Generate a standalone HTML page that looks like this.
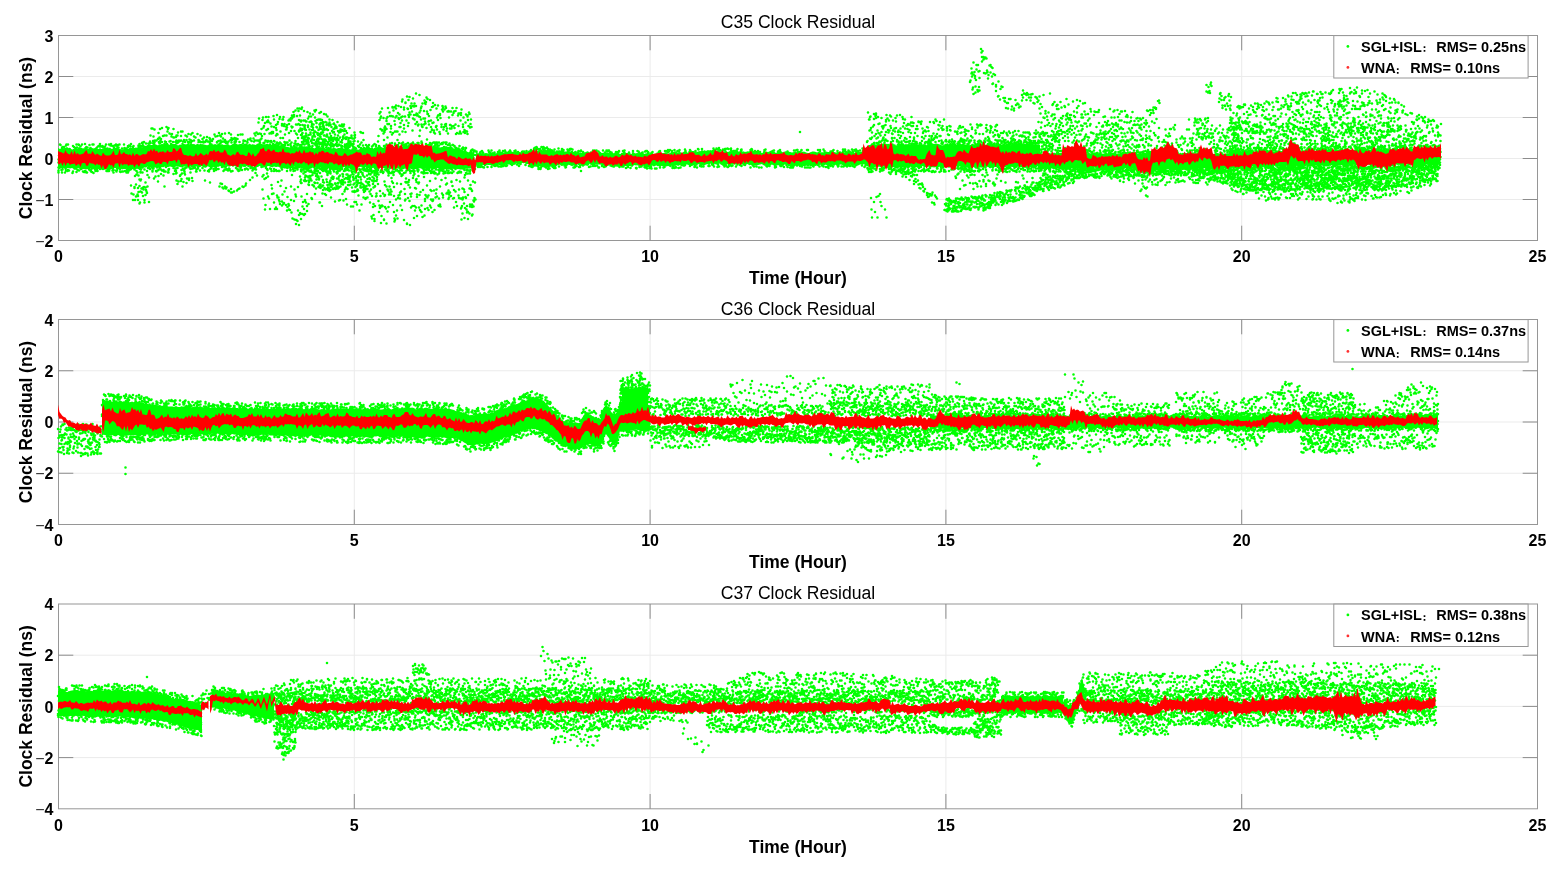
<!DOCTYPE html>
<html><head><meta charset="utf-8"><title>Clock Residual</title><style>
*{margin:0;padding:0}
html,body{width:1558px;height:871px;overflow:hidden;background:#fff}
svg{display:block}
text{fill:#000}
.tl{font:bold 16px 'Liberation Sans','Noto Sans CJK SC',sans-serif}
.ti{font:17.6px 'Liberation Sans','Noto Sans CJK SC',sans-serif}
.xl{font:bold 17.5px 'Liberation Sans','Noto Sans CJK SC',sans-serif}
.mn{font-weight:normal;fill:#333}
.cc{font:bold 10.5px 'IPAGothic','Noto Sans CJK JP',sans-serif}
.lg{font:bold 14.5px 'Liberation Sans','Noto Sans CJK SC',sans-serif}
</style></head>
<body><svg width="1558" height="871" viewBox="0 0 1558 871">
<rect width="1558" height="871" fill="#fff"/>
<path d="M354.3 35.5V240.5M650.1 35.5V240.5M945.9 35.5V240.5M1241.7 35.5V240.5M58.5 76.50H1537.5M58.5 117.50H1537.5M58.5 158.50H1537.5M58.5 199.50H1537.5" stroke="#ebebeb" stroke-width="1" fill="none"/>
<rect x="58.5" y="35.5" width="1479.0" height="205.0" fill="none" stroke="#969696" stroke-width="1"/>
<path d="M354.3 240.5v-14.8M354.3 35.5v14.8M650.1 240.5v-14.8M650.1 35.5v14.8M945.9 240.5v-14.8M945.9 35.5v14.8M1241.7 240.5v-14.8M1241.7 35.5v14.8M58.5 76.50h14.8M1537.5 76.50h-14.8M58.5 117.50h14.8M1537.5 117.50h-14.8M58.5 158.50h14.8M1537.5 158.50h-14.8M58.5 199.50h14.8M1537.5 199.50h-14.8" stroke="#8c8c8c" stroke-width="1" fill="none"/>
<path transform="scale(.5)" d="M116 296l4 2 4-2 4 1 4-2 4 2 4 0 4 2 4 0 4-2 4 1 4-2 4 0 4 3 4-4 4 3 4-3 4 1 4 1 4-1 4 2 4 0 4 0 4 0 4-3 4 2 4-2 4 4 4-4 4 2 4-1 4 2 4 1 4-1 4-2 4 2 4-3 4 1 4 0 4-1 4 1 4-3 4 2 4-4 4 1 4-3 4 1 4 0 4-2 4 1 4 2 4-2 4-1 4 1 4 1 4-1 4 1 4-2 4 0 4 0 4 3 4-2 4 1 4 1 4-2 4 1 4 0 4-1 4-1 4 2 4-1 4 1 4-1 4 0 4 1 4 1 4-1 4-1 4 0 4 1 4-2 4 3 4-3 4 3 4-2 4-1 4 3 4-2 4-1 4 0 4 1 4-1 4 0 4 2 4-1 4 1 4-1 4 1 4-1 4 1 4-1 4 1 4-1 4 0 4 0 4 0 4 3 4-3 4 1 4 0 4 0 4 1 4 0 4 0 4 3 4 0 4 1 4-3 4 3 4-3 4 3 4-3 4 1 4 0 4 2 4 0 4 1 4-3 4 4 4-2 4 1 4-2 4 1 4 0 4 3 4-1 4 1 4-1 4-2 4 4 4-3 4 0 4 1 4 0 4 3 4-1 4 0 4 1 4-2 4 1 4 0 0 37-4-1-4 2-4-2-4 2-4-3-4 1-4-1-4 2-4-1-4 1-4 1-4 0-4 0-4-1-4 0-4-1-4 1-4 0-4-2-4 1-4 0-4 2-4-4-4 4-4-1-4 0-4-1-4 2-4-3-4 1-4 1-4-3-4 3-4 0-4-1-4 1-4 1-4-2-4 0-4-2-4 1-4-1-4 2-4-3-4 0-4 1-4 1-4-3-4 0-4 3-4 0-4-3-4 0-4 2-4-2-4 2-4 1-4-1-4 1-4 1-4-2-4-1-4-1-4 2-4 0-4-2-4 1-4 0-4-1-4 2-4 2-4 0-4-3-4 0-4 0-4 2-4 1-4-3-4 2-4-1-4 0-4 2-4 0-4-3-4 2-4-1-4 0-4 2-4-1-4-1-4 0-4 2-4-1-4-1-4 1-4 0-4-1-4 1-4 2-4-2-4 1-4-1-4 2-4-3-4 0-4 2-4 0-4 0-4 0-4 2-4 1-4 1-4-1-4 0-4-1-4 1-4 0-4 1-4-3-4-1-4 1-4 0-4 3-4-3-4 3-4-1-4 0-4-2-4 0-4 3-4-2-4 1-4 1-4-3-4 2-4 1-4-1-4 1-4-4-4 1-4 0-4 1-4-1-4 1-4-1-4 1-4-1-4 0-4 0-4-1zM716 300l4-2 4 0 4 0 4 1 4-2 4 1 4 0 4-1 4-2 4-1 4 1 4 1 4-1 4 0 4 1 4-1 4 1 4-2 4 1 4-2 4 2 4-2 4 1 4 0 4 0 4 1 4 0 4 1 4-3 4 2 4-1 4 1 4-2 4 1 4 2 4-3 4 3 4-3 4-1 4 2 4 1 4-1 4 0 4-2 4 2 4 0 4 2 4 1 4 0 4 0 4 2 4 0 4 3 4 0 4 3 4-2 4 3 4-1 0 33-4-2-4 1-4 0-4 0-4 3-4-1-4 0-4-2-4 1-4 0-4-1-4 2-4-1-4 0-4 0-4 2-4 0-4-4-4 1-4 2-4-1-4-1-4 2-4-2-4 1-4 0-4-2-4 2-4 0-4 0-4 1-4-2-4 1-4 0-4-2-4 0-4 2-4-1-4 0-4-1-4 0-4 3-4-4-4 1-4 0-4 1-4-2-4 2-4-1-4-1-4 1-4 1-4-1-4-2-4 1-4-1-4-1-4-1zM952 306l4 1 4 2 4-4 4 3 4-2 4 2 4-1 4-3 4 1 4 2 4-3 4 1 4 0 4 0 4-1 4-1 4 3 4-2 4 0 4-1 4 1 4 1 4-2 4-1 4 3 4-3 4 0 4-1 4-2 4 2 4 0 4-3 4 2 4 1 4 0 4-2 4 0 4 2 4 1 4 2 4-2 4-1 4 0 4 2 4 0 4 0 4 0 4 1 4 0 4 1 4-3 4 4 4 0 4 1 4-3 4 0 4 3 4 0 4 0 4-1 4 0 4 1 4-1 4 0 4 0 4-1 4 1 4-1 4 2 4-1 4-1 4 3 4 0 4-3 4 1 4 0 4 1 4 1 4-1 4 0 4-1 4 1 4 1 4 0 4-1 4 2 4 0 4-3 4 2 4-1 4 0 4 0 4-1 4 0 4 0 4 2 4-1 4-2 4-2 4 1 4 1 4-1 4 2 4-3 4 0 4 3 4-2 4-2 4 0 4 3 4-2 4-1 4 1 4 0 4-1 4-1 4 0 4 0 4-1 4 3 4-2 4 2 4 0 4 1 4-1 4 1 4-2 4 2 4-2 4-1 4 2 4 1 4-1 4 0 4 2 4 0 4-2 4 1 4 0 4 0 4 1 4 0 4 1 4 0 4-3 4 1 4 0 4 0 4-1 4 3 4-3 4 1 4 0 4 1 4 0 4-2 4 1 4 1 4-1 4-1 4 4 4-2 4-1 4-1 4 2 4 1 4 0 4-3 4 0 4 1 4 2 4-2 4 2 4-2 4-1 4 1 4 0 4 0 4 0 4 1 4-1 4 2 4-2 4 2 4-3 4 0 4-1 4 2 4 2 4-2 4-1 4 1 4-1 0 26-4 0-4 2-4 1-4-3-4 3-4-3-4 2-4-1-4 2-4-3-4 0-4 3-4-3-4 3-4-3-4 1-4 2-4-3-4 2-4 0-4-2-4 0-4 3-4-1-4 1-4 0-4-2-4 0-4 2-4-1-4-1-4 0-4 2-4-3-4 3-4 0-4 0-4-3-4 0-4 2-4 1-4-2-4 0-4 1-4-2-4 2-4 0-4-3-4 3-4-3-4 1-4 1-4 1-4 0-4 0-4-2-4-1-4 1-4 2-4-3-4-1-4 1-4 1-4 0-4 0-4 2-4-3-4 2-4 0-4 0-4-3-4 1-4 1-4-2-4 0-4 0-4 0-4 2-4-2-4 3-4 0-4-2-4 1-4 1-4 2-4 0-4-3-4 0-4 1-4-1-4 1-4 2-4-3-4 4-4-3-4 3-4-1-4 1-4 0-4-3-4 4-4-3-4 0-4 2-4-2-4 3-4 0-4 0-4-2-4-2-4 2-4-2-4 1-4-1-4 3-4-1-4 0-4 0-4 0-4 1-4-3-4 0-4 2-4-1-4-3-4 1-4 3-4-2-4 2-4-2-4-1-4 0-4 0-4 2-4-1-4-3-4 4-4 0-4-3-4 2-4-2-4 0-4 4-4-1-4 1-4-2-4-1-4 0-4 1-4 2-4-3-4 1-4 3-4 0-4 0-4 0-4 0-4-1-4 1-4 0-4-1-4 0-4-1-4 2-4-3-4 0-4-2-4 0-4-3-4 1-4 3-4-2-4 0-4 2-4 1-4-1-4 0-4-2-4 3-4-1-4 2-4-2-4 1-4 0-4 2-4-2-4 0-4-2-4 1-4 0-4 0-4 3-4-1zM1724 304l4-4 4 0 4-9 4-1 4-2 4 1 4 1 4-2 4 0 4 2 4-2 4 2 4 0 4-1 4-1 4 3 4 0 4-1 4-2 4 1 4 0 4 0 4 0 4 0 4-1 4 1 4-1 4 2 4 0 4 0 4-2 4 2 4 1 4-3 4 0 4 3 4 0 4-3 4 1 4 2 4-1 4 1 4-1 4 0 4 1 4-1 4 0 4-2 4 2 4 2 4-3 4 0 4 2 4-1 4-1 4 1 4 2 4-1 4-2 4-1 4 0 4 2 4-1 4 1 4-2 4 0 4 1 4 0 4 0 4 1 4 1 4-3 4 0 4 3 4-3 4 0 4 0 4 3 4 0 4-1 4-2 4 0 4 3 4-3 4 0 4 2 4-1 4 0 4 1 0 43-4-1-4 3-4-2-4 1-4 0-4 1-4 1-4-3-4 1-4 1-4-2-4 3-4-1-4-2-4 1-4-1-4 1-4 1-4 1-4-3-4 3-4-2-4 0-4 0-4 1-4-1-4-1-4 3-4-1-4 0-4 1-4 0-4-2-4 0-4 0-4 2-4-3-4 1-4-1-4-1-4 4-4-4-4 1-4 1-4-1-4 1-4-1-4 1-4 1-4-3-4 1-4 1-4 1-4-1-4 1-4-2-4 2-4-3-4 0-4 0-4 4-4-2-4 1-4 0-4-2-4 0-4 3-4-1-4-1-4 1-4 0-4 1-4-2-4 1-4 0-4 1-4-2-4-1-4 2-4-1-4-2-4 1-4 2-4 0-4 1-4-3-4-2-4-3-4 2zM2080 306l4 2 4-1 4-1 4 0 4 1 4 0 4-2 4 2 4-1 4 0 4 0 4 2 4-1 4 0 4 0 4-2 4 1 4 0 4 1 4 1 4 0 4 0 4 0 4-1 4 0 4 0 4-1 4 0 4 2 4-3 4 2 4 1 4-3 4 2 4 1 4-3 4 1 4 1 4 0 4 1 4-3 4 2 4 0 4 0 4 0 4 0 4 1 4-1 4 1 4-3 4 2 4-2 4 1 4 1 4-2 4 3 4 0 4-1 4 1 4-1 4 1 4 0 4-1 4-1 4-1 4 2 4 0 4-1 4 0 4 2 4 0 4-1 4-1 4 2 4-1 4-1 4 1 4 0 4-2 4 2 4 0 4 1 4-1 4-1 4 0 4 1 4 1 4-2 4 0 4 2 4-1 4 1 4-1 4 0 4-2 4 2 4-1 4 2 4-2 4 0 0 31-4 2-4-2-4-2-4 1-4 3-4-1-4 1-4-3-4 3-4-3-4 2-4-2-4 1-4 1-4-1-4 2-4-1-4-2-4 0-4 3-4-2-4-2-4 0-4 4-4 0-4-1-4 0-4 0-4 0-4-1-4 2-4-1-4 0-4-2-4 3-4-1-4 0-4 0-4 1-4-2-4 0-4-1-4 1-4 2-4 0-4-1-4 0-4 1-4-1-4-2-4 2-4 1-4 0-4-2-4 1-4-2-4-1-4 1-4 0-4 2-4-1-4 0-4 1-4 0-4-2-4-1-4 2-4 0-4-1-4 1-4 1-4-2-4-1-4 1-4 1-4-1-4 2-4-2-4 0-4 2-4-1-4-1-4 1-4 0-4 0-4-1-4 0-4 0-4 2-4 0-4-2-4 0-4 3-4-2-4-1-4 2-4 0-4-1-4 2-4 0zM2460 303l4-2 4 0 4 3 4-3 4 0 4 2 4-2 4 0 4 0 4 0 4 0 4 2 4 0 4-3 4 1 4 1 4 2 4-4 4 1 4 0 4 1 4 1 4-1 4-1 4 0 4 2 4-1 4-2 4 2 4 0 4 1 4-4 4 1 4 0 4 2 4-2 4 1 4 0 4-1 4 0 4-2 4 2 4 2 4-1 4 0 4-2 4 2 4 0 4-2 4 3 4-3 4 2 4-1 4-1 4 1 4-1 4 2 4-1 4 1 4-2 4 1 4 0 4-2 4 2 4-1 4-2 4 1 4 3 4-1 4 0 4-3 4 2 4-1 4 2 4-3 4 2 4 0 4 1 4-3 4 3 4-3 4-1 4 1 4 3 4-1 4-2 4 1 4 1 4-2 4-1 4 3 4-1 4-2 4 3 4 0 4-3 4 3 4-2 4 1 4-1 4 0 4 0 4 0 4 0 4-2 0 34-4 0-4 2-4 0-4-3-4 1-4 1-4-2-4 0-4 0-4 2-4-1-4 0-4 2-4-2-4 3-4-4-4 1-4 2-4 1-4-3-4 1-4-1-4 2-4-1-4-1-4 0-4 3-4 0-4 0-4-1-4-2-4 0-4 0-4 1-4 0-4-1-4 3-4-1-4-1-4-1-4 2-4 0-4-2-4 3-4 0-4-3-4 0-4 4-4-3-4 0-4 1-4 2-4 0-4-3-4 1-4 2-4 0-4 0-4-2-4 0-4 2-4-2-4 2-4 0-4 0-4-3-4 2-4 0-4-1-4 2-4 1-4-3-4 2-4 0-4 1-4-3-4 1-4 0-4 2-4 0-4-2-4 2-4-3-4 3-4-2-4-1-4 0-4 2-4 0-4 0-4-2-4 1-4 2-4-1-4 2-4-3-4 0-4 2-4-3-4 3-4 0-4 0-4-1-4 0-4 2z" fill="#00ff00"/>
<path transform="scale(.5)" d="M120 289h0m1 1h0m4 4h0m3 1h0m-4 1h0m-5 10h0m7 2h0m-4 2h0m-4 1h0m5 0h0m-4 0h0m4 4h0m1 2h0m-7 2h0m4 5h0m-4 1h0m10 1h0m-1 0h0m-6 1h0m3 1h0m-4 1h0m7 0h0m-7 2h0m2 1h0m6 0h0m-3 0h0m-2 1h0m-5 2h0m8 1h0m-6 0h0m6 3h0m-2 1h0m-6 1h0m0 3h0m7 1h0m-7 0h0m16-56h0m3 0h0m-3 0h0m-1 2h0m-4 3h0m0 1h0m6 2h0m5 1h0m1 1h0m-10 0h0m9 1h0m-4 0h0m-3 2h0m6 1h0m2 0h0m3 2h0m-14 1h0m5 1h0m9 3h0m-11 0h0m8 2h0m1 1h0m0 1h0m-8 3h0m4 1h0m3 0h0m-5 2h0m8 0h0m-4 2h0m5 0h0m-7 1h0m-8 2h0m15 2h0m-15 0h0m5 0h0m2 1h0m8 1h0m-2 2h0m-10 0h0m0 4h0m-1 2h0m5 3h0m-4 1h0m6 0h0m-3 1h0m-5 3h0m27-56h0m-4 0h0m5 1h0m-12 2h0m2 2h0m6 1h0m-3 1h0m7 1h0m-7 0h0m1 3h0m-4 0h0m0 3h0m6 1h0m1 3h0m-10 1h0m6 1h0m6 2h0m-3 1h0m3 0h0m0 0h0m2 1h0m-11 1h0m3 1h0m-7 1h0m1 0h0m14 4h0m1 1h0m-12 2h0m5 0h0m-2 2h0m-3 0h0m-2 0h0m2 1h0m7 0h0m1 3h0m-10 5h0m13 1h0m-6 1h0m-4 1h0m2 0h0m4 3h0m3 1h0m-12 2h0m7 1h0m-8 2h0m25-58h0m-6 1h0m-3 4h0m12 1h0m2 1h0m-3 0h0m-1 1h0m-4 3h0m2 1h0m2 1h0m-6 1h0m-4 1h0m15 1h0m-6 2h0m-5 1h0m-2 0h0m10 0h0m-10 1h0m1 0h0m9 2h0m-12 2h0m1 0h0m3 1h0m2 0h0m-5 3h0m1 3h0m12 1h0m0 1h0m-14 0h0m5 1h0m7 4h0m-6 1h0m-1 0h0m0 3h0m6 1h0m3 2h0m-11 1h0m5 1h0m-7 3h0m8 4h0m2 1h0m-1 0h0m-5 0h0m5 1h0m-3 0h0m6 1h0m-1 0h0m12-56h0m2 0h0m-8 1h0m2 6h0m11 1h0m-2 2h0m-9 1h0m7 1h0m-5 0h0m-6 1h0m9 1h0m1 0h0m-9 0h0m10 3h0m-10 1h0m4 0h0m6 2h0m-12 0h0m10 3h0m0 1h0m-2 2h0m2 4h0m-7 2h0m9 0h0m-6 1h0m-4 4h0m13 2h0m-5 1h0m-2 0h0m-4 1h0m4 0h0m8 0h0m-13 3h0m9 1h0m-11 1h0m8 1h0m6 2h0m-13 0h0m12 1h0m0 0h0m-9 0h0m-2 1h0m3 0h0m9 2h0m-9 1h0m2 1h0m3 2h0m13-58h0m0 3h0m-3 1h0m8 0h0m-6 1h0m3 0h0m-8 2h0m12 0h0m-6 4h0m0 3h0m5 0h0m3 1h0m-11 1h0m7 0h0m-11 2h0m14 0h0m-15 1h0m4 3h0m8 0h0m-10 2h0m14 1h0m-2 2h0m-1 0h0m-2 2h0m-7 1h0m-2 3h0m3 1h0m-4 4h0m0 0h0m0 1h0m8 1h0m-4 0h0m5 2h0m-1 1h0m1 0h0m-7 1h0m7 0h0m3 0h0m-5 2h0m-1 0h0m-4 2h0m9 1h0m-10 1h0m12 0h0m-6 0h0m-5 4h0m27-54h0m-4 1h0m-6 0h0m9 2h0m-11 2h0m-1 3h0m6 1h0m-4 1h0m4 1h0m9 1h0m-11 2h0m-3 1h0m1 0h0m12 0h0m-14 1h0m10 1h0m-4 1h0m3 0h0m-7 1h0m8 0h0m-8 0h0m2 2h0m9 3h0m1 0h0m-13 0h0m13 1h0m-9 1h0m0 0h0m-1 4h0m8 2h0m0 4h0m1 1h0m-12 4h0m6 2h0m2 0h0m-4 1h0m4 3h0m4 0h0m-2 1h0m-1 1h0m-9 0h0m6 1h0m-1 1h0m4 0h0m-3 3h0m-3 0h0m5 0h0m21-53h0m-7 0h0m4 1h0m-5 1h0m-2 0h0m-4 1h0m10 1h0m2 2h0m-9 1h0m6 1h0m-2 1h0m-1 0h0m4 1h0m-3 0h0m-5 1h0m4 3h0m-1 2h0m1 6h0m1 3h0m3 0h0m-7 4h0m5 1h0m-3 1h0m10 1h0m-2 1h0m-3 1h0m-11 2h0m2 1h0m11 0h0m-12 1h0m4 3h0m9 2h0m-12 2h0m12 0h0m-11 0h0m13 1h0m-1 1h0m-2 0h0m-3 0h0m-8 1h0m1 3h0m7 0h0m-9 1h0m7 0h0m8 2h0m-7 0h0m-6 2h0m21-56h0m8 3h0m-7 4h0m4 1h0m-9 0h0m7 3h0m3 1h0m0 0h0m-2 0h0m0 1h0m-6 6h0m-3 1h0m12 0h0m-9 0h0m-4 0h0m4 1h0m3 0h0m-7 1h0m5 1h0m-1 1h0m10 1h0m-8 5h0m3 1h0m0 0h0m-7 0h0m-1 1h0m6 2h0m-7 2h0m8 2h0m-10 2h0m9 2h0m-9 0h0m2 1h0m5 3h0m-7 3h0m0 0h0m14 1h0m-4 3h0m3 0h0m-7 1h0m-2 0h0m10 1h0m-13 0h0m15 1h0m-3 0h0m9-57h0m-4 3h0m9 1h0m-6 1h0m-5 1h0m10 0h0m-2 4h0m0 1h0m-3 1h0m10 0h0m-6 0h0m1 1h0m5 1h0m-10 1h0m9 0h0m0 0h0m-13 1h0m14 0h0m-9 0h0m-4 0h0m0 3h0m6 0h0m3 1h0m-3 1h0m-4 1h0m3 0h0m6 1h0m-4 0h0m7 1h0m-12 0h0m6 2h0m3 2h0m0 3h0m-6 1h0m6 1h0m-8 0h0m5 1h0m0 2h0m1 6h0m4 2h0m-14 4h0m5 2h0m7 1h0m-8 0h0m-4 2h0m1 0h0m0 0h0m12 11h0m2 17h0m-10 2h0m7 3h0m0 2h0m-6 11h0m4 2h0m-1 11h0m4 0h0m15-115h0m-1 1h0m1 1h0m-6 1h0m-1 3h0m-1 0h0m9 0h0m0 1h0m-6 0h0m1 0h0m1 0h0m-5 2h0m0 0h0m6 3h0m-1 1h0m3 3h0m-11 0h0m0 2h0m12 0h0m-14 0h0m14 3h0m-11 0h0m-2 0h0m6 3h0m5 1h0m-5 3h0m0 1h0m-7 1h0m4 0h0m11 0h0m-1 0h0m-12 0h0m12 2h0m-10 5h0m0 8h0m2 2h0m6 0h0m-1 2h0m2 1h0m-6 0h0m-2 1h0m3 2h0m2 1h0m-9 3h0m8 2h0m-6 1h0m10 0h0m-4 0h0m-8 4h0m4 2h0m5 8h0m-3 0h0m2 2h0m-2 11h0m7 3h0m-10 1h0m7 1h0m4 2h0m-6 4h0m-4 1h0m7 1h0m-9 4h0m1 3h0m10 0h0m-14 1h0m4 7h0m4 5h0m-1 2h0m24-150h0m-2 14h0m-1 12h0m-12 1h0m13 2h0m-4 1h0m-5 0h0m7 4h0m5 2h0m-14 2h0m3 0h0m5 2h0m4 1h0m-3 2h0m-4 0h0m-3 0h0m7 1h0m-7 1h0m-2 1h0m1 0h0m2 0h0m10 2h0m-2 0h0m0 2h0m-5 1h0m2 1h0m5 2h0m-15 1h0m8 2h0m2 1h0m-4 1h0m-2 2h0m-4 0h0m15 1h0m-7 0h0m0 1h0m0 4h0m-3 0h0m8 1h0m-5 1h0m-7 1h0m9 0h0m4 0h0m-7 1h0m-4 3h0m11 2h0m-4 1h0m-2 2h0m4 2h0m-11 1h0m5 3h0m1 8h0m3 5h0m-7 10h0m4 8h0m-7 1h0m3 1h0m1 5h0m1 3h0m1 3h0m-3 4h0m-2 10h0m9 4h0m-9 1h0m16-148h0m4 2h0m8 7h0m-10 7h0m12 2h0m-2 2h0m-1 1h0m-6 3h0m3 0h0m-6 1h0m2 0h0m-3 0h0m13 2h0m-12 0h0m11 0h0m-11 1h0m2 0h0m9 0h0m-12 1h0m13 1h0m-11 2h0m9 4h0m-8 4h0m8 1h0m-5 0h0m0 1h0m1 0h0m-6 1h0m8 0h0m-8 1h0m1 5h0m6 0h0m0 2h0m4 2h0m-13 0h0m9 4h0m1 0h0m4 0h0m-3 1h0m-8 1h0m-3 1h0m7 1h0m1 1h0m7 2h0m-9 1h0m5 1h0m-5 1h0m-2 2h0m1 3h0m7 0h0m-4 4h0m-5 0h0m6 2h0m-9 1h0m14 0h0m-12 1h0m10 3h0m-2 1h0m-10 0h0m7 1h0m1 1h0m-8 0h0m12 9h0m-6 1h0m-3 4h0m8 6h0m17-109h0m-9 2h0m-4 2h0m15 5h0m-6 8h0m4 0h0m-7 1h0m-4 6h0m-1 3h0m9 2h0m2 1h0m-10 0h0m2 0h0m-4 2h0m9 2h0m5 0h0m-2 2h0m3 0h0m-10 1h0m10 0h0m-6 0h0m7 1h0m-1 4h0m-11 0h0m-1 2h0m4 1h0m0 0h0m4 0h0m4 2h0m-5 2h0m-5 5h0m-4 0h0m5 1h0m-2 1h0m6 2h0m-1 1h0m-5 1h0m5 0h0m-6 3h0m7 2h0m3 3h0m0 0h0m2 1h0m-12 1h0m1 1h0m7 1h0m-3 1h0m0 1h0m2 1h0m2 0h0m3 1h0m-13 0h0m6 0h0m-2 2h0m6 2h0m-12 0h0m2 5h0m5 1h0m-3 1h0m7 2h0m-3 0h0m8 2h0m-14 3h0m5 3h0m2 22h0m8-117h0m-1 2h0m11 0h0m-8 9h0m5 1h0m-1 1h0m0 4h0m9 1h0m-4 1h0m-1 0h0m-6 7h0m-2 1h0m13 0h0m-1 1h0m-5 0h0m-4 4h0m3 2h0m1 1h0m-5 2h0m1 1h0m1 0h0m6 1h0m-1 0h0m-9 0h0m1 3h0m4 4h0m-3 0h0m8 2h0m-8 0h0m-1 3h0m8 0h0m-1 0h0m-7 1h0m10 0h0m-11 2h0m10 0h0m0 0h0m-11 2h0m8 0h0m0 0h0m-9 0h0m8 1h0m-4 3h0m5 3h0m-3 2h0m7 2h0m-5 0h0m3 1h0m-9 0h0m4 1h0m-6 1h0m3 0h0m-3 4h0m10 2h0m0 4h0m5 1h0m-2 0h0m-12 1h0m-1 1h0m0 2h0m13 1h0m2 0h0m-15 3h0m15 2h0m-5 1h0m18-85h0m-3 0h0m-6 2h0m-1 6h0m-2 0h0m9 1h0m-9 9h0m5 0h0m4 0h0m6 1h0m-8 0h0m-1 0h0m7 1h0m-11 0h0m2 1h0m-4 0h0m2 2h0m-2 0h0m12 2h0m2 2h0m-4 4h0m4 2h0m-9 0h0m-3 0h0m7 1h0m2 1h0m2 2h0m-3 0h0m0 1h0m-4 0h0m2 2h0m1 0h0m-6 2h0m5 0h0m-1 1h0m-5 0h0m11 2h0m-11 1h0m12 0h0m-9 4h0m5 0h0m-10 1h0m4 2h0m-1 1h0m-3 0h0m4 1h0m9 2h0m1 0h0m-6 2h0m-1 0h0m1 2h0m4 0h0m-6 1h0m-2 1h0m7 1h0m-12 1h0m4 2h0m-1 6h0m11 1h0m-3 3h0m-10 6h0m11 1h0m-3 3h0m-1 2h0m3 6h0m-10 3h0m9 1h0m-5 1h0m10 1h0m-12 4h0m10 5h0m12-105h0m5 1h0m-11 2h0m3 2h0m5 6h0m2 1h0m-8 0h0m-5 0h0m16 2h0m-8 2h0m-6 0h0m9 0h0m-9 0h0m12 1h0m-5 3h0m5 1h0m-7 1h0m-5 1h0m14 1h0m-4 3h0m-9 3h0m-2 3h0m3 1h0m4 1h0m3 1h0m-6 5h0m5 1h0m-4 0h0m-3 0h0m11 1h0m-5 2h0m-7 1h0m-2 0h0m9 3h0m-1 2h0m5 2h0m2 0h0m-11 1h0m0 2h0m7 0h0m2 1h0m-4 1h0m2 1h0m-2 1h0m-5 0h0m2 1h0m1 3h0m4 0h0m0 3h0m-8 0h0m2 0h0m-3 2h0m13 0h0m0 0h0m-2 1h0m-13 3h0m1 2h0m12 2h0m-12 1h0m1 3h0m14 7h0m-10 1h0m4 0h0m0 3h0m-5 6h0m12-100h0m10 2h0m-7 5h0m3 2h0m6 5h0m1 1h0m-10 0h0m11 1h0m-2 2h0m-2 6h0m-10 1h0m3 1h0m0 1h0m2 1h0m1 0h0m3 3h0m-8 1h0m2 0h0m6 2h0m-1 1h0m1 0h0m1 4h0m-11 0h0m15 1h0m-5 1h0m-4 1h0m7 4h0m-9 0h0m5 1h0m-3 2h0m-3 0h0m4 1h0m-7 2h0m4 2h0m0 0h0m-3 1h0m2 1h0m13 0h0m-9 0h0m9 2h0m-7 2h0m-9 2h0m13 1h0m1 1h0m1 1h0m-11 1h0m9 1h0m0 0h0m-10 0h0m9 1h0m-6 1h0m-2 1h0m8 1h0m-11 0h0m8 2h0m7 2h0m-7 2h0m-1 0h0m-7 19h0m16-91h0m13 3h0m-6 1h0m-3 3h0m8 2h0m-1 2h0m3 1h0m-8 0h0m-3 1h0m6 0h0m-9 0h0m6 1h0m-6 5h0m4 1h0m-3 2h0m6 1h0m2 0h0m5 1h0m1 1h0m-12 5h0m2 1h0m-1 0h0m10 0h0m-12 2h0m7 1h0m-2 0h0m-3 1h0m0 0h0m4 0h0m-3 1h0m-4 1h0m2 2h0m9 1h0m-5 3h0m4 2h0m-5 0h0m3 0h0m-3 0h0m9 1h0m-15 1h0m11 2h0m1 1h0m-10 0h0m-2 0h0m1 4h0m10 0h0m3 1h0m-13 2h0m7 1h0m7 1h0m-4 1h0m-5 0h0m4 2h0m-6 3h0m4 5h0m7 1h0m-6 19h0m19-92h0m2 4h0m-12 3h0m1 2h0m6 0h0m-1 1h0m-4 3h0m3 0h0m-7 1h0m2 1h0m1 3h0m3 2h0m8 2h0m-1 0h0m-11 0h0m4 1h0m2 0h0m-7 1h0m8 0h0m-10 0h0m14 2h0m-11 1h0m9 1h0m-7 0h0m2 2h0m-4 1h0m12 1h0m-8 1h0m4 2h0m-6 0h0m8 0h0m-2 2h0m4 1h0m-3 3h0m-5 1h0m-1 0h0m8 1h0m-4 2h0m-4 2h0m7 5h0m-13 2h0m14 1h0m0 0h0m-5 0h0m-1 1h0m4 0h0m0 4h0m-10 2h0m1 0h0m1 1h0m4 1h0m-2 3h0m8 1h0m-3 1h0m-6 0h0m-3 2h0m14 0h0m-16 2h0m12 0h0m-10 1h0m2 22h0m18-99h0m6 2h0m-4 3h0m-5 1h0m7 1h0m4 4h0m-5 4h0m-4 1h0m0 0h0m6 1h0m3 0h0m2 0h0m-5 1h0m-9 0h0m0 1h0m7 1h0m-3 3h0m1 1h0m2 1h0m7 1h0m-9 2h0m-3 2h0m9 0h0m-10 1h0m-2 0h0m12 0h0m-5 2h0m-4 1h0m8 5h0m-1 4h0m-7 0h0m7 1h0m5 0h0m-3 3h0m-6 0h0m-3 1h0m8 1h0m-3 0h0m-2 4h0m-4 0h0m-1 1h0m0 1h0m6 2h0m-3 0h0m1 0h0m7 1h0m3 1h0m-6 5h0m-5 1h0m10 2h0m-3 1h0m-12 2h0m2 2h0m3 0h0m10 4h0m-6 25h0m3 1h0m-5 5h0m6 2h0m2 2h0m11-111h0m-8 1h0m12 2h0m1 7h0m-2 4h0m-11 0h0m2 3h0m5 0h0m-7 1h0m13 1h0m-8 1h0m-3 0h0m10 8h0m-4 1h0m4 2h0m-3 0h0m-3 0h0m-4 3h0m3 2h0m-1 0h0m-5 3h0m15 5h0m-13 1h0m-1 1h0m3 0h0m-5 1h0m12 1h0m3 0h0m1 0h0m-2 2h0m0 1h0m-2 1h0m-6 1h0m7 0h0m-5 1h0m-7 1h0m9 2h0m2 1h0m-5 0h0m-4 0h0m6 2h0m-6 1h0m3 1h0m5 2h0m-7 3h0m-1 0h0m0 1h0m7 3h0m-5 1h0m6 0h0m-10 1h0m2 0h0m5 0h0m-1 1h0m4 0h0m-3 1h0m6 2h0m-12 30h0m3 2h0m-1 2h0m10 1h0m-5 3h0m1 1h0m4 3h0m14-115h0m-7 6h0m3 1h0m-5 1h0m8 0h0m-11 2h0m7 1h0m1 2h0m-1 1h0m8 0h0m-10 0h0m0 4h0m2 1h0m-4 1h0m7 3h0m-3 1h0m-5 1h0m5 1h0m4 1h0m4 1h0m-2 0h0m-10 1h0m-3 1h0m10 0h0m-6 1h0m8 3h0m2 0h0m-11 0h0m12 0h0m-6 1h0m2 2h0m1 0h0m-7 1h0m1 1h0m2 0h0m8 3h0m-12 1h0m-4 2h0m1 5h0m2 1h0m2 3h0m3 0h0m0 2h0m3 0h0m-5 0h0m-4 2h0m10 1h0m-4 0h0m5 2h0m-11 0h0m11 1h0m1 0h0m-6 4h0m4 3h0m-1 0h0m4 2h0m-14 1h0m12 0h0m2 35h0m-2 1h0m-3 3h0m-6 2h0m-4 2h0m17-116h0m4 0h0m2 12h0m3 1h0m-3 0h0m7 1h0m1 2h0m-9 2h0m7 2h0m-3 1h0m5 2h0m-5 0h0m-8 1h0m-1 1h0m6 1h0m8 4h0m-11 1h0m5 0h0m-9 1h0m11 1h0m0 3h0m4 0h0m-9 1h0m-4 0h0m1 1h0m6 1h0m-4 2h0m8 0h0m-11 0h0m2 2h0m6 1h0m3 2h0m-1 0h0m-10 3h0m5 3h0m-4 1h0m10 0h0m-5 0h0m3 1h0m-5 0h0m10 1h0m-13 3h0m9 1h0m-2 3h0m-8 3h0m-1 1h0m12 2h0m-12 0h0m9 1h0m0 1h0m6 0h0m-12 1h0m8 27h0m-1 4h0m-6 2h0m2 1h0m22-107h0m2 4h0m-10 6h0m6 0h0m-11 2h0m4 0h0m10 2h0m-7 1h0m5 1h0m-9 7h0m6 1h0m-7 1h0m-1 0h0m13 1h0m-4 0h0m-5 2h0m-4 1h0m11 3h0m-3 1h0m-6 1h0m7 2h0m-9 1h0m9 0h0m-2 3h0m0 2h0m2 2h0m-3 0h0m6 1h0m0 1h0m-10 1h0m-1 2h0m10 0h0m2 1h0m-8 0h0m-5 0h0m2 2h0m11 1h0m-4 5h0m-4 1h0m8 3h0m-10 1h0m4 0h0m-7 2h0m5 0h0m0 1h0m9 0h0m0 1h0m-6 1h0m-4 1h0m8 0h0m-8 0h0m5 2h0m1 0h0m1 0h0m4 1h0m-7 2h0m6 5h0m-6 9h0m-5 5h0m26-125h0m-8 2h0m7 3h0m-8 5h0m11 7h0m-1 3h0m-4 3h0m-10 7h0m6 2h0m-3 1h0m6 0h0m2 4h0m-1 5h0m-2 2h0m-4 2h0m-3 0h0m5 2h0m0 0h0m1 2h0m7 1h0m1 1h0m-11 2h0m3 0h0m3 1h0m-8 0h0m7 0h0m-7 1h0m2 1h0m2 2h0m2 0h0m2 1h0m3 1h0m-1 1h0m1 1h0m0 0h0m-14 0h0m10 2h0m-4 2h0m8 3h0m2 1h0m-12 1h0m-2 1h0m4 2h0m3 1h0m1 2h0m5 0h0m-2 0h0m-11 1h0m-1 1h0m2 0h0m4 2h0m4 0h0m3 4h0m-9 1h0m4 2h0m-5 3h0m-4 1h0m7 1h0m-5 2h0m-1 1h0m10 0h0m3 1h0m-3 1h0m4 16h0m-13 1h0m11 2h0m0 26h0m2 18h0m10-163h0m-5 0h0m4 7h0m-2 2h0m0 1h0m3 0h0m-7 2h0m11 1h0m2 6h0m-7 5h0m-3 2h0m8 6h0m-2 1h0m4 0h0m-14 1h0m2 13h0m6 1h0m5 0h0m-7 0h0m5 1h0m3 1h0m-8 0h0m-6 1h0m11 4h0m-1 1h0m-5 0h0m5 1h0m-7 0h0m8 1h0m-8 0h0m3 0h0m9 1h0m-7 1h0m4 1h0m-12 0h0m5 6h0m2 1h0m-6 0h0m-1 0h0m7 2h0m-3 1h0m0 1h0m6 0h0m2 2h0m-7 4h0m-4 2h0m8 1h0m0 2h0m-7 1h0m8 3h0m-11 1h0m9 1h0m4 1h0m1 0h0m-9 0h0m10 1h0m-4 2h0m-7 2h0m9 2h0m-12 1h0m3 2h0m0 2h0m8 1h0m2 1h0m-8 0h0m1 2h0m8 2h0m-9 5h0m2 6h0m-4 3h0m-3 2h0m14 12h0m1 18h0m-8 5h0m2 4h0m-7 13h0m9 8h0m-10 1h0m24-189h0m-7 2h0m13 2h0m-1 4h0m-11 1h0m8 5h0m-1 4h0m-3 2h0m-4 4h0m4 2h0m1 4h0m-7 4h0m-2 0h0m2 2h0m8 2h0m1 1h0m-3 2h0m-4 11h0m1 1h0m5 2h0m1 1h0m4 1h0m-13 1h0m5 1h0m6 0h0m-9 1h0m-1 0h0m0 1h0m8 0h0m1 2h0m-6 0h0m-5 2h0m11 1h0m-7 2h0m-1 2h0m2 2h0m3 1h0m-9 0h0m9 8h0m-2 1h0m4 0h0m-3 0h0m-5 1h0m9 2h0m1 1h0m0 0h0m-12 2h0m11 0h0m-5 1h0m-4 1h0m-2 1h0m1 0h0m-1 1h0m10 1h0m-4 2h0m8 1h0m-12 0h0m13 0h0m-13 1h0m-2 1h0m3 1h0m8 1h0m-3 1h0m7 1h0m-12 6h0m4 2h0m1 2h0m4 0h0m1 0h0m-10 0h0m11 0h0m-3 22h0m-12 13h0m3 10h0m7 4h0m3 4h0m-2 0h0m3 5h0m1 3h0m-11 2h0m4 10h0m0 1h0m-2 2h0m4 0h0m13-184h0m-2 5h0m1 0h0m3 9h0m-5 0h0m4 1h0m-2 1h0m8 0h0m-10 1h0m4 1h0m4 1h0m1 0h0m1 2h0m-2 4h0m1 0h0m-12 4h0m9 6h0m-4 7h0m-5 0h0m8 8h0m4 1h0m-13 0h0m15 0h0m-4 2h0m-9 0h0m6 3h0m-3 0h0m5 1h0m-7 1h0m0 2h0m-2 2h0m12 0h0m-6 1h0m4 0h0m-9 4h0m10 0h0m0 1h0m2 3h0m-14 1h0m9 0h0m2 1h0m-10 2h0m15 0h0m-3 0h0m-9 2h0m9 1h0m-7 0h0m-2 1h0m0 1h0m4 0h0m6 1h0m-10 4h0m5 0h0m-3 1h0m9 0h0m-13 2h0m14 0h0m-11 1h0m3 1h0m-6 4h0m5 0h0m2 1h0m2 1h0m0 0h0m-1 3h0m-1 1h0m4 1h0m-9 0h0m-1 1h0m12 0h0m-11 3h0m10 3h0m-11 19h0m-2 11h0m11 4h0m-3 7h0m-4 6h0m10 5h0m-11 9h0m4 3h0m-1 1h0m-7 1h0m7 0h0m5 2h0m-8 1h0m11 3h0m-1 7h0m17-200h0m-4 3h0m1 6h0m-4 1h0m4 2h0m-3 2h0m-3 1h0m2 1h0m-5 2h0m2 2h0m-4 0h0m1 7h0m5 5h0m2 1h0m-1 1h0m5 7h0m-7 0h0m-4 4h0m14 1h0m-13 14h0m12 1h0m-8 3h0m6 2h0m2 0h0m-10 1h0m0 2h0m-5 0h0m12 2h0m0 0h0m-6 1h0m9 2h0m-2 1h0m-1 3h0m-7 4h0m3 0h0m3 1h0m3 0h0m-7 1h0m-5 0h0m5 0h0m3 3h0m5 0h0m-6 0h0m-9 1h0m1 0h0m1 1h0m10 0h0m-5 3h0m2 1h0m2 0h0m-10 2h0m14 1h0m-12 0h0m1 1h0m-4 3h0m7 1h0m-5 1h0m9 4h0m-8 1h0m13 0h0m-6 0h0m-1 6h0m-5 1h0m8 1h0m-2 2h0m-5 1h0m0 1h0m0 1h0m9 0h0m-3 1h0m-3 8h0m-2 23h0m7 6h0m2 10h0m-9 11h0m6 2h0m-11 6h0m1 3h0m0 8h0m2 1h0m3 5h0m2 12h0m4 2h0m3 9h0m12-233h0m-9 2h0m4 0h0m4 1h0m-6 4h0m3 9h0m-6 1h0m4 8h0m2 1h0m7 0h0m-5 0h0m0 2h0m-5 5h0m-5 1h0m3 0h0m5 1h0m5 0h0m-4 7h0m4 1h0m-1 2h0m-3 0h0m1 1h0m-4 0h0m0 2h0m7 3h0m-1 2h0m-10 1h0m8 1h0m3 3h0m1 1h0m-10 2h0m8 0h0m3 1h0m1 2h0m-1 4h0m0 1h0m-3 0h0m3 1h0m-11 3h0m9 0h0m-13 1h0m11 1h0m-3 0h0m-5 1h0m7 1h0m1 1h0m-3 1h0m1 1h0m4 3h0m1 1h0m-5 1h0m-3 3h0m-2 2h0m-2 1h0m-2 1h0m7 2h0m8 1h0m-5 1h0m-3 3h0m6 1h0m0 1h0m-12 1h0m5 1h0m-3 0h0m11 2h0m-9 0h0m-1 1h0m3 2h0m7 0h0m0 0h0m-4 3h0m2 1h0m0 1h0m-12 2h0m15 0h0m-5 2h0m-7 0h0m7 1h0m5 0h0m-12 0h0m10 1h0m0 0h0m-6 0h0m-7 2h0m3 0h0m13 1h0m-1 2h0m0 0h0m-4 0h0m-8 0h0m7 0h0m1 2h0m-1 1h0m1 1h0m4 4h0m-7 6h0m2 6h0m6 2h0m-7 2h0m1 3h0m1 0h0m-7 8h0m-4 19h0m11 0h0m3 11h0m-1 9h0m3 5h0m-12 3h0m4 5h0m1 1h0m4 1h0m-5 0h0m-2 2h0m4 8h0m-9 2h0m2 2h0m3 8h0m10-228h0m7 2h0m5 3h0m-2 6h0m4 0h0m-6 4h0m-6 4h0m3 2h0m9 0h0m0 0h0m-10 0h0m7 1h0m4 0h0m1 5h0m-8 2h0m-6 0h0m-1 0h0m14 2h0m-7 1h0m-7 0h0m1 3h0m0 2h0m9 0h0m-7 1h0m12 0h0m-3 5h0m0 1h0m-9 1h0m9 2h0m-4 1h0m-5 1h0m-3 2h0m1 1h0m5 1h0m3 2h0m-8 1h0m5 1h0m8 1h0m-13 1h0m4 0h0m8 1h0m-10 0h0m-2 0h0m6 0h0m-4 1h0m2 0h0m0 1h0m1 1h0m2 0h0m7 1h0m-11 1h0m2 0h0m2 1h0m-8 1h0m9 1h0m-1 1h0m3 2h0m-4 2h0m-7 0h0m4 0h0m5 1h0m-1 1h0m-2 1h0m9 0h0m-5 2h0m0 0h0m5 1h0m-16 1h0m8 2h0m8 2h0m-9 2h0m4 0h0m-1 3h0m-6 0h0m-1 0h0m-2 2h0m11 2h0m-8 1h0m11 2h0m-4 1h0m4 0h0m-9 6h0m-5 1h0m11 1h0m-12 0h0m6 0h0m4 0h0m-5 2h0m2 0h0m6 0h0m0 1h0m-8 1h0m-1 1h0m11 1h0m-1 1h0m1 0h0m-8 1h0m6 0h0m-4 1h0m-6 0h0m2 0h0m-3 0h0m0 1h0m2 0h0m5 1h0m-3 0h0m-1 1h0m9 2h0m-7 0h0m0 0h0m4 1h0m4 1h0m-14 0h0m10 0h0m-8 1h0m12 0h0m-12 7h0m8 1h0m2 0h0m-9 0h0m3 1h0m2 2h0m-7 0h0m11 2h0m0 1h0m0 2h0m-11 0h0m13 1h0m-6 0h0m-5 1h0m-3 0h0m9 2h0m-1 5h0m1 1h0m-4 18h0m9 8h0m-13 4h0m0 2h0m2 3h0m5 3h0m-3 4h0m0 10h0m-4 6h0m-2 2h0m24-210h0m-3 1h0m1 2h0m9 3h0m-13 3h0m4 6h0m9 4h0m-2 0h0m-3 1h0m-3 2h0m2 4h0m-9 2h0m3 1h0m13 0h0m-1 0h0m-14 0h0m15 5h0m-7 0h0m-7 1h0m8 0h0m5 3h0m-13 1h0m11 1h0m-7 3h0m-1 0h0m2 1h0m4 2h0m-8 0h0m8 2h0m3 0h0m-10 1h0m0 1h0m8 0h0m-8 0h0m2 3h0m-5 0h0m0 2h0m11 2h0m2 1h0m-14 1h0m10 0h0m-6 1h0m7 0h0m1 0h0m1 3h0m-4 0h0m4 1h0m-5 0h0m-8 1h0m0 1h0m8 1h0m5 0h0m-9 0h0m7 1h0m5 0h0m-8 0h0m-1 2h0m1 1h0m-7 1h0m10 1h0m3 0h0m-2 1h0m-2 1h0m0 0h0m-8 4h0m1 1h0m7 2h0m-6 0h0m7 2h0m-4 0h0m-2 0h0m6 1h0m-8 1h0m11 1h0m-11 4h0m3 0h0m1 1h0m2 1h0m-2 1h0m5 0h0m-8 1h0m11 2h0m-10 1h0m-4 0h0m10 1h0m-7 1h0m-2 1h0m7 0h0m0 0h0m-8 1h0m4 1h0m-2 2h0m6 1h0m1 0h0m-10 1h0m12 1h0m-10 0h0m3 1h0m-1 0h0m9 2h0m1 0h0m1 0h0m0 1h0m-3 1h0m3 0h0m-11 1h0m9 0h0m-3 2h0m-2 1h0m-2 0h0m4 0h0m5 0h0m-8 3h0m-2 1h0m7 1h0m-4 0h0m4 1h0m-11 2h0m3 0h0m12 1h0m-11 0h0m2 1h0m3 1h0m-9 2h0m9 1h0m-2 1h0m5 1h0m-2 1h0m3 3h0m0 2h0m-5 0h0m-4 6h0m1 1h0m5 0h0m-10 4h0m14 1h0m-12 0h0m1 2h0m9 1h0m-5 3h0m-2 11h0m-6 10h0m15 7h0m3-181h0m6 4h0m4 1h0m3 4h0m-14 6h0m0 1h0m3 0h0m2 4h0m5 0h0m-4 1h0m6 0h0m-11 1h0m4 0h0m-6 1h0m15 2h0m-9 0h0m7 1h0m-6 2h0m-2 1h0m3 2h0m-5 3h0m5 0h0m5 0h0m1 1h0m-5 1h0m6 0h0m-7 0h0m-2 1h0m0 4h0m-3 0h0m-1 1h0m-1 2h0m2 0h0m11 1h0m-5 2h0m-1 0h0m5 2h0m2 0h0m-15 0h0m1 1h0m2 4h0m7 1h0m-2 0h0m3 1h0m-4 1h0m5 1h0m-2 1h0m-4 0h0m10 1h0m-14 2h0m-1 0h0m4 1h0m3 0h0m-4 1h0m7 0h0m4 1h0m-3 1h0m-5 1h0m7 0h0m-10 1h0m2 2h0m6 1h0m-7 0h0m10 3h0m-12 0h0m-3 2h0m12 1h0m-7 0h0m-4 0h0m13 5h0m-6 1h0m4 0h0m-1 2h0m-5 2h0m3 1h0m7 0h0m-11 1h0m-2 1h0m3 4h0m2 0h0m8 2h0m-15 1h0m4 2h0m-3 1h0m7 1h0m3 1h0m-10 2h0m7 1h0m-2 2h0m6 0h0m1 1h0m-7 2h0m1 0h0m7 0h0m-5 1h0m-6 1h0m7 0h0m3 0h0m-5 1h0m1 0h0m-2 0h0m-7 0h0m0 1h0m6 0h0m-3 0h0m-1 0h0m10 1h0m-2 1h0m-4 0h0m6 0h0m-9 0h0m8 1h0m-3 0h0m3 0h0m0 0h0m0 1h0m-6 0h0m0 0h0m7 2h0m2 4h0m0 2h0m-12 3h0m10 6h0m-7 1h0m8 4h0m-8 0h0m2 1h0m-7 4h0m14 1h0m-15 0h0m6 1h0m-2 2h0m-4 2h0m9 1h0m-8 0h0m13 2h0m-3 1h0m-5 1h0m-1 7h0m5 1h0m2 2h0m-12 15h0m4 7h0m15-173h0m6 1h0m-6 5h0m9 2h0m-1 1h0m-9 0h0m2 1h0m1 0h0m0 1h0m-3 1h0m13 0h0m-8 3h0m7 1h0m0 1h0m-1 1h0m-2 1h0m-11 2h0m8 2h0m4 2h0m-2 1h0m-6 2h0m10 2h0m-8 3h0m7 3h0m-9 0h0m3 1h0m1 0h0m-2 0h0m-4 0h0m7 0h0m-6 1h0m11 1h0m1 0h0m-13 0h0m13 1h0m1 0h0m-10 1h0m4 0h0m-2 1h0m2 1h0m-7 0h0m-3 2h0m6 2h0m-6 0h0m8 1h0m-7 1h0m9 1h0m0 1h0m-6 0h0m9 0h0m-4 1h0m-2 1h0m3 0h0m1 1h0m-5 0h0m-5 3h0m4 1h0m7 2h0m3 0h0m-14 1h0m2 1h0m11 0h0m-14 1h0m10 2h0m6 2h0m-11 0h0m4 1h0m5 4h0m-1 0h0m-3 1h0m4 0h0m-5 0h0m-2 4h0m1 2h0m-1 0h0m-6 0h0m10 1h0m3 0h0m1 1h0m-5 1h0m-4 0h0m-3 5h0m6 0h0m-9 3h0m4 1h0m9 0h0m0 1h0m-11 0h0m13 1h0m-5 0h0m-6 1h0m-1 1h0m0 1h0m11 1h0m0 1h0m-3 0h0m-6 0h0m3 0h0m7 1h0m-11 0h0m9 0h0m-3 1h0m-6 1h0m0 2h0m8 1h0m-11 0h0m4 1h0m-3 1h0m3 2h0m4 6h0m2 1h0m0 2h0m-4 0h0m2 1h0m1 1h0m-5 3h0m-1 2h0m-1 3h0m11 1h0m1 0h0m0 1h0m-8 0h0m-4 1h0m6 1h0m-4 3h0m2 1h0m-7 1h0m13 1h0m-11 1h0m8 1h0m5 0h0m-10 2h0m-5 0h0m3 2h0m3 13h0m8 8h0m5-159h0m9 5h0m-5 2h0m2 1h0m6 0h0m-2 1h0m1 0h0m-13 1h0m0 2h0m8 3h0m3 1h0m-1 1h0m-7 1h0m4 0h0m7 0h0m-9 1h0m1 0h0m2 1h0m-3 1h0m-2 6h0m10 2h0m-6 2h0m6 1h0m-12 0h0m13 1h0m-10 2h0m7 1h0m-7 0h0m-4 1h0m8 3h0m3 1h0m-10 0h0m-2 3h0m6 1h0m-5 0h0m5 1h0m-1 0h0m-1 0h0m6 1h0m-6 0h0m8 1h0m-10 0h0m0 0h0m1 0h0m0 0h0m8 2h0m1 2h0m-1 1h0m-5 2h0m0 0h0m-3 1h0m5 0h0m3 0h0m-9 1h0m13 0h0m-6 2h0m2 0h0m-6 1h0m8 3h0m-4 0h0m7 1h0m-4 1h0m-4 0h0m-3 2h0m-4 3h0m13 1h0m-10 3h0m8 0h0m-11 0h0m15 2h0m-2 1h0m-10 0h0m10 0h0m-6 1h0m-1 1h0m4 5h0m3 0h0m-8 0h0m-5 2h0m2 2h0m7 1h0m-8 1h0m7 1h0m-6 0h0m8 0h0m-9 1h0m5 1h0m5 1h0m-3 1h0m-6 0h0m6 0h0m-1 2h0m-3 1h0m-3 2h0m-1 1h0m2 1h0m-1 1h0m11 1h0m1 1h0m-6 2h0m6 2h0m-8 0h0m-1 4h0m-3 0h0m10 3h0m-5 1h0m5 0h0m-2 1h0m4 0h0m0 3h0m-5 0h0m4 1h0m-9 0h0m0 1h0m7 1h0m3 1h0m-13 3h0m3 1h0m5 0h0m-3 2h0m-1 0h0m-4 1h0m3 1h0m-2 0h0m11 11h0m-5 12h0m7 1h0m-9 0h0m10-152h0m11 7h0m-10 2h0m-1 4h0m4 0h0m2 4h0m-5 3h0m14 2h0m0 3h0m-9 1h0m-3 0h0m2 0h0m5 1h0m4 0h0m-10 2h0m5 2h0m0 1h0m4 2h0m-4 0h0m0 2h0m5 2h0m-2 0h0m3 1h0m0 0h0m-9 0h0m2 0h0m-6 1h0m14 0h0m-8 1h0m-1 1h0m6 0h0m-11 1h0m9 0h0m-7 0h0m-3 1h0m1 1h0m9 0h0m-7 0h0m-2 1h0m5 1h0m-4 0h0m5 0h0m-1 2h0m-1 2h0m-4 0h0m1 0h0m3 1h0m5 0h0m4 1h0m-12 0h0m5 0h0m4 1h0m3 1h0m-6 0h0m-7 2h0m3 0h0m4 1h0m1 0h0m-5 1h0m8 4h0m2 1h0m-10 0h0m5 1h0m-4 2h0m0 1h0m8 2h0m-13 0h0m1 1h0m1 3h0m10 4h0m-2 1h0m-8 3h0m6 1h0m-4 0h0m5 0h0m5 1h0m-2 0h0m-4 1h0m-5 0h0m6 0h0m3 1h0m1 0h0m0 2h0m-7 0h0m-2 1h0m-3 0h0m3 1h0m-3 1h0m6 0h0m-7 1h0m9 0h0m-7 0h0m12 1h0m-15 0h0m16 2h0m-9 5h0m-2 0h0m8 2h0m-2 1h0m-2 1h0m3 1h0m-2 1h0m-2 0h0m-4 1h0m7 1h0m-10 1h0m6 0h0m4 2h0m2 3h0m-4 1h0m-7 1h0m11 4h0m-5 1h0m3 0h0m-7 5h0m12 0h0m-9 3h0m-5 1h0m-1 4h0m3 15h0m2 11h0m8 4h0m7-148h0m1 5h0m-1 1h0m1 4h0m-2 2h0m-3 0h0m4 5h0m-2 1h0m9 0h0m-9 5h0m-2 1h0m15 0h0m-4 3h0m-10 1h0m12 1h0m-9 1h0m-2 1h0m1 1h0m4 0h0m-7 2h0m0 1h0m1 1h0m4 0h0m1 0h0m1 1h0m6 0h0m2 1h0m-13 2h0m0 0h0m-1 0h0m12 1h0m-4 2h0m-2 3h0m-3 0h0m4 1h0m4 2h0m-2 1h0m-1 1h0m1 0h0m0 1h0m-11 0h0m16 0h0m-12 1h0m9 3h0m-3 0h0m0 2h0m3 1h0m-12 0h0m3 2h0m11 3h0m-4 1h0m0 0h0m0 2h0m2 0h0m-10 1h0m-2 1h0m9 1h0m-8 1h0m4 2h0m9 0h0m-13 0h0m8 1h0m-4 1h0m3 0h0m7 1h0m-12 2h0m3 2h0m6 1h0m-12 2h0m12 0h0m-10 1h0m9 2h0m-1 1h0m-3 1h0m6 1h0m-12 0h0m6 1h0m0 1h0m-4 1h0m-1 1h0m0 2h0m6 1h0m3 0h0m-3 3h0m3 1h0m2 1h0m-9 1h0m5 2h0m-7 0h0m7 2h0m-1 1h0m-2 2h0m4 5h0m1 2h0m-7 1h0m5 0h0m-9 1h0m6 0h0m-2 1h0m8 7h0m-5 13h0m-3 0h0m5 5h0m-8 4h0m13 8h0m2-157h0m1 1h0m4 1h0m1 14h0m-4 5h0m9 5h0m-6 1h0m9 2h0m1 0h0m-2 2h0m-6 1h0m-6 0h0m8 1h0m-7 0h0m9 1h0m-5 1h0m2 3h0m-3 0h0m-1 3h0m0 0h0m-2 2h0m11 0h0m0 1h0m-3 0h0m2 2h0m-10 5h0m-1 1h0m5 1h0m-2 0h0m6 1h0m-1 2h0m-4 2h0m2 2h0m6 0h0m-6 0h0m-6 1h0m-1 1h0m0 2h0m3 0h0m-2 1h0m-1 2h0m13 3h0m-6 1h0m6 2h0m-9 0h0m2 2h0m4 0h0m-1 1h0m-3 0h0m-6 0h0m15 1h0m-6 0h0m-1 0h0m4 1h0m-11 2h0m3 2h0m0 2h0m9 3h0m-8 0h0m-5 3h0m8 0h0m6 4h0m-13 1h0m10 4h0m3 2h0m-13 0h0m0 2h0m14 0h0m-11 1h0m3 3h0m5 1h0m-12 0h0m6 1h0m0 0h0m2 1h0m2 0h0m-10 1h0m2 0h0m5 1h0m1 1h0m6 1h0m-3 0h0m-5 2h0m3 2h0m-2 2h0m7 11h0m-8 0h0m5 1h0m-1 2h0m-8 11h0m26-121h0m-11 2h0m14 0h0m-14 0h0m8 1h0m-2 2h0m-7 2h0m-1 2h0m4 1h0m10 0h0m-6 0h0m7 1h0m0 1h0m-10 3h0m7 3h0m-2 1h0m-8 1h0m4 1h0m-1 2h0m6 0h0m4 1h0m-8 0h0m8 2h0m-2 1h0m-3 0h0m0 0h0m-7 2h0m5 0h0m-2 2h0m4 0h0m0 1h0m-6 3h0m3 3h0m-2 1h0m-4 1h0m7 0h0m5 0h0m-3 5h0m-10 0h0m4 2h0m10 1h0m-8 2h0m-4 1h0m2 1h0m-2 0h0m4 0h0m10 0h0m-1 1h0m-8 0h0m5 1h0m-8 0h0m0 0h0m4 1h0m7 0h0m-14 0h0m12 1h0m-5 1h0m5 2h0m-11 1h0m3 0h0m0 1h0m8 1h0m2 1h0m-6 3h0m-6 2h0m9 1h0m-8 1h0m4 3h0m5 1h0m-2 0h0m0 1h0m-9 1h0m-1 2h0m9 2h0m-8 2h0m1 1h0m11 1h0m0 1h0m-3 2h0m-5 4h0m-3 4h0m2 5h0m3 4h0m8 1h0m-12 12h0m7 3h0m3 4h0m-4 2h0m1 16h0m-4 3h0m1 4h0m5 1h0m0 4h0m15-225h0m-3 7h0m-2 3h0m3 6h0m5 3h0m-6 0h0m-2 4h0m2 18h0m4 2h0m-1 1h0m1 0h0m2 6h0m-10 5h0m11 8h0m-12 3h0m2 9h0m-6 1h0m7 0h0m0 1h0m-2 3h0m6 0h0m-1 0h0m-3 1h0m7 1h0m-4 1h0m1 1h0m4 0h0m-8 2h0m6 1h0m-7 3h0m9 1h0m-10 6h0m8 1h0m2 0h0m-12 0h0m-2 5h0m5 1h0m-1 1h0m8 2h0m3 1h0m-15 1h0m9 2h0m4 1h0m-7 2h0m2 1h0m-7 0h0m7 1h0m-1 1h0m-4 1h0m-4 3h0m2 1h0m0 1h0m2 0h0m-3 1h0m10 0h0m1 0h0m-2 0h0m-8 2h0m10 0h0m-3 1h0m-8 0h0m14 0h0m-12 1h0m11 1h0m-12 1h0m0 1h0m3 1h0m-3 5h0m0 5h0m-1 3h0m3 6h0m4 14h0m-7 5h0m13 0h0m-5 5h0m-8 0h0m4 10h0m2 9h0m5 0h0m1 1h0m-2 1h0m-3 3h0m-2 8h0m5 8h0m5 7h0m0 1h0m-6 6h0m14-230h0m3 9h0m4 7h0m-3 0h0m-5 2h0m-2 3h0m0 5h0m5 6h0m-3 0h0m7 4h0m-12 1h0m1 3h0m-2 0h0m13 1h0m-12 0h0m3 1h0m-3 2h0m11 4h0m-12 0h0m15 5h0m-9 6h0m5 12h0m-7 2h0m6 2h0m-1 0h0m-9 1h0m-1 0h0m14 0h0m0 1h0m-3 0h0m-9 1h0m12 1h0m-2 1h0m-9 1h0m-1 1h0m6 0h0m7 0h0m-12 1h0m-1 0h0m10 0h0m-6 2h0m-4 0h0m3 2h0m10 6h0m-1 1h0m-11 6h0m9 1h0m-3 0h0m5 2h0m-11 1h0m6 0h0m-4 1h0m9 2h0m-7 0h0m6 0h0m2 1h0m-9 2h0m5 3h0m-10 4h0m3 1h0m1 2h0m2 0h0m-1 0h0m-4 3h0m7 1h0m-4 1h0m2 2h0m3 1h0m0 0h0m2 2h0m-3 0h0m5 0h0m1 0h0m-6 5h0m6 5h0m-14 7h0m1 7h0m9 3h0m-6 0h0m8 6h0m-6 0h0m1 2h0m7 2h0m-4 2h0m3 4h0m-4 0h0m-8 1h0m-1 2h0m11 12h0m-3 10h0m-7 0h0m2 3h0m3 6h0m-2 24h0m19-236h0m5 1h0m-12 2h0m5 0h0m-5 1h0m2 0h0m5 2h0m-5 4h0m9 5h0m3 3h0m-6 3h0m-7 1h0m5 2h0m6 1h0m1 2h0m-9 4h0m1 7h0m9 5h0m-9 9h0m5 0h0m-2 0h0m-7 3h0m13 3h0m-4 11h0m3 6h0m-14 0h0m6 1h0m0 3h0m6 0h0m-1 2h0m-2 0h0m0 1h0m-7 1h0m13 0h0m-9 2h0m6 3h0m-10 1h0m4 0h0m5 2h0m4 0h0m-2 3h0m1 0h0m-9 1h0m-4 2h0m10 0h0m2 0h0m-2 2h0m-6 4h0m5 5h0m-10 0h0m3 0h0m2 2h0m5 1h0m0 1h0m-8 2h0m14 0h0m-14 2h0m4 1h0m-1 0h0m-1 2h0m10 0h0m-5 1h0m-6 0h0m10 0h0m-5 3h0m8 2h0m-10 1h0m-2 1h0m6 2h0m-1 1h0m-1 0h0m6 1h0m1 0h0m-2 1h0m-12 0h0m3 1h0m11 1h0m-12 0h0m0 5h0m-3 13h0m2 3h0m8 1h0m-6 7h0m12 11h0m-1 5h0m-2 1h0m-9 1h0m8 4h0m-4 3h0m-6 11h0m8 11h0m-6 3h0m4 7h0m-3 6h0m6 0h0m-5 3h0m-1 3h0m25-250h0m-9 6h0m-1 4h0m7 2h0m0 1h0m-9 8h0m6 1h0m7 2h0m1 1h0m-8 1h0m2 14h0m-5 0h0m-3 2h0m11 6h0m-9 0h0m9 0h0m-12 5h0m7 4h0m8 2h0m-15 2h0m7 3h0m-3 6h0m6 1h0m-5 21h0m10 1h0m-11 0h0m-2 1h0m10 1h0m-1 1h0m-2 0h0m-4 1h0m1 2h0m2 0h0m4 1h0m-6 0h0m6 2h0m-9 2h0m-2 1h0m7 1h0m-7 2h0m11 2h0m1 1h0m-8 0h0m-1 3h0m1 1h0m6 1h0m2 1h0m-11 0h0m-2 0h0m9 0h0m-8 1h0m6 0h0m-8 0h0m10 1h0m0 1h0m0 2h0m-6 1h0m5 0h0m6 4h0m0 2h0m-15 1h0m1 1h0m10 0h0m-9 1h0m10 1h0m-12 1h0m9 1h0m-6 1h0m5 4h0m6 0h0m-5 1h0m-6 2h0m4 0h0m8 4h0m-14 0h0m3 1h0m9 0h0m-2 4h0m-3 1h0m-8 1h0m4 2h0m1 1h0m-2 2h0m9 5h0m2 7h0m-3 0h0m1 1h0m3 0h0m-13 3h0m7 10h0m-7 5h0m8 5h0m6 8h0m-16 1h0m11 2h0m-1 2h0m-9 10h0m3 9h0m4 20h0m6 7h0m0 1h0m18-261h0m-13 7h0m7 3h0m-9 3h0m12 7h0m-6 0h0m3 5h0m-5 0h0m11 0h0m-4 0h0m-6 1h0m6 0h0m-6 3h0m2 7h0m-5 2h0m2 4h0m7 1h0m-11 0h0m1 4h0m8 3h0m3 2h0m-12 7h0m14 2h0m-6 13h0m1 24h0m0 1h0m-2 1h0m-3 1h0m9 1h0m-10 1h0m-1 0h0m9 1h0m-11 1h0m4 0h0m-3 2h0m3 2h0m-4 3h0m12 0h0m-7 1h0m4 2h0m-6 2h0m-1 0h0m5 6h0m-3 2h0m9 1h0m-9 0h0m5 2h0m-9 0h0m15 0h0m-9 1h0m7 0h0m1 1h0m-8 1h0m-4 2h0m8 2h0m-3 0h0m5 1h0m-3 0h0m5 1h0m-10 0h0m5 2h0m-1 1h0m0 1h0m1 0h0m-10 1h0m2 4h0m11 2h0m-2 1h0m3 0h0m-13 1h0m2 2h0m8 1h0m-6 2h0m-1 0h0m5 0h0m4 0h0m-1 3h0m-7 1h0m8 2h0m-2 3h0m-1 5h0m6 4h0m-14 0h0m-1 4h0m0 6h0m3 5h0m10 1h0m2 1h0m-9 10h0m-2 1h0m1 5h0m-3 9h0m6 10h0m4 0h0m-7 3h0m8 6h0m-2 15h0m-8 14h0m19-260h0m6 17h0m-2 6h0m-1 3h0m-1 5h0m7 1h0m-9 3h0m-6 2h0m1 1h0m1 1h0m-3 1h0m2 1h0m4 2h0m2 1h0m7 3h0m-5 2h0m-8 5h0m14 5h0m-11 0h0m6 0h0m-7 2h0m8 2h0m1 1h0m-5 7h0m-1 11h0m4 11h0m0 3h0m1 0h0m-7 0h0m-2 0h0m2 3h0m7 1h0m1 5h0m2 1h0m-8 0h0m6 1h0m-3 1h0m0 0h0m-10 1h0m13 3h0m2 1h0m-6 0h0m-1 1h0m-5 1h0m6 4h0m4 0h0m-13 1h0m1 1h0m0 0h0m2 1h0m4 1h0m0 0h0m-4 1h0m3 2h0m-6 3h0m10 2h0m-5 2h0m9 1h0m-12 5h0m3 0h0m3 0h0m3 0h0m-6 1h0m4 0h0m5 1h0m-6 0h0m6 1h0m-6 2h0m8 0h0m-15 0h0m-1 1h0m15 3h0m-12 1h0m2 1h0m-2 1h0m1 2h0m7 2h0m1 0h0m3 1h0m0 1h0m-10 5h0m11 2h0m-15 4h0m0 6h0m5 1h0m-1 2h0m9 13h0m-5 4h0m-7 5h0m5 1h0m-5 4h0m9 17h0m-11 4h0m6 0h0m2 5h0m2 3h0m1 1h0m-9 8h0m11 2h0m8-239h0m2 3h0m5 2h0m-11 1h0m3 3h0m-2 2h0m1 2h0m13 6h0m-3 6h0m-7 3h0m1 5h0m1 0h0m2 4h0m-8 5h0m12 4h0m-4 1h0m-8 1h0m7 0h0m-6 4h0m7 2h0m4 5h0m-9 2h0m11 3h0m-3 5h0m-7 15h0m6 7h0m-8 2h0m8 1h0m3 0h0m-6 1h0m3 0h0m-6 1h0m9 1h0m-9 1h0m5 0h0m1 1h0m-9 4h0m-2 2h0m14 2h0m-2 3h0m-8 1h0m5 1h0m-9 2h0m7 1h0m-3 0h0m0 2h0m4 4h0m-6 4h0m6 0h0m-4 0h0m9 1h0m-5 0h0m-5 1h0m-2 1h0m6 1h0m6 1h0m-8 0h0m1 1h0m-6 0h0m10 1h0m0 0h0m4 2h0m-4 1h0m5 2h0m-14 1h0m-1 0h0m7 4h0m-2 0h0m4 1h0m-7 1h0m13 0h0m-11 1h0m5 0h0m2 2h0m-12 0h0m16 2h0m-13 2h0m4 0h0m7 0h0m-2 16h0m-6 9h0m7 9h0m2 2h0m-12 8h0m6 1h0m-4 2h0m2 2h0m-5 3h0m12 1h0m-12 3h0m10 9h0m2 4h0m-7 1h0m-5 2h0m7 2h0m-8 11h0m17-225h0m4 4h0m6 1h0m-10 2h0m7 4h0m7 13h0m-4 1h0m1 0h0m-3 4h0m2 5h0m-9 5h0m-2 1h0m8 6h0m-1 1h0m0 1h0m2 5h0m-10 1h0m4 1h0m11 3h0m-11 1h0m2 2h0m10 1h0m-11 17h0m5 0h0m-7 0h0m5 0h0m6 0h0m-14 2h0m10 0h0m0 0h0m-4 0h0m4 2h0m4 2h0m-8 0h0m5 2h0m-7 0h0m1 3h0m-3 0h0m-1 1h0m14 1h0m-1 1h0m-4 1h0m-9 4h0m11 0h0m-3 2h0m2 3h0m-2 0h0m4 4h0m-12 0h0m5 3h0m9 1h0m-13 0h0m13 1h0m-7 1h0m-8 0h0m2 2h0m2 0h0m-2 0h0m7 1h0m2 3h0m2 0h0m0 1h0m-2 2h0m-4 1h0m8 5h0m-13 0h0m6 1h0m8 2h0m-8 2h0m5 1h0m-9 3h0m11 0h0m-12 3h0m4 0h0m-2 1h0m1 0h0m8 0h0m-3 2h0m-4 8h0m2 22h0m-5 2h0m4 6h0m2 6h0m-3 2h0m7 2h0m-12 2h0m0 2h0m-1 1h0m15 7h0m-3 2h0m1 1h0m-9 8h0m-4 4h0m20-212h0m6 1h0m-5 2h0m6 1h0m-8 3h0m5 0h0m6 4h0m-9 0h0m-6 5h0m1 8h0m11 12h0m-9 1h0m7 0h0m2 3h0m-4 2h0m-5 0h0m11 3h0m-7 2h0m6 3h0m-6 23h0m4 0h0m2 0h0m-9 1h0m0 2h0m-2 0h0m3 0h0m7 0h0m-4 6h0m5 4h0m-5 1h0m2 3h0m0 0h0m2 2h0m-6 1h0m8 1h0m-3 4h0m-10 1h0m6 1h0m8 2h0m-12 0h0m8 1h0m-4 0h0m9 2h0m-15 3h0m11 2h0m-11 1h0m2 1h0m8 1h0m-10 2h0m5 0h0m3 0h0m-6 1h0m5 1h0m7 1h0m-1 1h0m-12 2h0m13 1h0m-4 0h0m2 3h0m-11 1h0m5 0h0m-4 0h0m2 2h0m-4 0h0m13 1h0m-9 1h0m4 1h0m1 1h0m-1 1h0m6 1h0m-5 0h0m-3 1h0m4 9h0m-8 4h0m11 7h0m-2 2h0m-12 4h0m15 12h0m-2 2h0m3 0h0m-12 0h0m2 3h0m0 5h0m-5 18h0m24-197h0m-8 6h0m14 0h0m-3 1h0m-10 0h0m4 0h0m5 3h0m-2 4h0m-7 5h0m13 14h0m-11 1h0m1 0h0m6 2h0m-3 1h0m5 3h0m-6 1h0m-3 0h0m-4 10h0m16 1h0m-13 19h0m7 3h0m-1 0h0m-6 0h0m-3 0h0m4 1h0m9 1h0m0 0h0m0 1h0m2 2h0m-9 0h0m1 1h0m9 1h0m-12 0h0m-2 2h0m3 0h0m4 1h0m1 0h0m5 2h0m-9 0h0m3 4h0m2 1h0m-8 2h0m-2 1h0m14 2h0m-12 0h0m3 5h0m-4 0h0m3 0h0m7 1h0m-10 2h0m10 2h0m-1 1h0m5 3h0m-2 2h0m-8 1h0m1 3h0m6 1h0m0 0h0m-7 4h0m1 1h0m8 0h0m-7 1h0m-7 2h0m0 1h0m10 1h0m-5 2h0m2 1h0m-6 0h0m5 17h0m0 1h0m2 8h0m3 8h0m-11 1h0m14 2h0m-11 2h0m-2 4h0m4 3h0m-4 3h0m10 1h0m-2 1h0m-9 1h0m15 6h0m-4 11h0m5-199h0m0 0h0m10 3h0m-1 7h0m-5 1h0m2 0h0m3 3h0m-6 1h0m11 4h0m-6 6h0m5 8h0m-9 3h0m9 2h0m-6 9h0m7 1h0m-13 2h0m8 1h0m-4 0h0m1 25h0m7 3h0m-12 2h0m10 0h0m-10 0h0m3 0h0m9 1h0m-12 0h0m5 1h0m-4 3h0m0 2h0m1 0h0m0 0h0m8 1h0m-12 0h0m12 4h0m-3 2h0m-4 0h0m10 1h0m-6 1h0m4 2h0m-2 0h0m3 1h0m-13 0h0m12 0h0m-7 3h0m2 1h0m3 2h0m-7 1h0m5 0h0m-8 2h0m1 3h0m12 3h0m1 1h0m-2 1h0m-3 1h0m-2 1h0m0 1h0m-4 0h0m3 7h0m3 1h0m-6 1h0m6 0h0m-4 0h0m-2 0h0m-1 1h0m-2 14h0m7 3h0m5 14h0m3 2h0m-10 0h0m-1 12h0m9 4h0m-8 1h0m8 1h0m-5 0h0m2 0h0m2 2h0m3 8h0m-4 5h0m-10 0h0m9 3h0m-1 2h0m3 10h0m-2 12h0m15-214h0m1 3h0m-7 1h0m3 2h0m0 2h0m7 6h0m-6 1h0m-5 5h0m10 3h0m-4 4h0m6 2h0m-3 1h0m-11 5h0m2 2h0m3 1h0m-4 3h0m5 2h0m-4 28h0m1 0h0m-1 1h0m11 4h0m-12 0h0m11 4h0m2 0h0m-12 0h0m3 1h0m-3 2h0m6 2h0m3 0h0m-6 0h0m-1 2h0m2 0h0m4 1h0m3 1h0m1 1h0m-6 0h0m-2 0h0m2 1h0m5 0h0m2 1h0m-1 2h0m-13 3h0m10 0h0m-7 2h0m1 1h0m4 2h0m-8 0h0m0 1h0m9 3h0m-1 3h0m-4 5h0m-5 1h0m0 0h0m12 0h0m-7 1h0m3 0h0m3 2h0m-8 3h0m8 1h0m-4 0h0m-3 0h0m-3 3h0m-1 5h0m7 6h0m5 9h0m-2 7h0m2 0h0m1 1h0m2 3h0m0 1h0m-15 2h0m7 6h0m-5 4h0m1 2h0m8 13h0m2 3h0m-8 0h0m8 1h0m-2 0h0m4 1h0m-14 2h0m3 3h0m2 4h0m1 1h0m-2 1h0m5 2h0m-10 9h0m7 2h0m9-139h0m-1 1h0m5 1h0m4 2h0m-5 0h0m5 1h0m7 2h0m-14 1h0m14 1h0m-4 1h0m-6 1h0m-3 6h0m11 0h0m-10 5h0m-1 3h0m10 0h0m0 1h0m-11 2h0m7 0h0m1 1h0m5 3h0m-12 0h0m8 1h0m1 0h0m-7 1h0m7 1h0m-12 1h0m6 3h0m-4 25h0m4 2h0m-1 31h0m2 3h0m-4 2h0m1 0h0m0 2h0m-4 6h0m1 2h0m2 2h0m-2 16h0m-1 2h0m20-129h0m-3 2h0m5 1h0m6 4h0m-3 0h0m3 3h0m-8 0h0m12 1h0m-7 1h0m4 0h0m2 1h0m-3 1h0m-9 3h0m-1 3h0m-1 1h0m14 1h0m-9 3h0m7 1h0m-5 0h0m3 0h0m-9 1h0m8 1h0m-7 0h0m-2 3h0m14 1h0m-10 0h0m-5 0h0m8 1h0m9-34h0m6 0h0m-5 3h0m11 1h0m-9 0h0m0 3h0m-4 1h0m10 1h0m-6 0h0m2 1h0m-5 1h0m6 0h0m3 2h0m6 0h0m-6 2h0m5 1h0m-12 0h0m8 0h0m-2 1h0m-9 4h0m4 1h0m9 1h0m-4 1h0m4 1h0m1 3h0m-2 2h0m2 1h0m-7 2h0m16-33h0m7 1h0m-10 2h0m5 1h0m-3 1h0m-2 0h0m8 0h0m-6 2h0m8 1h0m-7 2h0m-7 0h0m8 0h0m-5 1h0m8 1h0m-2 0h0m1 3h0m3 1h0m-11 3h0m2 3h0m11 1h0m-3 4h0m-11 0h0m13 1h0m-3 1h0m-8 0h0m-1 1h0m10 1h0m3 0h0m-10 1h0m4 0h0m2 0h0m7-32h0m10 0h0m1 2h0m-2 0h0m-8 1h0m7 0h0m3 1h0m-8 2h0m2 1h0m4 0h0m-2 0h0m6 1h0m-2 0h0m-9 0h0m9 4h0m-5 0h0m-2 2h0m5 0h0m-9 6h0m7 1h0m-6 5h0m2 0h0m9 1h0m-13 1h0m0 1h0m15 0h0m-10 1h0m-2 1h0m19-31h0m0 1h0m-2 0h0m7 2h0m2 2h0m-9 0h0m-4 0h0m0 0h0m0 3h0m1 0h0m0 2h0m7 2h0m-1 1h0m3 2h0m3 3h0m-3 0h0m-8 1h0m7 3h0m-4 0h0m10 3h0m-1 0h0m-13 1h0m10 0h0m-7 0h0m5 2h0m4 3h0m15-30h0m-8 1h0m3 0h0m-1 1h0m-3 0h0m7 2h0m-7 0h0m10 1h0m-6 0h0m6 1h0m-6 1h0m4 1h0m2 0h0m-10 4h0m5 2h0m-5 0h0m11 3h0m-9 1h0m-4 0h0m-2 0h0m12 1h0m-5 3h0m-6 4h0m10 2h0m19-34h0m-1 0h0m-1 2h0m2 0h0m-8 2h0m-3 3h0m12 3h0m-9 0h0m3 2h0m4 1h0m-11 0h0m-1 0h0m7 2h0m7 2h0m-11 1h0m11 5h0m-5 1h0m0 0h0m1 3h0m-5 1h0m2 0h0m-7 0h0m-1 0h0m12 3h0m-1 2h0m-7 2h0m8 0h0m-2 0h0m-2 0h0m-2 0h0m10 0h0m-14 1h0m3 0h0m1 1h0m0 0h0m3 1h0m-1 0h0m23-40h0m-4 0h0m-10 0h0m1 2h0m13 0h0m-11 2h0m4 0h0m6 0h0m-14 1h0m16 1h0m-7 1h0m-9 3h0m2 2h0m8 1h0m-7 1h0m11 1h0m-8 1h0m0 1h0m1 0h0m4 2h0m-10 1h0m9 0h0m-3 0h0m-4 2h0m3 0h0m7 1h0m0 4h0m-8 1h0m8 1h0m-12 1h0m-1 1h0m14 2h0m-7 3h0m6 0h0m-4 0h0m-5 0h0m11 0h0m-5 1h0m5 0h0m-12 0h0m1 1h0m8 0h0m-2 3h0m0 0h0m-5 0h0m4 3h0m-4 0h0m17-43h0m-5 1h0m0 1h0m2 0h0m-1 0h0m6 1h0m4 1h0m-2 1h0m5 1h0m-8 1h0m6 0h0m-11 0h0m12 1h0m-1 0h0m-3 3h0m-8 5h0m8 1h0m2 2h0m-11 3h0m4 1h0m10 0h0m-9 1h0m6 3h0m-8 0h0m4 0h0m5 0h0m-10 2h0m6 0h0m4 0h0m-12 0h0m14 1h0m-9 1h0m10 1h0m-8 2h0m1 0h0m-4 0h0m6 2h0m-8 0h0m3 1h0m-5 1h0m8 1h0m-5 1h0m7 2h0m-3 1h0m21-41h0m-8 2h0m-5 2h0m14 2h0m-4 0h0m-7 0h0m-3 1h0m8 1h0m3 1h0m-7 1h0m12 0h0m-5 1h0m-5 1h0m7 0h0m-5 3h0m6 1h0m-5 1h0m-8 0h0m1 1h0m-1 2h0m6 1h0m2 0h0m1 2h0m-5 2h0m7 0h0m2 0h0m-8 3h0m-5 1h0m4 1h0m9 6h0m-13 0h0m1 1h0m1 0h0m3 0h0m1 2h0m-3 0h0m16-38h0m11 1h0m-8 1h0m-3 0h0m12 3h0m-10 0h0m0 3h0m9 2h0m-6 3h0m-1 1h0m1 0h0m-3 3h0m-4 1h0m11 0h0m-7 1h0m-5 1h0m0 0h0m8 2h0m4 2h0m-8 0h0m-3 1h0m1 1h0m10 0h0m-9 3h0m10 2h0m-4 0h0m1 0h0m-8 0h0m9 1h0m-3 1h0m3 3h0m-1 1h0m10-37h0m-1 0h0m3 0h0m2 1h0m-6 2h0m12 3h0m-7 0h0m4 2h0m-3 0h0m-5 2h0m2 1h0m4 1h0m0 1h0m-9 4h0m12 1h0m-10 1h0m12 1h0m-5 1h0m-9 2h0m-1 2h0m5 0h0m6 1h0m-5 1h0m-6 1h0m6 1h0m-3 0h0m4 2h0m8 2h0m-1 3h0m-1 1h0m-2 0h0m15-34h0m-5 1h0m4 1h0m5 1h0m1 2h0m0 0h0m-2 2h0m-11 1h0m-1 0h0m1 1h0m3 1h0m1 1h0m7 1h0m-11 4h0m0 0h0m10 1h0m-1 1h0m-5 1h0m-4 1h0m6 4h0m-2 3h0m6 0h0m-1 1h0m3 2h0m-6 1h0m-7 0h0m7 2h0m-2 0h0m4 8h0m20-37h0m-7 0h0m-2 1h0m-5 1h0m11 1h0m-1 0h0m3 0h0m-10 0h0m13 1h0m-15 2h0m7 1h0m-5 1h0m12 0h0m-9 3h0m4 1h0m-1 2h0m3 0h0m-3 1h0m2 1h0m-5 0h0m-3 5h0m11 1h0m-8 1h0m1 1h0m-6 0h0m12 4h0m-3 1h0m15-33h0m-4 0h0m-3 0h0m6 1h0m5 1h0m-12 3h0m14 1h0m-15 3h0m14 1h0m-3 0h0m4 1h0m-10 1h0m0 1h0m1 1h0m8 0h0m-14 1h0m11 2h0m1 0h0m3 1h0m-6 6h0m-7 4h0m0 1h0m8 1h0m-8 0h0m4 1h0m-4 0h0m11 3h0m1 0h0m8-34h0m10 0h0m-3 0h0m1 2h0m-4 2h0m-10 1h0m9 1h0m-5 1h0m9 1h0m-9 1h0m4 2h0m-1 4h0m-5 0h0m0 0h0m-2 5h0m4 0h0m7 0h0m-7 1h0m-2 2h0m13 0h0m-3 1h0m-3 4h0m5 0h0m-4 1h0m-6 2h0m8 0h0m-1 1h0m-3 1h0m10-33h0m0 1h0m2 2h0m12 0h0m-9 1h0m8 2h0m0 1h0m-2 1h0m-7 1h0m-2 2h0m-4 1h0m11 3h0m-2 1h0m-3 0h0m1 1h0m5 3h0m-3 2h0m-4 1h0m-5 1h0m0 3h0m14 1h0m-8 1h0m-1 1h0m9 0h0m0 0h0m-6 1h0m4 1h0m-1 0h0m19-31h0m-8 0h0m0 1h0m-2 1h0m12 1h0m-4 3h0m-11 3h0m15 0h0m-15 1h0m12 0h0m-3 1h0m0 2h0m4 4h0m-14 2h0m5 0h0m-1 0h0m6 2h0m-1 2h0m-2 1h0m-3 2h0m4 2h0m-1 0h0m-5 1h0m1 0h0m9 2h0m3 0h0m-8 1h0m10-33h0m9 4h0m0 0h0m-10 1h0m2 1h0m-1 2h0m10 0h0m-9 0h0m13 4h0m0 0h0m-5 0h0m2 3h0m-9 0h0m2 2h0m-1 1h0m3 1h0m7 1h0m-8 0h0m6 5h0m-8 0h0m11 3h0m-8 2h0m1 0h0m8 0h0m-8 3h0m5 2h0m-9 0h0m9 0h0m5-34h0m9 0h0m2 1h0m1 2h0m-12 1h0m3 3h0m5 0h0m-1 1h0m4 1h0m-1 2h0m-8 1h0m-3 2h0m1 2h0m8 3h0m-9 0h0m14 1h0m-11 0h0m6 0h0m-5 1h0m3 3h0m-1 0h0m-4 2h0m10 1h0m2 5h0m-7 2h0m1 0h0m0 1h0m21-35h0m-2 0h0m-2 1h0m1 0h0m-6 2h0m-1 1h0m-4 1h0m15 1h0m-12 1h0m12 0h0m-9 0h0m2 1h0m3 0h0m-7 1h0m2 7h0m5 3h0m3 1h0m-13 1h0m11 0h0m-5 1h0m1 1h0m-2 3h0m-6 1h0m12 0h0m-8 1h0m1 0h0m-2 3h0m10 1h0m-4 0h0m1 1h0m4 2h0m11-33h0m-9 0h0m1 2h0m5 1h0m1 1h0m-3 2h0m8 4h0m4 0h0m-4 0h0m3 2h0m-13 0h0m12 3h0m-8 5h0m3 0h0m0 2h0m4 0h0m-10 1h0m9 1h0m0 0h0m-8 1h0m2 4h0m-1 1h0m-2 2h0m11 1h0m-7 0h0m17-35h0m-2 1h0m0 3h0m-3 1h0m0 2h0m8 1h0m-1 3h0m2 0h0m-11 1h0m7 1h0m-8 0h0m4 1h0m11 4h0m0 1h0m-4 1h0m-5 1h0m-3 0h0m1 5h0m9 0h0m-1 0h0m-1 1h0m-2 1h0m-5 0h0m10 0h0m-6 5h0m7 0h0m-14 2h0m27-37h0m-4 0h0m-6 2h0m4 0h0m10 0h0m-6 0h0m-1 2h0m-2 1h0m-4 2h0m10 1h0m1 1h0m0 0h0m1 1h0m-10 2h0m10 0h0m-14 2h0m1 2h0m3 0h0m10 2h0m-8 2h0m-7 0h0m2 2h0m2 1h0m4 2h0m-4 1h0m1 0h0m6 1h0m2 5h0m-12 2h0m20-34h0m10 0h0m-4 2h0m3 1h0m-7 2h0m-7 0h0m10 4h0m-10 0h0m6 1h0m-1 1h0m10 1h0m-13 1h0m11 0h0m-1 0h0m0 2h0m2 3h0m-2 2h0m-5 2h0m4 1h0m-7 2h0m0 1h0m4 2h0m-6 2h0m0 2h0m5 1h0m1 2h0m5 1h0m-12 0h0m4 0h0m21-37h0m1 3h0m0 2h0m5 4h0m-3 1h0m2 3h0m0 0h0m-3 0h0m-4 1h0m-4 0h0m-1 1h0m2 0h0m-4 1h0m10 1h0m-9 2h0m6 0h0m-4 0h0m-1 1h0m-3 1h0m2 1h0m12 0h0m1 0h0m-9 1h0m5 4h0m-5 2h0m-2 1h0m-1 1h0m7 0h0m-1 1h0m-2 0h0m-6 4h0m19-35h0m1 2h0m10 0h0m-10 1h0m10 0h0m-12 1h0m7 1h0m5 0h0m-8 0h0m-6 4h0m10 3h0m0 2h0m1 0h0m0 1h0m-3 0h0m1 0h0m4 4h0m-14 2h0m1 1h0m7 0h0m3 1h0m-7 1h0m2 0h0m-3 2h0m-2 1h0m10 1h0m3 4h0m-10 0h0m9 2h0m15-36h0m-8 0h0m1 1h0m7 4h0m3 1h0m-11 3h0m8 3h0m-4 2h0m0 0h0m-5 0h0m-1 0h0m1 1h0m12 0h0m0 1h0m-5 1h0m-1 1h0m-9 2h0m10 0h0m-3 0h0m-1 3h0m-6 0h0m10 1h0m-4 0h0m8 5h0m0 1h0m-13 1h0m10 0h0m-3 3h0m7 1h0m-4 0h0m-9 2h0m15-32h0m7 0h0m5 0h0m-8 1h0m5 1h0m5 1h0m-6 0h0m-5 0h0m9 1h0m-3 0h0m-7 1h0m12 4h0m-12 1h0m9 1h0m1 0h0m-12 0h0m4 1h0m1 4h0m1 1h0m-6 1h0m8 4h0m-3 1h0m1 0h0m3 1h0m-9 1h0m15 1h0m-7 3h0m2 0h0m19-36h0m-11 1h0m6 0h0m1 2h0m3 0h0m3 1h0m-11 0h0m-3 2h0m11 2h0m0 4h0m-7 1h0m2 2h0m1 2h0m5 1h0m-7 0h0m-1 0h0m-6 1h0m8 0h0m-5 2h0m8 1h0m-4 1h0m0 1h0m-7 3h0m8 0h0m-8 4h0m3 0h0m9 2h0m-10 1h0m2 3h0m10 0h0m-3 1h0m20-37h0m-4 1h0m-1 0h0m-4 1h0m2 1h0m-7 1h0m5 0h0m5 2h0m-8 5h0m10 1h0m0 0h0m-8 2h0m0 0h0m10 2h0m-9 0h0m-5 0h0m0 1h0m3 4h0m9 0h0m-10 5h0m4 3h0m-1 1h0m-3 0h0m4 3h0m5 1h0m-3 2h0m6 1h0m1 0h0m6-37h0m-5 1h0m5 2h0m5 2h0m2 0h0m2 1h0m-8 0h0m9 1h0m-7 1h0m2 1h0m0 0h0m-3 1h0m5 1h0m-3 2h0m-4 0h0m-3 3h0m4 2h0m7 2h0m-12 2h0m0 1h0m2 3h0m10 0h0m-9 2h0m-3 4h0m0 0h0m1 1h0m6 1h0m-2 1h0m-5 0h0m14 1h0m3-35h0m8 1h0m0 1h0m-1 0h0m-9 1h0m1 2h0m8 0h0m-1 1h0m3 2h0m3 0h0m-14 1h0m3 1h0m5 3h0m-5 1h0m1 1h0m7 0h0m-7 3h0m3 1h0m4 0h0m-11 1h0m14 0h0m-3 2h0m-5 2h0m1 1h0m-4 0h0m-1 5h0m13 1h0m-13 0h0m5 1h0m3 1h0m0 1h0m20-34h0m1 1h0m-3 1h0m1 0h0m-1 3h0m-5 2h0m4 0h0m-8 1h0m1 0h0m1 1h0m2 2h0m-4 1h0m9 0h0m-5 1h0m-7 3h0m2 2h0m-2 1h0m4 1h0m2 0h0m2 2h0m-2 0h0m3 0h0m-3 1h0m-6 4h0m10 3h0m-9 1h0m0 1h0m11 5h0m15-33h0m-6 0h0m-5 1h0m15 1h0m-6 0h0m0 1h0m-8 0h0m12 1h0m-7 0h0m-3 6h0m1 1h0m3 0h0m4 0h0m-11 2h0m7 2h0m-6 1h0m11 1h0m-1 0h0m-3 1h0m-3 1h0m7 0h0m-12 2h0m3 3h0m9 0h0m-6 1h0m0 1h0m-5 3h0m7 2h0m-5 0h0m10 2h0m13-36h0m-2 1h0m0 2h0m-1 3h0m-7 5h0m13 0h0m-8 1h0m2 1h0m8 0h0m-12 1h0m1 6h0m6 0h0m-3 2h0m-7 2h0m0 0h0m2 1h0m0 0h0m9 1h0m-8 0h0m1 1h0m7 0h0m2 0h0m-5 2h0m5 1h0m-4 0h0m3 3h0m1 1h0m-11 2h0m25-34h0m-3 1h0m-4 2h0m0 1h0m-4 1h0m5 3h0m-6 1h0m3 1h0m12 1h0m-6 0h0m2 1h0m-3 0h0m-4 1h0m10 0h0m-8 0h0m5 1h0m-5 1h0m4 2h0m-3 1h0m2 0h0m-7 2h0m4 1h0m3 0h0m4 5h0m-2 0h0m4 1h0m-13 3h0m1 1h0m11 0h0m0 3h0m10-35h0m-1 1h0m0 0h0m-3 2h0m5 1h0m5 6h0m-12 2h0m12 3h0m-10 0h0m10 0h0m-13 2h0m5 2h0m1 0h0m2 1h0m-4 2h0m0 0h0m5 1h0m0 1h0m0 0h0m-7 1h0m-1 1h0m14 0h0m-3 1h0m1 2h0m-13 0h0m8 3h0m2 0h0m-11 2h0m23-31h0m-4 2h0m8 2h0m-1 0h0m0 1h0m-9 3h0m8 1h0m5 1h0m-13 1h0m1 2h0m7 4h0m-6 0h0m11 1h0m-7 0h0m-5 0h0m8 0h0m-6 1h0m1 2h0m8 5h0m3 1h0m-11 0h0m2 4h0m7 0h0m-14 0h0m12 1h0m3 0h0m12-35h0m-1 0h0m-3 1h0m-3 0h0m8 3h0m-2 4h0m5 0h0m-2 2h0m-11 0h0m11 0h0m1 1h0m2 1h0m-5 2h0m-1 2h0m-8 3h0m1 0h0m0 7h0m3 2h0m-2 0h0m3 0h0m5 1h0m-8 1h0m6 1h0m0 0h0m-10 0h0m4 0h0m12 1h0m-14 3h0m14-71h0m14 36h0m-11 0h0m0 1h0m-3 3h0m9 3h0m1 4h0m-4 1h0m5 1h0m2 2h0m-6 0h0m1 1h0m-4 0h0m7 3h0m-6 2h0m2 3h0m4 0h0m-9 0h0m-1 3h0m12 0h0m2 1h0m-15 1h0m5 0h0m8 0h0m-7 0h0m3 1h0m7 0h0m0 0h0m-14 2h0m2 1h0m10 2h0m-4 0h0m6-35h0m5 7h0m2 1h0m2 0h0m1 0h0m-5 0h0m8 1h0m1 1h0m-1 2h0m-12 0h0m14 0h0m-12 2h0m8 2h0m-4 3h0m9 1h0m-1 3h0m-9 0h0m-4 1h0m0 1h0m5 2h0m7 2h0m-2 0h0m-2 3h0m1 1h0m-9 2h0m3 0h0m26-36h0m-7 1h0m-4 0h0m4 2h0m-3 4h0m7 1h0m-12 2h0m11 0h0m-10 1h0m6 1h0m1 5h0m7 1h0m-6 1h0m-8 1h0m14 1h0m-5 1h0m-7 1h0m9 2h0m0 2h0m-1 0h0m-4 1h0m-2 1h0m0 1h0m-1 1h0m9 0h0m-1 1h0m3 2h0m-8 0h0m10-31h0m12 1h0m-2 3h0m1 1h0m-2 1h0m-7 0h0m-1 4h0m8 0h0m5 3h0m1 1h0m-7 2h0m-1 1h0m-2 2h0m0 1h0m-4 0h0m13 1h0m-11 1h0m-3 1h0m3 0h0m2 2h0m6 2h0m-4 0h0m3 1h0m4 0h0m-2 2h0m-9 2h0m4 0h0m1 2h0m10-36h0m-2 2h0m10 0h0m-9 3h0m11 1h0m2 1h0m-1 0h0m-7 2h0m0 0h0m-5 0h0m7 0h0m6 1h0m-5 0h0m-7 1h0m9 2h0m-3 4h0m-1 0h0m-7 1h0m7 0h0m5 1h0m-6 0h0m-5 1h0m2 2h0m10 0h0m-9 2h0m1 1h0m-2 0h0m6 4h0m3 3h0m-1 1h0m-10 0h0m24-34h0m-4 0h0m1 3h0m-1 1h0m5 0h0m4 2h0m-15 0h0m4 2h0m3 0h0m-6 1h0m-1 2h0m3 5h0m6 0h0m-7 1h0m9 5h0m2 2h0m0 2h0m3 0h0m-11 0h0m2 2h0m-2 0h0m6 1h0m3 0h0m-1 2h0m-3 1h0m4 2h0m-11 0h0m4 0h0m17-34h0m5 1h0m-12 1h0m14 1h0m-12 1h0m7 0h0m0 1h0m0 0h0m-2 1h0m-7 0h0m4 1h0m-1 2h0m10 1h0m0 0h0m-8 1h0m-5 0h0m12 7h0m-8 1h0m0 2h0m6 1h0m0 0h0m-7 0h0m8 2h0m-5 3h0m-4 1h0m7 1h0m1 1h0m-10 2h0m14 0h0m-11 1h0m5 0h0m4 2h0m16-37h0m-13 2h0m0 1h0m0 1h0m8 0h0m7 0h0m-1 1h0m-10 0h0m-1 3h0m1 1h0m5 5h0m-3 0h0m9 2h0m-2 1h0m0 0h0m-4 1h0m-2 0h0m5 0h0m-1 1h0m-5 0h0m-2 1h0m2 0h0m4 1h0m2 1h0m-5 1h0m-3 4h0m-2 0h0m-1 1h0m15 1h0m-14 2h0m10 3h0m12-106h0m5 8h0m-1 1h0m-1 5h0m-1 0h0m4 17h0m-1 4h0m-2 1h0m1 16h0m2 1h0m-7 4h0m-1 2h0m10 5h0m-5 4h0m-1 1h0m4 0h0m-6 1h0m5 2h0m-6 0h0m9 0h0m-11 2h0m8 0h0m-8 0h0m5 2h0m0 0h0m-5 1h0m9 1h0m-13 1h0m1 2h0m11 0h0m-9 3h0m-3 2h0m7 0h0m-7 3h0m2 4h0m11 1h0m-8 2h0m4 0h0m-3 0h0m8 1h0m-7 2h0m7 3h0m-6 2h0m-6 2h0m10 1h0m-12 2h0m6 2h0m0 1h0m7 0h0m-3 1h0m-1 0h0m-1 2h0m6 1h0m-5 3h0m4 0h0m0 52h0m1 23h0m9-192h0m-4 1h0m4 2h0m-1 2h0m5 2h0m-4 2h0m-4 2h0m11 9h0m-2 1h0m-9 2h0m-2 3h0m9 8h0m-11 4h0m13 1h0m2 1h0m-7 1h0m-3 4h0m7 3h0m-12 0h0m9 2h0m6 6h0m-1 2h0m-9 1h0m5 0h0m-6 0h0m9 0h0m-10 2h0m8 2h0m-5 1h0m-3 1h0m13 1h0m-11 1h0m-3 0h0m8 1h0m-2 0h0m-4 2h0m8 1h0m-2 0h0m1 0h0m2 1h0m0 0h0m-4 1h0m-3 1h0m-5 0h0m11 4h0m-11 4h0m4 2h0m0 0h0m-1 0h0m5 1h0m-1 0h0m4 1h0m-6 2h0m-2 0h0m-3 3h0m5 0h0m4 1h0m5 0h0m-10 2h0m10 3h0m-14 5h0m11 2h0m-6 0h0m-5 5h0m1 0h0m2 1h0m4 0h0m8 1h0m-8 2h0m-7 3h0m15 0h0m0 45h0m-3 4h0m-4 2h0m-5 10h0m2 20h0m5 11h0m-11 0h0m29-205h0m-10 6h0m12 1h0m-3 3h0m0 3h0m-1 7h0m-4 2h0m-3 1h0m3 1h0m-1 3h0m10 3h0m-13 4h0m9 0h0m-2 6h0m-9 1h0m6 4h0m-1 2h0m5 2h0m-2 2h0m-5 0h0m9 0h0m2 1h0m-14 2h0m8 1h0m0 0h0m-2 4h0m-3 1h0m7 0h0m1 0h0m1 1h0m-13 1h0m16 3h0m-2 2h0m-13 1h0m11 2h0m-2 0h0m-1 1h0m6 2h0m-9 0h0m-1 4h0m0 3h0m8 1h0m-10 1h0m10 1h0m-2 0h0m1 2h0m0 0h0m-9 1h0m3 0h0m3 0h0m-5 1h0m-1 0h0m1 1h0m-3 2h0m14 1h0m-6 2h0m-8 1h0m10 1h0m-10 2h0m14 3h0m-10 0h0m5 1h0m2 3h0m-8 2h0m4 0h0m-2 2h0m-5 1h0m5 0h0m1 1h0m-2 1h0m-1 0h0m-3 63h0m2 8h0m7 7h0m3 16h0m7-204h0m2 2h0m9 3h0m-13 5h0m8 0h0m-5 11h0m11 4h0m-10 0h0m7 1h0m-3 4h0m-7 0h0m11 2h0m-13 2h0m7 2h0m1 1h0m-1 8h0m5 0h0m-5 1h0m2 5h0m-4 2h0m3 5h0m-4 0h0m-5 1h0m13 1h0m-2 1h0m1 1h0m-11 1h0m4 0h0m1 1h0m-5 1h0m3 2h0m10 0h0m-7 1h0m4 0h0m-9 0h0m11 0h0m-10 2h0m5 0h0m-5 1h0m11 2h0m-2 2h0m3 1h0m-7 0h0m4 2h0m4 1h0m-10 0h0m2 1h0m-7 1h0m13 1h0m-10 1h0m9 0h0m-8 1h0m-2 1h0m7 8h0m1 3h0m-2 1h0m2 2h0m-5 0h0m0 1h0m-4 1h0m13 2h0m-14 1h0m5 1h0m0 0h0m-3 1h0m10 1h0m-11 0h0m10 0h0m-5 1h0m2 1h0m3 0h0m-4 2h0m-1 2h0m9 1h0m-14 0h0m3 3h0m19-118h0m-6 1h0m11 3h0m1 4h0m-14 5h0m14 10h0m-5 4h0m-4 4h0m4 3h0m-5 0h0m10 2h0m-9 4h0m5 2h0m-2 4h0m-6 4h0m3 3h0m6 0h0m-9 0h0m4 2h0m5 0h0m0 3h0m-6 1h0m-1 0h0m10 0h0m-8 0h0m6 1h0m3 2h0m-6 0h0m-2 1h0m-6 1h0m15 3h0m-1 1h0m1 2h0m-11 0h0m0 2h0m-5 0h0m4 2h0m-4 1h0m9 2h0m0 0h0m-3 1h0m3 1h0m2 0h0m-4 3h0m2 1h0m3 0h0m-4 0h0m-4 0h0m0 2h0m-3 2h0m11 0h0m-7 2h0m-1 0h0m12 1h0m-8 5h0m-6 2h0m11 0h0m-9 2h0m10 0h0m1 4h0m-5 1h0m-7 1h0m-1 0h0m8 1h0m3 2h0m-3 0h0m0 1h0m0 0h0m-3 0h0m4 1h0m-10 1h0m3 0h0m2 0h0m-1 1h0m9 0h0m1 0h0m-7 1h0m6 0h0m-14 1h0m11 2h0m-11 2h0m15 1h0m-2 4h0m18-119h0m-13 5h0m12 6h0m-14 1h0m8 2h0m3 1h0m-4 1h0m-2 1h0m10 1h0m-13 5h0m5 1h0m4 2h0m-2 4h0m0 0h0m5 2h0m-2 8h0m-10 2h0m3 2h0m-5 3h0m12 1h0m-3 1h0m-6 1h0m2 0h0m6 3h0m-3 4h0m-4 0h0m10 0h0m0 1h0m-2 0h0m-10 2h0m9 1h0m-6 1h0m9 1h0m-10 1h0m-1 2h0m12 2h0m0 1h0m-3 0h0m-10 0h0m1 2h0m8 1h0m-5 0h0m4 1h0m0 5h0m0 1h0m4 0h0m-5 1h0m4 1h0m-7 0h0m-3 0h0m0 1h0m11 1h0m-9 1h0m-3 0h0m6 1h0m-7 0h0m4 0h0m5 2h0m-1 3h0m6 6h0m-10 1h0m-4 0h0m9 2h0m-8 1h0m6 1h0m7 2h0m-13 0h0m-2 1h0m9 2h0m-1 1h0m0 1h0m-2 1h0m2 0h0m-6 1h0m10 1h0m-8 0h0m2 0h0m7 1h0m-7 0h0m3 2h0m-5 0h0m-2 0h0m12 4h0m2 1h0m-12 1h0m7 6h0m18-117h0m2 1h0m-2 0h0m-12 1h0m2 1h0m-1 6h0m8 0h0m-2 6h0m3 0h0m-5 8h0m5 6h0m-7 3h0m0 3h0m0 4h0m-2 0h0m4 1h0m3 1h0m7 2h0m-6 1h0m-10 0h0m3 1h0m3 0h0m9 1h0m-7 1h0m1 0h0m4 3h0m-1 1h0m-12 2h0m6 1h0m8 0h0m-3 1h0m-7 1h0m7 2h0m1 1h0m-9 2h0m3 2h0m5 1h0m3 1h0m1 0h0m-15 3h0m11 2h0m-4 1h0m-2 1h0m4 2h0m-2 0h0m7 2h0m-9 1h0m4 3h0m-8 0h0m3 0h0m-1 0h0m7 1h0m0 1h0m-3 5h0m-4 0h0m9 0h0m1 2h0m3 0h0m-2 2h0m-9 0h0m-3 2h0m12 0h0m-8 3h0m2 0h0m-2 0h0m-4 2h0m1 1h0m10 0h0m-7 1h0m-6 1h0m2 5h0m8 1h0m-5 0h0m2 8h0m5 3h0m-8 1h0m4 2h0m8 4h0m-12 0h0m9 1h0m2 7h0m4-133h0m-1 5h0m12 6h0m2 1h0m-11 2h0m5 4h0m2 2h0m-5 0h0m-1 3h0m5 6h0m-7 2h0m4 3h0m-4 5h0m8 2h0m3 0h0m-5 1h0m6 1h0m-14 1h0m8 0h0m-6 4h0m8 4h0m0 1h0m-6 1h0m1 0h0m8 1h0m-13 0h0m-2 1h0m16 0h0m-12 0h0m-2 1h0m8 1h0m-1 1h0m-8 1h0m3 3h0m2 2h0m4 1h0m-4 0h0m5 1h0m1 0h0m-5 1h0m-6 0h0m15 1h0m-3 1h0m1 0h0m-10 0h0m3 3h0m7 2h0m-11 0h0m7 5h0m-10 3h0m6 0h0m-1 1h0m3 0h0m6 0h0m-11 1h0m11 2h0m-5 2h0m-7 1h0m0 1h0m6 3h0m-3 3h0m9 0h0m-3 1h0m-2 0h0m1 1h0m-8 0h0m6 1h0m-4 24h0m-1 1h0m2 2h0m1 4h0m-5 3h0m9 1h0m-3 4h0m1 1h0m6 3h0m2 1h0m-2 3h0m17-151h0m-11 5h0m7 0h0m1 2h0m-11 16h0m10 5h0m-3 5h0m-5 0h0m12 0h0m-2 4h0m-6 0h0m5 2h0m-10 1h0m5 1h0m3 0h0m-8 1h0m-1 1h0m4 1h0m10 1h0m-12 0h0m-1 1h0m3 0h0m1 2h0m1 1h0m-3 0h0m7 2h0m3 0h0m-14 0h0m4 0h0m4 0h0m1 1h0m6 0h0m-1 1h0m-10 1h0m-3 1h0m5 0h0m9 0h0m-6 3h0m0 2h0m3 2h0m-1 0h0m-6 0h0m4 1h0m2 5h0m2 0h0m-3 1h0m-7 1h0m8 0h0m-8 0h0m5 3h0m6 1h0m-9 3h0m0 1h0m9 1h0m-1 0h0m-12 1h0m6 1h0m0 2h0m-5 1h0m12 2h0m0 1h0m-6 6h0m-4 4h0m-3 2h0m1 4h0m8 0h0m-3 1h0m8 0h0m-7 1h0m5 0h0m-4 41h0m-5 3h0m4 1h0m-3 1h0m2 1h0m7 0h0m-12 2h0m-2 1h0m8 11h0m4 1h0m1 3h0m19-170h0m-15 3h0m7 2h0m-3 6h0m2 1h0m6 1h0m-2 4h0m-6 3h0m10 0h0m-2 1h0m-11 8h0m5 4h0m2 0h0m-8 2h0m1 1h0m9 6h0m-5 1h0m6 3h0m2 0h0m-3 2h0m0 0h0m0 0h0m2 1h0m-12 2h0m1 0h0m-2 0h0m1 1h0m4 1h0m6 2h0m-4 2h0m-6 0h0m2 2h0m10 5h0m2 2h0m-1 0h0m-8 1h0m7 3h0m-7 2h0m-6 0h0m14 1h0m-1 0h0m1 3h0m-12 1h0m12 1h0m-10 0h0m-1 2h0m9 0h0m-3 0h0m-2 0h0m6 1h0m-3 1h0m-4 4h0m0 0h0m2 3h0m1 0h0m1 2h0m-3 1h0m-3 1h0m-2 1h0m8 1h0m4 1h0m-12 0h0m1 2h0m-1 0h0m8 1h0m0 1h0m6 1h0m-6 2h0m-3 2h0m-7 50h0m2 3h0m25-145h0m2 1h0m-7 1h0m0 3h0m6 3h0m-6 1h0m7 0h0m-5 8h0m2 1h0m-6 10h0m7 1h0m-8 1h0m2 1h0m10 1h0m-5 0h0m3 4h0m-6 1h0m-2 1h0m-2 0h0m11 0h0m-2 0h0m-5 1h0m3 1h0m0 3h0m-6 0h0m-1 0h0m10 2h0m-12 2h0m14 1h0m-7 2h0m5 2h0m2 1h0m-12 2h0m1 0h0m6 0h0m0 1h0m-3 1h0m-6 0h0m10 4h0m-5 0h0m1 2h0m2 0h0m6 2h0m-10 1h0m7 0h0m-6 1h0m5 0h0m-8 1h0m3 1h0m9 0h0m-1 0h0m-2 1h0m-12 5h0m2 0h0m10 3h0m-3 0h0m-9 2h0m10 1h0m6 3h0m-1 3h0m-14 1h0m9 2h0m-7 1h0m-3 0h0m1 0h0m9 54h0m-2 1h0m-2 0h0m2 1h0m-3 0h0m7 1h0m-1 1h0m-3 0h0m5 1h0m2 0h0m-3 1h0m2 0h0m1 2h0m-6 2h0m-5 0h0m-2 1h0m12 0h0m-11 1h0m2 2h0m5 0h0m-6 0h0m5 3h0m1 3h0m2 0h0m0 1h0m-5 0h0m4 1h0m-9 1h0m3 0h0m-4 0h0m3 1h0m5 0h0m-3 1h0m10 1h0m-9 0h0m25-171h0m-1 1h0m-2 4h0m-7 6h0m5 0h0m-1 2h0m1 3h0m-11 11h0m16 3h0m-11 1h0m-1 0h0m2 0h0m-5 0h0m12 1h0m2 2h0m-4 1h0m-7 0h0m8 1h0m-10 0h0m1 1h0m3 0h0m9 1h0m-15 2h0m8 1h0m0 1h0m7 1h0m-2 0h0m-11 4h0m-1 1h0m13 2h0m-9 0h0m9 0h0m-13 1h0m9 0h0m-3 0h0m4 0h0m-11 0h0m14 1h0m-13 1h0m7 2h0m2 1h0m-5 0h0m2 6h0m1 1h0m5 1h0m-6 1h0m1 2h0m-5 0h0m0 0h0m6 2h0m2 1h0m-3 4h0m-2 0h0m5 1h0m5 0h0m-6 1h0m-8 4h0m2 1h0m0 1h0m7 2h0m-11 0h0m4 1h0m10 0h0m-2 0h0m-6 0h0m7 1h0m-10 1h0m10 8h0m-2 2h0m-4 4h0m1 3h0m3 41h0m-3 0h0m7 1h0m-7 4h0m-4 0h0m3 0h0m6 2h0m-11 0h0m2 0h0m8 1h0m4 1h0m-4 1h0m-5 0h0m5 0h0m2 4h0m-11 1h0m2 0h0m5 2h0m1 1h0m5 0h0m-10 0h0m-5 2h0m3 0h0m-2 0h0m6 2h0m-7 2h0m2 1h0m4 0h0m4 0h0m2 1h0m-12 0h0m9 0h0m-7 0h0m19-169h0m-4 1h0m8 4h0m3 2h0m-4 3h0m-6 1h0m-2 1h0m11 2h0m-2 3h0m-8 6h0m13 0h0m-10 2h0m3 1h0m-6 0h0m-2 1h0m5 0h0m5 0h0m1 0h0m2 0h0m-9 2h0m2 0h0m0 1h0m3 2h0m6 2h0m-8 0h0m-6 2h0m4 1h0m-1 0h0m11 1h0m-15 3h0m5 1h0m8 2h0m-11 1h0m4 2h0m9 0h0m-5 0h0m6 7h0m-9 2h0m6 0h0m-13 0h0m13 1h0m-7 1h0m-6 4h0m14 3h0m1 2h0m-3 1h0m2 2h0m1 3h0m-12 4h0m5 1h0m3 0h0m-2 0h0m5 0h0m-10 2h0m6 1h0m-8 0h0m3 1h0m7 1h0m-10 0h0m5 1h0m-4 1h0m11 0h0m-3 0h0m-2 0h0m-1 1h0m6 2h0m-13 1h0m8 1h0m5 7h0m-9 10h0m6 9h0m-3 1h0m-8 7h0m3 17h0m8 0h0m2 1h0m-7 2h0m-5 0h0m7 1h0m-8 0h0m5 1h0m9 0h0m1 3h0m-2 1h0m-3 1h0m-3 3h0m8 1h0m-1 0h0m-5 1h0m-3 0h0m2 2h0m-7 1h0m2 0h0m-1 1h0m9 0h0m-5 2h0m1 1h0m-2 0h0m6 1h0m3 0h0m-11 2h0m-1 2h0m25-297h0m-4 12h0m6 7h0m-5 1h0m-1 2h0m4 2h0m3 3h0m-6 1h0m6 3h0m-9 5h0m-1 3h0m11 9h0m-5 2h0m-1 4h0m6 6h0m-4 3h0m-6 61h0m3 6h0m0 3h0m7 3h0m-14 1h0m14 5h0m-9 5h0m3 3h0m-3 6h0m-3 0h0m10 0h0m-11 2h0m1 2h0m10 0h0m0 0h0m2 3h0m-14 0h0m-1 0h0m1 1h0m8 1h0m2 1h0m0 2h0m4 0h0m0 1h0m-2 1h0m-8 1h0m1 2h0m3 2h0m-3 0h0m8 0h0m-4 0h0m-2 2h0m1 1h0m0 0h0m-7 5h0m2 1h0m2 2h0m-3 4h0m0 4h0m-2 0h0m9 0h0m-5 2h0m4 2h0m4 0h0m-7 3h0m8 1h0m-4 0h0m0 1h0m4 0h0m-8 1h0m6 0h0m1 2h0m-11 1h0m3 0h0m3 1h0m-6 1h0m1 0h0m12 0h0m1 1h0m-9 2h0m-5 1h0m5 1h0m-5 3h0m8 0h0m-6 0h0m10 0h0m-2 1h0m-6 0h0m-2 1h0m4 5h0m5 1h0m-8 0h0m-4 5h0m3 11h0m11 0h0m-5 1h0m1 11h0m-4 15h0m1 1h0m6 0h0m-3 1h0m0 0h0m1 1h0m-11 0h0m12 0h0m-3 0h0m-8 2h0m0 0h0m7 5h0m-5 0h0m2 0h0m-5 0h0m15 1h0m-3 1h0m-6 1h0m0 3h0m-3 2h0m7 3h0m5 0h0m-2 0h0m-1 0h0m1 1h0m-13 0h0m1 1h0m4 1h0m-3 2h0m2 1h0m21-322h0m3 4h0m-2 3h0m4 9h0m-3 0h0m3 5h0m-3 4h0m-8 7h0m-3 0h0m0 9h0m6 3h0m-2 1h0m2 13h0m-7 4h0m6 14h0m-3 6h0m4 1h0m-3 2h0m-2 66h0m7 0h0m2 1h0m-2 1h0m-4 0h0m-2 4h0m-3 11h0m7 2h0m7 0h0m-7 13h0m-1 1h0m4 1h0m-5 0h0m-1 0h0m1 1h0m6 1h0m-5 2h0m9 0h0m1 1h0m-12 0h0m-1 2h0m0 1h0m4 0h0m-5 1h0m11 2h0m-13 0h0m8 0h0m4 1h0m-10 3h0m6 1h0m0 0h0m-5 1h0m10 4h0m-1 0h0m4 2h0m-11 1h0m5 0h0m-10 0h0m10 1h0m3 0h0m1 0h0m-9 1h0m6 1h0m2 3h0m-4 1h0m1 1h0m0 0h0m5 0h0m-14 1h0m6 3h0m7 1h0m-10 0h0m10 1h0m0 0h0m1 1h0m-1 2h0m-3 1h0m-4 1h0m3 3h0m-6 0h0m6 1h0m1 2h0m-10 3h0m4 2h0m9 1h0m-6 2h0m1 0h0m-5 2h0m2 1h0m7 7h0m2 10h0m-8 2h0m8 1h0m-13 5h0m1 5h0m7 0h0m3 18h0m-7 2h0m6 0h0m-8 2h0m-3 0h0m3 1h0m7 0h0m-2 0h0m5 1h0m-3 2h0m-10 0h0m2 1h0m-1 1h0m14 0h0m-11 1h0m4 3h0m3 1h0m-2 0h0m-2 1h0m7 1h0m-13 0h0m5 0h0m5 3h0m-1 1h0m-3 1h0m-7 1h0m5 1h0m-1 0h0m10 1h0m-10 2h0m0 1h0m10 1h0m0 1h0m4-306h0m2 2h0m-4 0h0m12 13h0m-2 1h0m4 3h0m-9 7h0m1 3h0m-1 1h0m7 0h0m-13 1h0m3 1h0m6 3h0m7 3h0m-8 4h0m-3 93h0m8 2h0m2 2h0m-11 2h0m10 0h0m-7 4h0m6 1h0m-8 2h0m7 2h0m-4 9h0m2 3h0m-7 0h0m7 3h0m-3 1h0m-6 0h0m10 0h0m0 3h0m2 0h0m-11 0h0m13 1h0m0 3h0m-15 0h0m8 0h0m4 0h0m-4 1h0m8 1h0m-7 2h0m-8 0h0m0 1h0m3 1h0m5 0h0m-5 2h0m0 1h0m5 1h0m-4 0h0m8 1h0m-2 3h0m4 1h0m-1 2h0m-14 0h0m7 1h0m5 1h0m-9 6h0m1 2h0m11 1h0m-12 1h0m12 0h0m-4 1h0m-4 1h0m-5 3h0m3 0h0m3 1h0m-2 0h0m6 1h0m-9 1h0m6 0h0m-9 0h0m8 0h0m-4 1h0m2 1h0m0 1h0m0 0h0m-4 1h0m13 1h0m-1 1h0m0 1h0m-1 2h0m-1 0h0m-9 1h0m1 5h0m1 5h0m2 5h0m-5 3h0m7 8h0m2 1h0m-7 6h0m0 4h0m-1 18h0m0 0h0m9 0h0m-7 2h0m-1 1h0m6 2h0m4 0h0m1 3h0m-1 1h0m-14 0h0m15 1h0m-13 1h0m12 2h0m-4 1h0m-2 2h0m4 0h0m3 0h0m-10 2h0m5 0h0m-4 0h0m-1 0h0m5 1h0m-3 0h0m-6 1h0m13 0h0m-1 1h0m-12 0h0m8 1h0m3 1h0m-11 1h0m6 0h0m-1 1h0m-3 0h0m4 0h0m5 1h0m-2 0h0m-7 3h0m14-283h0m2 12h0m3 2h0m7 13h0m-11 4h0m-1 1h0m7 2h0m0 3h0m0 9h0m5 10h0m-1 1h0m4 6h0m-6 51h0m-1 0h0m-2 3h0m-1 7h0m4 2h0m-8 3h0m10 4h0m-6 1h0m6 1h0m3 0h0m-12 2h0m11 1h0m-7 6h0m4 1h0m3 0h0m-3 3h0m-6 3h0m7 0h0m-2 1h0m-6 0h0m1 1h0m-5 0h0m11 2h0m-11 5h0m15 1h0m-7 0h0m-1 2h0m8 0h0m-2 1h0m-5 0h0m-8 0h0m7 3h0m4 2h0m4 0h0m-13 0h0m1 1h0m6 1h0m7 3h0m-1 1h0m0 2h0m-7 0h0m2 0h0m-4 2h0m6 0h0m-8 1h0m4 2h0m5 1h0m0 1h0m-5 0h0m4 0h0m-1 1h0m3 1h0m-10 0h0m-1 0h0m2 1h0m0 2h0m0 5h0m-2 0h0m-1 1h0m0 1h0m10 0h0m0 2h0m-10 1h0m12 1h0m2 1h0m-8 2h0m-7 1h0m7 0h0m5 1h0m-12 0h0m13 3h0m-3 5h0m-2 8h0m-6 8h0m-1 2h0m4 2h0m-1 2h0m6 14h0m-6 1h0m6 1h0m4 0h0m1 1h0m-6 1h0m-6 2h0m12 0h0m-16 0h0m11 2h0m2 0h0m-4 0h0m3 1h0m2 1h0m-7 0h0m-3 1h0m-3 0h0m5 1h0m10 1h0m-11 0h0m-3 1h0m-1 0h0m2 1h0m4 1h0m-3 1h0m-2 1h0m7 2h0m-6 0h0m6 1h0m4 3h0m-6 1h0m12-237h0m2 1h0m-4 4h0m6 18h0m3 0h0m-1 6h0m1 1h0m4 3h0m2 0h0m-4 10h0m-4 47h0m-2 3h0m-4 0h0m11 0h0m1 3h0m1 2h0m-10 5h0m3 4h0m3 0h0m-10 1h0m4 2h0m11 0h0m-10 0h0m3 2h0m4 0h0m3 0h0m-13 0h0m12 0h0m-5 1h0m1 0h0m-8 0h0m0 0h0m5 3h0m-1 0h0m1 0h0m-8 1h0m13 1h0m-4 1h0m-6 0h0m5 1h0m3 1h0m-10 0h0m7 1h0m7 1h0m-2 0h0m-9 3h0m1 1h0m9 0h0m1 0h0m-13 1h0m1 1h0m12 1h0m-4 1h0m2 0h0m-13 3h0m3 2h0m1 1h0m6 0h0m0 2h0m-9 2h0m13 2h0m-7 0h0m-2 1h0m3 3h0m-3 0h0m10 1h0m-6 1h0m-9 1h0m6 2h0m-2 0h0m-2 5h0m4 1h0m0 0h0m-1 3h0m-1 2h0m10 0h0m2 1h0m-3 0h0m-3 1h0m1 2h0m-9 1h0m9 1h0m-5 1h0m5 0h0m3 1h0m-12 18h0m9 3h0m2 16h0m2 1h0m-15 2h0m14 0h0m-11 1h0m-3 0h0m5 1h0m7 1h0m-5 2h0m3 0h0m-9 2h0m8 0h0m-8 2h0m9 2h0m0 0h0m-4 0h0m-1 4h0m6 1h0m-2 0h0m-5 2h0m5 1h0m-4 0h0m10 1h0m-8 0h0m-5 0h0m5 0h0m7 2h0m-7 1h0m-3 3h0m14-212h0m3 0h0m10 2h0m-7 13h0m-8 4h0m12 0h0m-5 2h0m5 2h0m2 41h0m-12 1h0m8 2h0m-6 1h0m7 5h0m-2 2h0m0 0h0m-3 4h0m5 1h0m-1 2h0m2 0h0m2 0h0m-1 1h0m-4 0h0m-2 2h0m-1 0h0m0 1h0m7 1h0m2 1h0m-13 0h0m5 1h0m7 0h0m-6 0h0m7 0h0m-6 0h0m-5 1h0m-1 0h0m-1 1h0m7 0h0m2 1h0m-11 1h0m16 1h0m-11 1h0m1 1h0m2 0h0m6 1h0m-14 0h0m12 1h0m-11 3h0m14 0h0m-12 0h0m3 1h0m-6 0h0m3 2h0m0 3h0m5 0h0m3 0h0m3 3h0m-4 0h0m1 2h0m5 0h0m-10 4h0m1 7h0m4 0h0m3 2h0m-9 4h0m4 1h0m-4 0h0m5 1h0m-7 1h0m4 0h0m-1 0h0m2 1h0m3 1h0m-10 2h0m13 0h0m-13 2h0m12 0h0m-9 0h0m1 1h0m2 2h0m3 2h0m3 1h0m-10 1h0m12 32h0m-8 5h0m7 0h0m-11 1h0m3 0h0m9 1h0m-10 1h0m0 6h0m-5 1h0m5 4h0m5 0h0m-9 1h0m14 0h0m-7 1h0m-5 1h0m-1 0h0m9 0h0m1 1h0m-11 3h0m11 0h0m2 0h0m-14 1h0m4 0h0m5 0h0m5 0h0m-5 0h0m1 0h0m0 1h0m1 0h0m19-222h0m-2 9h0m2 5h0m-2 6h0m-9 6h0m2 2h0m-5 1h0m9 3h0m-3 2h0m-1 47h0m10 3h0m-14 4h0m8 2h0m4 0h0m0 1h0m-6 0h0m5 1h0m-6 8h0m1 0h0m-2 2h0m5 0h0m-9 2h0m2 0h0m-1 0h0m0 0h0m8 0h0m6 0h0m-10 2h0m3 1h0m-3 0h0m0 1h0m7 0h0m-2 0h0m-9 1h0m6 0h0m0 1h0m-3 0h0m8 1h0m-12 0h0m8 0h0m2 1h0m-8 0h0m12 1h0m-3 2h0m-8 1h0m-1 0h0m8 0h0m-1 0h0m1 2h0m3 0h0m0 1h0m-11 0h0m7 2h0m3 0h0m3 1h0m-10 3h0m6 1h0m-5 2h0m-7 0h0m11 1h0m-1 0h0m-1 4h0m0 3h0m-3 0h0m6 1h0m1 0h0m-11 2h0m3 2h0m9 1h0m-8 4h0m7 0h0m-10 2h0m12 2h0m-8 1h0m-7 0h0m0 1h0m5 3h0m9 0h0m-4 2h0m-6 0h0m11 2h0m-14 1h0m6 2h0m-6 1h0m12 7h0m2 6h0m-15 7h0m4 1h0m4 8h0m-6 2h0m4 0h0m8 1h0m-14 1h0m4 0h0m9 0h0m-7 5h0m4 2h0m4 0h0m-2 1h0m-4 0h0m8 0h0m-7 1h0m-8 1h0m6 3h0m3 1h0m1 0h0m2 0h0m3 3h0m-8 1h0m4 1h0m-3 0h0m4 2h0m-9 1h0m2 1h0m-6 1h0m1 0h0m21-215h0m-6 1h0m3 1h0m6 1h0m5 0h0m-9 1h0m9 5h0m-4 0h0m-5 5h0m8 1h0m-3 64h0m-3 0h0m-4 0h0m8 2h0m1 2h0m-11 4h0m8 1h0m-5 2h0m5 3h0m-6 1h0m8 0h0m0 0h0m-10 1h0m13 1h0m-2 1h0m-8 1h0m1 1h0m5 0h0m-3 0h0m8 1h0m1 0h0m-10 1h0m8 0h0m-3 2h0m-5 0h0m5 1h0m-4 0h0m-6 1h0m10 3h0m1 0h0m-9 4h0m-2 1h0m3 1h0m4 1h0m-3 0h0m-1 1h0m5 1h0m-3 1h0m8 2h0m-12 0h0m2 0h0m-4 2h0m7 5h0m4 0h0m-2 1h0m1 1h0m-7 4h0m11 1h0m-8 0h0m7 0h0m-1 0h0m2 0h0m1 2h0m-13 0h0m-2 0h0m14 1h0m-11 2h0m12 0h0m-14 2h0m2 1h0m6 0h0m0 1h0m-6 1h0m13 3h0m-14 0h0m5 3h0m2 0h0m3 1h0m-2 0h0m4 0h0m-6 2h0m-6 1h0m0 0h0m14 1h0m-4 2h0m-5 0h0m-1 21h0m9 5h0m-13 2h0m-1 0h0m1 1h0m11 1h0m-6 1h0m0 0h0m-2 1h0m5 1h0m0 0h0m-7 1h0m4 1h0m-4 0h0m9 2h0m-2 1h0m-6 0h0m9 1h0m-2 0h0m-1 1h0m-1 1h0m-4 2h0m5 0h0m4 1h0m-6 0h0m7 3h0m-4 0h0m4 2h0m-14 0h0m11 0h0m5-204h0m14 5h0m-8 1h0m2 1h0m1 2h0m3 4h0m-2 3h0m-8 2h0m2 1h0m10 10h0m-2 27h0m-5 17h0m4 4h0m-7 1h0m4 1h0m-1 1h0m7 2h0m0 3h0m-8 1h0m-4 1h0m10 6h0m-10 1h0m3 0h0m10 1h0m-4 1h0m2 1h0m-1 0h0m2 0h0m-11 1h0m7 0h0m1 0h0m-5 0h0m5 0h0m1 1h0m-12 1h0m0 1h0m6 1h0m3 2h0m-6 0h0m3 0h0m1 1h0m-6 1h0m7 2h0m-7 0h0m8 0h0m3 1h0m-2 1h0m-10 0h0m8 0h0m5 0h0m-8 1h0m9 1h0m-13 2h0m11 1h0m-13 0h0m8 1h0m-2 0h0m5 1h0m-11 1h0m3 0h0m8 1h0m-3 0h0m-7 1h0m5 2h0m9 2h0m-9 4h0m-4 6h0m4 1h0m4 0h0m5 2h0m-6 1h0m-3 1h0m-4 2h0m2 1h0m2 4h0m8 0h0m-11 1h0m9 2h0m-4 0h0m8 0h0m-1 0h0m-12 4h0m2 1h0m3 0h0m6 0h0m-10 1h0m-3 13h0m15 8h0m-2 1h0m-11 0h0m-2 0h0m8 1h0m3 1h0m-1 1h0m2 0h0m2 3h0m-3 0h0m4 0h0m-9 1h0m8 2h0m-10 1h0m7 1h0m-2 0h0m-2 0h0m-7 0h0m1 1h0m6 0h0m-1 0h0m-5 1h0m10 1h0m-7 1h0m3 1h0m2 1h0m-9 4h0m2 2h0m-1 1h0m3 1h0m18-200h0m-6 18h0m3 6h0m7 8h0m0 5h0m-10 0h0m13 6h0m-7 2h0m2 1h0m6 4h0m-12 5h0m12 5h0m-5 2h0m-8 3h0m3 9h0m1 0h0m0 2h0m5 0h0m3 0h0m-2 1h0m-11 0h0m9 0h0m-8 1h0m5 3h0m2 0h0m7 1h0m-16 2h0m3 4h0m11 2h0m-2 0h0m2 0h0m-9 3h0m9 0h0m-12 1h0m2 1h0m4 0h0m-4 0h0m9 1h0m-5 3h0m3 1h0m2 2h0m-8 1h0m-1 0h0m9 2h0m-4 3h0m-2 0h0m-7 1h0m10 0h0m-7 0h0m8 3h0m4 1h0m-5 0h0m-7 1h0m8 0h0m-1 1h0m-9 2h0m7 2h0m-4 3h0m5 1h0m-5 2h0m10 0h0m-11 3h0m10 0h0m-8 2h0m9 4h0m-7 1h0m-2 0h0m-3 0h0m13 1h0m-1 3h0m-7 0h0m-5 2h0m8 0h0m-5 1h0m-2 0h0m-3 2h0m13 0h0m-6 2h0m5 2h0m-2 1h0m0 1h0m-7 0h0m-1 1h0m7 1h0m-2 5h0m4 0h0m4 3h0m-6 0h0m-3 1h0m6 4h0m-11 1h0m13 1h0m0 1h0m-11 1h0m3 1h0m5 0h0m-8 3h0m7 1h0m6 1h0m-7 0h0m4 0h0m-2 1h0m-1 1h0m-5 1h0m-4 1h0m12 0h0m-3 1h0m-1 2h0m-8 1h0m13 1h0m-11 3h0m13 0h0m-14 1h0m5 0h0m-1 1h0m-6 0h0m6 3h0m1 0h0m13-195h0m9 17h0m-3 4h0m-1 2h0m-8 15h0m8 4h0m4 0h0m-6 3h0m7 4h0m-3 3h0m-9 7h0m7 2h0m7 4h0m-11 0h0m10 5h0m-7 5h0m3 2h0m1 5h0m3 1h0m-9 1h0m1 0h0m8 1h0m-10 1h0m-4 0h0m10 1h0m5 1h0m-3 1h0m0 2h0m-3 0h0m4 0h0m-6 2h0m-8 3h0m14 0h0m1 0h0m-15 2h0m4 2h0m4 1h0m-5 2h0m7 1h0m-8 1h0m7 1h0m-4 1h0m3 1h0m0 0h0m0 1h0m-5 1h0m0 2h0m6 0h0m-7 0h0m-2 0h0m15 1h0m-8 3h0m-4 6h0m5 0h0m5 0h0m-7 3h0m-5 1h0m11 2h0m-2 4h0m-4 0h0m10 1h0m-1 0h0m-5 2h0m-6 2h0m7 1h0m-4 1h0m8 2h0m-14 0h0m3 1h0m-3 0h0m8 0h0m-7 2h0m9 1h0m1 0h0m-3 0h0m5 3h0m-13 1h0m1 2h0m2 0h0m0 3h0m-1 0h0m8 1h0m-7 1h0m6 0h0m6 0h0m-3 1h0m1 2h0m-4 6h0m5 0h0m-11 1h0m6 0h0m1 1h0m3 0h0m-13 0h0m14 2h0m-8 1h0m0 0h0m-2 2h0m-2 0h0m1 1h0m5 0h0m-8 1h0m7 0h0m4 2h0m-2 0h0m-3 1h0m8 1h0m-11 2h0m10 1h0m-6 1h0m-1 2h0m-1 0h0m-1 0h0m-2 1h0m7 3h0m-9 0h0m11 1h0m-6 0h0m8 1h0m-12 3h0m23-176h0m-7 6h0m1 0h0m-2 2h0m10 3h0m-9 3h0m3 0h0m9 14h0m-4 4h0m2 1h0m-6 4h0m1 2h0m4 3h0m-10 2h0m7 2h0m6 2h0m-8 3h0m4 5h0m-1 1h0m-4 1h0m-1 1h0m-2 1h0m11 0h0m3 0h0m-5 4h0m-10 0h0m5 0h0m-4 0h0m2 1h0m2 2h0m-6 4h0m2 1h0m12 0h0m-7 4h0m-7 1h0m5 2h0m-1 0h0m2 1h0m1 6h0m-3 6h0m4 0h0m-7 5h0m3 0h0m8 1h0m-4 0h0m3 0h0m2 0h0m-9 4h0m-2 0h0m12 0h0m-11 1h0m0 1h0m12 2h0m-10 1h0m9 2h0m-2 2h0m-4 0h0m3 0h0m-9 3h0m-1 0h0m6 3h0m8 1h0m-2 2h0m2 1h0m-11 0h0m11 1h0m-11 3h0m8 4h0m-6 1h0m5 0h0m-2 1h0m-1 1h0m3 1h0m-11 0h0m1 1h0m13 1h0m-9 0h0m3 3h0m-3 1h0m4 0h0m-6 8h0m0 1h0m5 0h0m5 0h0m-6 1h0m1 0h0m1 1h0m6 0h0m-1 3h0m-3 0h0m0 0h0m-8 0h0m3 1h0m3 0h0m2 2h0m2 0h0m-6 1h0m-6 1h0m14 2h0m-7 0h0m-6 2h0m1 1h0m1 0h0m-3 1h0m14 1h0m-10 0h0m9 0h0m2 1h0m-11 0h0m6 1h0m-7 1h0m0 2h0m5 0h0m-1 1h0m13-177h0m4 11h0m-8 3h0m1 2h0m5 13h0m-1 1h0m8 2h0m-2 0h0m-8 1h0m2 1h0m6 4h0m-4 0h0m2 3h0m-6 0h0m10 1h0m-7 5h0m8 0h0m-10 4h0m8 3h0m-1 5h0m-3 2h0m-3 3h0m5 2h0m-9 1h0m5 3h0m8 1h0m-13 3h0m6 3h0m1 7h0m-7 0h0m0 14h0m10 3h0m1 1h0m-6 3h0m4 4h0m-7 1h0m3 0h0m1 3h0m-4 1h0m1 0h0m10 2h0m-15 1h0m13 1h0m-3 2h0m6 0h0m-13 1h0m2 0h0m6 2h0m-5 0h0m-4 2h0m7 1h0m-1 1h0m-4 4h0m-2 1h0m12 2h0m-3 0h0m-6 0h0m11 0h0m-6 2h0m-9 0h0m7 0h0m2 1h0m0 1h0m2 0h0m-11 1h0m5 0h0m2 0h0m-3 1h0m7 0h0m0 0h0m-8 1h0m10 2h0m-10 0h0m-1 1h0m-2 1h0m12 0h0m-1 0h0m1 1h0m-6 0h0m-4 1h0m10 1h0m0 0h0m-3 0h0m-1 1h0m-2 1h0m8 1h0m-5 0h0m-8 2h0m13 1h0m-5 0h0m0 1h0m-8 0h0m-1 0h0m5 2h0m4 1h0m-2 1h0m-2 1h0m-1 0h0m10 1h0m-8 0h0m-3 2h0m11 0h0m-11 1h0m-4 3h0m11 1h0m-3 1h0m-7 4h0m25-171h0m6 2h0m-14 1h0m11 9h0m-3 4h0m-6 7h0m6 2h0m-6 7h0m2 2h0m1 9h0m7 0h0m-3 2h0m-9 7h0m8 1h0m-4 4h0m-6 3h0m13 2h0m-9 4h0m11 3h0m-6 1h0m-3 5h0m-2 6h0m6 0h0m4 2h0m-13 2h0m5 3h0m9 7h0m-4 4h0m3 4h0m-4 0h0m-3 2h0m6 1h0m2 0h0m-15 1h0m9 2h0m-3 1h0m5 2h0m2 0h0m-4 0h0m-3 1h0m-4 0h0m12 2h0m-3 1h0m-8 2h0m5 1h0m4 1h0m3 2h0m-3 3h0m-1 1h0m-8 1h0m4 1h0m-6 2h0m4 1h0m10 1h0m1 0h0m-13 1h0m5 1h0m1 0h0m3 0h0m-9 1h0m4 1h0m5 2h0m-5 1h0m-2 0h0m6 0h0m4 0h0m-10 0h0m-1 1h0m-2 0h0m3 0h0m-4 0h0m4 1h0m1 0h0m-5 1h0m13 1h0m-2 0h0m-5 1h0m9 1h0m-1 1h0m-9 1h0m0 1h0m-6 0h0m2 1h0m12 1h0m-4 1h0m-7 0h0m9 0h0m-2 3h0m-5 0h0m6 1h0m-4 0h0m8 1h0m-6 0h0m1 0h0m-6 0h0m9 0h0m-5 0h0m-5 2h0m1 5h0m0 0h0m-2 3h0m24-160h0m-4 1h0m3 16h0m7 5h0m-12 1h0m7 0h0m-8 0h0m0 6h0m3 0h0m6 12h0m-3 0h0m-7 4h0m3 1h0m9 1h0m-9 5h0m-2 3h0m-2 8h0m11 0h0m-2 4h0m5 1h0m-6 3h0m-2 2h0m-3 2h0m10 6h0m-1 4h0m-5 2h0m5 7h0m-13 1h0m16 0h0m-12 0h0m8 0h0m-2 4h0m-9 0h0m14 0h0m-4 1h0m-6 1h0m6 1h0m-10 1h0m1 2h0m0 0h0m7 2h0m-9 0h0m13 1h0m-5 3h0m0 1h0m-2 3h0m1 5h0m-3 0h0m-1 1h0m6 0h0m2 1h0m3 0h0m2 1h0m-5 1h0m-5 0h0m6 0h0m-8 2h0m12 0h0m-12 0h0m-1 1h0m3 0h0m-4 0h0m13 1h0m-6 0h0m3 1h0m2 0h0m-7 1h0m-4 0h0m4 0h0m3 2h0m5 0h0m-11 0h0m-3 0h0m7 1h0m-4 1h0m5 0h0m6 0h0m-10 1h0m8 0h0m-11 1h0m2 0h0m-3 1h0m6 1h0m8 0h0m-4 1h0m1 0h0m-3 1h0m-4 0h0m4 0h0m-6 1h0m1 0h0m1 2h0m7 1h0m-9 0h0m4 1h0m5 2h0m-6 1h0m-5 0h0m13 0h0m-5 0h0m4 0h0m0 1h0m-4 1h0m12-138h0m8 5h0m-7 0h0m9 1h0m-3 6h0m-9 7h0m-3 4h0m5 7h0m-1 3h0m2 14h0m3 1h0m2 1h0m-9 8h0m13 4h0m-15 2h0m15 0h0m-3 2h0m2 2h0m-8 1h0m2 0h0m3 1h0m0 1h0m-3 0h0m-2 3h0m7 4h0m-10 2h0m9 4h0m-8 1h0m4 2h0m-1 1h0m2 1h0m5 1h0m-13 0h0m15 3h0m-3 1h0m-7 0h0m3 1h0m3 1h0m2 1h0m-12 1h0m8 0h0m-6 3h0m0 0h0m8 2h0m-5 1h0m-3 3h0m4 0h0m7 1h0m-15 1h0m14 2h0m-5 2h0m-6 0h0m8 1h0m1 1h0m-12 0h0m2 0h0m7 1h0m-3 1h0m-6 0h0m2 0h0m3 1h0m-2 0h0m1 0h0m5 0h0m-5 0h0m6 1h0m-6 1h0m7 0h0m-8 1h0m4 0h0m3 0h0m-7 1h0m10 0h0m-7 1h0m6 1h0m-10 0h0m6 1h0m2 0h0m5 0h0m-10 0h0m8 0h0m-6 1h0m-2 1h0m-4 1h0m14 2h0m-7 2h0m2 0h0m-8 1h0m11 0h0m-6 0h0m-2 0h0m4 1h0m-7 1h0m14 1h0m0 1h0m-4 0h0m2 1h0m8-135h0m-3 4h0m2 0h0m10 10h0m-9 12h0m8 5h0m0 2h0m-2 0h0m-11 1h0m8 7h0m6 4h0m-6 1h0m2 2h0m-9 1h0m-1 0h0m5 0h0m-5 4h0m10 2h0m4 0h0m-10 1h0m0 0h0m6 3h0m-8 0h0m0 7h0m6 1h0m4 3h0m-1 5h0m-4 6h0m7 2h0m-6 2h0m-6 1h0m-1 0h0m3 3h0m5 2h0m6 2h0m-4 0h0m-6 1h0m4 1h0m-4 2h0m-3 1h0m2 1h0m10 0h0m-9 3h0m2 0h0m4 1h0m0 0h0m-4 2h0m4 1h0m-6 0h0m1 1h0m-3 0h0m9 0h0m-8 0h0m8 2h0m-13 0h0m15 1h0m-10 0h0m5 0h0m-9 1h0m0 0h0m4 0h0m-5 1h0m2 1h0m7 0h0m-1 0h0m5 1h0m-6 0h0m-4 0h0m7 1h0m1 1h0m4 0h0m-10 0h0m7 0h0m-8 0h0m5 0h0m-6 1h0m5 0h0m-7 0h0m12 0h0m-11 0h0m10 1h0m-4 1h0m7 0h0m-3 0h0m-6 0h0m7 1h0m-8 0h0m-2 0h0m-1 0h0m11 1h0m1 1h0m1 1h0m-3 1h0m-3 2h0m2 1h0m-9 1h0m14 0h0m-6 0h0m1 4h0m-8 1h0m3 0h0m-5 2h0m6 1h0m21-138h0m-10 15h0m13 2h0m-7 7h0m-6 2h0m4 2h0m1 4h0m4 0h0m-6 0h0m1 1h0m8 7h0m-3 4h0m-8 1h0m6 1h0m-1 2h0m-4 2h0m-4 0h0m1 4h0m11 2h0m-7 3h0m-3 1h0m8 1h0m-5 5h0m2 2h0m4 4h0m3 0h0m1 3h0m-11 0h0m10 1h0m-5 2h0m-7 4h0m9 1h0m-6 0h0m3 0h0m-5 3h0m10 1h0m-3 1h0m-9 3h0m13 0h0m-11 5h0m10 3h0m-9 0h0m11 4h0m0 1h0m-3 1h0m-4 0h0m4 2h0m-4 1h0m-4 1h0m-2 1h0m1 0h0m12 1h0m0 1h0m-9 1h0m4 1h0m-5 1h0m2 0h0m-6 0h0m7 0h0m-7 0h0m1 0h0m3 1h0m1 0h0m1 0h0m-5 0h0m4 0h0m-6 1h0m1 0h0m11 1h0m2 0h0m-12 1h0m11 0h0m-2 0h0m-5 0h0m9 0h0m-6 0h0m-6 1h0m8 0h0m-8 1h0m12 1h0m-6 1h0m-3 0h0m1 0h0m3 1h0m2 1h0m-11 1h0m4 0h0m-3 0h0m8 0h0m-7 1h0m13 1h0m-3 1h0m-12 1h0m8 0h0m-1 1h0m5 0h0m-2 1h0m-4 1h0m6 3h0m2 3h0m12-137h0m-6 1h0m-2 2h0m12 5h0m-3 6h0m-7 1h0m10 6h0m-7 5h0m-8 1h0m12 2h0m-6 0h0m-3 0h0m6 2h0m3 2h0m-10 1h0m13 4h0m-7 2h0m-3 1h0m5 1h0m-10 4h0m4 2h0m3 4h0m5 0h0m-12 2h0m9 1h0m-5 3h0m2 1h0m-5 3h0m7 5h0m7 2h0m-4 2h0m2 6h0m-11 3h0m-1 0h0m-1 2h0m16 1h0m-9 1h0m6 0h0m1 1h0m-8 1h0m-1 1h0m9 5h0m-4 1h0m3 0h0m-10 2h0m11 1h0m-11 1h0m8 2h0m-5 1h0m1 2h0m6 1h0m-11 4h0m-1 3h0m7 0h0m2 1h0m-3 0h0m0 0h0m-3 0h0m10 0h0m-14 1h0m6 0h0m-4 2h0m7 0h0m0 0h0m0 0h0m-8 0h0m-1 0h0m4 1h0m10 0h0m1 0h0m-6 1h0m2 0h0m-7 1h0m9 1h0m-4 0h0m3 0h0m-6 0h0m-6 1h0m5 0h0m11 0h0m-1 1h0m-5 1h0m1 1h0m-10 0h0m7 2h0m5 0h0m2 1h0m-6 2h0m-1 1h0m-4 2h0m7 0h0m-5 1h0m3 1h0m-6 1h0m3 0h0m8 1h0m-6 0h0m3 2h0m5 5h0m10-139h0m-6 1h0m-2 0h0m12 7h0m1 2h0m-3 1h0m3 1h0m-12 7h0m6 3h0m5 1h0m-12 10h0m0 1h0m2 1h0m2 1h0m9 7h0m-12 1h0m6 1h0m2 6h0m-6 1h0m9 7h0m-7 0h0m-3 0h0m-3 1h0m1 1h0m9 1h0m1 0h0m-1 3h0m1 5h0m-5 1h0m0 6h0m8 1h0m-12 1h0m5 0h0m1 4h0m-1 0h0m-3 1h0m6 0h0m-9 1h0m10 0h0m-5 3h0m3 1h0m-9 0h0m8 0h0m2 1h0m-6 0h0m7 3h0m3 0h0m-3 0h0m3 2h0m-12 0h0m-1 5h0m0 0h0m7 2h0m6 0h0m-1 2h0m-14 1h0m15 2h0m-13 1h0m11 1h0m-7 1h0m6 1h0m-6 0h0m3 0h0m-1 0h0m0 1h0m4 0h0m-2 0h0m-2 1h0m-1 0h0m-4 1h0m11 0h0m-7 1h0m8 0h0m-1 0h0m-9 3h0m7 0h0m1 1h0m-8 1h0m2 0h0m4 0h0m0 1h0m-6 0h0m-4 0h0m1 1h0m13 0h0m-12 1h0m10 0h0m-11 2h0m4 2h0m5 1h0m2 0h0m-10 3h0m-1 0h0m5 0h0m9 4h0m-8 0h0m-8 5h0m7 2h0m18-140h0m-3 11h0m7 7h0m-7 0h0m-3 3h0m10 4h0m-2 1h0m4 0h0m-7 6h0m-6 1h0m3 4h0m2 4h0m-1 0h0m5 1h0m-3 7h0m2 2h0m-1 1h0m-4 3h0m9 1h0m-14 1h0m1 2h0m8 6h0m-9 1h0m13 3h0m-10 1h0m13 1h0m-9 2h0m5 4h0m-12 4h0m4 0h0m6 1h0m0 1h0m-3 0h0m0 2h0m3 1h0m-7 1h0m10 0h0m-1 0h0m-4 1h0m1 1h0m-1 1h0m-3 1h0m9 1h0m1 2h0m-12 2h0m12 0h0m-11 0h0m-3 1h0m6 6h0m-5 0h0m12 0h0m-11 2h0m6 1h0m-3 0h0m-3 2h0m11 0h0m-9 0h0m-4 3h0m5 1h0m-2 0h0m12 2h0m-4 1h0m-2 0h0m3 0h0m-2 1h0m0 0h0m-10 0h0m4 1h0m0 0h0m2 0h0m2 1h0m-2 0h0m-1 0h0m6 1h0m-4 1h0m5 2h0m-11 0h0m1 2h0m12 1h0m-15 0h0m5 1h0m11 0h0m-4 0h0m-6 1h0m0 1h0m4 1h0m-8 0h0m10 1h0m-1 2h0m-10 2h0m1 2h0m12 7h0m16-131h0m-11 0h0m-2 1h0m7 0h0m2 2h0m-5 3h0m6 7h0m-8 0h0m4 2h0m9 3h0m-7 1h0m-2 1h0m4 3h0m-10 3h0m2 3h0m4 4h0m3 3h0m0 0h0m4 5h0m-1 1h0m-4 2h0m4 0h0m-11 1h0m12 9h0m-8 0h0m-4 1h0m5 2h0m-2 1h0m-2 7h0m-1 1h0m1 1h0m12 0h0m-2 1h0m-11 1h0m7 0h0m-3 0h0m-6 1h0m14 1h0m-6 2h0m-1 1h0m5 1h0m-3 4h0m-7 1h0m12 5h0m-14 0h0m11 4h0m-6 1h0m5 0h0m-6 1h0m5 0h0m-5 1h0m2 2h0m-2 1h0m9 1h0m-6 0h0m4 0h0m-6 0h0m-2 0h0m4 1h0m3 1h0m4 0h0m-1 0h0m-5 0h0m7 0h0m-14 1h0m0 1h0m0 0h0m1 1h0m2 0h0m7 0h0m3 1h0m-3 1h0m2 1h0m-10 1h0m9 0h0m-10 0h0m7 2h0m-3 0h0m6 0h0m-9 1h0m0 0h0m12 1h0m-8 0h0m0 1h0m-4 1h0m4 0h0m5 3h0m-11 1h0m4 0h0m3 0h0m7 0h0m-1 0h0m1 3h0m-3 0h0m1 6h0m-8 1h0m8 6h0m2 6h0m-4 6h0m-2 3h0m19-162h0m-6 1h0m2 1h0m6 4h0m-2 4h0m-8 11h0m12 2h0m-15 3h0m5 0h0m-2 3h0m6 4h0m-5 9h0m8 0h0m-9 9h0m7 2h0m-5 3h0m5 1h0m-7 1h0m11 2h0m-11 4h0m5 4h0m0 3h0m5 0h0m-13 2h0m0 2h0m7 5h0m0 0h0m-5 2h0m5 1h0m7 1h0m-4 0h0m-5 0h0m0 0h0m6 2h0m-5 1h0m2 0h0m-9 2h0m12 1h0m-11 0h0m7 3h0m3 0h0m4 2h0m-5 1h0m2 0h0m-4 4h0m-2 0h0m3 5h0m-4 0h0m11 2h0m-11 2h0m8 2h0m-4 0h0m-8 1h0m0 1h0m7 0h0m1 0h0m-6 1h0m3 0h0m6 0h0m-7 0h0m6 2h0m2 0h0m-6 1h0m6 1h0m-13 1h0m10 0h0m1 1h0m-7 0h0m-2 0h0m13 1h0m-9 0h0m3 0h0m2 0h0m-8 2h0m3 1h0m-5 0h0m14 1h0m0 0h0m-1 0h0m-2 0h0m-1 1h0m-8 0h0m12 0h0m-1 1h0m-13 0h0m8 1h0m0 1h0m-2 2h0m-6 1h0m1 1h0m4 2h0m6 4h0m-9 0h0m6 4h0m7 1h0m-10 11h0m-4 1h0m2 1h0m0 14h0m3 2h0m23-192h0m-2 1h0m3 4h0m-12 9h0m3 0h0m0 1h0m2 0h0m0 2h0m-7 2h0m1 1h0m1 5h0m6 12h0m-4 8h0m9 10h0m-10 10h0m2 4h0m1 1h0m6 3h0m-1 2h0m2 7h0m-4 9h0m-1 4h0m-6 6h0m5 0h0m1 1h0m0 0h0m-2 3h0m4 0h0m-10 0h0m8 0h0m-2 1h0m4 1h0m-9 1h0m11 0h0m-2 0h0m-8 1h0m2 0h0m-2 0h0m12 2h0m-1 0h0m-2 4h0m-1 2h0m-6 2h0m-2 2h0m1 2h0m10 1h0m1 2h0m-8 1h0m-6 2h0m6 2h0m-7 0h0m6 1h0m9 0h0m0 1h0m-11 0h0m9 0h0m-3 1h0m-2 0h0m7 2h0m-8 0h0m-6 1h0m10 1h0m-7 0h0m3 0h0m-6 1h0m13 0h0m-8 1h0m9 0h0m-12 0h0m12 1h0m-1 1h0m-4 1h0m0 0h0m-8 1h0m7 0h0m-8 1h0m1 0h0m8 1h0m-6 0h0m9 1h0m-8 0h0m7 1h0m-4 1h0m-6 1h0m7 7h0m-4 2h0m7 5h0m-5 4h0m-6 0h0m10 1h0m16-111h0m1 12h0m4 2h0m-8 7h0m0 3h0m-3 1h0m6 0h0m4 2h0m-6 5h0m4 1h0m-9 3h0m-1 3h0m4 4h0m4 0h0m-10 2h0m2 3h0m3 0h0m8 3h0m-6 1h0m-2 2h0m10 0h0m-10 1h0m8 0h0m-3 4h0m0 2h0m2 1h0m-11 2h0m13 1h0m-11 1h0m7 2h0m3 1h0m-8 1h0m8 1h0m-2 0h0m1 0h0m-10 1h0m-1 1h0m9 1h0m3 1h0m-10 0h0m0 0h0m5 1h0m-5 0h0m11 1h0m-13 0h0m12 0h0m-6 0h0m-7 1h0m10 1h0m-1 1h0m-5 0h0m4 0h0m-8 2h0m5 0h0m-2 0h0m10 1h0m-9 0h0m1 0h0m10 0h0m-15 1h0m1 0h0m4 0h0m4 0h0m-5 1h0m2 0h0m1 2h0m-7 0h0m8 1h0m4 0h0m-4 1h0m5 0h0m-14 0h0m4 3h0m4 3h0m-2 3h0m-2 3h0m-3 2h0m13 3h0m-3 5h0m19-120h0m-3 5h0m-7 3h0m2 0h0m7 1h0m-11 8h0m2 5h0m4 15h0m-7 2h0m7 2h0m-6 0h0m2 2h0m11 7h0m-7 3h0m-5 1h0m10 1h0m-11 3h0m4 1h0m9 0h0m-9 1h0m1 0h0m-2 1h0m7 0h0m-7 1h0m9 0h0m-14 2h0m1 3h0m5 1h0m0 1h0m4 1h0m3 3h0m-3 1h0m-8 1h0m6 0h0m3 2h0m0 1h0m2 0h0m-5 1h0m-6 1h0m10 0h0m-6 0h0m7 1h0m-9 1h0m-1 0h0m1 1h0m11 0h0m-8 1h0m-3 1h0m2 0h0m5 1h0m-9 0h0m13 0h0m-1 1h0m-10 1h0m0 0h0m11 0h0m-7 0h0m8 0h0m-7 2h0m2 0h0m-6 0h0m4 0h0m-3 2h0m3 0h0m3 1h0m-11 0h0m5 2h0m10 0h0m-8 2h0m7 0h0m-13 0h0m-1 1h0m14 1h0m-3 0h0m-2 0h0m-7 1h0m3 1h0m6 4h0m-6 2h0m-3 7h0m12 1h0m13-92h0m3 4h0m-6 0h0m-8 2h0m0 6h0m14 2h0m-6 3h0m-5 0h0m2 4h0m5 4h0m1 2h0m-10 2h0m-2 1h0m3 2h0m6 3h0m5 0h0m-12 0h0m0 2h0m6 3h0m4 1h0m2 1h0m-8 1h0m4 0h0m3 2h0m1 1h0m-10 1h0m9 1h0m1 3h0m-4 0h0m2 2h0m-1 1h0m-1 1h0m-2 1h0m4 0h0m4 1h0m-1 0h0m-12 1h0m8 1h0m-1 0h0m0 1h0m1 1h0m4 0h0m-10 0h0m-3 1h0m0 1h0m13 1h0m-9 0h0m-3 0h0m1 0h0m1 1h0m3 0h0m5 0h0m-12 0h0m6 0h0m-4 1h0m0 1h0m2 1h0m-3 0h0m7 0h0m-5 1h0m-3 1h0m7 0h0m2 0h0m3 2h0m0 0h0m-8 0h0m2 0h0m-5 1h0m11 0h0m-8 1h0m5 1h0m0 2h0m6 0h0m-12 0h0m6 1h0m-6 7h0m-3 2h0m2 0h0m11 1h0m-3 1h0m-4 1h0m-2 1h0m21-125h0m-4 20h0m4 0h0m2 18h0m-10 0h0m14 4h0m-14 2h0m11 2h0m3 1h0m-8 3h0m-1 2h0m9 10h0m-4 0h0m-6 0h0m3 4h0m3 1h0m-2 1h0m-7 1h0m9 0h0m-4 0h0m-7 6h0m7 2h0m-5 2h0m9 0h0m-4 4h0m6 0h0m-1 1h0m-10 1h0m-1 0h0m5 0h0m6 0h0m2 1h0m-10 0h0m-3 1h0m4 1h0m-5 0h0m-1 0h0m8 0h0m0 1h0m-7 0h0m10 0h0m-10 2h0m13 2h0m-14 1h0m6 0h0m9 0h0m-1 1h0m-3 0h0m2 1h0m-10 0h0m2 0h0m10 0h0m-10 1h0m10 0h0m-2 1h0m1 0h0m-5 0h0m-7 0h0m1 1h0m3 1h0m5 1h0m-1 2h0m-1 1h0m0 1h0m2 0h0m-9 0h0m9 0h0m-2 1h0m-7 1h0m6 1h0m-5 0h0m4 0h0m0 1h0m-2 2h0m0 0h0m-3 0h0m13 3h0m-5 2h0m2 3h0m-11 5h0m21-126h0m5 2h0m-4 2h0m-2 4h0m8 0h0m-3 0h0m-5 6h0m10 6h0m-5 1h0m2 3h0m-1 4h0m4 2h0m-12 0h0m10 2h0m-4 0h0m5 5h0m-13 2h0m8 3h0m-6 10h0m-3 3h0m15 4h0m-9 0h0m-1 4h0m5 0h0m3 1h0m-2 1h0m-4 0h0m1 1h0m7 1h0m-9 1h0m7 1h0m-12 1h0m0 0h0m11 3h0m2 0h0m-3 1h0m-10 0h0m12 1h0m1 1h0m-3 0h0m-6 0h0m-2 1h0m13 1h0m-12 0h0m2 5h0m-5 7h0m3 2h0m3 0h0m-1 1h0m8 1h0m-2 1h0m-3 0h0m0 2h0m-6 0h0m6 1h0m-1 0h0m-3 1h0m6 0h0m-7 2h0m6 0h0m-7 1h0m6 0h0m2 0h0m1 1h0m0 0h0m-3 0h0m-3 1h0m-4 0h0m11 2h0m-5 1h0m-2 0h0m4 2h0m6 0h0m-16 0h0m11 1h0m-8 1h0m13 0h0m-16 1h0m10 1h0m-6 0h0m6 0h0m-4 1h0m9 0h0m-12 1h0m0 0h0m12 1h0m1 2h0m-3 3h0m-1 2h0m-4 0h0m-7 0h0m14 1h0m-10 4h0m-2 0h0m5 1h0m4 0h0m17-196h0m0 13h0m3 2h0m0 51h0m-5 1h0m-11 1h0m10 1h0m-9 1h0m1 1h0m11 4h0m-8 2h0m1 1h0m-1 2h0m5 2h0m-8 4h0m7 1h0m6 1h0m-1 4h0m0 2h0m-4 2h0m-5 2h0m3 1h0m1 3h0m4 2h0m-10 0h0m3 2h0m6 1h0m-9 0h0m2 2h0m6 19h0m4 2h0m-2 1h0m-11 0h0m3 1h0m-2 0h0m12 1h0m-4 1h0m-1 1h0m1 2h0m-1 1h0m1 0h0m-6 1h0m9 0h0m-8 6h0m2 0h0m-5 2h0m5 0h0m-7 0h0m6 3h0m8 1h0m-9 2h0m-3 3h0m7 6h0m-8 0h0m12 0h0m-1 1h0m2 0h0m-5 0h0m1 0h0m-9 1h0m10 0h0m0 1h0m-9 1h0m1 0h0m1 1h0m-4 0h0m14 1h0m1 0h0m-16 1h0m14 0h0m-10 1h0m1 0h0m8 0h0m-9 0h0m12 0h0m-3 0h0m-1 0h0m-12 1h0m8 0h0m3 0h0m-7 1h0m-3 0h0m7 2h0m0 0h0m-3 1h0m-4 0h0m9 0h0m-4 1h0m0 1h0m8 0h0m2 1h0m-9 0h0m2 0h0m1 0h0m4 2h0m-5 3h0m-3 0h0m-6 0h0m3 2h0m4 1h0m-5 0h0m1 0h0m12 2h0m-3 7h0m3 4h0m7-204h0m-1 4h0m2 3h0m-6 2h0m2 8h0m1 4h0m-4 56h0m8 9h0m-2 8h0m8 2h0m0 1h0m-11 5h0m2 0h0m5 0h0m-3 0h0m-6 5h0m8 1h0m-7 0h0m8 1h0m-8 1h0m5 1h0m5 5h0m-6 3h0m-3 4h0m9 0h0m0 6h0m-2 1h0m4 6h0m-11 2h0m0 0h0m2 1h0m10 0h0m-15 3h0m8 2h0m-3 0h0m1 3h0m2 0h0m2 0h0m-3 4h0m5 1h0m-3 1h0m-5 1h0m6 1h0m5 1h0m-14 0h0m1 1h0m8 0h0m5 2h0m-7 1h0m1 1h0m4 0h0m-9 1h0m9 1h0m-12 1h0m8 5h0m-5 1h0m7 0h0m-10 0h0m12 1h0m-8 0h0m4 0h0m-4 1h0m5 0h0m5 0h0m-4 0h0m3 1h0m-14 1h0m2 0h0m0 2h0m12 0h0m-4 0h0m-3 0h0m7 1h0m-12 0h0m9 1h0m0 0h0m2 0h0m2 0h0m-10 1h0m8 1h0m-6 0h0m-1 0h0m5 1h0m-5 0h0m-5 0h0m3 1h0m5 1h0m-2 0h0m-3 0h0m-2 1h0m12 2h0m-2 1h0m-1 1h0m3 1h0m-5 1h0m-1 0h0m-3 0h0m9 0h0m0 2h0m-13 1h0m5 1h0m9 0h0m-4 1h0m-7 0h0m9 1h0m-11 2h0m23-177h0m-1 2h0m3 4h0m-4 5h0m4 3h0m5 0h0m-10 4h0m7 7h0m0 5h0m-5 35h0m-7 6h0m13 2h0m-8 6h0m6 1h0m-8 1h0m11 4h0m1 1h0m-7 3h0m-2 5h0m2 1h0m4 1h0m-6 1h0m-5 6h0m2 2h0m-1 4h0m4 2h0m-7 0h0m10 1h0m-8 3h0m14 0h0m-14 1h0m-1 0h0m8 3h0m2 1h0m-10 2h0m9 1h0m3 0h0m-11 0h0m7 0h0m0 3h0m5 1h0m-3 0h0m-10 2h0m4 3h0m0 2h0m2 5h0m3 2h0m5 0h0m1 1h0m-14 0h0m7 1h0m-1 3h0m-4 2h0m10 0h0m-9 1h0m6 1h0m2 0h0m1 0h0m-10 0h0m2 1h0m5 0h0m-3 0h0m-2 0h0m-3 1h0m5 1h0m-6 0h0m11 0h0m-7 0h0m8 0h0m-7 0h0m-2 1h0m9 0h0m-10 0h0m-3 1h0m3 1h0m-2 0h0m3 0h0m2 0h0m4 0h0m4 1h0m-7 0h0m-2 0h0m7 0h0m2 2h0m-13 0h0m6 0h0m-1 1h0m5 0h0m0 0h0m-10 1h0m9 1h0m0 3h0m-10 4h0m11 0h0m-8 0h0m0 1h0m5 0h0m5 0h0m-11 1h0m10 0h0m-10 1h0m-2 0h0m7 3h0m7 2h0m-12 0h0m5 0h0m0 0h0m3 2h0m3 2h0m12-179h0m-1 3h0m0 1h0m5 2h0m-11 0h0m-2 2h0m10 5h0m-5 6h0m7 4h0m-11 0h0m0 1h0m6 0h0m4 5h0m-8 2h0m9 1h0m0 15h0m0 5h0m2 2h0m0 3h0m0 1h0m-3 0h0m4 1h0m-2 6h0m-4 3h0m-3 3h0m8 0h0m-5 1h0m3 1h0m-6 4h0m-2 7h0m-2 2h0m-2 0h0m8 1h0m-6 2h0m8 6h0m-7 0h0m9 0h0m-5 4h0m-6 0h0m4 3h0m6 3h0m-9 3h0m11 2h0m-2 0h0m1 2h0m-7 1h0m9 0h0m-7 0h0m-8 0h0m14 1h0m-1 1h0m-12 0h0m11 1h0m-5 1h0m8 0h0m0 1h0m-1 0h0m0 2h0m0 3h0m-4 4h0m0 1h0m5 2h0m-4 0h0m1 3h0m0 0h0m3 1h0m-2 0h0m2 2h0m-13 1h0m0 1h0m7 1h0m4 1h0m-8 2h0m9 0h0m0 2h0m-5 0h0m5 1h0m-8 1h0m2 1h0m0 0h0m-4 0h0m1 0h0m8 1h0m-1 2h0m-3 0h0m5 1h0m-12 0h0m12 0h0m-2 1h0m-3 0h0m6 0h0m-11 1h0m-3 0h0m2 0h0m8 1h0m-5 0h0m-5 0h0m13 1h0m-10 0h0m-1 0h0m2 0h0m2 1h0m-6 0h0m8 2h0m7 1h0m-4 0h0m-4 0h0m-6 2h0m10 1h0m-4 0h0m-1 1h0m3 0h0m-6 1h0m4 1h0m8 1h0m-5 0h0m2 0h0m1 0h0m-11 0h0m5 1h0m5 1h0m-1 1h0m-11 1h0m7 0h0m-7 0h0m14 1h0m-7 1h0m-1 1h0m-2 1h0m10 1h0m-11 0h0m11 1h0m-1 1h0m-1 0h0m-11 0h0m-1 0h0m3 1h0m3 1h0m5 4h0m3 6h0m14-165h0m3 1h0m-5 1h0m4 3h0m-12 9h0m7 1h0m-1 4h0m-8 6h0m12 0h0m1 3h0m0 4h0m-6 1h0m4 0h0m-8 1h0m11 3h0m-8 0h0m4 3h0m5 1h0m-13 1h0m-1 1h0m6 0h0m-2 0h0m1 1h0m6 0h0m-3 1h0m-3 0h0m-4 0h0m13 2h0m-7 0h0m-5 2h0m3 5h0m-4 0h0m-3 3h0m12 0h0m-1 0h0m-2 0h0m-1 0h0m-4 1h0m0 0h0m2 0h0m-1 1h0m8 1h0m-1 1h0m-8 2h0m1 0h0m8 1h0m-3 0h0m3 2h0m-11 1h0m7 1h0m6 2h0m-9 0h0m-2 0h0m12 1h0m-5 0h0m4 2h0m-15 1h0m0 1h0m10 4h0m-4 0h0m-5 1h0m6 3h0m-2 0h0m-3 1h0m10 1h0m-4 2h0m6 0h0m-3 1h0m-10 0h0m6 0h0m3 1h0m4 1h0m-13 0h0m3 0h0m4 2h0m0 0h0m-7 0h0m13 0h0m-8 0h0m-6 0h0m0 0h0m9 1h0m-9 0h0m16 1h0m-11 1h0m0 0h0m3 0h0m5 1h0m2 0h0m-3 0h0m-3 0h0m2 1h0m-6 0h0m7 0h0m-1 1h0m-11 0h0m2 0h0m13 5h0m-7 0h0m-7 1h0m10 0h0m4 1h0m-12 0h0m12 0h0m0 0h0m-10 0h0m-3 1h0m6 1h0m-4 1h0m6 0h0m-3 0h0m2 0h0m6 1h0m1 1h0m-10 0h0m5 2h0m0 1h0m-9 0h0m-1 1h0m8 1h0m-2 0h0m1 1h0m-2 1h0m6 0h0m3 1h0m-9 0h0m-2 0h0m7 2h0m-3 1h0m-1 0h0m3 0h0m-7 0h0m13 1h0m-3 0h0m-9 0h0m2 0h0m-1 1h0m7 2h0m-9 0h0m7 0h0m0 2h0m-1 0h0m-2 1h0m-5 1h0m2 0h0m0 1h0m8 1h0m1 0h0m0 2h0m0 0h0m0 0h0m-10 1h0m2 1h0m0 0h0m11 0h0m-7 0h0m2 1h0m-8 0h0m4 1h0m-1 1h0m6 0h0m-11 0h0m11 1h0m-7 2h0m1 1h0m-3 1h0m8 0h0m1 0h0m3 1h0m-12 0h0m2 0h0m-4 1h0m2 1h0m0 0h0m-3 0h0m12 0h0m0 1h0m1 1h0m2 0h0m-7 0h0m7 1h0m-15 1h0m10 0h0m-3 0h0m3 1h0m-4 1h0m3 0h0m-4 0h0m11 1h0m-7 1h0m-5 0h0m11 1h0m-5 0h0m-4 0h0m1 1h0m-6 1h0m-1 0h0m5 1h0m3 0h0m5 1h0m-3 0h0m4 2h0m-10 0h0m8 1h0m-11 6h0m6 2h0m4 2h0m13-175h0m2 0h0m0 1h0m-4 4h0m-4 0h0m0 1h0m12 9h0m-6 4h0m-8 7h0m15 1h0m-4 6h0m-7 1h0m5 1h0m5 1h0m-3 0h0m-4 1h0m-1 0h0m6 1h0m-12 4h0m2 4h0m11 3h0m-1 0h0m-8 1h0m9 0h0m1 3h0m-5 0h0m-5 4h0m-1 10h0m1 2h0m10 1h0m-8 3h0m1 1h0m6 2h0m-9 1h0m-3 5h0m13 1h0m-12 1h0m6 2h0m-6 3h0m13 1h0m-9 1h0m-3 0h0m8 1h0m-6 1h0m11 2h0m-1 1h0m-5 1h0m-10 0h0m10 2h0m-9 1h0m0 0h0m7 0h0m-4 0h0m9 3h0m-9 2h0m2 0h0m4 1h0m-4 0h0m1 0h0m9 0h0m0 1h0m-4 0h0m-4 4h0m6 0h0m-14 3h0m15 0h0m-3 0h0m-3 0h0m3 1h0m-8 1h0m9 1h0m-13 1h0m10 1h0m0 1h0m-6 2h0m9 1h0m-10 0h0m3 0h0m9 1h0m-1 1h0m-4 0h0m0 0h0m-7 0h0m-2 1h0m2 1h0m0 0h0m0 0h0m8 1h0m-3 0h0m-1 0h0m8 1h0m-12 0h0m2 2h0m8 0h0m2 1h0m-6 0h0m-9 2h0m10 0h0m3 1h0m1 0h0m-13 1h0m8 1h0m6 1h0m-6 2h0m-6 0h0m11 1h0m0 2h0m-2 2h0m-11 0h0m1 0h0m10 2h0m-9 1h0m-2 1h0m6 0h0m-1 0h0m-5 0h0m5 1h0m-6 2h0m8 0h0m-4 0h0m3 1h0m3 0h0m-1 1h0m2 0h0m-3 2h0m-2 1h0m0 2h0m9 1h0m-12 0h0m5 1h0m2 0h0m1 0h0m-5 1h0m-3 0h0m1 1h0m8 1h0m2 1h0m1 1h0m-12 2h0m12 0h0m-6 0h0m-1 1h0m5 1h0m-11 0h0m9 0h0m3 0h0m-13 4h0m12 2h0m-7 3h0m1 0h0m23-181h0m-8 4h0m4 3h0m-8 3h0m8 3h0m0 0h0m2 3h0m0 1h0m3 1h0m-10 4h0m-4 1h0m2 14h0m-3 4h0m13 1h0m-3 2h0m4 1h0m-12 1h0m14 0h0m-9 4h0m-1 1h0m4 0h0m-4 1h0m8 4h0m-3 0h0m-8 0h0m6 0h0m6 3h0m-14 0h0m8 0h0m4 0h0m-8 6h0m1 4h0m3 0h0m1 1h0m-10 2h0m11 8h0m-4 2h0m-3 0h0m0 3h0m-4 4h0m4 0h0m8 0h0m2 0h0m2 0h0m-12 1h0m1 0h0m10 1h0m-8 3h0m8 0h0m-6 0h0m-5 1h0m-2 0h0m4 1h0m1 0h0m2 2h0m1 0h0m-3 0h0m4 5h0m-2 2h0m-1 2h0m7 1h0m-2 1h0m-2 1h0m-9 1h0m12 0h0m-8 0h0m9 1h0m-14 1h0m7 1h0m-3 0h0m-5 2h0m3 4h0m6 0h0m-7 0h0m10 2h0m-9 1h0m8 0h0m4 1h0m-3 0h0m-9 1h0m3 1h0m-2 0h0m10 0h0m-13 1h0m4 0h0m-5 1h0m1 0h0m10 1h0m-5 0h0m-3 0h0m4 0h0m4 1h0m2 0h0m-5 0h0m-2 1h0m2 0h0m-6 1h0m9 0h0m-3 0h0m7 1h0m-8 0h0m-3 1h0m3 1h0m1 1h0m7 0h0m-5 1h0m0 1h0m2 0h0m-12 1h0m5 0h0m4 3h0m-4 2h0m5 1h0m-5 1h0m8 2h0m3 2h0m-14 1h0m4 0h0m7 1h0m-2 0h0m3 0h0m-2 0h0m-11 3h0m1 1h0m0 0h0m9 1h0m3 0h0m2 1h0m-8 0h0m4 1h0m-5 1h0m-4 2h0m5 1h0m-4 1h0m10 2h0m-6 0h0m7 0h0m-11 1h0m6 0h0m-5 0h0m-5 1h0m13 0h0m0 1h0m-12 1h0m3 1h0m9 1h0m-5 0h0m-4 1h0m-3 0h0m11 0h0m-8 1h0m4 0h0m3 0h0m5 5h0m3-179h0m2 2h0m5 1h0m-6 3h0m10 1h0m-8 1h0m-4 3h0m11 2h0m3 2h0m-3 8h0m-1 1h0m-11 1h0m8 13h0m-7 4h0m7 2h0m-8 0h0m6 2h0m4 0h0m-7 0h0m-2 1h0m11 1h0m-6 0h0m3 4h0m-1 2h0m-7 1h0m10 1h0m2 0h0m-11 2h0m5 0h0m8 1h0m0 1h0m-8 1h0m0 10h0m6 2h0m-7 5h0m5 3h0m-8 2h0m1 3h0m-3 2h0m9 1h0m-4 0h0m0 0h0m-1 1h0m-1 0h0m-5 1h0m6 0h0m4 1h0m1 1h0m4 0h0m-4 1h0m3 0h0m-14 0h0m13 7h0m3 2h0m-10 1h0m-3 2h0m-2 0h0m6 1h0m8 1h0m-6 1h0m-8 2h0m10 2h0m1 1h0m-5 1h0m-5 6h0m11 0h0m-5 0h0m-4 0h0m7 1h0m1 2h0m4 0h0m-12 0h0m1 1h0m-1 0h0m8 0h0m-5 1h0m-4 0h0m0 1h0m2 0h0m5 0h0m-10 1h0m6 0h0m-4 0h0m3 0h0m5 0h0m-5 0h0m-4 0h0m5 1h0m1 1h0m5 0h0m-6 1h0m-1 1h0m1 0h0m6 1h0m-4 1h0m-7 1h0m12 0h0m-5 0h0m1 2h0m-1 2h0m0 1h0m1 2h0m0 1h0m3 1h0m-5 1h0m-1 0h0m1 3h0m6 2h0m-11 0h0m13 1h0m0 1h0m-1 0h0m-11 0h0m11 1h0m-3 0h0m4 1h0m-4 0h0m-6 0h0m-4 1h0m7 1h0m4 0h0m-10 3h0m14 1h0m-2 0h0m-2 0h0m-11 0h0m13 0h0m-5 1h0m7 0h0m-9 0h0m-6 2h0m13 0h0m-1 2h0m0 3h0m-9 1h0m11 0h0m-12 1h0m11 0h0m-12 0h0m8 1h0m-8 0h0m4 1h0m-4 0h0m9 1h0m-3 0h0m-8 1h0m15 3h0m-11 1h0m7 6h0m-5 6h0m15-194h0m4 2h0m-8 2h0m9 0h0m1 2h0m-6 10h0m5 10h0m-7 5h0m-2 2h0m13 1h0m-11 0h0m4 1h0m0 1h0m4 0h0m1 6h0m-10 3h0m13 1h0m0 1h0m-5 9h0m5 1h0m-9 0h0m7 1h0m0 2h0m-8 1h0m-2 3h0m10 6h0m-6 1h0m2 0h0m3 5h0m-11 2h0m7 1h0m-5 1h0m11 2h0m-4 1h0m2 3h0m-6 1h0m0 0h0m4 0h0m4 1h0m-5 0h0m-2 3h0m7 1h0m0 0h0m-12 1h0m0 0h0m10 0h0m-7 1h0m-4 1h0m2 0h0m-2 1h0m0 1h0m12 1h0m-7 1h0m0 1h0m5 0h0m2 0h0m-7 5h0m7 2h0m-12 1h0m2 0h0m10 0h0m-9 1h0m11 3h0m0 3h0m-5 2h0m-2 2h0m0 1h0m-4 1h0m3 3h0m-1 2h0m3 0h0m4 0h0m3 1h0m-6 1h0m-6 0h0m2 0h0m-1 1h0m11 0h0m-13 1h0m-2 0h0m6 0h0m6 1h0m1 1h0m-11 0h0m7 0h0m-3 0h0m4 0h0m-2 1h0m-6 0h0m11 3h0m-10 1h0m12 0h0m-14 2h0m9 0h0m4 2h0m-4 1h0m-1 2h0m-5 1h0m-3 1h0m5 0h0m3 0h0m1 1h0m0 0h0m2 1h0m-1 1h0m1 0h0m0 0h0m-13 1h0m13 1h0m-12 0h0m5 0h0m0 0h0m2 2h0m0 1h0m-1 1h0m7 1h0m-10 1h0m0 1h0m-3 0h0m2 1h0m-1 2h0m14 0h0m-15 2h0m1 2h0m1 0h0m10 1h0m-9 0h0m11 0h0m-6 1h0m-7 0h0m11 0h0m0 0h0m2 1h0m-9 1h0m2 2h0m1 1h0m-9 0h0m5 0h0m1 3h0m-4 0h0m11 0h0m-7 1h0m4 1h0m0 5h0m1 1h0m1 2h0m2 5h0m-12 0h0m7 3h0m7 1h0m-7 1h0m-1 1h0m-4 2h0m21-205h0m2 1h0m-2 6h0m3 1h0m-11 1h0m2 9h0m9 5h0m2 0h0m-13 1h0m5 12h0m-3 0h0m9 6h0m-5 3h0m-4 5h0m4 2h0m-5 0h0m3 1h0m-3 0h0m7 4h0m5 1h0m1 1h0m-1 2h0m-9 4h0m8 2h0m-3 2h0m-3 3h0m4 4h0m-5 1h0m-3 3h0m5 0h0m3 0h0m-7 5h0m10 1h0m-12 1h0m12 0h0m-12 2h0m5 2h0m0 0h0m3 2h0m-9 1h0m9 2h0m-5 2h0m11 1h0m-8 1h0m-2 1h0m-4 0h0m13 1h0m-12 1h0m1 1h0m-3 1h0m6 0h0m6 2h0m3 3h0m-6 1h0m-2 1h0m-1 2h0m-3 0h0m12 1h0m0 0h0m-5 1h0m0 0h0m-5 2h0m9 0h0m-7 1h0m2 1h0m-5 2h0m6 0h0m-4 1h0m5 5h0m3 2h0m-5 0h0m-6 0h0m8 1h0m-11 5h0m10 2h0m-9 0h0m-1 0h0m-1 1h0m15 0h0m-2 1h0m-8 1h0m-1 0h0m-4 1h0m8 1h0m-4 0h0m8 1h0m-7 1h0m9 0h0m-5 3h0m5 1h0m-5 0h0m4 0h0m-7 0h0m-2 0h0m-3 0h0m10 2h0m3 0h0m-5 1h0m0 1h0m-6 0h0m3 0h0m-5 2h0m1 0h0m4 2h0m3 1h0m-4 2h0m6 0h0m-1 0h0m-1 2h0m-6 1h0m12 1h0m-3 0h0m-1 1h0m-7 1h0m12 0h0m-7 3h0m0 0h0m-7 0h0m11 0h0m-6 0h0m-1 1h0m-6 1h0m10 0h0m-8 0h0m5 1h0m-4 0h0m12 2h0m-2 0h0m0 2h0m-13 0h0m3 0h0m-3 1h0m7 0h0m8 1h0m-4 1h0m-5 1h0m-1 0h0m10 1h0m1 1h0m-5 1h0m1 0h0m-10 1h0m3 0h0m-1 2h0m-3 2h0m6 4h0m4 7h0m-4 1h0m8 0h0m-12 1h0m10 2h0m-7 0h0m16-203h0m5 3h0m0 4h0m2 5h0m-4 2h0m-6 1h0m13 1h0m0 2h0m-9 0h0m-5 3h0m14 1h0m-13 9h0m9 2h0m-11 4h0m12 14h0m-7 1h0m9 1h0m-11 3h0m-2 1h0m11 0h0m-7 2h0m10 2h0m-11 3h0m8 2h0m-5 0h0m1 6h0m-3 1h0m6 0h0m-11 0h0m7 3h0m8 0h0m-3 3h0m-10 6h0m1 0h0m9 1h0m-2 3h0m-2 1h0m-7 2h0m7 2h0m-8 3h0m5 3h0m-2 1h0m0 0h0m2 0h0m2 1h0m3 1h0m-5 0h0m3 1h0m1 0h0m-1 1h0m-2 0h0m8 1h0m-3 1h0m1 1h0m-13 0h0m4 1h0m-1 0h0m3 0h0m-3 1h0m12 1h0m-14 1h0m11 1h0m3 1h0m-13 1h0m14 0h0m-4 1h0m-12 1h0m6 0h0m2 0h0m5 0h0m-2 4h0m-3 0h0m-5 0h0m8 6h0m-5 1h0m-5 1h0m9 1h0m2 0h0m-2 4h0m-3 0h0m0 0h0m9 1h0m0 1h0m-10 1h0m1 0h0m3 0h0m-7 1h0m2 0h0m10 0h0m-8 1h0m1 0h0m-4 1h0m6 0h0m2 0h0m4 1h0m-9 0h0m-6 0h0m2 0h0m0 0h0m6 0h0m-3 1h0m-6 1h0m16 0h0m-10 0h0m8 0h0m-13 1h0m6 1h0m4 0h0m-2 0h0m1 0h0m-9 4h0m3 0h0m-2 1h0m10 1h0m-10 1h0m8 1h0m-10 0h0m13 2h0m3 1h0m-4 0h0m-5 1h0m-6 1h0m11 0h0m-10 1h0m0 3h0m9 1h0m-6 0h0m4 1h0m1 1h0m-1 0h0m3 0h0m0 1h0m-10 0h0m10 1h0m3 1h0m-4 3h0m5 1h0m-9 0h0m0 1h0m-2 0h0m5 1h0m-5 0h0m-2 1h0m2 3h0m5 1h0m-10 1h0m6 1h0m8 0h0m0 1h0m-6 1h0m-3 0h0m-2 0h0m10 1h0m0 1h0m-5 2h0m3 0h0m-9 6h0m10 6h0m2 1h0m17-210h0m-5 0h0m-10 5h0m1 2h0m6 0h0m0 6h0m4 1h0m-5 7h0m0 5h0m-2 1h0m-4 1h0m3 5h0m6 5h0m4 4h0m3 2h0m-6 4h0m-6 2h0m-2 3h0m13 0h0m-2 1h0m-12 2h0m2 4h0m4 2h0m4 2h0m3 2h0m-13 1h0m13 1h0m-3 1h0m-1 2h0m2 2h0m-8 1h0m0 3h0m3 1h0m2 1h0m7 2h0m-6 1h0m-4 8h0m-6 1h0m15 0h0m1 1h0m-5 1h0m-4 2h0m-3 4h0m9 2h0m-3 0h0m-9 1h0m12 3h0m-8 0h0m2 4h0m-5 1h0m7 1h0m-4 0h0m2 3h0m-3 1h0m6 1h0m-7 2h0m8 1h0m-10 0h0m5 2h0m-5 1h0m3 3h0m4 0h0m3 2h0m-3 0h0m-4 1h0m3 0h0m3 0h0m-6 4h0m9 2h0m-10 1h0m6 0h0m4 0h0m-7 1h0m9 1h0m-15 6h0m9 0h0m3 1h0m-2 0h0m3 1h0m-11 1h0m13 0h0m-12 1h0m9 1h0m-4 0h0m2 0h0m-10 0h0m7 1h0m-1 0h0m9 0h0m0 0h0m-5 1h0m-9 0h0m0 0h0m3 1h0m0 0h0m6 0h0m-9 0h0m14 0h0m1 0h0m0 1h0m-8 1h0m-8 0h0m1 1h0m13 0h0m-10 1h0m6 0h0m-7 1h0m0 1h0m1 0h0m7 0h0m0 0h0m-7 1h0m10 1h0m-1 2h0m-12 1h0m2 1h0m1 0h0m-4 0h0m11 2h0m5 4h0m-2 2h0m-8 0h0m8 1h0m-1 1h0m-1 0h0m-7 0h0m2 1h0m0 0h0m-6 1h0m9 0h0m-1 4h0m1 1h0m-5 1h0m-3 0h0m6 0h0m-2 1h0m9 1h0m-12 0h0m11 0h0m1 2h0m-9 2h0m-5 1h0m0 2h0m5 1h0m1 0h0m6 2h0m-5 0h0m4 0h0m-4 0h0m1 0h0m2 0h0m3 1h0m-10 0h0m-2 2h0m13 1h0m-5 5h0m-4 0h0m2 4h0m4 0h0m-8 4h0m25-210h0m-4 3h0m-7 1h0m9 1h0m-2 3h0m2 3h0m-3 2h0m-1 2h0m-4 3h0m-3 0h0m14 1h0m-9 2h0m-3 0h0m4 0h0m6 7h0m2 4h0m-9 2h0m0 1h0m-3 0h0m-1 0h0m3 1h0m2 4h0m7 3h0m-4 1h0m1 2h0m5 7h0m-12 4h0m5 2h0m6 1h0m-12 8h0m7 1h0m3 1h0m-2 1h0m-5 1h0m0 2h0m10 3h0m-2 0h0m-4 0h0m7 4h0m-10 2h0m9 6h0m-4 3h0m2 2h0m-2 8h0m-8 3h0m8 3h0m-1 1h0m-8 0h0m5 1h0m1 0h0m3 1h0m1 1h0m-7 1h0m1 0h0m0 1h0m-5 0h0m11 12h0m-3 1h0m5 0h0m-7 1h0m8 0h0m-10 1h0m4 4h0m3 0h0m-2 0h0m4 3h0m-8 1h0m0 1h0m-5 0h0m13 0h0m-7 1h0m5 2h0m2 0h0m0 0h0m-12 1h0m7 3h0m1 1h0m3 0h0m-7 1h0m7 0h0m1 0h0m-9 1h0m10 0h0m-10 0h0m6 1h0m3 1h0m-13 0h0m7 0h0m7 0h0m-13 0h0m-1 0h0m13 0h0m-9 1h0m-1 0h0m6 0h0m0 0h0m-2 0h0m-3 1h0m-3 0h0m1 1h0m5 2h0m-7 2h0m14 1h0m-4 1h0m-7 0h0m3 0h0m9 0h0m-15 0h0m9 2h0m-9 0h0m11 0h0m-10 1h0m0 1h0m9 1h0m1 1h0m3 1h0m-1 0h0m0 0h0m-12 1h0m1 0h0m-2 2h0m8 0h0m-5 2h0m8 0h0m1 0h0m-5 1h0m-2 0h0m0 0h0m-1 0h0m7 1h0m-4 1h0m-5 0h0m11 1h0m-12 1h0m6 0h0m6 3h0m-8 0h0m-6 2h0m10 1h0m4 1h0m-10 2h0m8 2h0m-11 1h0m7 0h0m-6 1h0m-1 1h0m3 1h0m4 1h0m-5 1h0m5 0h0m5 5h0m-5 3h0m-8 1h0m12 0h0m-1 1h0m-8 2h0m4 5h0m-3 3h0m22-214h0m-7 1h0m2 1h0m-5 1h0m16 3h0m-9 1h0m-4 1h0m6 8h0m0 1h0m5 3h0m-11 4h0m12 11h0m-9 3h0m0 2h0m1 1h0m6 1h0m-3 10h0m5 7h0m-7 0h0m-4 0h0m10 4h0m-10 4h0m1 5h0m5 1h0m-4 0h0m-6 0h0m1 2h0m11 1h0m-11 1h0m0 3h0m2 2h0m7 0h0m3 0h0m-8 3h0m10 0h0m-5 3h0m-5 0h0m-5 3h0m2 4h0m10 0h0m-7 0h0m9 1h0m-2 5h0m-5 2h0m-1 1h0m8 1h0m-2 3h0m-2 1h0m-9 1h0m9 1h0m-1 1h0m-2 0h0m7 0h0m-5 2h0m5 1h0m-9 0h0m-2 1h0m11 1h0m-1 0h0m-6 2h0m-6 0h0m8 1h0m-4 2h0m7 1h0m0 0h0m0 1h0m2 3h0m-10 1h0m12 1h0m-7 2h0m3 1h0m4 1h0m-15 0h0m5 4h0m0 1h0m0 0h0m5 0h0m-7 0h0m-1 1h0m-1 0h0m7 1h0m-5 1h0m4 3h0m-6 0h0m10 1h0m-4 1h0m-1 2h0m5 2h0m-10 0h0m4 2h0m5 2h0m-8 2h0m6 0h0m-6 1h0m3 0h0m-4 0h0m14 0h0m-9 2h0m3 1h0m6 0h0m-12 1h0m3 1h0m2 3h0m-4 0h0m-3 0h0m0 0h0m12 1h0m-2 2h0m-7 0h0m-2 0h0m9 0h0m-7 0h0m10 0h0m-13 1h0m6 0h0m0 1h0m1 0h0m-7 0h0m-1 1h0m4 1h0m10 1h0m-9 1h0m8 0h0m-6 0h0m5 1h0m-12 1h0m7 0h0m-8 0h0m12 0h0m0 1h0m-1 1h0m4 1h0m-15 1h0m9 0h0m-2 1h0m-3 0h0m11 0h0m-13 1h0m5 1h0m-4 0h0m11 1h0m-10 1h0m-3 1h0m11 0h0m-7 1h0m5 0h0m-3 0h0m4 2h0m-7 1h0m9 0h0m1 1h0m-8 0h0m8 1h0m-4 0h0m-9 0h0m15 1h0m-3 3h0m-6 3h0m6 1h0m-4 8h0m-4 5h0m14-215h0m-1 0h0m8 5h0m1 0h0m-6 12h0m10 1h0m-2 0h0m-1 0h0m-1 2h0m1 3h0m3 4h0m-5 3h0m0 11h0m5 0h0m-9 0h0m8 6h0m-10 1h0m-1 3h0m9 2h0m-4 1h0m7 3h0m-10 2h0m4 3h0m4 1h0m1 2h0m-14 0h0m0 1h0m5 1h0m4 1h0m4 1h0m-6 1h0m5 0h0m-8 1h0m-4 2h0m6 3h0m1 0h0m7 3h0m-4 1h0m-9 1h0m-1 0h0m15 2h0m-14 5h0m1 1h0m7 0h0m-3 10h0m0 5h0m-5 1h0m10 0h0m-4 4h0m-2 2h0m2 1h0m5 2h0m-11 1h0m4 0h0m5 2h0m5 0h0m-4 3h0m4 0h0m-3 1h0m-7 1h0m5 1h0m-9 0h0m0 1h0m1 1h0m6 0h0m6 1h0m-6 2h0m-6 1h0m8 1h0m-1 0h0m-6 4h0m11 1h0m-7 2h0m5 0h0m-5 2h0m-2 1h0m-1 0h0m5 0h0m-2 1h0m5 3h0m-11 0h0m12 3h0m-10 2h0m10 0h0m2 1h0m-7 1h0m-4 0h0m11 1h0m-9 1h0m1 1h0m4 0h0m4 1h0m-1 2h0m-10 1h0m1 1h0m8 0h0m-9 1h0m7 1h0m-2 0h0m-3 0h0m-1 1h0m9 0h0m-5 0h0m0 0h0m-3 1h0m-4 0h0m-1 0h0m10 0h0m1 1h0m0 3h0m-10 0h0m8 1h0m-1 0h0m-7 0h0m10 4h0m-12 0h0m3 3h0m8 0h0m-1 1h0m-10 0h0m5 1h0m0 2h0m5 3h0m0 0h0m5 0h0m-4 1h0m-4 1h0m-2 1h0m-1 0h0m11 1h0m-8 0h0m-1 2h0m7 0h0m-2 0h0m1 0h0m-5 1h0m-7 0h0m1 0h0m8 1h0m-1 0h0m6 0h0m0 2h0m-7 1h0m-5 2h0m10 0h0m-10 0h0m13 2h0m-4 1h0m-8 1h0m2 1h0m1 1h0m8 0h0m-13 5h0m1 3h0m11 1h0m-9 0h0m11 5h0m-13 0h0m7 1h0m-8 0h0m16-215h0m10 1h0m-6 3h0m-2 0h0m2 7h0m-5 1h0m15 12h0m-13 4h0m12 2h0m-5 3h0m7 2h0m-14 15h0m5 2h0m6 11h0m-4 2h0m4 2h0m-11 0h0m11 2h0m-2 1h0m2 1h0m-6 1h0m-2 1h0m2 0h0m5 2h0m-4 2h0m-6 4h0m5 0h0m9 1h0m-1 1h0m-4 1h0m-5 4h0m10 0h0m-6 1h0m-5 0h0m8 3h0m-11 1h0m6 0h0m7 2h0m-3 1h0m-7 0h0m9 0h0m-5 1h0m-5 1h0m8 0h0m-9 5h0m1 4h0m6 0h0m-5 1h0m4 1h0m0 0h0m1 0h0m-7 2h0m12 0h0m-1 0h0m-9 2h0m-4 0h0m-1 1h0m11 0h0m-4 0h0m2 1h0m2 2h0m-9 0h0m12 0h0m-7 1h0m3 2h0m3 1h0m0 0h0m2 1h0m-6 1h0m-6 0h0m7 1h0m2 1h0m-2 1h0m-6 0h0m5 1h0m-6 1h0m5 0h0m-7 1h0m4 2h0m1 1h0m8 1h0m2 1h0m-10 3h0m-1 1h0m-5 9h0m2 2h0m2 2h0m3 0h0m1 0h0m-1 0h0m-3 0h0m12 1h0m-9 0h0m0 0h0m9 0h0m-14 1h0m6 1h0m4 1h0m-1 1h0m-8 0h0m1 2h0m-1 0h0m-1 1h0m6 0h0m-2 1h0m10 1h0m-1 0h0m1 1h0m-11 0h0m8 0h0m-8 2h0m5 1h0m-5 1h0m8 0h0m-11 0h0m-1 1h0m-1 0h0m10 0h0m-8 3h0m1 1h0m9 1h0m0 0h0m-3 0h0m0 0h0m-3 1h0m8 0h0m-5 0h0m1 1h0m4 0h0m-1 1h0m-10 0h0m9 0h0m-9 1h0m-1 2h0m6 0h0m-1 0h0m3 2h0m-1 0h0m5 1h0m-9 1h0m5 1h0m-9 0h0m3 1h0m9 1h0m-9 1h0m4 0h0m-2 2h0m-2 0h0m11 1h0m-5 0h0m0 1h0m3 1h0m-3 0h0m-2 0h0m-2 2h0m8 0h0m0 0h0m-13 1h0m2 0h0m-2 3h0m7 0h0m-1 2h0m8 9h0m-10 1h0m-4 6h0m25-219h0m-3 3h0m-1 3h0m-4 1h0m2 1h0m2 12h0m3 2h0m-2 4h0m7 2h0m0 2h0m-1 3h0m-2 6h0m1 4h0m-10 1h0m2 7h0m1 0h0m9 0h0m-7 4h0m-3 2h0m2 3h0m1 2h0m6 2h0m0 3h0m-4 2h0m-1 0h0m3 2h0m4 4h0m-13 1h0m0 0h0m-1 5h0m3 2h0m6 2h0m-8 5h0m5 1h0m2 2h0m4 1h0m-11 3h0m0 1h0m-2 1h0m11 1h0m-4 0h0m-4 2h0m-1 4h0m9 0h0m-1 3h0m6 1h0m-8 0h0m1 2h0m-4 1h0m8 1h0m-12 2h0m13 0h0m0 1h0m-7 1h0m-1 0h0m-4 2h0m13 0h0m-9 1h0m3 1h0m6 2h0m-12 0h0m10 1h0m-7 1h0m-4 1h0m14 0h0m-14 1h0m8 0h0m-3 2h0m2 0h0m6 2h0m-5 0h0m5 0h0m-2 1h0m-2 0h0m-4 4h0m-6 4h0m5 0h0m4 1h0m-7 0h0m1 1h0m1 0h0m-2 2h0m10 3h0m-8 1h0m6 2h0m3 1h0m-4 1h0m1 0h0m-3 1h0m-5 1h0m6 1h0m-1 3h0m-1 1h0m6 1h0m-4 0h0m-7 1h0m12 0h0m-6 0h0m4 1h0m-5 1h0m5 0h0m2 0h0m-11 1h0m12 1h0m-5 0h0m2 0h0m0 3h0m4 1h0m-14 0h0m2 0h0m0 0h0m12 0h0m-10 1h0m1 1h0m5 1h0m3 1h0m0 0h0m-13 0h0m6 1h0m-3 0h0m5 0h0m-5 1h0m-4 0h0m3 0h0m5 1h0m0 0h0m-3 0h0m6 1h0m-8 0h0m0 1h0m6 2h0m-1 0h0m-3 0h0m-5 0h0m-1 1h0m12 1h0m-3 1h0m4 0h0m2 1h0m-8 1h0m-1 0h0m8 1h0m-13 2h0m9 1h0m-7 2h0m1 0h0m10 1h0m-4 3h0m4 0h0m-9 1h0m2 0h0m-5 0h0m6 0h0m6 1h0m-7 0h0m2 7h0m-7 2h0m13 9h0m-6 1h0m-7 0h0m9 1h0m-8 2h0m2 2h0m18-224h0m4 0h0m-3 3h0m6 4h0m-8 1h0m10 5h0m0 5h0m-8 5h0m7 1h0m-5 1h0m-5 1h0m1 2h0m-2 2h0m3 0h0m4 2h0m-2 1h0m-3 0h0m5 2h0m-5 0h0m7 4h0m-10 2h0m-1 7h0m13 4h0m-13 1h0m8 3h0m-3 1h0m-1 2h0m3 2h0m5 6h0m-12 0h0m11 2h0m-4 3h0m0 0h0m3 2h0m1 4h0m-7 5h0m-2 2h0m7 2h0m-2 2h0m7 0h0m-15 1h0m0 0h0m13 2h0m-14 2h0m3 2h0m10 2h0m-2 6h0m-11 4h0m7 3h0m-6 3h0m3 0h0m1 1h0m3 1h0m7 0h0m-13 0h0m1 2h0m1 0h0m-3 1h0m11 1h0m-1 0h0m-2 1h0m4 3h0m-8 0h0m10 3h0m-5 1h0m2 0h0m-9 0h0m10 1h0m-9 1h0m-2 0h0m0 0h0m6 2h0m3 1h0m1 0h0m2 0h0m-7 1h0m-5 0h0m0 1h0m5 1h0m-2 1h0m1 1h0m2 0h0m4 8h0m-3 3h0m-5 1h0m11 4h0m-12 1h0m4 0h0m2 0h0m-5 3h0m-1 0h0m-2 0h0m14 0h0m-6 0h0m-8 1h0m13 0h0m-7 0h0m0 1h0m8 0h0m-3 0h0m1 0h0m3 0h0m-13 3h0m7 0h0m-8 1h0m12 0h0m0 1h0m-10 2h0m3 1h0m5 1h0m3 1h0m-10 1h0m-5 0h0m3 0h0m6 0h0m3 1h0m1 0h0m-12 1h0m1 3h0m-1 3h0m13 0h0m-8 0h0m-4 0h0m2 0h0m3 0h0m0 2h0m8 0h0m-15 0h0m9 1h0m-1 1h0m-2 1h0m6 1h0m1 0h0m0 1h0m1 3h0m-12 2h0m7 1h0m-3 1h0m4 0h0m1 0h0m-5 1h0m-3 1h0m-2 1h0m14 0h0m-6 0h0m2 1h0m4 0h0m-4 0h0m-1 0h0m-8 1h0m5 1h0m-3 0h0m10 0h0m-8 1h0m0 1h0m4 1h0m-1 1h0m2 0h0m0 0h0m4 10h0m-10 0h0m2 1h0m-3 1h0m11 4h0m-5 6h0m0 1h0m2 1h0m-9 1h0m25-230h0m3 8h0m-2 1h0m-1 2h0m-7 5h0m2 6h0m-7 0h0m3 2h0m4 4h0m2 2h0m-4 5h0m-5 2h0m16 5h0m-14 1h0m-2 3h0m11 3h0m-3 1h0m-3 1h0m2 9h0m-6 11h0m13 0h0m-5 0h0m-4 2h0m2 3h0m7 1h0m-6 1h0m7 1h0m-4 1h0m-3 2h0m3 1h0m-7 1h0m11 0h0m-5 2h0m-6 0h0m12 0h0m-13 2h0m9 1h0m-6 0h0m8 2h0m1 0h0m-3 0h0m-12 3h0m14 1h0m-5 3h0m-7 7h0m0 2h0m3 2h0m0 2h0m-3 1h0m0 2h0m1 3h0m10 0h0m-3 1h0m3 0h0m1 2h0m-11 2h0m3 0h0m4 3h0m-10 0h0m8 1h0m-7 1h0m2 0h0m5 2h0m8 0h0m-7 0h0m-2 0h0m-6 0h0m14 1h0m-14 2h0m9 1h0m2 1h0m3 0h0m-3 1h0m-7 0h0m6 5h0m1 0h0m4 3h0m-11 1h0m4 2h0m3 0h0m-5 0h0m1 2h0m-5 2h0m3 4h0m-2 0h0m5 1h0m-6 1h0m12 2h0m-8 0h0m-2 0h0m2 0h0m6 1h0m2 1h0m-7 1h0m-7 0h0m13 0h0m-11 1h0m9 0h0m-1 1h0m-8 1h0m7 0h0m-4 0h0m0 1h0m7 0h0m-3 0h0m-9 1h0m14 3h0m-8 0h0m1 1h0m6 0h0m-12 1h0m0 2h0m-1 1h0m0 0h0m10 1h0m-3 1h0m5 0h0m1 1h0m-5 2h0m0 1h0m-8 0h0m5 1h0m0 0h0m7 0h0m1 0h0m-10 2h0m1 0h0m-5 0h0m4 0h0m11 1h0m-13 0h0m7 0h0m5 1h0m-8 1h0m-5 0h0m2 0h0m6 4h0m7 1h0m-14 1h0m-2 0h0m10 0h0m-6 2h0m10 1h0m-9 1h0m0 0h0m0 0h0m-2 1h0m7 0h0m-4 0h0m5 3h0m0 0h0m1 2h0m-4 1h0m-6 1h0m7 1h0m-2 2h0m-3 4h0m7 1h0m-6 1h0m7 5h0m3 3h0m-3 2h0m-11 2h0m8 2h0m2 1h0m0 1h0m15-230h0m-5 5h0m3 4h0m0 2h0m-4 1h0m11 5h0m1 2h0m-14 8h0m9 1h0m-9 8h0m4 1h0m1 5h0m3 1h0m-4 0h0m8 0h0m-1 16h0m-10 2h0m2 2h0m0 2h0m-2 0h0m-1 3h0m4 2h0m-2 0h0m10 0h0m-1 3h0m-8 2h0m1 1h0m-4 3h0m11 2h0m-3 0h0m1 3h0m3 2h0m-11 1h0m8 1h0m2 2h0m-7 2h0m-3 7h0m6 3h0m5 4h0m-3 0h0m-10 1h0m9 1h0m-6 1h0m7 5h0m-10 0h0m15 1h0m-10 1h0m-1 2h0m4 1h0m6 0h0m-2 1h0m2 1h0m-8 1h0m3 1h0m5 1h0m-4 3h0m-8 4h0m0 1h0m10 1h0m-9 0h0m11 4h0m-6 1h0m-2 1h0m6 0h0m-2 1h0m-5 0h0m9 2h0m-14 0h0m9 1h0m-2 1h0m-6 1h0m14 1h0m-5 0h0m-10 1h0m0 1h0m4 1h0m-2 1h0m10 3h0m-8 3h0m1 1h0m-6 0h0m9 2h0m-8 0h0m6 1h0m-7 0h0m0 0h0m13 0h0m-8 0h0m1 0h0m-5 1h0m13 0h0m1 0h0m-5 1h0m-6 0h0m11 0h0m-10 3h0m-2 0h0m9 1h0m-6 1h0m-2 0h0m6 1h0m-3 0h0m3 0h0m1 1h0m-10 2h0m3 0h0m7 3h0m-7 1h0m6 1h0m-8 0h0m4 2h0m1 1h0m8 0h0m-12 1h0m1 0h0m1 1h0m5 0h0m-9 0h0m2 1h0m6 1h0m6 1h0m-2 0h0m2 0h0m-6 1h0m2 0h0m-3 1h0m7 1h0m-15 1h0m11 0h0m-6 0h0m8 0h0m0 2h0m0 1h0m-8 0h0m2 0h0m5 0h0m-11 1h0m13 0h0m-5 1h0m-8 0h0m1 1h0m11 2h0m0 0h0m-4 1h0m2 0h0m-6 3h0m5 0h0m-7 1h0m4 0h0m0 1h0m1 2h0m7 1h0m-6 6h0m-1 4h0m-5 1h0m9 2h0m0 3h0m-4 0h0m-2 1h0m-4 2h0m1 1h0m2 2h0m26-222h0m-11 1h0m6 1h0m-6 5h0m0 18h0m3 1h0m0 1h0m2 3h0m6 0h0m-10 1h0m4 1h0m-8 1h0m-1 5h0m12 7h0m-6 4h0m1 1h0m6 3h0m-1 1h0m-12 8h0m12 2h0m-6 3h0m-4 3h0m1 2h0m6 2h0m-2 0h0m4 1h0m4 0h0m-13 1h0m8 1h0m-4 1h0m3 1h0m0 2h0m-3 3h0m7 2h0m-11 0h0m12 1h0m-1 1h0m0 1h0m-7 1h0m7 0h0m-11 0h0m5 4h0m9 1h0m-6 2h0m-8 0h0m-1 4h0m2 1h0m11 3h0m-5 1h0m-6 1h0m1 1h0m10 5h0m-10 3h0m4 0h0m2 1h0m-9 2h0m14 0h0m-2 1h0m-4 1h0m-9 1h0m5 1h0m6 0h0m-5 2h0m7 2h0m1 1h0m-13 1h0m12 1h0m-7 3h0m1 1h0m4 1h0m-1 1h0m-2 3h0m-5 0h0m11 2h0m-4 0h0m-8 1h0m5 1h0m-2 0h0m5 1h0m-6 1h0m1 1h0m-2 0h0m6 4h0m-7 4h0m2 0h0m5 1h0m2 0h0m-10 0h0m1 0h0m1 0h0m3 0h0m3 1h0m-8 0h0m13 0h0m-2 1h0m2 0h0m2 0h0m0 0h0m-12 1h0m10 0h0m-6 1h0m-3 3h0m1 1h0m-4 0h0m9 0h0m-5 4h0m-2 1h0m5 0h0m1 0h0m5 3h0m-6 0h0m6 0h0m-10 2h0m9 0h0m0 0h0m-9 1h0m4 0h0m1 0h0m6 1h0m-5 2h0m-5 0h0m6 1h0m1 0h0m-6 0h0m-4 0h0m-3 0h0m1 1h0m3 0h0m11 1h0m-3 2h0m-3 2h0m4 0h0m-7 1h0m-3 1h0m11 0h0m-11 1h0m-2 1h0m11 0h0m-9 2h0m4 0h0m0 1h0m3 1h0m1 1h0m-10 0h0m14 1h0m-2 1h0m-5 0h0m-7 1h0m6 1h0m1 1h0m6 1h0m-4 1h0m-7 1h0m2 1h0m-1 3h0m11 1h0m-2 0h0m-12 1h0m7 4h0m3 1h0m-7 7h0m7 1h0m18-217h0m-9 4h0m-3 7h0m2 8h0m0 4h0m-2 0h0m7 1h0m8 12h0m-8 0h0m-3 10h0m4 2h0m-4 1h0m8 3h0m-9 5h0m10 9h0m-13 0h0m8 2h0m-6 0h0m11 3h0m-8 2h0m1 1h0m5 0h0m0 1h0m1 2h0m1 0h0m-8 1h0m0 1h0m-2 1h0m2 3h0m4 1h0m4 8h0m-10 0h0m-2 1h0m13 1h0m-15 1h0m15 3h0m-13 1h0m5 0h0m-2 2h0m5 1h0m6 0h0m-6 3h0m-2 0h0m3 1h0m3 1h0m-1 0h0m-4 2h0m-6 1h0m9 0h0m-4 1h0m-5 1h0m4 0h0m-1 1h0m-4 0h0m9 0h0m-11 1h0m2 0h0m-2 0h0m14 2h0m-4 2h0m-2 1h0m2 4h0m-3 0h0m-4 2h0m1 2h0m6 2h0m4 3h0m-5 0h0m-8 0h0m14 1h0m-6 0h0m5 5h0m1 0h0m-3 0h0m0 0h0m1 2h0m-7 0h0m0 0h0m7 0h0m-4 3h0m6 2h0m-4 0h0m-5 2h0m2 2h0m8 0h0m-10 1h0m6 0h0m-6 0h0m-2 1h0m11 0h0m-14 0h0m2 0h0m-2 0h0m11 1h0m-9 1h0m6 1h0m-3 1h0m-2 2h0m2 0h0m9 1h0m-9 0h0m-2 1h0m7 0h0m-2 0h0m-5 0h0m-2 1h0m0 0h0m8 1h0m-2 0h0m1 1h0m6 0h0m-3 0h0m-1 2h0m2 0h0m-13 1h0m4 0h0m3 0h0m1 0h0m-4 0h0m0 1h0m-1 1h0m3 0h0m7 3h0m-7 1h0m-6 0h0m6 1h0m9 2h0m-12 3h0m6 1h0m-3 1h0m-6 1h0m3 0h0m12 1h0m-2 1h0m-11 1h0m5 1h0m-6 0h0m4 0h0m6 3h0m-10 0h0m2 0h0m10 1h0m-1 0h0m-1 0h0m-9 0h0m14 2h0m-3 0h0m-6 1h0m2 1h0m6 0h0m-4 2h0m-1 0h0m6 1h0m-3 2h0m-13 7h0m14 3h0m-7 2h0m0 0h0m3 5h0m1 0h0m18-210h0m-10 2h0m10 6h0m2 4h0m-7 0h0m-7 2h0m7 4h0m-5 0h0m0 3h0m11 2h0m-2 2h0m4 8h0m-10 3h0m-3 2h0m7 6h0m-4 0h0m-1 1h0m5 5h0m-9 5h0m8 3h0m7 1h0m-11 1h0m10 0h0m-2 4h0m-5 9h0m-4 2h0m6 0h0m2 1h0m0 1h0m-11 2h0m1 2h0m9 1h0m3 3h0m-3 1h0m-5 1h0m3 1h0m6 0h0m-14 2h0m7 0h0m-1 2h0m1 0h0m-4 2h0m5 1h0m-8 3h0m1 2h0m8 4h0m1 1h0m1 0h0m-8 1h0m11 1h0m-3 0h0m-4 0h0m-4 2h0m2 0h0m0 0h0m5 2h0m5 0h0m-11 1h0m-4 0h0m2 1h0m13 2h0m-6 1h0m4 2h0m-9 3h0m-2 4h0m13 1h0m-2 1h0m2 0h0m-13 5h0m9 0h0m-11 2h0m10 2h0m-10 1h0m10 0h0m-4 0h0m6 4h0m-11 1h0m13 1h0m0 2h0m-9 1h0m-5 0h0m8 0h0m-5 0h0m3 0h0m4 2h0m-1 0h0m-1 0h0m2 3h0m0 0h0m-1 1h0m-9 1h0m2 1h0m8 0h0m-6 1h0m1 0h0m8 0h0m-1 1h0m0 2h0m-1 1h0m-5 0h0m-3 4h0m0 2h0m2 0h0m7 0h0m-2 1h0m4 1h0m-12 1h0m13 0h0m-15 1h0m7 0h0m-1 0h0m7 1h0m-4 1h0m5 0h0m-13 1h0m8 0h0m-5 0h0m5 3h0m0 1h0m-2 0h0m-2 1h0m-1 1h0m5 0h0m-7 0h0m2 0h0m-2 1h0m3 1h0m7 1h0m-8 0h0m3 1h0m2 0h0m-1 1h0m0 1h0m-8 0h0m0 1h0m7 0h0m-8 1h0m7 0h0m-4 0h0m4 1h0m8 1h0m-14 1h0m13 1h0m-5 1h0m-1 0h0m7 1h0m-11 1h0m8 0h0m-7 1h0m7 0h0m2 9h0m-14 4h0m10 0h0m-8 1h0m5 0h0m10-205h0m2 2h0m1 2h0m8 3h0m-8 5h0m7 4h0m2 9h0m-10 3h0m7 5h0m3 3h0m-5 9h0m1 2h0m6 0h0m-1 5h0m-5 3h0m-4 1h0m2 3h0m2 0h0m-9 2h0m7 0h0m5 2h0m-5 0h0m3 1h0m4 4h0m-6 2h0m8 1h0m-2 1h0m-8 1h0m-6 0h0m11 0h0m3 0h0m-7 2h0m2 4h0m-3 1h0m5 0h0m-7 2h0m-3 1h0m1 2h0m3 8h0m4 1h0m1 7h0m-8 1h0m9 3h0m-10 1h0m10 1h0m-9 0h0m4 2h0m-5 2h0m3 1h0m10 1h0m-8 0h0m-6 0h0m15 0h0m-3 1h0m-6 0h0m-1 1h0m5 1h0m5 1h0m-6 4h0m7 0h0m-9 0h0m5 1h0m-4 3h0m-7 2h0m13 0h0m-6 0h0m1 3h0m-1 0h0m8 1h0m-6 1h0m-8 1h0m9 2h0m-3 1h0m-6 2h0m0 0h0m8 1h0m5 1h0m-7 2h0m-5 0h0m9 1h0m-9 1h0m0 1h0m1 1h0m2 0h0m6 0h0m-7 1h0m-1 0h0m11 0h0m-6 0h0m4 0h0m1 0h0m-1 3h0m-4 1h0m-2 0h0m5 0h0m3 0h0m-1 1h0m-14 0h0m13 0h0m-11 2h0m4 0h0m8 4h0m-2 1h0m-11 1h0m14 1h0m-2 0h0m-10 0h0m6 1h0m-2 2h0m-6 0h0m5 0h0m0 2h0m3 0h0m-2 0h0m-6 1h0m12 0h0m2 0h0m-6 0h0m6 1h0m-10 3h0m10 0h0m-7 1h0m3 1h0m-1 2h0m2 0h0m-8 0h0m7 1h0m-6 0h0m1 1h0m1 0h0m-4 0h0m2 0h0m5 1h0m0 3h0m-5 0h0m-3 1h0m12 0h0m-10 1h0m4 0h0m-4 1h0m-3 1h0m0 1h0m15 0h0m-6 1h0m-10 1h0m4 2h0m-1 7h0m10 1h0m-9 2h0m8 1h0m8-193h0m1 2h0m8 5h0m-13 0h0m7 0h0m6 1h0m-2 13h0m-2 1h0m-2 1h0m3 3h0m-4 3h0m-2 9h0m11 0h0m-3 3h0m-7 4h0m6 8h0m-9 0h0m13 3h0m-3 3h0m-11 1h0m14 2h0m-10 1h0m-2 1h0m8 0h0m-6 1h0m9 8h0m0 2h0m-1 1h0m-10 3h0m-1 1h0m7 1h0m-5 1h0m11 3h0m0 3h0m-7 1h0m-7 1h0m6 1h0m-7 2h0m3 0h0m5 1h0m7 1h0m-4 1h0m-2 2h0m1 0h0m-4 1h0m0 1h0m-3 0h0m-2 3h0m7 1h0m5 1h0m-9 0h0m4 1h0m-4 1h0m0 0h0m6 2h0m0 0h0m3 2h0m2 1h0m-4 1h0m0 1h0m4 0h0m-11 0h0m9 1h0m-7 4h0m-4 2h0m13 1h0m-6 0h0m0 1h0m-8 0h0m13 4h0m-4 0h0m-7 2h0m-1 3h0m1 1h0m3 1h0m7 1h0m-6 1h0m-3 0h0m10 0h0m-4 1h0m-10 1h0m14 0h0m-9 1h0m9 2h0m-13 0h0m13 0h0m-4 1h0m-4 0h0m2 0h0m4 1h0m1 0h0m-7 0h0m-4 1h0m-1 0h0m6 2h0m0 1h0m8 0h0m-6 1h0m6 1h0m-13 0h0m5 1h0m-6 0h0m2 0h0m0 0h0m12 1h0m-10 1h0m2 1h0m6 1h0m3 0h0m-12 1h0m6 1h0m-6 1h0m0 2h0m6 1h0m4 1h0m-6 0h0m1 2h0m1 2h0m4 1h0m-11 2h0m6 1h0m-5 0h0m6 0h0m3 0h0m1 3h0m-2 1h0m-12 0h0m14 0h0m-1 0h0m-8 0h0m2 1h0m1 0h0m5 0h0m-7 1h0m-6 0h0m3 0h0m-2 0h0m6 0h0m1 1h0m-7 5h0m7 2h0m-4 5h0m6 1h0m-2 2h0m11-179h0m5 3h0m-2 8h0m-1 1h0m0 3h0m6 3h0m4 2h0m-4 21h0m-10 1h0m1 1h0m0 5h0m11 2h0m-1 0h0m0 3h0m-4 6h0m0 0h0m8 2h0m-15 2h0m7 4h0m3 0h0m3 2h0m1 1h0m1 0h0m-10 2h0m7 1h0m-4 2h0m-7 2h0m-2 2h0m10 1h0m-3 2h0m-3 0h0m5 1h0m-2 0h0m-4 0h0m8 0h0m-6 2h0m7 0h0m-12 1h0m13 0h0m-3 1h0m0 0h0m-1 1h0m1 1h0m-5 1h0m3 0h0m-4 1h0m-2 1h0m14 1h0m-3 0h0m-13 2h0m12 3h0m0 0h0m-9 1h0m5 3h0m1 1h0m-6 2h0m13 2h0m-10 3h0m10 2h0m-1 1h0m-15 1h0m5 0h0m-4 4h0m5 0h0m1 1h0m1 0h0m-6 2h0m13 0h0m-12 0h0m11 1h0m-4 0h0m4 0h0m-3 1h0m-5 0h0m6 1h0m-6 0h0m-5 1h0m13 0h0m-8 0h0m0 1h0m6 0h0m-10 1h0m1 0h0m-1 0h0m4 0h0m4 0h0m0 1h0m2 1h0m3 1h0m-15 0h0m6 1h0m7 0h0m-7 0h0m6 3h0m-2 2h0m-8 0h0m14 2h0m-13 0h0m7 1h0m-9 1h0m2 1h0m7 1h0m-9 1h0m8 0h0m-8 1h0m6 2h0m1 1h0m0 0h0m4 0h0m3 0h0m-2 1h0m-1 0h0m2 0h0m-5 2h0m-3 0h0m2 1h0m5 0h0m-9 1h0m-1 1h0m2 4h0m1 2h0m1 0h0m7 0h0m-10 0h0m-1 0h0m9 1h0m1 1h0m-4 1h0m-6 1h0m-1 0h0m12 1h0m-13 8h0m14 2h0m6-158h0m3 1h0m0 17h0m4 1h0m-1 3h0m4 9h0m-9 1h0m3 7h0m7 1h0m-15 1h0m6 1h0m8 1h0m-11 1h0m-3 0h0m12 2h0m-9 0h0m11 1h0m-3 0h0m-5 1h0m5 1h0m4 2h0m-16 1h0m1 0h0m9 3h0m0 1h0m3 0h0m-5 0h0m-4 1h0m9 4h0m-8 2h0m4 1h0m-6 1h0m4 4h0m9 1h0m-11 0h0m-1 1h0m10 1h0m-9 0h0m7 0h0m-1 1h0m0 0h0m-2 1h0m2 2h0m-9 1h0m6 1h0m-6 4h0m12 1h0m-12 0h0m4 1h0m-2 2h0m-3 0h0m5 1h0m2 0h0m-8 1h0m3 2h0m11 1h0m-8 3h0m0 0h0m2 3h0m1 2h0m6 1h0m-8 0h0m3 0h0m4 1h0m-1 0h0m-11 0h0m13 1h0m-13 0h0m14 1h0m-3 2h0m-1 1h0m-10 2h0m8 0h0m4 0h0m-12 0h0m-1 0h0m15 0h0m-11 1h0m0 0h0m6 0h0m2 0h0m-4 1h0m5 2h0m-1 0h0m-1 1h0m-4 1h0m-8 1h0m1 0h0m13 1h0m-11 0h0m10 0h0m2 1h0m-5 0h0m-10 0h0m15 1h0m-8 1h0m3 0h0m-3 3h0m-3 4h0m5 0h0m-1 1h0m4 0h0m-8 1h0m0 1h0m7 0h0m-7 1h0m8 1h0m-7 0h0m3 1h0m-7 1h0m14 0h0m-6 0h0m0 2h0m-2 1h0m-5 3h0m5 1h0m-3 0h0m6 0h0m-7 1h0m0 0h0m1 1h0m12 0h0m-11 0h0m6 5h0m-4 2h0m-1 0h0m1 6h0m-5 5h0m20-156h0m-4 3h0m9 1h0m3 3h0m-8 0h0m-5 2h0m1 1h0m12 2h0m2 0h0m-12 10h0m3 5h0m5 4h0m-10 3h0m7 0h0m-6 0h0m-2 1h0m13 9h0m-5 1h0m4 2h0m-5 2h0m7 3h0m-4 4h0m-5 5h0m3 0h0m6 1h0m-5 0h0m-6 1h0m2 0h0m-6 3h0m8 1h0m2 0h0m2 0h0m-8 2h0m0 1h0m11 1h0m-6 0h0m1 1h0m4 2h0m-14 0h0m6 0h0m4 2h0m-2 2h0m5 2h0m-3 1h0m3 1h0m0 2h0m-5 2h0m-5 1h0m6 0h0m-6 1h0m11 1h0m-7 0h0m8 4h0m-15 2h0m1 0h0m-1 1h0m1 1h0m3 0h0m-1 0h0m9 1h0m-6 1h0m-5 0h0m9 0h0m-1 1h0m5 1h0m-3 0h0m3 0h0m-7 0h0m3 0h0m-1 0h0m-3 1h0m-2 0h0m-3 0h0m7 1h0m6 0h0m-1 0h0m-4 1h0m1 0h0m4 0h0m-2 1h0m-7 1h0m4 1h0m2 0h0m-6 2h0m-1 0h0m-1 0h0m1 0h0m8 1h0m-5 2h0m-5 0h0m4 0h0m-3 1h0m3 1h0m-1 0h0m6 2h0m-8 0h0m8 1h0m-5 0h0m4 1h0m-4 0h0m7 0h0m3 0h0m-15 1h0m12 2h0m-2 1h0m-7 1h0m4 1h0m-2 0h0m7 1h0m-5 1h0m6 2h0m-12 0h0m11 0h0m2 1h0m1 0h0m-4 2h0m-4 0h0m6 0h0m1 2h0m-14 2h0m7 0h0m0 1h0m-7 0h0m6 4h0m3 3h0m-5 0h0m-3 2h0m2 1h0m14-142h0m7 5h0m2 3h0m3 0h0m-13 1h0m7 1h0m-6 1h0m12 4h0m-7 2h0m-1 4h0m5 9h0m-1 2h0m-6 6h0m-4 0h0m4 1h0m0 8h0m11 3h0m-1 2h0m-10 4h0m2 0h0m1 0h0m5 3h0m-8 1h0m-1 0h0m6 0h0m-4 1h0m9 1h0m2 1h0m-1 0h0m-10 0h0m5 2h0m-3 1h0m5 1h0m0 0h0m-5 1h0m3 1h0m6 2h0m-1 3h0m-11 0h0m12 1h0m-8 1h0m3 0h0m-8 1h0m0 0h0m9 3h0m2 2h0m-12 0h0m9 1h0m-6 3h0m4 0h0m6 2h0m-14 1h0m0 0h0m-1 0h0m10 0h0m-6 1h0m2 1h0m-1 1h0m9 0h0m-6 0h0m-7 0h0m11 1h0m0 0h0m-2 0h0m1 1h0m5 0h0m-15 1h0m9 0h0m2 1h0m-9 1h0m6 1h0m-5 0h0m11 1h0m-11 0h0m0 0h0m7 0h0m3 1h0m0 0h0m-8 0h0m2 1h0m-6 1h0m-2 0h0m6 0h0m10 1h0m-7 0h0m-4 1h0m9 0h0m0 0h0m-12 0h0m8 1h0m-3 0h0m-7 0h0m8 1h0m6 1h0m-4 0h0m2 0h0m-2 1h0m0 1h0m-9 0h0m15 0h0m-5 3h0m4 0h0m-9 1h0m1 2h0m1 0h0m-3 2h0m-2 0h0m1 1h0m2 2h0m7 3h0m-3 1h0m-9 1h0m3 0h0m1 1h0m6 0h0m-3 0h0m-6 2h0m12 1h0m-12 1h0m6 1h0m6 3h0m-13 2h0m11 1h0m6-131h0m1 1h0m1 1h0m6 9h0m2 2h0m-1 2h0m-2 0h0m2 0h0m-10 2h0m1 5h0m0 1h0m10 2h0m2 4h0m-2 1h0m-6 1h0m6 1h0m0 1h0m-4 8h0m-4 9h0m2 1h0m-5 0h0m14 0h0m-9 1h0m6 1h0m-4 0h0m-2 0h0m8 3h0m1 0h0m-11 1h0m12 0h0m-10 2h0m-3 0h0m-3 2h0m2 3h0m1 4h0m1 1h0m5 0h0m0 1h0m6 2h0m-12 1h0m7 0h0m2 2h0m-7 2h0m-2 4h0m-3 0h0m1 0h0m12 1h0m-13 1h0m5 1h0m-4 0h0m13 0h0m2 1h0m-13 2h0m-2 0h0m10 0h0m-7 0h0m2 0h0m-4 1h0m2 1h0m7 0h0m-5 0h0m4 0h0m-1 0h0m-2 1h0m3 0h0m6 0h0m-10 0h0m0 0h0m-1 1h0m0 0h0m1 1h0m-3 1h0m0 0h0m6 1h0m-2 0h0m6 0h0m-11 0h0m1 1h0m2 0h0m1 1h0m9 0h0m-4 2h0m-5 1h0m6 0h0m-11 3h0m6 0h0m-2 2h0m-4 1h0m3 2h0m7 1h0m-2 0h0m2 0h0m-3 1h0m0 1h0m-6 2h0m8 0h0m1 0h0m-10 0h0m1 3h0m2 2h0m3 0h0m-2 1h0m-3 0h0m6 1h0m-7 0h0m10 3h0m-2 0h0m9-114h0m-1 23h0m0 11h0m-1 18h0m1 4h0m-1 0h0m1 10h0m-1 5h0" stroke="#00ff00" stroke-width="5.2" stroke-linecap="round" fill="none"/>
<path transform="scale(.5)" d="M116 301l3 3 3 0 3 2 3 1 3-7 3 6 3 2 3 1 3-7 3 8 3-9 3 8 3-3 3 3 3 0 3-1 3-1 3-4 3-3 3 8 3-1 3 1 3-6 3 5 3 3 3-3 3 2 3 2 3 1 3-7 3 4 3 2 3 0 3 0 3-1 3-3 3-6 3 9 3 0 3-1 3-10 3 10 3-2 3-3 3 4 3 0 3 2 3-2 3 4 3-7 3 7 3-4 3 0 3 3 3 0 3-2 3-1 3 1 3-1 3-6 3 1 3-5 3 5 3-6 3 6 3-2 3 5 3-3 3 1 3-2 3 3 3 0 3-5 3 4 3 0 3 0 3-8 3 2 3 5 3-2 3-4 3-2 3 11 3 4 3 0 3 1 3 1 3-2 3 2 3 1 3-1 3-6 3 6 3-2 3-4 3 2 3 3 3-1 3-3 3 4 3-8 3-1 3 1 3-4 3 5 3-1 3-2 3 4 3 0 3 0 3-6 3 3 3 7 3 1 3 2 3-2 3-2 3 3 3-6 3-2 3 5 3 2 3-1 3 1 3 2 3 0 3-8 3 3 3 5 3-6 3 7 3-1 3-4 3-3 3-7 3 0 3-3 3 7 3 1 3-5 3 1 3 4 3-2 3-2 3 5 3 0 3 1 3-2 3 1 3-8 3 8 3 1 3 0 3 0 3 3 3-2 3 1 3-1 3-4 3 3 3-5 3 6 3 1 3-8 3 7 3-1 3 0 3-3 3 3 3-1 3 6 3-5 3 4 3-6 3 1 3-3 3 1 3 4 3-2 3 0 3 3 3 0 3 1 3 2 3-7 3 3 3 5 3 0 3 1 3-1 3-5 3 2 3 4 3-1 3-2 3 0 3-2 3-1 3-3 3 2 3 0 3 0 3 6 3-2 3 1 3-4 3 2 3 1 3 5 3-1 3 0 3 1 3-12 3 8 3-8 3 6 3-3 3 2 3-17 3-1 3-2 3 2 3 0 3 6 3-5 3-2 3 10 3-6 3-4 3 11 3-1 3 0 3 0 3-3 3-7 3-1 3 4 3-3 3 0 3 1 3 0 3 1 3-4 3 6 3-2 3 0 3 2 3 0 3-1 3 15 3-1 3 3 3-1 3 0 3-1 3-1 3-1 3-2 3 0 3 13 3-4 3 0 3 2 3 0 3 2 3 3 3-5 3 2 3 2 3 1 3-1 3-2 3 3 3-1 3 0 3 4 3-7 3 7 3-9 3-4 3 5 3-2 3 1 3 0 3-1 3 2 3-2 3 3 3-3 3 2 3-1 3 0 3-3 3 3 3-1 3-1 3-1 3-1 3 1 3-1 3 0 3 0 3-1 3 2 3 0 3 1 3 0 3-4 3 4 3-5 3 3 3 0 3 0 3-3 3 0 3-2 3-5 3 6 3-7 3 12 3-6 3 6 3 0 3 0 3 0 3 0 3 3 3 0 3-2 3 2 3-2 3-1 3-1 3 3 3-2 3 2 3-2 3 1 3-2 3 0 3 3 3-6 3 5 3 0 3 3 3-2 3-2 3 6 3-1 3-1 3 0 3-6 3-1 3-1 3 0 3-2 3-3 3 0 3 3 3 2 3 8 3 0 3-3 3 4 3-1 3 0 3 3 3-3 3 2 3 0 3-2 3-2 3 2 3 2 3-2 3-4 3 2 3 0 3-5 3 3 3 2 3-2 3 3 3 1 3-2 3 3 3-1 3 1 3 0 3 1 3-4 3 2 3 0 3-3 3 0 3-2 3 0 3-1 3 0 3-1 3 0 3-3 3 5 3-1 3 1 3 1 3-2 3 3 3-2 3 3 3-5 3 5 3-3 3 1 3 0 3-5 3 5 3-1 3 0 3 0 3-4 3 1 3-1 3 2 3 4 3 0 3-1 3 2 3 2 3-3 3-3 3 5 3-1 3-2 3-4 3 5 3-1 3-10 3 3 3 1 3 2 3-1 3-4 3 6 3 0 3-2 3 8 3 0 3-5 3 5 3 1 3-5 3 2 3 1 3-7 3 5 3-2 3 0 3 1 3-2 3 0 3-5 3 7 3 1 3 0 3-1 3 2 3-2 3 3 3-3 3 1 3-6 3 4 3 2 3-4 3 4 3-1 3 0 3 0 3 0 3 0 3-1 3 0 3-4 3 6 3 1 3 1 3-1 3 0 3 1 3-1 3-5 3 4 3-4 3 2 3-2 3 3 3-1 3 1 3-1 3-1 3 3 3-1 3 1 3 0 3 2 3-4 3 0 3 4 3-1 3 2 3-4 3 1 3 0 3 1 3-7 3 2 3 3 3 1 3 0 3-6 3 5 3-3 3 4 3 1 3 1 3-4 3 1 3 3 3-3 3 2 3-6 3 6 3 0 3-2 3-1 3-20 3 9 3-2 3-4 3 5 3-3 3-2 3 1 3 7 3-5 3-3 3 1 3-6 3 14 3-12 3 3 3 9 3-2 3-13 3 4 3 19 3 2 3-2 3 0 3 2 3-1 3 1 3 0 3 3 3-2 3-3 3 6 3-2 3 1 3 0 3 0 3 5 3 3 3-2 3 1 3-1 3 0 3-9 3-5 3-4 3 9 3 1 3 1 3-1 3-21 3 7 3 4 3 0 3 0 3 7 3 10 3-4 3 2 3-1 3 0 3-1 3 0 3-6 3-4 3-1 3 0 3 3 3-6 3 4 3 3 3 1 3-8 3-8 3 5 3 0 3 0 3-3 3 2 3-10 3 8 3-12 3 10 3-2 3 2 3 1 3 2 3-1 3 1 3 1 3 0 3-3 3 10 3 4 3-4 3 6 3-7 3 5 3-2 3 2 3-4 3 1 3 1 3 3 3-4 3-2 3 7 3-2 3 2 3 0 3-2 3 2 3-3 3 1 3 4 3-2 3 0 3-1 3 1 3 0 3 1 3-7 3 0 3-1 3 3 3 5 3 0 3-6 3 8 3-3 3 3 3-2 3 2 3 0 3-24 3 9 3 0 3-6 3 2 3 2 3-2 3 2 3-10 3-4 3 8 3 5 3-10 3 11 3 0 3-1 3 22 3 2 3 1 3-1 3-8 3 3 3 1 3 3 3-2 3 1 3-4 3 3 3-1 3 0 3 0 3-1 3 2 3-4 3 2 3 1 3-4 3 5 3-2 3 3 3-6 3-1 3-1 3 2 3-3 3 1 3-3 3 2 3-3 3 10 3 5 3 1 3 0 3 1 3-6 3 4 3-4 3 8 3-1 3-24 3 2 3-5 3 5 3 0 3-2 3-4 3 1 3 2 3-3 3-5 3-6 3 8 3 3 3-6 3 8 3 1 3 1 3 11 3 1 3 0 3 1 3-7 3 6 3-4 3 3 3-7 3 6 3 0 3 0 3 0 3 0 3-10 3-8 3 9 3-4 3 5 3-5 3 5 3-2 3-3 3 15 3-2 3 6 3-2 3 2 3-10 3 6 3 2 3-5 3 6 3 0 3 0 3 0 3 0 3-6 3 6 3-5 3 5 3-2 3 1 3 0 3-9 3 7 3 2 3-1 3-2 3 1 3-6 3 1 3-2 3 4 3-7 3 3 3-1 3 0 3 1 3 5 3-3 3-2 3-3 3 8 3 0 3-2 3 0 3-4 3 3 3 1 3-8 3 2 3-5 3 4 3-14 3-7 3 9 3 1 3 1 3 1 3 1 3 9 3 5 3-3 3 2 3-3 3 2 3-7 3 6 3-5 3 4 3 2 3-1 3 0 3-1 3 2 3-5 3 4 3-3 3 6 3 0 3 0 3-2 3-6 3 7 3-1 3 0 3-1 3 0 3-2 3 1 3-2 3 0 3-2 3 4 3 0 3-4 3 5 3 0 3 0 3 6 3-10 3 7 3 3 3-2 3-4 3 2 3-3 3 5 3-4 3-7 3 1 3 9 3-2 3 2 3-1 3 2 3 1 3 2 3-1 3-1 3-9 3 3 3-3 3 2 3 3 3-4 3 0 3-1 3 0 3-4 3 7 3-7 3 4 3 3 3 3 3 0 3-13 3 4 3 0 3-3 3 7 3-5 3 3 3-6 3 5 3 0 3 1 3-5 3 4 3 1 3-7 3 7 3-3 3 1 3-8 0 32-3-4-3 0-3 1-3-1-3 1-3 3-3-4-3 1-3 6-3-5-3 9-3-9-3 2-3 0-3-1-3-1-3 3-3 1-3 15-3-6-3 0-3-2-3 1-3 6-3-8-3 1-3 0-3 0-3-1-3 1-3 8-3-7-3 3-3 3-3-3-3 13-3-9-3-3-3 2-3 5-3-6-3 3-3-3-3-3-3 5-3-7-3 2-3-1-3 1-3 3-3 1-3 0-3-1-3-1-3 7-3-8-3-7-3-4-3-1-3 3-3-4-3 8-3-7-3-1-3 2-3-1-3 3-3-3-3 1-3 4-3-2-3-1-3 1-3 5-3-5-3-1-3-1-3 7-3-7-3 7-3-3-3-2-3 2-3 0-3-5-3 3-3-3-3 9-3-7-3-1-3 9-3-7-3 0-3 0-3 1-3-3-3-6-3 4-3-4-3-3-3 9-3 11-3-8-3 1-3 0-3 0-3 0-3 0-3 3-3-2-3 6-3-4-3 4-3-4-3 4-3-4-3 4-3-5-3 5-3-4-3 2-3 8-3-6-3-3-3 0-3 1-3 8-3-2-3-1-3-3-3 9-3-8-3 0-3 1-3 2-3-2-3 2-3-3-3 1-3 0-3 1-3 5-3-4-3-3-3-1-3 1-3-1-3 10-3-9-3 4-3 4-3-4-3-13-3-6-3 0-3 2-3-3-3-1-3 7-3-3-3-4-3 9-3-2-3 4-3-4-3 1-3 5-3 2-3-7-3 2-3 0-3 4-3-3-3 0-3 5-3-8-3 5-3-5-3-5-3 3-3-4-3 1-3 1-3 7-3-3-3 0-3 1-3 9-3-9-3 0-3 2-3-1-3 8-3 22-3-10-3-2-3 1-3 5-3-8-3 7-3-7-3 1-3-9-3-7-3 1-3 0-3 6-3-1-3-6-3 5-3-5-3 1-3 5-3 0-3 1-3 0-3 1-3 1-3-6-3 2-3 0-3 2-3-6-3 1-3 5-3-4-3 5-3 3-3-7-3 4-3-2-3 1-3-1-3 0-3 2-3 1-3-13-3 3-3 3-3-7-3 0-3 0-3-1-3 0-3 3-3 3-3-5-3 0-3 3-3 0-3 5-3-5-3 3-3 6-3-5-3-1-3 6-3-8-3 2-3-2-3 5-3-7-3 4-3-4-3 4-3-3-3-1-3 6-3-4-3 5-3-1-3-4-3 4-3 1-3 6-3-6-3 4-3 0-3 0-3-7-3 8-3-9-3 0-3-1-3 2-3 0-3 1-3-1-3 3-3 0-3 3-3 15-3-6-3-9-3-6-3-2-3 9-3-10-3 4-3-6-3 2-3 5-3 5-3-12-3 13-3-4-3-9-3 5-3 10-3-13-3 3-3 9-3 0-3-10-3-1-3-1-3 6-3-5-3-2-3-1-3 0-3 1-3 8-3 10-3-3-3 3-3-6-3-2-3 2-3 1-3-1-3-9-3 0-3-2-3 0-3 8-3 1-3 0-3-1-3 2-3-4-3 2-3 6-3-10-3-3-3 2-3 2-3-2-3 0-3-3-3 4-3 0-3-2-3 2-3-3-3 1-3 0-3-5-3 1-3 1-3-2-3 3-3-3-3-1-3 1-3 16-3-9-3-1-3 6-3 7-3-9-3 0-3 4-3-5-3-1-3 13-3-14-3 1-3-3-3 0-3 9-3-10-3-3-3-3-3 0-3 2-3 1-3 0-3-1-3 3-3 4-3-5-3 0-3 0-3 0-3 1-3 3-3-4-3 0-3-2-3 0-3 0-3 0-3 3-3-1-3-1-3 1-3-1-3 1-3 2-3 0-3-1-3 3-3-4-3-1-3 7-3-3-3-3-3 2-3-4-3-1-3-1-3 1-3 1-3 0-3 2-3 1-3-2-3 0-3 0-3 5-3-3-3-2-3 6-3 0-3-3-3-2-3 1-3 0-3-2-3 0-3-2-3 1-3 6-3-2-3-3-3 0-3 6-3-5-3 0-3 5-3-3-3-1-3 1-3 1-3-2-3 2-3 0-3-4-3-1-3 1-3 4-3-4-3 5-3-5-3 5-3 3-3-4-3 3-3-4-3 4-3-3-3 0-3 2-3 0-3-6-3-1-3-2-3 3-3 2-3-5-3 1-3 3-3-2-3 6-3-6-3 1-3 0-3 1-3 0-3 3-3-2-3 0-3 0-3 1-3 1-3-3-3-1-3 3-3 2-3-5-3-2-3 2-3 0-3 0-3-2-3 5-3-3-3 1-3-1-3 0-3 2-3 0-3 3-3-4-3-1-3 4-3-5-3 1-3 2-3-4-3 4-3-1-3-3-3 0-3 1-3 6-3 4-3-4-3 0-3 2-3-1-3 3-3-1-3-1-3-3-3-1-3 1-3 5-3-7-3 0-3 2-3 1-3 3-3-4-3 6-3 0-3-6-3 3-3 0-3 0-3 3-3-4-3 1-3 0-3 3-3 1-3-5-3-2-3 0-3 2-3-4-3-5-3 7-3-7-3 6-3 1-3-5-3 0-3 2-3 5-3 1-3-1-3-2-3 1-3 1-3 1-3-4-3 0-3 0-3-2-3 0-3 1-3 0-3-1-3 3-3-2-3 6-3-5-3 6-3-4-3-2-3 2-3 3-3-5-3 0-3 0-3 2-3-4-3 5-3-3-3-3-3 7-3-6-3 8-3-5-3 0-3 5-3-10-3 3-3 1-3 0-3-4-3 1-3 0-3 1-3-2-3 4-3-3-3-2-3 0-3 1-3-1-3 3-3 3-3-4-3 2-3 0-3 2-3-1-3 2-3 1-3-1-3-1-3 0-3 0-3 2-3 2-3-6-3 1-3-1-3 1-3-1-3 22-3 2-3-5-3-14-3 4-3-2-3-1-3 0-3 1-3-1-3 0-3-1-3 2-3-2-3 0-3-1-3-2-3 2-3-1-3-3-3-2-3-3-3 0-3 0-3 1-3 0-3 2-3 3-3-6-3 1-3-7-3-1-3 4-3-5-3 5-3-4-3 0-3 0-3-5-3 3-3-1-3 0-3 17-3 2-3 0-3 13-3-4-3-9-3 2-3 1-3 5-3-7-3 6-3 4-3-12-3 14-3-5-3-8-3 11-3-10-3 3-3-1-3 12-3-10-3 6-3-4-3-7-3-1-3 0-3 5-3-4-3 0-3 3-3-5-3 3-3 1-3-3-3 5-3 2-3 13-3-13-3-4-3-1-3-2-3 6-3-5-3 5-3-5-3 7-3-8-3 2-3 2-3-4-3 0-3 2-3-4-3 0-3-1-3 5-3-3-3 1-3-2-3 0-3-1-3 2-3 3-3-3-3 9-3-10-3 2-3 0-3 4-3-5-3 1-3-4-3 3-3 2-3-3-3 2-3-3-3-1-3 7-3-6-3 8-3-4-3-2-3 3-3-3-3 0-3 1-3 6-3-8-3 2-3-2-3 1-3 0-3 4-3-5-3 1-3-2-3 7-3 0-3-4-3-1-3 1-3 2-3 3-3 2-3-2-3 1-3-4-3 2-3-1-3-2-3-1-3 2-3-2-3 1-3 7-3-2-3-3-3 2-3 0-3-1-3 0-3-3-3-6-3 8-3-6-3 2-3-4-3 4-3-6-3 2-3 3-3-6-3 2-3-1-3 7-3 5-3-3-3-2-3 5-3-3-3 2-3-3-3 0-3 0-3 1-3 2-3-3-3 7-3-8-3 1-3 1-3-1-3 2-3-10-3-1-3 7-3-6-3 1-3 1-3 0-3 0-3 7-3-5-3 0-3-1-3 5-3 0-3-3-3 2-3 2-3-6-3-1-3 0-3 1-3 1-3 1-3 3-3 0-3-2-3 1-3 7-3-5-3 0-3 6-3-6-3 1-3-1-3 3-3-4-3 1-3-1-3 3-3-5-3 9-3-9-3 1-3 0-3 9-3-6-3 1-3-3-3 6-3 4-3 0-3-8-3 7-3-8-3 1-3-3-3 4-3-3-3-1-3 0-3-2-3 6-3 1-3-6-3 0-3 0-3 8-3-6-3 1-3 3-3-5-3 1-3 0-3 2-3-4-3 0-3 6-3-8-3 8-3-7-3 4-3-2z" fill="#ff0000"/>
<text x="58.5" y="261.7" class="tl" text-anchor="middle">0</text>
<text x="354.3" y="261.7" class="tl" text-anchor="middle">5</text>
<text x="650.1" y="261.7" class="tl" text-anchor="middle">10</text>
<text x="945.9" y="261.7" class="tl" text-anchor="middle">15</text>
<text x="1241.7" y="261.7" class="tl" text-anchor="middle">20</text>
<text x="1537.5" y="261.7" class="tl" text-anchor="middle">25</text>
<text x="53.4" y="41.7" class="tl" text-anchor="end">3</text>
<text x="53.4" y="82.7" class="tl" text-anchor="end">2</text>
<text x="53.4" y="123.7" class="tl" text-anchor="end">1</text>
<text x="53.4" y="164.7" class="tl" text-anchor="end">0</text>
<text x="53.4" y="205.7" class="tl" text-anchor="end"><tspan class="mn">−</tspan>1</text>
<text x="53.4" y="246.7" class="tl" text-anchor="end"><tspan class="mn">−</tspan>2</text>
<text x="798" y="27.7" class="ti" text-anchor="middle">C35 Clock Residual</text>
<text x="798" y="283.7" class="xl" text-anchor="middle">Time (Hour)</text>
<text transform="translate(31.9 138.0) rotate(-90)" x="0" y="0" class="xl" text-anchor="middle">Clock Residual (ns)</text>
<rect x="1333.8" y="35.6" width="194.3" height="42.4" fill="#fff" stroke="#969696" stroke-width="1"/>
<circle cx="1347.9" cy="46.4" r="1.4" fill="#00ff00"/>
<circle cx="1347.9" cy="67.4" r="1.4" fill="#ff3030"/>
<text y="51.7" class="lg"><tspan x="1361">SGL+ISL</tspan><tspan class="cc" x="1419.2" dy="0.5">：</tspan><tspan x="1436.2" dy="-0.5">RMS= 0.25ns</tspan></text>
<text y="73.1" class="lg"><tspan x="1361">WNA</tspan><tspan class="cc" x="1392.6" dy="0.5">：</tspan><tspan x="1410.2" dy="-0.5">RMS= 0.10ns</tspan></text>
<path d="M354.3 319.5V524.5M650.1 319.5V524.5M945.9 319.5V524.5M1241.7 319.5V524.5M58.5 370.75H1537.5M58.5 422.00H1537.5M58.5 473.25H1537.5" stroke="#ebebeb" stroke-width="1" fill="none"/>
<rect x="58.5" y="319.5" width="1479.0" height="205.0" fill="none" stroke="#969696" stroke-width="1"/>
<path d="M354.3 524.5v-14.8M354.3 319.5v14.8M650.1 524.5v-14.8M650.1 319.5v14.8M945.9 524.5v-14.8M945.9 319.5v14.8M1241.7 524.5v-14.8M1241.7 319.5v14.8M58.5 370.75h14.8M1537.5 370.75h-14.8M58.5 422.00h14.8M1537.5 422.00h-14.8M58.5 473.25h14.8M1537.5 473.25h-14.8" stroke="#8c8c8c" stroke-width="1" fill="none"/>
<path transform="scale(.5)" d="M204 800l4 1 4 0 4 0 4 2 4 0 4 0 4-1 4 1 4-1 4 1 4 1 4-2 4 1 4 2 4-2 4 2 4-2 4 1 4 1 4-1 4 2 4 3 4 0 4 2 4-1 4-1 4 1 4 1 4-1 4 2 4-1 4-1 4 3 4 0 4 0 4 1 4-2 4 2 4 0 4 0 4-1 4-2 4 3 4 0 4 1 4-2 4 0 4 0 4 2 4-1 4 1 4 1 4-3 4 4 4-3 4 1 4 1 4 0 4 0 4-2 4 0 4 2 4-1 4 0 4 1 4 2 4-2 4 0 4 2 4-2 4-1 4-1 4 4 4-3 4 1 4 2 4-2 4 0 4 1 4 0 4-1 4 1 4 1 4 0 4 0 4-2 4 1 4 1 4-1 4 0 4 0 4 0 4 1 4-1 4-1 4 0 4 1 4 0 4-2 4 1 4 3 4-4 4 4 4-2 4-1 4 2 4-2 4 3 4 0 4-1 4 1 4 0 4-2 4 2 4-1 4 0 4-1 4 0 4 2 4-2 4 0 4 0 4 2 4-2 4 1 4 0 4 1 4-2 4-1 4 3 4-2 4 0 4-1 4 3 4 0 4-2 4 1 4 1 4 0 4 0 4-1 4-1 4-1 4 2 4 1 4-3 4 0 4 3 4-1 4 0 4-2 4 0 4 1 4 0 4-2 4 1 4 3 4-1 4-3 4 1 4 1 4-2 4 1 4 2 4 0 4-2 4-1 4 0 4 3 4-2 4 1 4-1 4 2 4 0 4 1 4 1 4 3 4-2 4 3 4 1 4 2 4-1 4 5 4 0 4-1 4 1 4-3 4 1 4-1 4 0 4-2 4 0 4 2 4-1 4 0 4-2 4-3 4-3 4-1 4 1 4-2 4-1 4-2 4-3 4-2 4-1 4 1 4-2 4-2 4-3 4-1 4 1 4-3 4-2 4-2 4 1 4 1 4 1 4 0 4 2 4 2 4 5 4 4 4 5 4 3 4 4 4 4 4 5 4 6 4 1 4 4 4-2 4 4 4-2 4 1 4 2 4-1 4 1 4 1 4-11 4-6 4-6 4 2 4 5 4 1 4 1 4 5 4 0 4 3 4-13 4-11 4-9 4 6 4 6 4 6 4 6 4-5 4-5 4-21 4 2 4 2 4-2 4 1 4 2 4-1 4 2 4 0 4-1 4 1 4 0 4 4 4-2 4 1 4 2 0 46-4 3-4 0-4 0-4 1-4 0-4-2-4-1-4 0-4 2-4-1-4 2-4 0-4-1-4 2-4-1-4 14-4 9-4 6-4-4-4-9-4-4-4-6-4 7-4 9-4 10-4-1-4-2-4 0-4-1-4-2-4 1-4-1-4 3-4 5-4 1-4 1-4 1-4-2-4-1-4 0-4-2-4-2-4 2-4-1-4-6-4-3-4-2-4-2-4-5-4-3-4-3-4-1-4-2-4-3-4 0-4-3-4-1-4-3-4 0-4 1-4 1-4 2-4 1-4 3-4-1-4 4-4 0-4 0-4 2-4 4-4 2-4 1-4-1-4 5-4-1-4 4-4-1-4 3-4 0-4 2-4 0-4 1-4 0-4 0-4-1-4 2-4 0-4 3-4 0-4-2-4 0-4-3-4-2-4-3-4-1-4-4-4 0-4-1-4 0-4 3-4-2-4-1-4-1-4 1-4-2-4 2-4-1-4 1-4 1-4-3-4-1-4 1-4 0-4 2-4-2-4 3-4 0-4-2-4-1-4 3-4 0-4-4-4 1-4-1-4 2-4-2-4 2-4 0-4 0-4-1-4-1-4 2-4 1-4-2-4 1-4-3-4 1-4-1-4 2-4 2-4-1-4-1-4 2-4-3-4 3-4-2-4 2-4-3-4 0-4 1-4 0-4-1-4 2-4-1-4 0-4 1-4 0-4-1-4 1-4-1-4-2-4 1-4 0-4-1-4-1-4 2-4 0-4 1-4-3-4 0-4 0-4 0-4-1-4 3-4-1-4 1-4-2-4 2-4-2-4 0-4 2-4-2-4 0-4 1-4-1-4 0-4 2-4-2-4 0-4 0-4-2-4 3-4-3-4 0-4 2-4 1-4-1-4 1-4-3-4 3-4-3-4 1-4 1-4 0-4-2-4 1-4-1-4 0-4-1-4 3-4-1-4-2-4 3-4-3-4 3-4-4-4 1-4 1-4-2-4 3-4-1-4 2-4-2-4-1-4 0-4 2-4 1-4-3-4 0-4 1-4 2-4 0-4-1-4-2-4 0-4 3-4-3-4 1-4-1-4 3-4-2-4 2-4-4-4 2-4-1-4 3-4-2-4 2-4 0-4-1-4-1-4 0-4 3-4-2-4 3-4-1-4-2-4 1-4 0-4-1-4 1-4 1-4-1-4 1-4-1-4-1-4 3-4-1-4-2-4 1-4 1-4-1-4-2-4 2zM1244 776l4-1 4 1 4-1 4 3 4 0 4-2 4-1 4 0 4-2 4 3 4-2 4 1 4-1 0 39-4 0-4 0-4 0-4 0-4-1-4 2-4-3-4 0-4 0-4 2-4 0-4-2-4 1zM1860 830l4 0 4 2 4-1 4 1 4 0 4 1 4-2 4 1 4-1 4-1 4 1 4-1 4 0 4 0 4 0 4 2 4-2 4 3 4-2 4-1 4 0 4 0 4 2 4-1 4-1 4 2 4-1 4 2 4 0 4 0 4-2 4 0 4 0 4 1 4-2 4 1 4 1 4 0 4 0 4 1 4-3 4 3 4-1 4-1 4 1 4 0 4 1 4-1 4 0 4-2 4 3 4-3 4 2 4-1 4-1 4 1 4-1 4 1 4 1 4 0 4-2 4 0 4 3 4-2 4 1 4-1 4 1 4-1 4 2 4-1 4 1 4-3 4 0 4 3 4 0 4 0 4 0 4 0 4-2 4 2 4-2 4-1 4 3 4-1 4 0 4 1 4-2 4-1 4 0 4 0 4 3 4-1 4 0 4-2 4 0 4 3 4 0 4 0 4-1 4-1 4 2 4-2 4-1 4 1 4 2 4-3 4 3 4-3 4 1 4 2 4-3 4 1 4 0 4-1 4 2 4 1 4-1 4-3 4 1 4 3 4-1 4 0 4-2 4 2 4 0 4-2 4 0 4-1 4 3 4 0 4 1 4-3 4 2 4 1 4 0 4 0 4-3 4 1 4 2 4-4 4 3 4-2 4 2 4 0 4-1 4-1 4 3 4 0 4-3 4 1 4-1 4 1 4-1 4 1 4 2 4-3 4 2 4-2 4 2 4 1 4 0 4-3 4 0 4 1 4 1 4-2 4 1 4 2 4 0 4-1 4-2 4 0 4 0 4 1 4 0 4 1 4 1 4 0 4-1 4 0 4-2 4-1 4 2 4 2 4 0 4-1 4-3 4 4 4 0 4 0 4 0 4-1 4-2 4 2 4-1 4 2 4 0 4 0 4-2 4 1 4-1 4 0 4-1 4 3 4-3 4 1 4 0 4 1 4 0 4-2 4 2 4 1 4-3 4 3 4 0 4-3 4 0 4 0 4-1 4 2 4 2 4-3 4 1 4 0 4-1 4 0 4 0 4 3 4-1 4 1 4-1 4-2 4 0 4 0 4 1 4 1 4-1 4 0 4-1 4 2 4 1 4-2 4-1 4 2 4-1 4-2 4 1 4 0 4 0 4 0 4 0 4 2 4-1 4 0 0 27-4-1-4-2-4 3-4-2-4 2-4-1-4-1-4-1-4 2-4-2-4 3-4-2-4 1-4 0-4 1-4-2-4-1-4 0-4 1-4 0-4 2-4-1-4-1-4 2-4-2-4 0-4 0-4 2-4 0-4-3-4 3-4 0-4-2-4 2-4-2-4-1-4 2-4 1-4-1-4 1-4 1-4-2-4-1-4 2-4 0-4-1-4-1-4 1-4-1-4 0-4 0-4-1-4 1-4 1-4 0-4 0-4 0-4 1-4-1-4-2-4 0-4 0-4 1-4 2-4-2-4-1-4 2-4 1-4-3-4 3-4-1-4-2-4 2-4 0-4-1-4 2-4 1-4-3-4 1-4-1-4 0-4 1-4 0-4-2-4 1-4 0-4-1-4 3-4-2-4-1-4 0-4 0-4 3-4-3-4 0-4 2-4 1-4-3-4 0-4 0-4 0-4 2-4 0-4 0-4 0-4-1-4-1-4 2-4-1-4 0-4 0-4 1-4 1-4 0-4-2-4 2-4 0-4-2-4-1-4 0-4 2-4 1-4-1-4 1-4-1-4 1-4-1-4-2-4 4-4-1-4-1-4 1-4-3-4 0-4 1-4 1-4-1-4-1-4 3-4-2-4 1-4 0-4 0-4 1-4 0-4-1-4 1-4-1-4 0-4 1-4 0-4 0-4 0-4-3-4 0-4 2-4 2-4-2-4 0-4-2-4 0-4 1-4-1-4 1-4 1-4 0-4 0-4 1-4-1-4-1-4 0-4-1-4 3-4-1-4-2-4 1-4-1-4 1-4-1-4 3-4 1-4-3-4 2-4-2-4 2-4-3-4 0-4 1-4-1-4 2-4-1-4 1-4 1-4-2-4 1-4-1-4 2-4 0-4-2-4-1-4 2-4 0-4-2-4 2-4 0-4-1-4 0-4 2-4 0-4-2-4 2-4 0-4 0-4-2-4 1-4 2-4-2-4-1-4 0-4 2-4 0-4 0-4 0-4-3-4 3-4-2-4 0-4 1-4-2-4 1-4 1-4 1-4 0-4-2-4-1-4 0-4 0-4 2-4-2-4 2-4 0-4 0-4-1-4-1-4 2-4-1-4 2-4-3-4 1-4-1-4 1-4 0-4 1-4-1z" fill="#00ff00"/>
<path transform="scale(.5)" d="M125 849h0m1 1h0m-4 3h0m-6 5h0m5 1h0m-1 5h0m0 0h0m7 6h0m-4 0h0m-4 1h0m6 3h0m-6 0h0m5 1h0m-7 1h0m7 4h0m-1 1h0m-4 6h0m4 1h0m2 6h0m2 0h0m-1 1h0m-6 1h0m-2 1h0m9 3h0m-11 3h0m3 1h0m4 1h0m5 3h0m1-60h0m13 7h0m-4 0h0m6 1h0m-11 0h0m0 3h0m-2 0h0m9 0h0m4 1h0m-7 0h0m6 0h0m-1 0h0m-8 1h0m-4 6h0m0 1h0m3 1h0m8 0h0m-13 1h0m14 4h0m-5 1h0m-8 1h0m8 1h0m3 4h0m2 2h0m-6 1h0m5 0h0m-9 1h0m1 1h0m-1 0h0m6 0h0m-3 2h0m-6 0h0m11 3h0m0 3h0m-5 3h0m4 2h0m-4 3h0m-1 4h0m4 1h0m19-58h0m-13 1h0m8 2h0m1 2h0m-7 1h0m-1 1h0m13 3h0m-2 0h0m-8 1h0m12 0h0m-3 1h0m-5 0h0m1 1h0m0 0h0m-2 1h0m2 1h0m-7 3h0m14 0h0m-12 4h0m-1 2h0m-2 1h0m7 0h0m6 1h0m-9 3h0m9 0h0m-4 4h0m-4 4h0m8 1h0m-3 0h0m0 2h0m-7 4h0m7 2h0m-8 2h0m5 5h0m-7 3h0m11 0h0m-9 1h0m19-58h0m7 1h0m0 2h0m-10 1h0m8 1h0m-10 1h0m7 1h0m2 1h0m-3 0h0m-7 1h0m15 3h0m-12 0h0m3 2h0m5 0h0m-2 1h0m-4 3h0m6 0h0m-10 1h0m13 4h0m-6 7h0m2 0h0m-4 1h0m1 1h0m-4 2h0m13 1h0m-14 6h0m2 3h0m10 1h0m-2 0h0m3 2h0m-6 3h0m2 8h0m-8 0h0m-2 0h0m8 1h0m6 0h0m-5 1h0m-4 1h0m10 2h0m-14 1h0m23-64h0m-1 4h0m-8 1h0m10 1h0m-6 5h0m0 0h0m11 4h0m-14 1h0m10 3h0m-5 0h0m1 3h0m5 1h0m1 0h0m1 0h0m-4 4h0m3 1h0m-9 1h0m6 2h0m-9 1h0m12 1h0m2 0h0m1 2h0m-13 2h0m5 0h0m-7 1h0m6 0h0m-4 3h0m2 1h0m10 4h0m-14 1h0m6 2h0m-3 1h0m6 5h0m1 1h0m1 1h0m-5 0h0m5 3h0m-6 1h0m26-120h0m-2 11h0m2 2h0m-4 8h0m1 1h0m2 14h0m0 2h0m-3 2h0m0 3h0m1 0h0m3 1h0m-1 2h0m0 11h0m-2 6h0m2 0h0m-6 1h0m-8 1h0m12 6h0m-8 2h0m0 0h0m8 1h0m-11 0h0m3 0h0m1 0h0m-4 1h0m12 1h0m-11 2h0m6 3h0m0 2h0m3 1h0m4 5h0m-9 1h0m-4 5h0m3 2h0m1 3h0m-5 1h0m5 4h0m-1 0h0m-2 5h0m-4 1h0m3 4h0m-2 2h0m7 1h0m2 0h0m-7 1h0m22-120h0m5 1h0m-12 1h0m-1 0h0m14 1h0m-13 0h0m1 1h0m8 0h0m-6 7h0m1 0h0m6 3h0m-8 4h0m2 2h0m-3 0h0m12 1h0m-7 0h0m5 1h0m-5 1h0m-2 1h0m4 0h0m1 1h0m2 0h0m1 0h0m-11 1h0m5 1h0m-2 0h0m8 1h0m-3 1h0m-1 1h0m-1 1h0m-2 2h0m-1 1h0m1 2h0m-4 1h0m7 1h0m-1 2h0m-8 1h0m1 1h0m-1 3h0m13 0h0m0 1h0m-3 0h0m-11 1h0m1 1h0m4 1h0m-3 0h0m-1 1h0m14 3h0m0 4h0m-6 1h0m4 2h0m-3 2h0m-8 3h0m0 2h0m4 1h0m7 1h0m-2 0h0m-3 1h0m-4 0h0m11 1h0m0 1h0m-1 1h0m-14 0h0m3 4h0m-2 2h0m6 4h0m2 1h0m-3 1h0m2 0h0m6 0h0m-1 2h0m1 2h0m-6 1h0m5 2h0m-4 1h0m2 1h0m-9 2h0m9 0h0m-6 0h0m1 1h0m23-96h0m-12 1h0m2 0h0m8 0h0m-8 1h0m2 1h0m-3 0h0m1 0h0m-1 0h0m9 1h0m2 0h0m2 1h0m-7 0h0m-3 1h0m5 0h0m1 1h0m-7 1h0m11 2h0m-3 0h0m-9 1h0m1 2h0m4 1h0m0 1h0m-1 0h0m9 1h0m-2 3h0m-6 0h0m-1 2h0m5 1h0m0 1h0m-9 1h0m10 6h0m-12 3h0m5 3h0m4 0h0m5 1h0m-12 0h0m7 1h0m-4 0h0m-5 1h0m7 0h0m6 1h0m-3 1h0m4 0h0m-7 1h0m-7 0h0m8 2h0m4 3h0m-10 1h0m2 0h0m3 3h0m-7 1h0m9 2h0m-6 0h0m3 0h0m2 1h0m4 4h0m-11 1h0m2 2h0m-3 4h0m11 0h0m-2 1h0m-4 3h0m10 1h0m-1 2h0m-5 0h0m3 3h0m-3 1h0m-6 1h0m6 0h0m-3 1h0m-6 12h0m5 1h0m-6 0h0m12 1h0m-7 0h0m11 0h0m-12 1h0m6 0h0m18-94h0m-4 3h0m4 0h0m-10 2h0m0 1h0m8 1h0m5 2h0m-3 4h0m4 1h0m-1 0h0m-14 1h0m7 1h0m-8 2h0m9 11h0m6 0h0m-12 0h0m5 1h0m-4 1h0m5 2h0m3 0h0m-5 1h0m6 3h0m-9 1h0m5 2h0m-6 0h0m5 3h0m3 0h0m3 1h0m-11 0h0m8 3h0m4 1h0m-10 3h0m7 0h0m-2 2h0m-5 0h0m-4 2h0m9 0h0m1 1h0m1 0h0m-9 0h0m5 1h0m-5 2h0m-2 0h0m0 0h0m8 4h0m-2 2h0m9 0h0m-2 1h0m-7 1h0m6 1h0m-8 0h0m6 1h0m3 1h0m-11 1h0m9 1h0m-1 3h0m1 0h0m-9 2h0m12 1h0m-12 1h0m5 0h0m-4 0h0m2 1h0m-3 0h0m-2 1h0m0 0h0m2 2h0m4 0h0m6 2h0m-8 2h0m-5 0h0m7 2h0m-3 0h0m2 2h0m4 2h0m5 1h0m-2 1h0m-2 51h0m0 13h0m15-158h0m-7 1h0m2 2h0m1 1h0m-5 1h0m8 1h0m6 2h0m-13 2h0m13 2h0m1 1h0m-3 3h0m-7 1h0m-1 0h0m2 0h0m6 1h0m-7 5h0m10 0h0m-4 1h0m-6 0h0m5 1h0m-2 2h0m1 1h0m0 1h0m3 0h0m-12 0h0m12 0h0m-3 2h0m2 0h0m-4 2h0m-4 4h0m4 1h0m-7 0h0m11 7h0m-12 1h0m6 2h0m4 0h0m-9 1h0m6 0h0m-6 1h0m14 2h0m-14 0h0m14 2h0m-12 0h0m3 0h0m3 1h0m-1 2h0m-4 1h0m-4 1h0m1 0h0m10 0h0m-3 1h0m-2 0h0m9 1h0m-11 1h0m8 1h0m3 1h0m-13 0h0m12 4h0m-2 1h0m-9 4h0m13 1h0m-4 3h0m-7 6h0m10 1h0m-4 0h0m-3 0h0m-4 1h0m2 1h0m1 0h0m-3 2h0m5 1h0m-3 0h0m-1 1h0m-3 1h0m10 2h0m-10 1h0m11 0h0m9-94h0m-5 2h0m10 1h0m-10 0h0m5 2h0m4 2h0m-2 1h0m4 4h0m4 1h0m-9 1h0m-3 3h0m6 1h0m2 4h0m-8 0h0m4 1h0m7 1h0m-7 0h0m7 1h0m-12 1h0m-2 3h0m12 1h0m-7 2h0m3 2h0m-6 1h0m13 0h0m-11 0h0m3 4h0m-8 1h0m10 0h0m4 1h0m-5 1h0m-5 1h0m0 1h0m9 0h0m-1 1h0m-6 0h0m10 3h0m-1 0h0m-13 0h0m-1 1h0m-1 7h0m8 2h0m-1 2h0m-4 1h0m7 1h0m-7 0h0m9 1h0m-2 3h0m1 0h0m-9 1h0m11 2h0m-6 1h0m-6 3h0m11 0h0m-6 2h0m3 1h0m-5 6h0m-3 1h0m12 1h0m-6 1h0m4 0h0m-11 0h0m3 1h0m10 1h0m2 0h0m-13 1h0m7 0h0m6 0h0m-6 1h0m-1 0h0m-5 0h0m9 1h0m4 1h0m-12 4h0m4 0h0m12-90h0m2 0h0m-6 1h0m10 2h0m-10 0h0m9 0h0m6 1h0m-5 1h0m4 0h0m-13 0h0m3 4h0m-2 0h0m6 0h0m-1 0h0m-3 4h0m7 1h0m-5 1h0m-4 0h0m5 1h0m6 0h0m-10 1h0m1 2h0m2 2h0m2 1h0m-4 2h0m9 1h0m-1 0h0m-5 3h0m7 4h0m-10 0h0m3 1h0m-5 0h0m13 1h0m-14 0h0m9 3h0m-7 2h0m7 1h0m6 0h0m-12 1h0m1 6h0m11 0h0m-2 1h0m-2 0h0m3 2h0m-13 1h0m1 1h0m10 0h0m-9 0h0m7 1h0m1 2h0m-8 3h0m1 4h0m8 1h0m0 2h0m-1 1h0m-3 3h0m0 0h0m-3 2h0m-6 0h0m11 3h0m-10 1h0m-1 0h0m2 0h0m9 1h0m4 0h0m-3 3h0m-4 4h0m1 1h0m-1 1h0m5 0h0m-2 2h0m4 0h0m-14 1h0m24-80h0m2 2h0m-9 2h0m7 0h0m-8 1h0m10 1h0m-2 0h0m-5 4h0m10 1h0m1 0h0m-4 2h0m-7 2h0m2 1h0m-5 3h0m4 2h0m4 1h0m1 0h0m4 1h0m-11 2h0m7 2h0m-6 0h0m8 1h0m0 1h0m-4 4h0m3 1h0m2 1h0m1 0h0m-8 4h0m-3 1h0m1 0h0m5 0h0m-9 1h0m14 1h0m1 1h0m-14 0h0m2 2h0m-2 1h0m6 0h0m1 1h0m5 3h0m2 0h0m-14 1h0m10 3h0m-10 2h0m6 0h0m8 1h0m-8 1h0m7 1h0m-7 3h0m0 2h0m-2 0h0m9 0h0m1 0h0m-9 2h0m-2 0h0m8 2h0m1 2h0m-4 0h0m0 1h0m-4 0h0m6 0h0m-10 4h0m2 1h0m-1 1h0m3 0h0m13-79h0m11 2h0m-9 0h0m-2 2h0m10 1h0m-11 0h0m7 1h0m5 2h0m-2 0h0m2 2h0m-4 0h0m-3 3h0m1 4h0m-1 0h0m1 1h0m-1 4h0m3 1h0m7 0h0m-8 0h0m-1 0h0m0 4h0m0 1h0m1 2h0m1 1h0m6 2h0m-13 0h0m4 0h0m10 0h0m0 1h0m-2 1h0m-12 7h0m14 1h0m-4 2h0m-10 1h0m14 3h0m-4 0h0m-8 1h0m10 1h0m-10 2h0m-3 0h0m4 1h0m-2 0h0m2 0h0m10 0h0m-11 1h0m10 4h0m-13 1h0m9 1h0m1 3h0m2 0h0m-10 3h0m8 0h0m-4 1h0m-5 1h0m8 0h0m-8 1h0m-2 0h0m12 0h0m-3 1h0m2 2h0m1 0h0m-6 3h0m9 0h0m-2 3h0m-12 0h0m7 1h0m15-81h0m-5 1h0m13 0h0m-1 0h0m-5 1h0m-3 0h0m7 1h0m-12 4h0m13 0h0m-2 3h0m-6 6h0m3 0h0m-4 2h0m-3 0h0m0 1h0m6 4h0m8 1h0m-2 0h0m1 1h0m-5 0h0m-7 1h0m-2 5h0m8 3h0m7 2h0m-8 0h0m3 2h0m-4 0h0m-6 3h0m3 0h0m-2 1h0m-2 2h0m6 1h0m8 1h0m-4 0h0m1 1h0m-3 4h0m5 0h0m-11 1h0m3 2h0m0 1h0m-2 1h0m7 1h0m0 3h0m2 0h0m3 1h0m-11 1h0m7 1h0m5 0h0m-11 0h0m1 1h0m-2 0h0m3 1h0m-4 4h0m8 2h0m-4 0h0m7 0h0m-1 2h0m-10 0h0m7 1h0m-10 4h0m15 1h0m-3 0h0m-5 1h0m-3 1h0m-1 0h0m21-80h0m7 3h0m-1 1h0m-14 3h0m15 1h0m-8 0h0m4 6h0m3 1h0m-1 2h0m-11 1h0m6 1h0m-4 1h0m6 2h0m1 3h0m-8 1h0m-1 0h0m-2 0h0m6 0h0m8 1h0m-10 2h0m-3 0h0m6 2h0m8 0h0m-8 1h0m1 0h0m0 2h0m6 0h0m-6 1h0m-7 4h0m9 2h0m-2 0h0m6 0h0m-9 0h0m8 1h0m1 3h0m-6 1h0m3 0h0m-10 1h0m15 0h0m-2 1h0m-6 0h0m1 1h0m-2 2h0m4 0h0m-1 2h0m-4 1h0m-5 1h0m0 1h0m3 4h0m8 3h0m-9 2h0m1 1h0m0 0h0m5 0h0m-6 0h0m3 2h0m-3 1h0m10 0h0m0 0h0m-1 4h0m-6 0h0m-5 0h0m4 3h0m-4 1h0m13 2h0m5-79h0m-1 1h0m7 2h0m-8 2h0m9 1h0m1 2h0m-11 0h0m12 0h0m0 0h0m1 1h0m-3 2h0m-5 0h0m10 0h0m-6 1h0m2 1h0m1 0h0m-6 2h0m-4 3h0m10 2h0m1 0h0m1 1h0m-2 1h0m-8 3h0m4 1h0m6 1h0m-2 0h0m3 5h0m0 1h0m-13 0h0m2 1h0m0 5h0m0 1h0m-2 0h0m13 3h0m-7 2h0m-2 2h0m2 0h0m7 2h0m-1 1h0m-11 0h0m8 1h0m-4 2h0m-6 0h0m2 3h0m2 2h0m-2 1h0m5 1h0m-6 1h0m2 2h0m9 0h0m-5 0h0m-3 1h0m5 2h0m2 0h0m-11 1h0m5 4h0m4 1h0m-6 0h0m10 2h0m-8 1h0m0 2h0m-2 0h0m10 0h0m13-75h0m-10 1h0m13 0h0m-7 2h0m3 0h0m-1 1h0m4 3h0m-9 0h0m6 2h0m-9 5h0m13 0h0m-4 0h0m-4 0h0m6 0h0m-4 1h0m-5 0h0m-1 1h0m10 3h0m-3 2h0m-1 0h0m0 1h0m-7 0h0m15 3h0m-9 2h0m-3 4h0m10 3h0m-5 1h0m-4 0h0m-1 2h0m3 1h0m-6 0h0m14 2h0m-14 1h0m0 1h0m9 0h0m-3 1h0m-4 0h0m8 2h0m2 0h0m0 4h0m-3 1h0m-5 4h0m-2 2h0m13 0h0m0 1h0m-11 1h0m-4 0h0m14 2h0m-2 1h0m-3 4h0m-7 0h0m3 1h0m-1 1h0m8 0h0m-10 1h0m4 1h0m-1 0h0m5 0h0m-11 0h0m10 5h0m-2 0h0m-5 0h0m14-74h0m10 1h0m0 3h0m-10 2h0m10 4h0m-3 0h0m4 1h0m-12 1h0m1 0h0m9 2h0m-7 1h0m9 0h0m-4 2h0m8 0h0m-11 1h0m10 0h0m-5 4h0m1 0h0m-2 0h0m-4 0h0m0 2h0m5 3h0m-8 0h0m2 3h0m5 0h0m-6 2h0m1 1h0m6 1h0m-7 0h0m0 1h0m12 3h0m-8 0h0m-3 1h0m11 4h0m-9 1h0m4 2h0m4 0h0m-13 1h0m7 1h0m5 0h0m-4 3h0m-3 1h0m10 1h0m-3 0h0m2 2h0m-13 4h0m4 2h0m7 1h0m-1 0h0m-11 1h0m4 0h0m10 0h0m-2 3h0m-5 0h0m-7 1h0m6 4h0m-2 1h0m-2 0h0m9 3h0m-1 2h0m-2 0h0m-2 0h0m11-73h0m8 2h0m-9 1h0m12 0h0m-9 2h0m4 0h0m-5 0h0m-2 0h0m11 1h0m-11 3h0m14 1h0m-9 1h0m-2 1h0m7 2h0m-8 2h0m12 1h0m-13 5h0m11 0h0m-8 2h0m1 0h0m10 1h0m-6 3h0m-1 1h0m-5 0h0m10 2h0m-2 4h0m-8 1h0m11 0h0m-2 1h0m-4 0h0m-4 0h0m4 4h0m-4 0h0m7 1h0m-9 1h0m7 1h0m-3 1h0m1 5h0m8 0h0m-4 1h0m-12 1h0m5 1h0m-1 2h0m0 2h0m8 0h0m-10 2h0m12 2h0m1 0h0m-6 1h0m6 1h0m-6 0h0m3 0h0m-6 1h0m-6 1h0m6 1h0m8 3h0m-12 1h0m10 1h0m-9 0h0m2 1h0m2 0h0m7 1h0m11-76h0m2 3h0m4 1h0m-13 3h0m2 0h0m6 1h0m3 0h0m-1 0h0m-9 0h0m10 2h0m-7 1h0m-2 1h0m5 2h0m-3 2h0m1 5h0m8 0h0m1 1h0m-13 1h0m8 2h0m-2 0h0m4 0h0m2 3h0m-3 0h0m-12 1h0m5 2h0m2 0h0m3 1h0m6 0h0m-13 3h0m7 1h0m-10 0h0m3 1h0m-1 1h0m-2 2h0m14 0h0m-12 3h0m6 0h0m6 1h0m-4 2h0m1 2h0m-11 3h0m11 2h0m-1 3h0m-9 1h0m-1 0h0m4 2h0m3 1h0m7 1h0m-5 2h0m4 2h0m-6 3h0m-7 1h0m6 1h0m8 2h0m-8 0h0m-2 1h0m2 3h0m-1 0h0m3 0h0m4 0h0m13-72h0m-3 1h0m-1 1h0m-1 0h0m2 1h0m2 0h0m5 1h0m-1 0h0m-2 1h0m-4 2h0m6 3h0m-8 1h0m9 1h0m-8 1h0m-5 2h0m5 3h0m0 1h0m3 3h0m-6 1h0m-1 2h0m11 2h0m2 0h0m-2 2h0m-9 2h0m13 3h0m-6 2h0m5 5h0m-13 0h0m8 2h0m3 0h0m-9 0h0m8 2h0m4 1h0m-3 0h0m-2 0h0m4 2h0m-6 1h0m6 1h0m-6 2h0m4 1h0m-12 0h0m8 1h0m-2 4h0m4 1h0m-4 0h0m1 1h0m-1 0h0m1 2h0m2 2h0m-8 0h0m2 1h0m-3 0h0m3 1h0m10 1h0m-13 1h0m2 1h0m0 0h0m7 1h0m-6 0h0m0 0h0m3 1h0m19-74h0m1 1h0m-4 0h0m3 2h0m3 1h0m-9 3h0m1 0h0m10 1h0m-10 2h0m10 0h0m-13 2h0m5 1h0m0 3h0m8 0h0m-7 1h0m-3 2h0m-4 0h0m0 5h0m6 0h0m5 1h0m-4 0h0m-7 0h0m0 2h0m3 0h0m1 1h0m2 1h0m3 8h0m-3 1h0m-5 1h0m4 1h0m3 0h0m2 1h0m-10 1h0m13 4h0m0 5h0m-8 2h0m-5 1h0m11 0h0m-2 2h0m-7 1h0m1 1h0m6 0h0m-1 0h0m-8 2h0m4 1h0m10 1h0m0 0h0m0 1h0m-4 0h0m-2 3h0m-5 3h0m8 1h0m-9 1h0m10 0h0m-10 1h0m0 0h0m0 1h0m10 0h0m-3 1h0m1 2h0m4 0h0m5-74h0m7 2h0m0 1h0m3 2h0m-11 0h0m-2 0h0m7 2h0m-2 1h0m0 0h0m-6 1h0m3 3h0m6 1h0m-4 3h0m-4 1h0m15 1h0m-4 1h0m1 1h0m-3 1h0m1 1h0m-2 0h0m-8 1h0m1 1h0m3 0h0m9 0h0m-6 1h0m-1 0h0m2 3h0m6 0h0m-5 2h0m-7 0h0m11 5h0m-10 0h0m1 1h0m6 2h0m-5 0h0m0 3h0m-5 0h0m3 1h0m-1 1h0m2 1h0m9 1h0m-1 0h0m-2 1h0m-3 1h0m5 1h0m-11 0h0m12 1h0m-6 1h0m5 2h0m0 0h0m-13 1h0m5 1h0m7 2h0m4 7h0m-16 1h0m4 1h0m5 0h0m-8 1h0m7 3h0m-2 1h0m6 1h0m-2 2h0m20-75h0m-9 5h0m11 2h0m-14 0h0m5 4h0m7 1h0m1 1h0m-10 2h0m3 0h0m5 0h0m1 0h0m0 1h0m-13 1h0m4 1h0m5 0h0m4 1h0m-8 4h0m7 1h0m-8 2h0m-5 0h0m11 0h0m4 4h0m-15 2h0m11 1h0m3 2h0m-10 2h0m10 0h0m-13 1h0m6 1h0m3 0h0m-7 3h0m1 0h0m7 0h0m-2 3h0m0 0h0m-1 2h0m2 1h0m2 0h0m-12 1h0m14 0h0m-13 0h0m2 1h0m3 0h0m0 2h0m-3 2h0m5 1h0m5 1h0m-9 1h0m8 0h0m-7 2h0m6 1h0m-1 2h0m-3 0h0m6 3h0m-6 0h0m-3 0h0m6 1h0m-7 2h0m-1 1h0m9 3h0m-2 4h0m16-75h0m-5 1h0m0 4h0m-1 1h0m10 2h0m-5 0h0m-6 2h0m12 1h0m-6 2h0m-3 1h0m3 1h0m-3 0h0m-1 0h0m7 2h0m-4 2h0m-7 1h0m14 1h0m-8 0h0m-3 3h0m12 0h0m-5 4h0m0 0h0m0 1h0m-6 2h0m-3 2h0m7 1h0m2 0h0m-9 0h0m12 1h0m-6 0h0m0 1h0m4 2h0m-3 1h0m-5 2h0m13 2h0m-3 0h0m-2 0h0m-6 1h0m9 1h0m1 0h0m0 5h0m-14 3h0m0 2h0m6 2h0m2 0h0m1 1h0m2 2h0m3 4h0m-12 2h0m2 1h0m10 0h0m-11 1h0m-4 0h0m11 0h0m2 2h0m-5 0h0m4 1h0m4 1h0m-12 0h0m1 1h0m5 2h0m10-76h0m4 0h0m-6 2h0m13 1h0m-5 1h0m-6 1h0m-2 1h0m1 1h0m6 1h0m-6 1h0m-3 2h0m5 0h0m10 0h0m-8 1h0m8 2h0m0 0h0m-1 1h0m-12 2h0m13 0h0m-11 1h0m-4 3h0m11 2h0m-9 1h0m8 1h0m-2 2h0m-2 1h0m6 0h0m0 0h0m-11 1h0m0 1h0m5 1h0m8 0h0m-8 0h0m0 1h0m6 0h0m-3 3h0m2 1h0m0 0h0m-4 2h0m4 1h0m5 0h0m-3 1h0m-6 1h0m5 5h0m2 1h0m-2 1h0m-1 1h0m-3 2h0m-5 6h0m-2 3h0m4 0h0m9 2h0m1 0h0m-8 4h0m-1 1h0m0 0h0m-4 2h0m2 2h0m6 0h0m2 1h0m-4 2h0m-5 0h0m10 2h0m-13 1h0m23-76h0m8 1h0m-4 2h0m-10 0h0m14 1h0m-1 1h0m-6 1h0m0 1h0m7 1h0m-6 0h0m4 2h0m-9 0h0m6 0h0m3 5h0m3 0h0m-13 0h0m0 1h0m0 0h0m-2 1h0m9 0h0m3 1h0m-2 0h0m-2 1h0m3 2h0m-10 1h0m1 4h0m4 1h0m-5 2h0m1 1h0m2 1h0m1 3h0m7 0h0m-12 1h0m1 1h0m3 1h0m0 1h0m6 1h0m-1 2h0m1 2h0m-4 1h0m6 5h0m-10 0h0m-3 0h0m7 1h0m-7 1h0m1 2h0m6 1h0m8 0h0m0 0h0m-9 1h0m6 0h0m-6 0h0m-1 1h0m-3 1h0m10 1h0m-6 0h0m3 2h0m0 1h0m5 1h0m-10 1h0m11 2h0m-4 3h0m-6 0h0m9 0h0m15-65h0m-4 1h0m-2 1h0m8 4h0m-2 0h0m-5 1h0m-7 0h0m14 1h0m-8 3h0m1 1h0m-7 0h0m1 1h0m-1 2h0m7 1h0m-5 3h0m2 1h0m10 2h0m-15 0h0m11 2h0m-5 0h0m4 1h0m-3 4h0m3 0h0m0 1h0m-6 1h0m9 0h0m-9 1h0m0 1h0m11 1h0m-10 1h0m6 1h0m-8 3h0m10 0h0m-1 1h0m-7 1h0m2 0h0m-7 1h0m3 0h0m12 0h0m-10 3h0m4 0h0m5 0h0m-11 4h0m13 2h0m-4 1h0m-11 0h0m4 2h0m10 0h0m-12 1h0m11 2h0m-10 3h0m2 1h0m3 3h0m2 1h0m-1 0h0m1 2h0m2 0h0m-5 2h0m0 2h0m0 0h0m-7 1h0m13 0h0m-1 1h0m14-73h0m-8 1h0m7 0h0m-1 2h0m-8 0h0m12 1h0m-2 2h0m-11 2h0m1 1h0m15 0h0m-13 2h0m10 2h0m1 1h0m-8 0h0m3 1h0m-9 0h0m11 1h0m-1 0h0m-5 0h0m9 2h0m1 0h0m-8 0h0m-2 1h0m3 0h0m3 1h0m-5 2h0m-5 2h0m8 2h0m-2 0h0m-5 0h0m7 3h0m4 1h0m-11 3h0m3 1h0m-5 1h0m5 1h0m9 1h0m-10 1h0m2 1h0m7 0h0m-13 2h0m13 0h0m-5 1h0m6 1h0m2 1h0m-7 2h0m2 2h0m-4 1h0m3 0h0m4 1h0m-7 0h0m-5 5h0m12 3h0m-10 1h0m7 1h0m-4 2h0m8 1h0m-12 1h0m2 1h0m3 3h0m7 1h0m-11 5h0m24-77h0m3 0h0m-13 1h0m7 1h0m2 0h0m-9 4h0m8 0h0m2 0h0m-5 1h0m3 2h0m1 1h0m0 2h0m-6 1h0m-1 2h0m12 1h0m-3 1h0m-13 2h0m1 0h0m5 2h0m-5 0h0m14 1h0m-13 0h0m12 1h0m-12 2h0m0 0h0m14 1h0m-15 3h0m9 1h0m-6 2h0m-4 1h0m3 1h0m8 0h0m-10 2h0m6 1h0m2 1h0m-2 1h0m9 1h0m-10 1h0m-3 2h0m3 1h0m-4 2h0m-2 1h0m14 1h0m-8 9h0m7 0h0m-5 0h0m4 4h0m3 2h0m-13 0h0m10 0h0m-6 1h0m1 1h0m3 0h0m2 2h0m-3 0h0m0 0h0m-3 2h0m2 1h0m7 1h0m-1 6h0m0 0h0m-5 0h0m-2 1h0m19-78h0m-7 3h0m-2 1h0m6 3h0m9 1h0m-10 1h0m-1 0h0m-1 0h0m12 3h0m-9 0h0m7 1h0m-1 1h0m-3 3h0m0 0h0m4 0h0m-14 0h0m15 1h0m-2 0h0m-5 4h0m-4 1h0m10 1h0m-4 0h0m-2 1h0m-5 5h0m3 2h0m6 0h0m1 1h0m-3 0h0m-1 0h0m-4 1h0m-3 1h0m5 1h0m8 1h0m-2 1h0m-10 1h0m-2 1h0m11 1h0m-6 1h0m5 3h0m-3 0h0m1 1h0m-8 3h0m-1 4h0m10 2h0m-4 2h0m10 0h0m-15 2h0m6 0h0m8 1h0m-3 1h0m0 0h0m-5 0h0m-6 1h0m2 1h0m8 1h0m-3 1h0m1 0h0m-8 1h0m5 0h0m1 2h0m0 0h0m9 5h0m-13 1h0m-1 3h0m23-77h0m6 1h0m-15 0h0m7 1h0m-2 2h0m2 3h0m7 0h0m-2 0h0m-5 2h0m0 0h0m1 0h0m5 1h0m-12 1h0m3 1h0m7 3h0m1 2h0m-5 4h0m7 3h0m-9 4h0m-4 1h0m12 1h0m-2 1h0m-10 0h0m-1 0h0m13 1h0m-7 0h0m-2 0h0m0 1h0m3 6h0m-4 1h0m-2 2h0m8 1h0m1 0h0m-6 0h0m9 2h0m-1 1h0m1 2h0m-8 3h0m0 0h0m6 1h0m-11 0h0m14 0h0m-6 1h0m1 1h0m5 0h0m2 1h0m-5 1h0m0 3h0m-10 3h0m8 0h0m-3 3h0m2 1h0m-5 0h0m10 2h0m-4 0h0m-3 0h0m-2 6h0m-1 0h0m0 1h0m5 0h0m2 1h0m5 2h0m10-78h0m-6 1h0m2 0h0m-3 0h0m13 1h0m-13 3h0m2 0h0m1 1h0m8 0h0m-5 1h0m5 0h0m-1 0h0m-8 1h0m8 0h0m-4 2h0m6 1h0m-6 1h0m8 3h0m-13 3h0m-1 1h0m0 0h0m9 0h0m3 6h0m0 1h0m0 1h0m-1 1h0m-6 2h0m2 0h0m-5 1h0m7 2h0m-5 0h0m7 0h0m-10 1h0m-2 1h0m10 4h0m-4 3h0m-1 2h0m5 2h0m1 1h0m-2 1h0m-6 3h0m-4 2h0m6 0h0m-2 2h0m7 0h0m-6 1h0m7 1h0m0 1h0m-9 0h0m4 2h0m-6 1h0m4 4h0m9 0h0m-5 0h0m1 2h0m-6 1h0m-4 1h0m4 0h0m-2 2h0m12 2h0m-5 2h0m0 0h0m5 1h0m1 1h0m7-76h0m3 4h0m-7 0h0m11 1h0m-8 1h0m-3 1h0m8 1h0m2 0h0m-2 2h0m-8 0h0m8 4h0m1 1h0m3 2h0m-11 1h0m-1 0h0m0 0h0m3 3h0m9 1h0m-8 0h0m6 0h0m-4 1h0m0 5h0m-1 5h0m0 1h0m6 1h0m-1 1h0m-6 1h0m5 1h0m0 7h0m-4 0h0m-6 2h0m8 2h0m-6 1h0m11 2h0m-11 1h0m8 1h0m-1 2h0m-4 1h0m8 0h0m-13 0h0m7 0h0m-2 1h0m-6 1h0m4 0h0m11 0h0m-9 3h0m10 1h0m-8 1h0m6 2h0m-1 0h0m1 0h0m0 1h0m1 2h0m0 0h0m-7 3h0m-7 1h0m0 0h0m11 0h0m-6 1h0m-4 1h0m11 0h0m-10 0h0m4 3h0m11-79h0m8 3h0m1 0h0m-9 3h0m0 1h0m7 1h0m3 0h0m4 1h0m-13 1h0m6 2h0m-3 2h0m7 0h0m-10 1h0m0 0h0m6 0h0m5 1h0m-8 2h0m0 1h0m9 4h0m-8 1h0m-5 0h0m-1 3h0m1 1h0m7 7h0m6 1h0m0 0h0m-3 2h0m3 1h0m-11 0h0m1 2h0m-3 2h0m12 0h0m-7 0h0m-2 3h0m2 1h0m2 1h0m-5 3h0m-1 0h0m10 2h0m-12 3h0m11 0h0m-2 0h0m-2 1h0m5 1h0m-12 0h0m5 1h0m3 1h0m1 1h0m-5 0h0m6 0h0m1 0h0m-7 0h0m10 1h0m-7 1h0m-3 0h0m2 4h0m5 1h0m-4 1h0m5 4h0m-11 3h0m11 3h0m-11 0h0m1 0h0m22-78h0m-3 1h0m-4 0h0m0 1h0m11 5h0m3 0h0m-11 2h0m7 1h0m3 2h0m-7 1h0m-7 1h0m14 0h0m-7 0h0m6 1h0m-9 2h0m0 0h0m4 1h0m4 1h0m-9 2h0m-4 2h0m16 0h0m-11 0h0m6 1h0m-11 0h0m15 3h0m-4 0h0m-9 0h0m11 1h0m-13 0h0m7 5h0m-6 2h0m0 0h0m14 0h0m-5 1h0m1 0h0m0 2h0m2 4h0m-3 1h0m-3 0h0m-4 3h0m2 0h0m9 0h0m-10 3h0m1 1h0m2 4h0m-3 2h0m-1 0h0m8 2h0m-5 1h0m-5 1h0m1 2h0m8 4h0m1 1h0m-1 0h0m4 3h0m-2 1h0m-3 1h0m-1 2h0m-8 0h0m9 2h0m5 1h0m-10 0h0m5 1h0m-2 1h0m24-79h0m-10 7h0m-1 1h0m5 2h0m7 0h0m-16 1h0m7 2h0m-7 3h0m9 0h0m-2 1h0m-5 2h0m7 4h0m-7 0h0m4 0h0m6 0h0m0 1h0m-10 0h0m7 1h0m5 1h0m-6 2h0m3 0h0m-10 1h0m7 4h0m3 1h0m-3 1h0m-1 0h0m4 3h0m5 1h0m-14 4h0m12 2h0m-9 1h0m10 1h0m-4 1h0m-7 0h0m9 0h0m-6 0h0m3 1h0m-9 0h0m10 2h0m-4 1h0m8 3h0m-11 1h0m1 3h0m9 1h0m-12 1h0m11 0h0m-9 1h0m7 1h0m-7 1h0m6 0h0m0 2h0m-6 2h0m-3 2h0m-1 0h0m14 1h0m2 0h0m-15 3h0m4 1h0m-1 0h0m2 0h0m9 1h0m-4 2h0m3 0h0m0 1h0m2-80h0m7 4h0m-5 0h0m0 0h0m0 1h0m2 1h0m3 1h0m-7 1h0m4 1h0m6 2h0m-10 4h0m4 1h0m0 1h0m4 0h0m6 1h0m0 0h0m-7 0h0m5 1h0m4 0h0m-1 1h0m-1 1h0m-5 1h0m6 0h0m-14 2h0m5 2h0m9 0h0m-9 4h0m4 0h0m-5 1h0m-2 1h0m1 0h0m6 0h0m3 4h0m-1 2h0m-2 1h0m-6 1h0m8 4h0m3 2h0m-12 0h0m4 0h0m4 3h0m1 0h0m1 3h0m-13 1h0m9 2h0m-1 0h0m3 0h0m-1 1h0m-4 3h0m2 1h0m-5 1h0m9 1h0m1 0h0m-3 0h0m-9 3h0m4 6h0m9 2h0m-2 1h0m1 0h0m-5 4h0m1 1h0m-8 0h0m12 0h0m-9 1h0m23-78h0m-4 1h0m-3 3h0m11 1h0m-5 3h0m-3 0h0m2 1h0m-1 0h0m7 1h0m-2 0h0m-7 1h0m1 1h0m-6 1h0m2 1h0m12 2h0m-15 2h0m6 2h0m5 0h0m-11 1h0m2 2h0m12 0h0m-8 1h0m-1 4h0m-2 2h0m10 2h0m-8 1h0m-1 1h0m8 3h0m2 0h0m-2 1h0m-3 1h0m-5 1h0m9 5h0m-9 1h0m-1 1h0m12 0h0m-3 1h0m-8 1h0m1 0h0m-2 3h0m12 0h0m-3 2h0m2 2h0m-6 2h0m2 0h0m3 3h0m2 0h0m-1 1h0m-4 0h0m1 1h0m-9 0h0m5 0h0m2 2h0m-2 2h0m-6 4h0m8 1h0m1 0h0m-6 0h0m8 3h0m-11 0h0m3 0h0m-3 1h0m15 1h0m-9 1h0m21-80h0m-8 2h0m7 1h0m-5 1h0m2 1h0m5 0h0m-4 1h0m5 0h0m-12 1h0m8 1h0m-1 0h0m3 0h0m-7 2h0m1 1h0m-5 2h0m2 1h0m-2 1h0m3 3h0m12 1h0m-1 0h0m-6 2h0m0 1h0m-8 8h0m4 0h0m4 1h0m-6 4h0m2 1h0m10 0h0m-12 1h0m8 1h0m-6 1h0m10 0h0m-7 6h0m5 0h0m-8 0h0m-4 2h0m7 4h0m4 0h0m-8 2h0m0 0h0m9 1h0m-2 0h0m-2 1h0m-7 1h0m13 0h0m-7 1h0m-4 1h0m-3 1h0m6 2h0m4 0h0m-4 2h0m4 0h0m-9 0h0m12 7h0m-1 0h0m-1 2h0m4 1h0m-10 0h0m6 2h0m-2 1h0m2 1h0m-9 1h0m-3 0h0m5 0h0m2 2h0m16-79h0m-6 2h0m6 2h0m6 0h0m-13 2h0m5 0h0m1 0h0m-1 0h0m2 1h0m-5 3h0m7 1h0m-1 2h0m0 1h0m0 4h0m4 0h0m-5 0h0m-2 2h0m1 2h0m6 0h0m-12 1h0m3 1h0m11 0h0m-13 2h0m11 0h0m2 2h0m-8 0h0m8 6h0m-3 0h0m0 0h0m-7 0h0m10 3h0m-4 1h0m-6 0h0m11 2h0m-9 0h0m2 2h0m3 1h0m-3 1h0m7 0h0m-6 2h0m-3 1h0m10 1h0m-12 5h0m11 1h0m-11 0h0m-4 2h0m3 2h0m-2 0h0m1 3h0m12 0h0m-14 1h0m12 1h0m-9 0h0m11 3h0m1 0h0m-3 0h0m-9 2h0m5 0h0m-6 1h0m2 1h0m7 1h0m3 1h0m0 3h0m-2 3h0m-5 1h0m2 0h0m23-80h0m-5 0h0m-8 3h0m8 0h0m-4 4h0m-4 1h0m8 2h0m-1 2h0m5 1h0m1 0h0m-13 1h0m7 3h0m-4 0h0m7 1h0m-8 0h0m2 1h0m-3 1h0m1 1h0m0 0h0m5 1h0m-4 2h0m2 1h0m-4 0h0m2 1h0m5 1h0m-1 1h0m-3 1h0m7 0h0m-13 3h0m1 0h0m7 1h0m3 2h0m-12 0h0m5 2h0m10 0h0m-1 2h0m-5 1h0m-6 1h0m4 1h0m-6 3h0m1 0h0m5 1h0m7 2h0m-13 0h0m12 1h0m-4 0h0m-6 4h0m-1 2h0m7 1h0m2 3h0m4 0h0m-5 0h0m1 0h0m2 1h0m-12 0h0m13 1h0m-12 6h0m9 2h0m-7 0h0m11 1h0m-10 2h0m0 1h0m5 3h0m3 1h0m0 1h0m-10 1h0m27-79h0m-12 1h0m10 0h0m3 1h0m-3 0h0m2 1h0m-6 0h0m5 0h0m1 1h0m-1 0h0m-1 2h0m2 2h0m-3 3h0m-7 0h0m1 0h0m0 0h0m-5 2h0m14 1h0m-10 1h0m3 1h0m-2 3h0m3 1h0m4 0h0m-6 2h0m4 0h0m-3 5h0m3 1h0m4 3h0m-3 0h0m-4 0h0m-5 0h0m9 4h0m-2 1h0m-4 1h0m-3 2h0m5 0h0m-7 0h0m3 1h0m5 1h0m-3 1h0m6 1h0m3 0h0m-6 5h0m-5 1h0m-3 1h0m14 5h0m1 1h0m-14 1h0m5 0h0m-4 3h0m14 1h0m-15 1h0m-1 0h0m2 1h0m1 0h0m0 1h0m10 0h0m-6 0h0m1 2h0m7 1h0m-4 1h0m-4 1h0m8 1h0m-1 2h0m-7 2h0m-1 1h0m7 2h0m-11 2h0m26-79h0m0 3h0m-7 0h0m-2 1h0m12 1h0m-15 2h0m2 0h0m-2 4h0m6 1h0m-2 0h0m5 2h0m-1 2h0m6 1h0m-5 1h0m5 0h0m-3 2h0m-5 2h0m8 2h0m-3 0h0m3 2h0m-1 1h0m-12 2h0m10 0h0m1 3h0m2 2h0m-6 4h0m1 0h0m-2 1h0m-3 1h0m-1 1h0m5 2h0m-6 2h0m-2 1h0m6 0h0m6 2h0m-5 1h0m-1 1h0m-2 1h0m5 1h0m4 3h0m-8 1h0m2 2h0m7 1h0m-8 0h0m4 1h0m-8 0h0m12 1h0m-12 0h0m10 1h0m-9 0h0m8 1h0m-1 0h0m5 0h0m0 1h0m-11 1h0m-4 3h0m6 1h0m0 0h0m7 2h0m-8 1h0m9 0h0m-6 1h0m-7 1h0m5 5h0m24-79h0m-11 2h0m4 1h0m-5 1h0m12 1h0m-2 0h0m-8 2h0m7 1h0m-9 3h0m2 2h0m1 1h0m7 0h0m1 1h0m-2 1h0m-9 2h0m13 0h0m1 3h0m-4 3h0m-8 0h0m12 1h0m-4 2h0m-7 1h0m-3 3h0m11 0h0m-5 0h0m-4 3h0m6 0h0m5 1h0m-9 1h0m2 3h0m-7 3h0m4 0h0m9 2h0m-2 1h0m-6 1h0m0 0h0m5 1h0m-5 0h0m10 2h0m-4 1h0m-8 1h0m-2 1h0m3 1h0m8 2h0m-4 1h0m1 5h0m-7 2h0m7 0h0m-3 2h0m-1 3h0m2 0h0m-7 0h0m0 0h0m9 0h0m1 1h0m3 0h0m-12 2h0m2 2h0m12 1h0m-8 1h0m-2 0h0m-1 1h0m-4 1h0m6 0h0m3 1h0m-7 0h0m12 2h0m6-82h0m-3 2h0m3 0h0m3 3h0m4 2h0m-6 0h0m5 4h0m-9 3h0m12 2h0m-4 1h0m-3 1h0m8 1h0m-14 1h0m13 1h0m1 1h0m-7 2h0m-4 2h0m3 2h0m1 0h0m0 1h0m-7 0h0m4 1h0m1 0h0m7 1h0m-4 3h0m5 0h0m-7 3h0m-2 0h0m4 0h0m-7 2h0m4 0h0m2 1h0m-5 2h0m-2 0h0m11 0h0m-2 1h0m3 0h0m-8 3h0m11 0h0m-8 0h0m6 0h0m0 1h0m-12 0h0m10 2h0m-1 0h0m-4 1h0m-2 0h0m-2 1h0m13 0h0m-15 1h0m2 2h0m7 2h0m1 2h0m3 3h0m-2 1h0m-4 0h0m6 1h0m-2 0h0m4 2h0m-15 1h0m11 1h0m-1 1h0m-11 2h0m1 1h0m13 3h0m-5 1h0m2 0h0m-7 1h0m-2 1h0m15-77h0m5 2h0m9 0h0m-14 0h0m2 1h0m12 0h0m-13 2h0m10 2h0m-2 0h0m0 1h0m-6 1h0m5 2h0m-6 0h0m11 0h0m-2 3h0m-8 2h0m1 1h0m6 1h0m-9 1h0m12 1h0m0 0h0m-5 1h0m7 2h0m-5 1h0m-9 1h0m10 0h0m-6 2h0m1 1h0m0 6h0m-1 0h0m8 1h0m-12 3h0m9 0h0m-5 1h0m10 1h0m-15 1h0m3 2h0m0 0h0m8 1h0m-8 1h0m5 0h0m2 4h0m-3 1h0m5 0h0m-4 3h0m3 1h0m-6 1h0m6 5h0m-12 3h0m6 5h0m-4 3h0m-1 0h0m4 1h0m4 1h0m-2 0h0m7 0h0m0 1h0m-13 2h0m3 1h0m5 1h0m-7 3h0m13 0h0m0 1h0m-4 0h0m5 1h0m-4 0h0m-5 1h0m22-81h0m-4 0h0m3 2h0m1 1h0m-2 0h0m-3 2h0m-2 2h0m-2 1h0m7 2h0m-8 1h0m6 2h0m-4 1h0m1 0h0m-5 1h0m-1 0h0m1 0h0m-1 1h0m4 0h0m2 3h0m-5 1h0m15 1h0m-10 0h0m9 3h0m-4 0h0m-7 2h0m-2 0h0m9 1h0m-3 1h0m3 1h0m3 0h0m-9 4h0m-2 2h0m6 1h0m-4 0h0m2 3h0m5 2h0m-3 4h0m3 1h0m-8 0h0m-4 1h0m7 1h0m-1 1h0m-3 1h0m6 0h0m-2 1h0m2 0h0m0 4h0m5 2h0m0 1h0m1 0h0m-15 3h0m7 1h0m0 2h0m6 1h0m2 3h0m-13 4h0m-1 0h0m13 1h0m-9 0h0m-1 0h0m9 1h0m1 2h0m-4 2h0m3 2h0m1 0h0m-6 0h0m4 1h0m-6 0h0m17-80h0m1 0h0m0 0h0m-4 2h0m6 1h0m-5 0h0m-3 2h0m0 6h0m11 5h0m-12 0h0m9 0h0m-1 0h0m-8 2h0m3 0h0m10 0h0m-6 4h0m8 0h0m-13 1h0m6 0h0m5 4h0m-1 0h0m-4 1h0m6 1h0m-2 5h0m-10 1h0m3 0h0m-4 2h0m8 0h0m-7 0h0m5 1h0m0 2h0m6 3h0m-5 0h0m5 2h0m-9 2h0m11 1h0m-4 1h0m-1 0h0m-5 0h0m-5 5h0m-1 0h0m4 1h0m2 3h0m9 0h0m-14 0h0m9 1h0m0 1h0m3 1h0m2 0h0m-12 1h0m7 2h0m-2 1h0m-4 3h0m9 0h0m-11 3h0m13 0h0m-10 0h0m9 2h0m-7 3h0m2 0h0m-7 0h0m8 0h0m-4 0h0m-3 1h0m19-74h0m-2 4h0m4 2h0m2 2h0m-7 1h0m4 1h0m6 0h0m-13 4h0m4 0h0m-3 1h0m9 1h0m5 0h0m-2 2h0m-12 1h0m10 1h0m5 1h0m-2 2h0m-4 0h0m-7 3h0m0 1h0m6 0h0m-4 0h0m5 1h0m1 0h0m1 1h0m-10 1h0m4 1h0m-4 2h0m13 3h0m-3 1h0m-4 1h0m-4 1h0m1 1h0m2 0h0m1 1h0m2 1h0m3 1h0m-12 0h0m6 2h0m5 0h0m-9 0h0m-1 1h0m3 2h0m8 6h0m-12 0h0m15 1h0m-6 0h0m-4 1h0m7 0h0m-4 0h0m-2 4h0m1 0h0m7 1h0m-5 2h0m-4 0h0m8 2h0m-11 2h0m12 1h0m-4 1h0m-11 1h0m2 1h0m6 2h0m-6 5h0m3 2h0m11 2h0m5-77h0m4 3h0m-4 0h0m2 2h0m1 0h0m0 1h0m1 0h0m6 2h0m-11 1h0m5 0h0m-7 4h0m6 2h0m5 2h0m3 0h0m-6 2h0m-9 2h0m12 1h0m-4 3h0m-2 1h0m5 0h0m-2 1h0m-5 0h0m-2 2h0m5 1h0m-8 1h0m12 1h0m-2 0h0m2 0h0m2 2h0m-6 0h0m4 0h0m-9 1h0m-1 2h0m12 0h0m-13 1h0m14 0h0m-13 0h0m-2 3h0m4 0h0m10 1h0m-1 0h0m3 2h0m-4 5h0m-9 2h0m12 3h0m-10 0h0m-2 3h0m1 1h0m-2 1h0m3 2h0m1 1h0m-5 2h0m3 1h0m9 2h0m-3 1h0m6 0h0m-4 0h0m-3 2h0m2 0h0m3 2h0m-5 0h0m-1 0h0m-6 4h0m1 1h0m11 1h0m-9 3h0m6 1h0m-7 0h0m2 1h0m7 4h0m15-87h0m-2 2h0m2 0h0m-11 3h0m12 1h0m-7 0h0m4 0h0m-3 1h0m-6 2h0m6 0h0m0 2h0m1 1h0m1 1h0m5 0h0m-10 0h0m9 2h0m-1 2h0m4 1h0m-1 5h0m-13 0h0m4 2h0m8 1h0m-1 0h0m-5 2h0m-3 1h0m-4 0h0m5 0h0m-2 4h0m-1 2h0m-2 0h0m9 0h0m-8 1h0m10 4h0m-6 1h0m-3 1h0m1 1h0m12 4h0m-2 0h0m-7 2h0m-4 0h0m-1 0h0m10 0h0m-2 1h0m-3 3h0m-2 3h0m10 1h0m-12 2h0m11 1h0m-4 1h0m-2 2h0m3 0h0m-11 1h0m15 0h0m-12 1h0m12 0h0m-4 1h0m-1 1h0m-1 1h0m2 2h0m-7 1h0m11 3h0m-13 2h0m0 2h0m4 0h0m-1 2h0m10 1h0m-7 1h0m-1 1h0m14-82h0m0 1h0m3 0h0m0 1h0m1 7h0m-9 1h0m10 1h0m0 6h0m2 1h0m-8 0h0m6 1h0m-9 5h0m9 1h0m-4 2h0m10 0h0m-5 0h0m-9 1h0m13 0h0m-9 1h0m-2 0h0m6 0h0m-5 1h0m2 1h0m-4 0h0m11 2h0m-4 0h0m-7 2h0m12 0h0m-9 1h0m2 1h0m6 2h0m2 0h0m-3 2h0m1 2h0m-10 4h0m-3 2h0m10 0h0m-1 1h0m-3 0h0m5 2h0m-7 0h0m-1 1h0m-4 1h0m12 2h0m-7 0h0m7 2h0m-11 1h0m13 0h0m1 1h0m-9 0h0m1 0h0m0 2h0m-4 0h0m10 5h0m-13 1h0m14 4h0m-6 1h0m-7 1h0m15 0h0m-9 0h0m7 1h0m-11 0h0m10 0h0m-10 0h0m8 4h0m3 0h0m-3 1h0m-3 0h0m-6 2h0m6 1h0m23-89h0m-5 1h0m4 1h0m2 0h0m-12 1h0m-3 0h0m5 1h0m7 0h0m-1 4h0m-8 2h0m-2 2h0m6 0h0m6 1h0m-1 0h0m-10 0h0m-2 1h0m13 1h0m-6 1h0m-2 1h0m6 5h0m-11 1h0m-1 0h0m6 1h0m4 2h0m5 1h0m-2 0h0m-7 1h0m7 0h0m-6 2h0m3 4h0m-2 0h0m-2 1h0m-1 0h0m-2 3h0m8 1h0m0 0h0m-11 6h0m12 1h0m3 5h0m-10 2h0m4 0h0m3 0h0m-9 2h0m11 1h0m-6 1h0m-2 1h0m9 1h0m-8 1h0m1 0h0m2 1h0m-8 0h0m5 1h0m0 2h0m-3 1h0m12 1h0m-4 0h0m2 3h0m-3 1h0m-8 2h0m-2 1h0m13 1h0m-13 1h0m11 2h0m-10 2h0m6 2h0m2 2h0m-3 2h0m-4 0h0m2 1h0m0 3h0m23-94h0m-1 0h0m5 3h0m-6 0h0m-8 0h0m12 2h0m-9 0h0m-1 0h0m-3 1h0m11 1h0m2 1h0m-3 0h0m-9 2h0m0 0h0m7 1h0m1 0h0m1 1h0m3 1h0m-4 2h0m-4 1h0m5 1h0m-10 0h0m5 6h0m10 4h0m-2 2h0m-8 3h0m9 1h0m-10 1h0m7 1h0m-6 4h0m4 0h0m5 1h0m-7 0h0m-1 5h0m0 2h0m3 2h0m2 0h0m-12 2h0m9 3h0m-2 1h0m6 1h0m-11 1h0m5 0h0m8 2h0m0 0h0m-11 1h0m7 0h0m-1 2h0m-8 3h0m2 1h0m1 0h0m4 0h0m3 1h0m-5 0h0m-1 1h0m-3 0h0m1 1h0m5 1h0m-9 0h0m6 0h0m-2 2h0m2 3h0m9 3h0m-13 2h0m10 1h0m1 0h0m-11 0h0m7 1h0m4 1h0m-11 2h0m1 4h0m19-93h0m-4 1h0m6 1h0m2 2h0m-5 2h0m10 1h0m-13 2h0m1 2h0m7 2h0m3 3h0m-6 0h0m3 0h0m-9 1h0m11 0h0m0 3h0m-1 1h0m-3 0h0m6 1h0m-9 5h0m4 0h0m-1 0h0m-3 1h0m2 1h0m4 0h0m2 1h0m-3 3h0m6 0h0m-13 3h0m4 0h0m1 2h0m6 1h0m-13 0h0m11 2h0m-6 2h0m10 2h0m-15 1h0m3 0h0m11 3h0m-3 0h0m-10 0h0m-2 3h0m15 0h0m-14 3h0m1 0h0m12 1h0m-5 7h0m5 2h0m-4 0h0m5 2h0m-14 1h0m12 0h0m-1 2h0m0 3h0m-1 0h0m-9 3h0m9 0h0m-1 1h0m-3 0h0m-1 0h0m-1 1h0m-5 1h0m8 0h0m-4 1h0m5 1h0m-5 0h0m0 1h0m-3 0h0m19-87h0m10 1h0m-10 1h0m1 0h0m0 1h0m-3 5h0m4 0h0m-2 0h0m-3 2h0m8 4h0m-5 2h0m4 0h0m6 3h0m-1 2h0m-11 0h0m10 4h0m-2 2h0m-9 2h0m-1 1h0m11 2h0m-8 1h0m-2 0h0m6 1h0m-3 0h0m6 0h0m0 1h0m-8 1h0m-1 1h0m9 2h0m6 1h0m-12 0h0m8 4h0m2 1h0m1 1h0m-9 1h0m10 2h0m-7 1h0m4 1h0m-3 2h0m-7 1h0m4 0h0m3 2h0m5 2h0m-7 2h0m-6 0h0m10 1h0m-1 1h0m0 1h0m3 2h0m-9 0h0m8 1h0m-1 0h0m-5 1h0m1 1h0m6 1h0m-13 2h0m3 0h0m11 0h0m-11 3h0m1 0h0m4 1h0m0 2h0m5 0h0m-7 5h0m0 0h0m-1 0h0m1 0h0m24-93h0m-3 2h0m-4 1h0m2 1h0m-4 1h0m2 2h0m-4 0h0m8 1h0m-12 0h0m2 1h0m1 0h0m5 0h0m-6 0h0m13 2h0m-14 1h0m4 3h0m3 1h0m-3 2h0m7 0h0m1 0h0m-10 1h0m12 3h0m-2 0h0m-8 4h0m6 0h0m-6 5h0m11 1h0m-5 1h0m-9 0h0m5 1h0m-4 0h0m6 1h0m-1 0h0m3 1h0m-5 1h0m8 2h0m-10 1h0m5 0h0m1 1h0m4 4h0m-10 1h0m10 0h0m-13 4h0m10 0h0m1 2h0m1 1h0m-3 1h0m-9 1h0m0 2h0m8 2h0m6 3h0m-13 5h0m11 1h0m-8 1h0m5 0h0m-2 1h0m7 0h0m-7 2h0m7 2h0m-2 1h0m-4 1h0m-9 4h0m7 3h0m9 0h0m-3 2h0m-8 0h0m-2 4h0m-1 1h0m22-93h0m-2 1h0m9 5h0m-11 1h0m-3 1h0m1 0h0m-1 2h0m4 2h0m-4 0h0m10 1h0m-1 0h0m6 1h0m-13 2h0m7 1h0m-3 2h0m6 4h0m-2 0h0m-2 0h0m4 5h0m1 1h0m-12 1h0m-1 1h0m2 0h0m2 1h0m7 2h0m-9 0h0m2 2h0m-5 0h0m10 1h0m-4 0h0m-2 2h0m8 0h0m-10 0h0m8 1h0m-2 0h0m-3 0h0m-2 1h0m6 2h0m-8 1h0m14 1h0m0 0h0m1 0h0m-9 1h0m4 1h0m-8 1h0m4 1h0m0 1h0m5 1h0m-7 1h0m8 0h0m0 1h0m-12 1h0m12 0h0m-11 0h0m6 2h0m2 1h0m-6 3h0m2 5h0m1 1h0m2 7h0m4 0h0m-9 1h0m1 4h0m7 1h0m-1 2h0m-3 0h0m5 2h0m2 2h0m0 0h0m-9 0h0m12-81h0m6 3h0m2 1h0m3 0h0m-4 2h0m-1 1h0m-3 1h0m-4 0h0m-1 2h0m3 0h0m8 0h0m1 0h0m-10 1h0m7 1h0m-1 1h0m0 0h0m-3 2h0m3 0h0m-5 4h0m12 2h0m0 1h0m-15 1h0m14 0h0m-5 1h0m3 2h0m2 0h0m-1 1h0m-1 0h0m0 2h0m-7 0h0m5 0h0m2 1h0m3 1h0m-5 3h0m4 0h0m-14 4h0m8 1h0m2 0h0m-10 0h0m3 5h0m12 1h0m-5 1h0m-4 3h0m6 1h0m-8 3h0m5 1h0m0 0h0m-6 0h0m2 1h0m-4 1h0m5 2h0m0 1h0m10 2h0m-9 2h0m-3 3h0m11 3h0m-13 1h0m12 7h0m-5 1h0m-8 0h0m5 0h0m5 1h0m-3 0h0m-5 1h0m2 0h0m7 1h0m2 1h0m-1 1h0m-5 2h0m-1 1h0m12-78h0m2 0h0m-2 5h0m4 2h0m0 1h0m5 1h0m1 1h0m0 1h0m-5 1h0m-2 0h0m6 1h0m-12 7h0m13 1h0m-9 3h0m2 0h0m-4 2h0m-1 1h0m6 0h0m3 0h0m-7 0h0m9 0h0m-1 1h0m-3 0h0m4 1h0m-3 1h0m-4 0h0m5 1h0m-3 3h0m5 1h0m-3 2h0m5 4h0m-13 2h0m2 0h0m12 2h0m-11 2h0m2 1h0m-3 0h0m10 3h0m-9 0h0m-3 3h0m2 0h0m6 0h0m-8 3h0m11 1h0m4 2h0m-13 0h0m4 1h0m8 1h0m1 0h0m-14 1h0m11 0h0m-7 1h0m-5 4h0m11 1h0m3 0h0m-6 1h0m1 5h0m6 2h0m-5 2h0m-11 1h0m7 0h0m-2 2h0m4 2h0m-7 1h0m12 1h0m-10 0h0m2 0h0m6 2h0m-3 1h0m7 4h0m2-73h0m4 3h0m2 3h0m3 1h0m-6 2h0m6 0h0m-6 0h0m3 2h0m2 0h0m3 0h0m2 1h0m-2 5h0m-2 4h0m-9 1h0m7 4h0m-6 1h0m-2 1h0m10 0h0m-4 5h0m-3 0h0m-1 2h0m0 1h0m-2 0h0m9 4h0m-5 0h0m-1 0h0m0 1h0m11 1h0m-7 3h0m6 0h0m-1 1h0m-6 2h0m6 0h0m-12 1h0m14 1h0m0 2h0m-10 0h0m10 1h0m-6 1h0m-3 0h0m4 2h0m-6 0h0m8 0h0m-3 0h0m-5 0h0m2 0h0m-5 3h0m1 0h0m0 1h0m6 2h0m-2 2h0m1 1h0m1 1h0m7 1h0m-14 0h0m12 1h0m-9 3h0m10 0h0m1 0h0m-12 2h0m7 4h0m1 2h0m2 3h0m7-66h0m3 1h0m3 0h0m-6 1h0m2 4h0m-6 0h0m16 4h0m-3 1h0m-9 3h0m7 0h0m-3 1h0m2 1h0m-6 2h0m-3 0h0m10 1h0m-8 0h0m5 1h0m6 0h0m-10 1h0m7 0h0m-5 1h0m6 0h0m-8 1h0m4 1h0m4 1h0m-8 0h0m12 6h0m-9 2h0m7 0h0m-7 2h0m7 1h0m-10 0h0m9 0h0m-7 1h0m-5 2h0m14 0h0m-3 2h0m1 0h0m-8 0h0m10 1h0m-15 2h0m2 0h0m0 0h0m-1 1h0m4 2h0m9 3h0m-6 2h0m3 0h0m-3 0h0m-5 2h0m5 1h0m3 2h0m5 0h0m-6 1h0m1 1h0m-8 0h0m8 2h0m-6 6h0m-5 1h0m13 4h0m-4 0h0m8-69h0m13 2h0m-7 1h0m-2 0h0m9 1h0m-9 0h0m1 3h0m6 1h0m-7 0h0m5 0h0m-3 1h0m-3 0h0m10 4h0m-11 1h0m-2 0h0m9 0h0m3 2h0m-4 1h0m-7 0h0m1 0h0m2 0h0m2 3h0m-6 3h0m3 4h0m-1 0h0m3 2h0m1 2h0m7 1h0m-10 3h0m7 1h0m4 1h0m-1 1h0m-6 0h0m6 3h0m-5 2h0m-8 0h0m9 3h0m0 1h0m-9 1h0m11 1h0m-2 3h0m5 1h0m-4 0h0m0 1h0m4 6h0m0 0h0m-12 1h0m1 0h0m-3 1h0m9 0h0m-2 1h0m4 0h0m-8 0h0m11 3h0m-8 0h0m6 3h0m18-84h0m-1 5h0m2 0h0m-4 2h0m-11 10h0m1 2h0m4 0h0m-4 1h0m9 1h0m-3 2h0m2 1h0m0 0h0m5 3h0m-8 2h0m0 2h0m5 1h0m-3 0h0m-6 1h0m6 0h0m-3 1h0m9 3h0m-9 1h0m0 1h0m-2 4h0m4 0h0m7 1h0m-7 0h0m1 0h0m4 1h0m0 0h0m-6 2h0m7 1h0m2 1h0m-2 1h0m-2 0h0m2 3h0m-3 1h0m-9 2h0m-1 1h0m1 0h0m2 0h0m2 4h0m-5 1h0m7 0h0m-7 1h0m12 2h0m-2 1h0m4 2h0m-3 2h0m-10 1h0m0 1h0m0 1h0m8 0h0m-5 1h0m2 2h0m8 1h0m-9 2h0m4 5h0m-3 1h0m3 4h0m-5 0h0m15-92h0m7 5h0m-9 3h0m14 1h0m-1 0h0m-13 0h0m2 2h0m4 0h0m3 0h0m-4 4h0m-2 0h0m8 1h0m-11 0h0m-1 1h0m14 2h0m-9 1h0m-4 0h0m7 1h0m1 1h0m1 2h0m-4 0h0m-6 2h0m7 1h0m1 3h0m-1 0h0m2 3h0m-5 2h0m9 1h0m-6 1h0m-4 3h0m9 0h0m-10 1h0m6 1h0m1 0h0m-5 1h0m-3 1h0m0 0h0m14 1h0m-6 2h0m-1 3h0m1 0h0m-9 0h0m11 1h0m1 1h0m-8 4h0m10 3h0m-7 0h0m0 1h0m6 2h0m-8 0h0m1 0h0m6 1h0m-5 3h0m-5 1h0m-1 2h0m0 4h0m5 0h0m-5 3h0m9 0h0m4 0h0m-2 0h0m-13 1h0m14 1h0m-9 1h0m-1 0h0m-4 1h0m14 0h0m-1 0h0m7-74h0m1 2h0m3 3h0m0 9h0m-7 0h0m12 2h0m-4 1h0m6 1h0m-1 0h0m-12 1h0m4 1h0m4 1h0m-5 1h0m9 1h0m-13 1h0m12 1h0m-12 2h0m3 1h0m10 1h0m-10 0h0m0 0h0m1 0h0m3 2h0m1 0h0m1 3h0m5 3h0m-14 2h0m1 1h0m10 1h0m-4 1h0m6 2h0m-5 0h0m-7 5h0m2 1h0m4 2h0m6 2h0m-10 3h0m4 0h0m1 1h0m-8 0h0m6 1h0m-5 2h0m12 1h0m-3 2h0m0 0h0m2 1h0m-2 1h0m-4 0h0m5 1h0m-2 0h0m4 1h0m-8 1h0m-2 0h0m-4 0h0m11 1h0m0 3h0m4 1h0m-8 0h0m-3 3h0m7 2h0m-7 2h0m26-101h0m0 0h0m-3 3h0m3 3h0m-4 1h0m0 7h0m1 0h0m5 0h0m-6 1h0m-1 1h0m-1 1h0m5 0h0m-2 1h0m-7 2h0m11 1h0m0 2h0m-11 0h0m6 0h0m5 1h0m-7 2h0m-4 0h0m-2 3h0m5 0h0m-6 0h0m8 2h0m-7 1h0m7 1h0m-2 0h0m-1 1h0m7 1h0m3 1h0m-1 0h0m-11 5h0m6 0h0m-6 0h0m10 1h0m-14 0h0m8 1h0m7 0h0m-4 0h0m-10 0h0m8 0h0m-3 3h0m6 1h0m-5 2h0m-2 1h0m8 2h0m3 7h0m-3 1h0m-1 0h0m1 4h0m-10 3h0m1 1h0m4 2h0m-7 2h0m4 1h0m-2 3h0m3 0h0m-2 3h0m3 2h0m-1 0h0m-6 0h0m4 2h0m3 2h0m-5 5h0m1 4h0m17-90h0m-2 5h0m2 6h0m11 1h0m-9 0h0m-6 1h0m0 0h0m14 0h0m1 1h0m-13 1h0m0 4h0m10 0h0m-8 1h0m9 3h0m-5 0h0m5 0h0m-5 1h0m1 0h0m5 1h0m-10 2h0m3 0h0m0 1h0m4 2h0m-9 1h0m0 1h0m-2 1h0m3 0h0m3 1h0m-5 1h0m8 0h0m1 1h0m-5 0h0m10 3h0m-9 0h0m2 3h0m-1 0h0m4 0h0m-5 7h0m2 0h0m2 4h0m-9 1h0m4 2h0m-4 0h0m10 10h0m2 1h0m3 1h0m-4 0h0m0 2h0m-7 2h0m1 2h0m4 1h0m0 1h0m-6 0h0m11 0h0m-14 2h0m-1 1h0m13 2h0m-2 0h0m-3 1h0m-6 1h0m5 1h0m9 0h0m-1 2h0m-10 0h0m9 1h0m-3 1h0m0 3h0m2 5h0m17-145h0m0 2h0m-5 3h0m4 0h0m1 6h0m-2 2h0m-1 2h0m2 0h0m0 3h0m2 2h0m-5 0h0m5 0h0m-3 1h0m3 0h0m-2 2h0m-4 0h0m7 0h0m-5 4h0m3 0h0m-4 2h0m-1 1h0m7 0h0m-4 0h0m-4 7h0m5 0h0m-4 2h0m4 3h0m-3 1h0m6 1h0m-2 4h0m-5 1h0m4 1h0m2 2h0m-7 0h0m2 2h0m-4 3h0m3 1h0m5 1h0m-1 1h0m-1 0h0m-3 0h0m2 0h0m4 1h0m-2 1h0m-9 1h0m1 1h0m3 0h0m4 1h0m-12 0h0m3 1h0m8 0h0m4 1h0m-11 3h0m0 0h0m-2 1h0m10 2h0m-5 0h0m-5 6h0m7 1h0m0 0h0m-8 0h0m9 0h0m-4 0h0m1 3h0m-3 2h0m-2 2h0m8 1h0m-3 0h0m9 1h0m-15 1h0m4 3h0m11 1h0m-15 0h0m7 0h0m-3 2h0m7 0h0m3 3h0m-13 4h0m0 0h0m8 1h0m5 1h0m-10 7h0m7 1h0m2 1h0m-7 3h0m-4 4h0m1 2h0m-3 1h0m0 3h0m3 2h0m-2 0h0m30-136h0m-2 3h0m-7 2h0m8 4h0m-8 1h0m7 2h0m-4 0h0m-2 2h0m-6 1h0m9 0h0m-1 1h0m6 1h0m-9 0h0m-7 3h0m9 0h0m0 4h0m-5 1h0m10 0h0m-5 1h0m-5 1h0m1 1h0m10 0h0m-14 2h0m1 0h0m4 1h0m8 1h0m-3 0h0m-5 0h0m7 2h0m3 1h0m-3 0h0m-4 0h0m-4 1h0m-2 1h0m9 1h0m-9 2h0m2 0h0m7 0h0m-4 0h0m3 0h0m3 0h0m-6 1h0m-7 0h0m1 1h0m-1 1h0m9 0h0m-5 2h0m-1 0h0m1 0h0m-3 1h0m11 1h0m-5 0h0m-2 0h0m9 0h0m-10 0h0m2 1h0m8 1h0m-10 0h0m1 1h0m5 0h0m-8 1h0m1 0h0m4 0h0m-1 1h0m2 0h0m6 0h0m-12 0h0m2 1h0m-5 1h0m5 0h0m-4 0h0m11 1h0m3 0h0m-4 0h0m2 1h0m0 0h0m0 1h0m-11 0h0m2 0h0m6 1h0m5 0h0m-2 0h0m-10 2h0m3 1h0m4 0h0m2 0h0m4 0h0m-9 0h0m5 1h0m-1 0h0m-7 0h0m-4 1h0m11 0h0m-4 1h0m-1 2h0m9 0h0m-12 1h0m-1 0h0m9 1h0m-3 0h0m6 0h0m-11 0h0m9 1h0m0 0h0m-2 0h0m0 1h0m-6 1h0m-3 1h0m4 3h0m-1 1h0m8 1h0m-10 2h0m-1 2h0m13 0h0m-11 2h0m-2 6h0m2 2h0m-1 4h0m8 0h0m-4 0h0m0 2h0m-4 1h0m10 0h0m1 0h0m-2 1h0m-2 1h0m-1 2h0m-6 1h0m10 5h0m-3 0h0m2 2h0m-7 1h0m2 0h0m9 2h0m-5 1h0m3 0h0m-7 0h0m8 2h0m2 3h0m-8 0h0m-1 2h0m9 0h0m-13 0h0m23-125h0m4 5h0m-11 5h0m13 2h0m-7 2h0m2 2h0m-11 1h0m15 1h0m-3 1h0m2 0h0m1 3h0m-14 0h0m6 1h0m-7 1h0m3 0h0m1 0h0m10 1h0m-6 3h0m-7 1h0m-1 0h0m14 1h0m-8 1h0m3 2h0m-2 1h0m-1 0h0m5 1h0m-8 0h0m5 2h0m8 0h0m0 0h0m-2 1h0m-5 2h0m-2 1h0m4 0h0m-1 1h0m-1 1h0m-1 1h0m-1 1h0m-2 0h0m7 1h0m1 0h0m-12 0h0m10 1h0m4 0h0m-3 1h0m-9 0h0m10 1h0m-9 1h0m4 1h0m2 2h0m4 0h0m-13 1h0m5 0h0m-2 1h0m6 0h0m-7 1h0m1 1h0m2 1h0m10 0h0m-3 0h0m-6 0h0m0 1h0m7 0h0m-10 0h0m3 1h0m5 1h0m-10 0h0m2 0h0m9 0h0m-13 0h0m12 1h0m4 0h0m-16 0h0m5 0h0m-4 1h0m8 0h0m5 0h0m-11 1h0m1 0h0m8 1h0m-3 0h0m4 0h0m-1 0h0m-4 0h0m0 0h0m-5 1h0m10 0h0m-13 0h0m7 0h0m0 1h0m-5 0h0m2 0h0m8 1h0m-11 0h0m5 1h0m-1 2h0m0 1h0m2 0h0m-3 1h0m0 0h0m0 0h0m-2 1h0m7 5h0m-8 4h0m12 0h0m2 0h0m-8 1h0m6 0h0m2 2h0m-10 0h0m0 2h0m9 1h0m-5 0h0m-9 2h0m16 0h0m-12 0h0m11 3h0m-11 1h0m7 5h0m-11 0h0m11 0h0m-1 1h0m-5 2h0m6 1h0m-7 0h0m10 1h0m-3 0h0m0 0h0m3 1h0m-10 4h0m-3 1h0m12 0h0m-10 2h0m4 2h0m3 2h0m4 2h0m-5 0h0m4 2h0m-5 0h0m7 2h0m-8 1h0m0 1h0m-1 1h0m10-127h0m3 2h0m-3 4h0m0 2h0m2 0h0m0 2h0m1 1h0m3 2h0m4 0h0m-4 0h0m-1 1h0m-5 1h0m4 7h0m1 0h0m2 2h0m9 0h0m-15 1h0m8 1h0m4 1h0m2 1h0m-4 0h0m-6 1h0m3 3h0m1 0h0m-8 0h0m5 3h0m1 2h0m7 0h0m-10 0h0m5 1h0m2 2h0m5 1h0m-16 1h0m0 0h0m7 1h0m4 1h0m-10 0h0m7 0h0m4 1h0m-2 1h0m-3 0h0m-4 0h0m10 1h0m-3 0h0m-8 0h0m9 2h0m4 0h0m-10 1h0m9 0h0m-9 1h0m10 1h0m-7 0h0m-5 0h0m10 1h0m-4 1h0m6 0h0m0 0h0m-15 1h0m13 1h0m-4 1h0m4 0h0m-1 2h0m-9 1h0m9 0h0m1 0h0m-12 1h0m8 0h0m5 0h0m-9 0h0m6 1h0m0 1h0m-6 0h0m-2 0h0m8 0h0m-7 1h0m6 0h0m0 0h0m3 0h0m-13 1h0m8 1h0m-5 0h0m10 0h0m-4 0h0m2 1h0m4 0h0m-2 0h0m0 0h0m3 0h0m0 0h0m-16 2h0m3 0h0m3 0h0m7 0h0m-5 1h0m-3 1h0m6 0h0m3 0h0m-12 1h0m13 0h0m-8 1h0m-6 1h0m7 0h0m-3 0h0m2 1h0m8 1h0m-5 1h0m-4 1h0m-1 0h0m-2 0h0m0 1h0m11 2h0m-10 5h0m7 1h0m-2 2h0m-8 2h0m5 3h0m-4 0h0m4 3h0m3 0h0m-8 0h0m11 1h0m-4 0h0m3 1h0m-6 1h0m-4 5h0m11 0h0m4 0h0m-3 1h0m-10 2h0m8 0h0m-8 3h0m-2 0h0m7 1h0m1 2h0m6 1h0m-9 0h0m7 1h0m-4 2h0m-8 1h0m7 1h0m-7 1h0m5 3h0m1 0h0m11-104h0m0 0h0m2 6h0m-1 8h0m-1 0h0m1 3h0m-3 1h0m2 11h0m6 3h0m-2 1h0m4 0h0m-4 1h0m6 3h0m-12 2h0m4 0h0m2 1h0m10 3h0m-11 4h0m-1 1h0m12 1h0m-7 0h0m5 1h0m-10 1h0m9 0h0m-12 1h0m13 6h0m-10 3h0m-1 2h0m8 0h0m-2 2h0m2 0h0m-7 7h0m-4 0h0m4 4h0m-1 7h0m4 5h0m-5 0h0m11 0h0m-3 0h0m-6 1h0m3 0h0m-4 0h0m6 1h0m6 3h0m-14 0h0m4 0h0m5 1h0m1 0h0m-9 0h0m11 1h0m0 0h0m-12 1h0m5 4h0m4 1h0m-10 1h0m9 0h0m-2 4h0m9 1h0m-2 2h0m-3 4h0m-6 3h0m9 4h0m-6 7h0m0 3h0m10-98h0m11 2h0m0 0h0m-13 1h0m4 2h0m-2 5h0m8 1h0m-6 0h0m7 2h0m-1 1h0m-4 2h0m-1 0h0m5 1h0m-3 0h0m-1 1h0m5 0h0m3 4h0m2 9h0m-7 2h0m-4 20h0m1 0h0m-2 1h0m1 1h0m2 2h0m7 1h0m-10 0h0m11 0h0m-2 1h0m-11 3h0m6 1h0m-8 1h0m15 1h0m-4 1h0m1 1h0m-1 0h0m-8 1h0m5 0h0m-5 1h0m13 0h0m-6 1h0m4 0h0m-13 4h0m7 1h0m-2 1h0m4 1h0m-9 2h0m15 1h0m-6 2h0m-7 6h0m3 1h0m7 10h0m6-95h0m4 2h0m-2 0h0m4 6h0m-5 2h0m8 0h0m0 1h0m-1 2h0m5 2h0m-10 1h0m3 0h0m-2 2h0m6 1h0m-12 0h0m2 2h0m1 1h0m10 0h0m-13 1h0m11 1h0m3 1h0m-13 2h0m1 2h0m6 23h0m3 0h0m-10 1h0m6 0h0m-3 0h0m9 1h0m-9 1h0m-3 3h0m5 1h0m3 0h0m1 0h0m3 0h0m-12 1h0m10 2h0m-1 2h0m2 1h0m-6 1h0m2 0h0m-6 1h0m2 1h0m-1 0h0m-3 2h0m-1 0h0m13 0h0m1 1h0m-7 4h0m8 1h0m-14 0h0m8 6h0m-6 6h0m8 3h0m-6 1h0m8 2h0m8-96h0m8 4h0m-3 3h0m-4 1h0m7 0h0m-5 2h0m-6 2h0m0 0h0m2 1h0m-2 1h0m5 1h0m1 0h0m1 4h0m-1 3h0m3 1h0m3 0h0m1 1h0m-9 0h0m0 4h0m-6 1h0m12 3h0m-10 0h0m8 1h0m-3 18h0m6 2h0m3 0h0m-6 0h0m-6 0h0m6 1h0m3 1h0m-12 1h0m1 0h0m-1 0h0m14 1h0m-13 1h0m8 1h0m3 0h0m-6 1h0m3 0h0m0 3h0m-8 1h0m8 1h0m-5 0h0m0 2h0m3 1h0m6 0h0m-4 2h0m-8 4h0m1 3h0m2 4h0m6 3h0m-5 9h0m7 2h0m-11 1h0m12 1h0m13-99h0m-6 0h0m10 2h0m-15 1h0m9 4h0m7 1h0m-10 2h0m-6 1h0m14 2h0m-8 1h0m7 5h0m-6 1h0m2 1h0m-6 2h0m13 2h0m-7 1h0m4 2h0m-2 2h0m-6 2h0m-2 0h0m8 3h0m-8 20h0m4 2h0m8 1h0m-9 2h0m-2 1h0m-1 0h0m-2 0h0m6 1h0m5 1h0m-2 0h0m-2 1h0m5 0h0m-3 0h0m-9 1h0m14 1h0m-2 3h0m-6 0h0m5 0h0m-5 1h0m5 2h0m-8 0h0m10 0h0m-9 0h0m-2 2h0m6 1h0m-8 1h0m6 4h0m-3 4h0m-1 1h0m10 8h0m-12 1h0m8 1h0m1 1h0m5 0h0m17-97h0m-1 2h0m-7 0h0m5 1h0m-9 1h0m5 0h0m5 1h0m-6 2h0m-3 4h0m6 1h0m-9 2h0m2 0h0m5 6h0m-2 0h0m6 1h0m-12 0h0m3 5h0m5 1h0m7 4h0m-10 0h0m4 1h0m-8 3h0m-2 19h0m16 1h0m-11 3h0m4 1h0m5 2h0m-7 0h0m-1 2h0m5 2h0m-3 1h0m5 1h0m-11 1h0m3 1h0m7 0h0m-6 0h0m1 0h0m1 1h0m-5 0h0m11 0h0m0 1h0m-12 1h0m-2 1h0m9 1h0m5 1h0m-12 1h0m7 0h0m2 0h0m-8 11h0m3 3h0m2 2h0m6 6h0m-8 1h0m-6 0h0m27-99h0m-10 3h0m10 2h0m4 0h0m-7 1h0m2 6h0m0 0h0m-9 1h0m13 1h0m-11 2h0m11 3h0m2 2h0m-10 5h0m1 0h0m8 1h0m-11 0h0m1 0h0m-5 3h0m8 1h0m5 2h0m-5 1h0m-4 0h0m0 20h0m8 1h0m-11 0h0m6 2h0m-3 2h0m6 0h0m-9 1h0m1 1h0m5 1h0m5 1h0m-3 0h0m6 3h0m-2 1h0m-3 0h0m5 2h0m-9 1h0m-1 2h0m5 0h0m-1 0h0m-1 1h0m0 0h0m-3 0h0m10 1h0m-2 3h0m-11 1h0m7 3h0m-8 4h0m4 2h0m9 7h0m-7 4h0m22-97h0m-13 2h0m14 1h0m-5 1h0m7 4h0m-15 1h0m3 5h0m1 1h0m-3 3h0m9 0h0m-1 2h0m-5 0h0m10 0h0m-5 2h0m-4 1h0m8 3h0m-10 0h0m4 5h0m7 1h0m-11 0h0m-3 25h0m1 1h0m14 0h0m-15 1h0m5 0h0m-1 3h0m7 3h0m2 1h0m-8 0h0m6 0h0m1 0h0m1 2h0m-5 1h0m-3 0h0m1 0h0m7 1h0m-4 1h0m3 1h0m-9 0h0m-1 1h0m3 0h0m-2 2h0m5 0h0m0 0h0m-6 1h0m0 4h0m2 5h0m-4 1h0m9 7h0m14-93h0m-5 3h0m2 0h0m-4 2h0m6 1h0m3 2h0m-5 1h0m9 3h0m-13 2h0m14 4h0m-3 0h0m-7 0h0m-2 2h0m7 5h0m5 1h0m-6 1h0m4 1h0m-5 3h0m-6 0h0m10 0h0m1 3h0m-11 1h0m5 19h0m6 0h0m-13 1h0m12 2h0m-5 2h0m-5 0h0m13 2h0m-12 0h0m4 2h0m-7 0h0m6 3h0m8 2h0m-10 1h0m9 0h0m-13 1h0m9 1h0m7 2h0m-4 0h0m-6 3h0m-2 0h0m4 1h0m-5 1h0m8 0h0m4 0h0m-7 2h0m8 0h0m12-80h0m-1 1h0m-9 0h0m-1 0h0m9 1h0m-5 3h0m4 5h0m-7 0h0m5 1h0m8 1h0m-6 3h0m3 1h0m0 2h0m-1 1h0m-3 4h0m-5 0h0m-1 1h0m4 1h0m-2 0h0m9 2h0m2 1h0m0 2h0m-12 2h0m1 0h0m1 23h0m-5 1h0m14 1h0m-7 2h0m-3 1h0m3 0h0m6 1h0m-13 1h0m12 0h0m2 2h0m-7 0h0m3 3h0m-2 0h0m-4 1h0m1 2h0m10 4h0m0 1h0m-15 0h0m3 0h0m9 1h0m-10 1h0m9 0h0m3 1h0m-7 0h0m-4 0h0m5 1h0m-3 0h0m5 2h0m1 0h0m-3 0h0m1 2h0m12-111h0m4 1h0m-3 3h0m5 13h0m3 7h0m-13 7h0m2 4h0m2 8h0m9 0h0m2 5h0m-8 1h0m-4 1h0m7 0h0m-1 2h0m4 3h0m-9 0h0m-1 1h0m-4 1h0m14 1h0m2 1h0m-10 0h0m5 3h0m-1 23h0m-1 2h0m-6 2h0m13 0h0m-7 1h0m-8 1h0m13 0h0m-13 1h0m12 0h0m0 1h0m-6 1h0m5 0h0m-7 1h0m0 0h0m9 1h0m-5 0h0m-8 0h0m4 3h0m6 0h0m5 1h0m-10 3h0m7 0h0m-9 0h0m7 1h0m-9 0h0m5 0h0m-5 1h0m0 1h0m9 4h0m5 1h0m-15 0h0m14 0h0m-8 1h0m-5 1h0m27-122h0m-11 6h0m6 18h0m3 2h0m-10 9h0m4 10h0m10 5h0m0 1h0m-1 5h0m-13 2h0m6 1h0m3 1h0m-4 2h0m3 2h0m5 4h0m-3 0h0m-7 3h0m9 24h0m-10 1h0m11 1h0m-7 0h0m5 1h0m-7 0h0m3 0h0m3 0h0m0 1h0m-6 1h0m-3 0h0m-1 1h0m-1 2h0m7 1h0m-2 3h0m7 3h0m-12 2h0m3 1h0m11 1h0m1 1h0m-13 0h0m1 1h0m7 0h0m-4 0h0m3 1h0m-2 1h0m8 0h0m-3 3h0m2 0h0m0 0h0m-1 0h0m-4 2h0m-5 0h0m2 0h0m23-114h0m1 7h0m-12 5h0m8 5h0m-5 14h0m7 1h0m-9 11h0m6 3h0m0 1h0m5 2h0m-9 1h0m6 0h0m4 2h0m-7 2h0m6 0h0m-13 1h0m0 2h0m1 2h0m14 1h0m-8 1h0m-2 23h0m-2 0h0m9 2h0m-9 0h0m0 1h0m0 4h0m8 4h0m-1 2h0m-3 0h0m-7 1h0m14 0h0m0 0h0m-7 0h0m4 0h0m-8 1h0m12 1h0m-9 0h0m-1 0h0m4 1h0m1 2h0m4 0h0m-15 2h0m10 1h0m-9 0h0m12 1h0m-5 1h0m-5 2h0m8 1h0m-6 0h0m3 1h0m2 0h0m-8 2h0m12 0h0m-10 1h0m12-122h0m14 19h0m-10 6h0m0 19h0m6 2h0m5 5h0m-3 4h0m-5 3h0m-5 0h0m2 1h0m8 0h0m-6 2h0m1 0h0m5 0h0m0 2h0m-10 2h0m6 1h0m0 2h0m4 1h0m-12 21h0m12 0h0m4 1h0m-11 0h0m-3 1h0m12 2h0m-11 0h0m12 2h0m-7 1h0m3 0h0m0 0h0m-2 4h0m5 0h0m-10 0h0m-1 0h0m-1 1h0m1 1h0m2 0h0m7 0h0m-5 0h0m2 1h0m1 0h0m2 0h0m-4 2h0m3 0h0m2 3h0m-8 1h0m9 3h0m-12 2h0m6 2h0m-2 1h0m-1 2h0m-4 2h0m17-115h0m12 1h0m-7 13h0m3 7h0m-7 4h0m10 11h0m-2 3h0m-5 3h0m-5 0h0m14 4h0m-2 0h0m0 1h0m-2 2h0m-2 0h0m6 1h0m-11 4h0m-2 1h0m8 4h0m-6 2h0m2 2h0m-2 20h0m6 1h0m1 0h0m3 0h0m-10 0h0m4 1h0m-6 1h0m10 0h0m-3 3h0m0 0h0m-6 0h0m8 1h0m-7 2h0m-2 1h0m-1 0h0m6 1h0m-1 3h0m8 1h0m-8 1h0m9 0h0m-15 1h0m11 1h0m2 1h0m-4 3h0m-3 1h0m8 1h0m-6 0h0m7 0h0m-8 1h0m-7 1h0m6 0h0m-4 4h0m12 1h0m-2 1h0m12-111h0m-5 9h0m11 2h0m-7 0h0m-3 11h0m3 15h0m-1 1h0m-4 0h0m12 2h0m-3 1h0m2 2h0m0 1h0m1 1h0m-4 4h0m-5 0h0m-5 2h0m6 1h0m-3 0h0m9 1h0m-9 4h0m12 23h0m-2 0h0m-12 1h0m12 1h0m-5 0h0m6 1h0m-6 0h0m2 0h0m5 0h0m-5 1h0m-1 1h0m-7 0h0m10 2h0m-9 1h0m5 2h0m-5 5h0m6 1h0m-1 0h0m-2 0h0m8 1h0m-2 2h0m-6 0h0m-4 1h0m-1 1h0m10 0h0m-11 0h0m6 1h0m-6 1h0m7 0h0m7 2h0m-8 1h0m8 3h0m-14 2h0m11 1h0m-4 0h0m22-119h0m-7 8h0m-5 1h0m1 10h0m12 17h0m-5 1h0m-2 8h0m-1 1h0m7 0h0m-2 1h0m3 0h0m-8 1h0m6 11h0m-11 1h0m8 0h0m7 1h0m-11 0h0m-3 1h0m10 0h0m-3 2h0m-6 1h0m2 22h0m4 1h0m-8 0h0m2 3h0m-2 0h0m2 2h0m9 0h0m-4 0h0m8 2h0m-8 0h0m6 1h0m-12 1h0m9 5h0m-3 0h0m-6 1h0m8 0h0m-4 1h0m4 0h0m-3 1h0m5 1h0m0 0h0m-12 0h0m13 1h0m-11 0h0m7 0h0m0 3h0m-2 1h0m3 1h0m-6 0h0m7 1h0m-10 1h0m14 2h0m0 0h0m-11 1h0m10 1h0m15-132h0m-7 1h0m-6 23h0m6 7h0m8 6h0m-11 8h0m0 4h0m1 9h0m-3 1h0m2 0h0m2 0h0m3 1h0m0 0h0m4 2h0m1 2h0m-6 3h0m4 2h0m4 6h0m-5 4h0m4 0h0m-8 0h0m1 22h0m-4 0h0m-3 1h0m7 3h0m0 0h0m0 2h0m-5 0h0m-1 0h0m7 2h0m-2 0h0m8 2h0m-2 0h0m-6 0h0m7 2h0m-9 2h0m10 0h0m-3 0h0m-10 0h0m-1 2h0m10 2h0m-8 1h0m9 1h0m-2 2h0m5 0h0m-10 1h0m10 1h0m-5 1h0m6 0h0m-3 0h0m-10 1h0m9 2h0m4 1h0m-9 0h0m12-126h0m14 11h0m-9 6h0m-3 2h0m8 2h0m-9 13h0m7 21h0m3 5h0m-2 2h0m-11 2h0m15 0h0m-12 2h0m5 2h0m-8 0h0m6 1h0m0 0h0m3 1h0m-4 0h0m5 3h0m4 2h0m-9 0h0m8 1h0m-10 20h0m8 1h0m3 1h0m-4 0h0m-1 2h0m-8 2h0m12 1h0m-5 2h0m-3 2h0m-4 1h0m13 1h0m-7 0h0m1 0h0m-1 1h0m5 1h0m0 1h0m-6 0h0m-3 1h0m10 1h0m1 1h0m-6 0h0m-2 2h0m9 1h0m-12 0h0m11 0h0m-1 1h0m-9 1h0m5 1h0m-5 0h0m12 1h0m-6 2h0m-9 0h0m5 2h0m-5 0h0m13 2h0m17-108h0m-4 5h0m-10 3h0m3 12h0m2 9h0m7 5h0m-9 0h0m-2 2h0m1 2h0m7 0h0m-5 1h0m0 1h0m4 4h0m5 1h0m-7 3h0m2 1h0m-3 0h0m3 3h0m6 0h0m1 3h0m-3 0h0m-2 1h0m-11 20h0m16 1h0m-13 0h0m3 0h0m9 1h0m-7 1h0m0 0h0m6 1h0m-9 1h0m2 1h0m4 3h0m-2 0h0m-6 2h0m-2 0h0m2 1h0m7 3h0m2 2h0m-1 1h0m0 1h0m-10 1h0m2 0h0m6 0h0m-3 1h0m-2 0h0m6 3h0m2 0h0m3 1h0m-2 0h0m0 1h0m-1 0h0m-11 0h0m4 1h0m9 2h0m-7 1h0m3 3h0m-9 0h0m26-123h0m2 0h0m2 6h0m-14 0h0m4 5h0m4 18h0m-5 5h0m2 16h0m2 0h0m2 2h0m2 3h0m-3 2h0m-9 1h0m3 1h0m4 0h0m-5 3h0m12 1h0m-6 1h0m3 3h0m1 3h0m3 0h0m-3 20h0m0 1h0m-11 3h0m7 1h0m-2 2h0m-2 1h0m3 0h0m7 0h0m-7 1h0m1 1h0m-5 0h0m7 1h0m3 1h0m-5 1h0m-5 3h0m11 2h0m1 3h0m-6 1h0m-7 0h0m-2 2h0m5 0h0m4 0h0m-6 1h0m2 3h0m9 1h0m-10 1h0m11 0h0m-6 0h0m4 1h0m-1 0h0m-6 0h0m2 1h0m3 0h0m-11 0h0m5 1h0m10 0h0m16-129h0m-10 1h0m-4 29h0m11 2h0m-4 23h0m-8 1h0m4 1h0m9 0h0m0 0h0m-10 2h0m7 2h0m-5 3h0m10 2h0m0 0h0m-4 0h0m-11 1h0m10 1h0m0 4h0m0 0h0m1 0h0m-7 0h0m7 25h0m-3 3h0m8 0h0m-12 0h0m6 1h0m4 2h0m-4 0h0m2 1h0m-6 0h0m-1 0h0m6 1h0m-3 0h0m1 1h0m-7 0h0m10 1h0m4 0h0m-12 1h0m-4 0h0m2 3h0m6 0h0m5 0h0m-9 1h0m6 1h0m2 0h0m-3 2h0m-8 1h0m3 1h0m-2 1h0m-2 3h0m7 1h0m1 2h0m-6 1h0m4 0h0m8 1h0m1 1h0m-12 2h0m17-114h0m9 0h0m-1 1h0m1 0h0m-11 19h0m9 11h0m3 3h0m-7 2h0m8 0h0m-3 1h0m3 1h0m-1 2h0m2 4h0m-2 3h0m-11 6h0m6 1h0m-7 2h0m14 2h0m-16 0h0m2 25h0m10 1h0m-5 1h0m-2 1h0m-3 1h0m6 2h0m-5 0h0m0 0h0m13 3h0m-6 0h0m-2 1h0m-2 0h0m0 2h0m8 0h0m-10 1h0m3 1h0m8 3h0m-14 0h0m15 1h0m-8 1h0m4 1h0m-10 0h0m2 0h0m4 0h0m-7 1h0m12 2h0m-4 1h0m3 1h0m-1 1h0m-10 1h0m9 0h0m5 1h0m-11 1h0m-2 2h0m9 0h0m-6 0h0m8 0h0m0 23h0m1 2h0m18-140h0m-5 0h0m-5 7h0m3 2h0m-8 1h0m1 4h0m3 1h0m-4 1h0m6 4h0m-6 4h0m2 1h0m10 2h0m-9 3h0m0 0h0m8 3h0m-2 0h0m1 2h0m2 0h0m-9 1h0m5 1h0m-3 0h0m0 1h0m-2 2h0m9 3h0m-12 1h0m13 1h0m-12 0h0m-2 1h0m6 0h0m2 1h0m-5 0h0m8 1h0m0 4h0m-8 1h0m9 1h0m3 0h0m0 2h0m-10 1h0m10 0h0m-2 0h0m-2 2h0m-5 3h0m6 20h0m2 2h0m-6 2h0m-7 1h0m10 0h0m3 2h0m-12 0h0m2 1h0m11 0h0m-3 1h0m-1 0h0m-9 2h0m0 3h0m3 0h0m0 0h0m-2 1h0m-2 0h0m12 2h0m-4 0h0m3 2h0m2 0h0m0 2h0m-8 1h0m-2 0h0m-2 1h0m7 0h0m0 4h0m-2 2h0m3 0h0m-4 0h0m1 0h0m7 3h0m-3 0h0m3 4h0m4-116h0m7 0h0m1 0h0m2 2h0m2 5h0m1 0h0m-15 4h0m14 1h0m-8 1h0m10 10h0m-13 1h0m6 0h0m-1 5h0m5 3h0m-12 1h0m4 0h0m2 1h0m-6 1h0m7 0h0m3 3h0m-11 0h0m13 0h0m-1 0h0m2 0h0m1 1h0m-10 0h0m6 0h0m2 0h0m-5 5h0m0 1h0m-2 1h0m-2 0h0m6 4h0m0 2h0m-5 4h0m-2 1h0m0 1h0m8 24h0m4 5h0m-1 0h0m-11 1h0m12 0h0m-1 1h0m-1 1h0m-7 1h0m4 0h0m-5 0h0m-4 0h0m2 1h0m2 0h0m-3 3h0m7 0h0m5 2h0m-6 3h0m-7 0h0m6 1h0m4 0h0m-2 0h0m-1 4h0m-2 0h0m8 0h0m-3 0h0m-6 1h0m-2 1h0m10 0h0m-9 0h0m5 2h0m-3 0h0m7 1h0m-13 0h0m8 2h0m-1 1h0m-3 0h0m11 17h0m-8 13h0m-2 2h0m21-146h0m1 2h0m-8 2h0m4 1h0m-6 3h0m14 2h0m-6 3h0m-2 2h0m-2 2h0m-4 4h0m2 2h0m10 4h0m3 0h0m-13 0h0m10 2h0m2 4h0m-3 1h0m2 0h0m-6 1h0m-7 0h0m2 1h0m10 1h0m-2 4h0m3 0h0m-5 2h0m3 0h0m-4 0h0m-3 1h0m3 5h0m1 3h0m-7 0h0m-1 1h0m1 0h0m10 1h0m-7 1h0m-1 1h0m2 2h0m1 1h0m-1 0h0m3 22h0m-2 1h0m7 0h0m-4 0h0m0 1h0m-5 1h0m5 1h0m-9 1h0m0 2h0m11 3h0m-3 0h0m1 1h0m-2 0h0m3 0h0m-5 1h0m-4 0h0m13 0h0m-2 2h0m-11 1h0m12 0h0m0 2h0m-9 1h0m0 0h0m3 1h0m-6 1h0m0 1h0m3 1h0m6 2h0m2 1h0m-1 1h0m2 1h0m-13 1h0m1 1h0m12 1h0m1 12h0m-11 5h0m9 0h0m-5 5h0m1 5h0m-2 8h0m19-144h0m0 4h0m2 2h0m-6 4h0m8 1h0m-2 1h0m-9 5h0m1 3h0m10 1h0m-1 1h0m-12 2h0m5 8h0m1 3h0m1 2h0m-7 0h0m10 0h0m-3 1h0m7 3h0m-14 1h0m13 3h0m-6 1h0m1 1h0m0 2h0m4 0h0m-8 0h0m-1 1h0m5 0h0m7 0h0m-13 0h0m9 0h0m-9 1h0m3 1h0m0 1h0m9 0h0m-15 0h0m14 2h0m-13 0h0m11 1h0m-9 2h0m12 22h0m-15 0h0m10 1h0m3 0h0m2 1h0m-11 2h0m2 1h0m-6 4h0m16 0h0m-8 1h0m6 1h0m-9 0h0m-2 0h0m6 1h0m-8 0h0m9 1h0m-8 1h0m5 0h0m-4 3h0m10 0h0m-12 1h0m7 0h0m7 4h0m-12 1h0m9 1h0m-5 0h0m-6 1h0m4 0h0m0 0h0m2 0h0m5 2h0m-3 1h0m4 0h0m-2 1h0m-6 1h0m-2 2h0m9 1h0m-5 0h0m-1 0h0m-1 3h0m-5 2h0m13 0h0m-10 1h0m13 2h0m-5 1h0m0 0h0m4 14h0m-6 0h0m-8 11h0m3 4h0m19-146h0m6 1h0m-1 5h0m1 0h0m3 2h0m-4 3h0m-9 3h0m5 1h0m2 2h0m-6 4h0m0 3h0m10 3h0m-13 1h0m5 0h0m-2 2h0m-2 0h0m0 0h0m13 3h0m-14 0h0m7 2h0m7 0h0m1 0h0m-5 1h0m-7 2h0m1 0h0m9 1h0m-3 1h0m-9 2h0m7 0h0m-5 1h0m-1 4h0m6 1h0m1 0h0m-2 0h0m-8 1h0m0 3h0m12 0h0m-4 1h0m-5 1h0m3 23h0m3 1h0m-5 0h0m-4 0h0m3 1h0m11 0h0m1 1h0m-2 1h0m2 2h0m-1 1h0m-5 3h0m2 1h0m-3 0h0m0 1h0m5 0h0m-8 1h0m-2 0h0m12 0h0m-10 3h0m-5 1h0m10 0h0m-9 3h0m-1 1h0m5 1h0m-2 0h0m0 1h0m7 1h0m4 0h0m0 2h0m-6 1h0m-2 1h0m5 1h0m-3 0h0m8 0h0m-10 1h0m-5 0h0m8 1h0m-5 10h0m-1 1h0m11 3h0m-7 0h0m3 1h0m2 1h0m2 1h0m-4 14h0m-10 0h0m31-147h0m-4 4h0m-2 1h0m-4 3h0m10 1h0m-3 16h0m-4 0h0m3 5h0m-6 1h0m8 5h0m-11 1h0m4 0h0m6 1h0m-12 1h0m10 2h0m-8 1h0m13 1h0m-2 1h0m-4 1h0m-3 2h0m5 0h0m-11 1h0m2 1h0m2 1h0m11 0h0m-11 0h0m5 1h0m-7 1h0m6 2h0m5 4h0m-12 0h0m7 1h0m-5 0h0m4 0h0m8 0h0m-3 3h0m-6 22h0m-4 1h0m8 2h0m-4 0h0m8 0h0m1 2h0m-5 0h0m6 1h0m-14 1h0m13 0h0m-13 1h0m11 0h0m-10 3h0m2 1h0m10 0h0m-4 1h0m-5 1h0m-1 0h0m-5 1h0m4 0h0m9 1h0m-3 1h0m-3 0h0m5 2h0m-2 1h0m-1 2h0m4 2h0m-10 2h0m9 0h0m-9 1h0m0 0h0m1 2h0m6 0h0m-10 2h0m4 2h0m-3 2h0m3 0h0m11 3h0m-2 1h0m-2 0h0m5 6h0m-6 3h0m0 9h0m-2 3h0m21-141h0m-5 3h0m5 2h0m-11 2h0m5 1h0m1 2h0m1 1h0m-8 2h0m10 1h0m-11 3h0m4 2h0m11 2h0m-1 0h0m-3 4h0m5 4h0m-16 1h0m14 3h0m-4 1h0m4 0h0m-3 1h0m4 0h0m-15 3h0m2 1h0m4 0h0m-1 1h0m0 0h0m8 4h0m-11 1h0m4 2h0m0 2h0m-4 2h0m2 0h0m11 1h0m-9 1h0m4 0h0m-1 2h0m-5 26h0m-1 1h0m-3 2h0m5 0h0m11 1h0m-11 1h0m0 0h0m2 2h0m1 1h0m3 2h0m-4 3h0m1 0h0m3 1h0m-10 0h0m0 1h0m14 2h0m0 1h0m-12 0h0m0 1h0m12 0h0m-14 0h0m13 1h0m-5 1h0m-5 2h0m6 0h0m0 0h0m4 0h0m0 1h0m-13 1h0m13 2h0m-5 1h0m0 0h0m5 0h0m-12 1h0m11 2h0m-5 0h0m-1 1h0m0 3h0m3 2h0m0 2h0m-7 2h0m10 2h0m-9 3h0m-3 1h0m13 2h0m-2 7h0m-12 2h0m4 1h0m19-140h0m-4 2h0m5 1h0m6 3h0m1 11h0m-2 2h0m-2 4h0m-2 2h0m-7 5h0m3 2h0m8 3h0m-10 1h0m11 1h0m-8 1h0m6 2h0m-9 2h0m-1 0h0m-2 1h0m5 0h0m-4 0h0m8 1h0m3 3h0m-11 0h0m7 0h0m3 1h0m-10 1h0m5 1h0m1 1h0m-1 0h0m10 0h0m0 3h0m-7 0h0m-8 2h0m11 1h0m1 0h0m2 1h0m-8 1h0m1 0h0m5 22h0m-12 1h0m1 1h0m11 1h0m-3 0h0m-3 0h0m5 1h0m-8 1h0m-3 2h0m3 0h0m-1 2h0m1 1h0m2 0h0m-5 3h0m14 3h0m-12 0h0m7 0h0m-5 0h0m6 0h0m-4 1h0m1 0h0m-7 1h0m13 1h0m-4 1h0m-8 1h0m6 1h0m2 1h0m-6 1h0m3 1h0m8 1h0m-2 0h0m-1 1h0m-2 0h0m-6 4h0m11 0h0m0 0h0m-15 7h0m12 0h0m2 2h0m-8 3h0m4 0h0m-7 1h0m8 2h0m-7 0h0m-2 2h0m17-129h0m9 1h0m1 0h0m-1 3h0m1 1h0m-5 1h0m1 6h0m-8 2h0m1 4h0m3 4h0m0 10h0m-1 2h0m8 1h0m2 1h0m-13 0h0m14 1h0m-1 1h0m0 1h0m-14 2h0m12 0h0m-12 1h0m4 3h0m5 1h0m0 0h0m2 0h0m-3 1h0m-1 1h0m7 4h0m-12 1h0m9 0h0m-7 1h0m2 1h0m1 1h0m0 2h0m8 0h0m-14 0h0m8 1h0m-2 23h0m0 1h0m7 1h0m-3 1h0m4 0h0m-4 1h0m-9 1h0m7 0h0m-7 1h0m6 1h0m-8 2h0m2 1h0m3 1h0m6 0h0m-3 0h0m-4 1h0m8 2h0m2 1h0m-6 2h0m-4 1h0m1 1h0m-4 0h0m0 2h0m11 0h0m-1 2h0m4 1h0m0 0h0m0 3h0m-15 0h0m13 0h0m-1 1h0m-8 1h0m8 2h0m-7 2h0m4 0h0m-1 0h0m-5 2h0m8 0h0m-10 1h0m13 1h0m-8 2h0m-1 3h0m5 7h0m21-135h0m-15 4h0m12 3h0m-9 1h0m6 3h0m3 4h0m1 0h0m2 0h0m1 10h0m-13 4h0m5 3h0m2 0h0m-4 4h0m8 0h0m-10 0h0m3 2h0m1 0h0m1 2h0m-4 1h0m-3 0h0m7 1h0m4 1h0m-6 0h0m5 0h0m-6 1h0m-5 2h0m11 1h0m-8 2h0m10 1h0m-13 0h0m12 1h0m-3 0h0m-6 1h0m3 1h0m-4 2h0m9 1h0m-8 5h0m10 1h0m-7 24h0m-5 0h0m14 1h0m-8 0h0m7 0h0m-13 1h0m7 1h0m2 1h0m2 0h0m-11 0h0m1 2h0m13 3h0m-14 1h0m3 0h0m-3 0h0m10 1h0m1 2h0m-5 0h0m-7 1h0m3 2h0m10 0h0m-13 1h0m13 0h0m-8 1h0m-2 1h0m2 0h0m2 0h0m-2 1h0m4 5h0m0 3h0m3 2h0m-5 0h0m5 2h0m1 1h0m-3 1h0m0 1h0m-5 1h0m2 2h0m-7 7h0m12 1h0m15-132h0m-10 1h0m14 3h0m-9 7h0m-6 1h0m12 2h0m-1 6h0m-8 3h0m-1 2h0m-1 2h0m5 0h0m5 1h0m1 3h0m-5 4h0m6 0h0m-3 2h0m-2 1h0m1 0h0m4 0h0m-10 1h0m-1 3h0m-2 3h0m10 0h0m4 0h0m-13 3h0m0 2h0m2 1h0m3 1h0m1 1h0m0 1h0m6 2h0m-12 1h0m5 1h0m-2 1h0m1 1h0m10 1h0m0 2h0m-2 24h0m-6 2h0m3 1h0m-9 1h0m5 0h0m4 0h0m-10 1h0m13 1h0m-3 0h0m-8 1h0m1 0h0m3 2h0m-1 4h0m8 1h0m-2 2h0m-4 0h0m4 0h0m-3 1h0m2 0h0m-1 0h0m0 1h0m5 0h0m-11 2h0m-1 1h0m0 2h0m3 1h0m-4 0h0m3 1h0m-3 1h0m11 0h0m-6 1h0m-1 1h0m9 3h0m-9 0h0m9 2h0m-7 0h0m8 3h0m-8 2h0m4 1h0m0 3h0m-11 4h0m18-132h0m1 1h0m9 2h0m-5 11h0m-2 7h0m2 3h0m4 1h0m3 1h0m-12 8h0m-2 6h0m12 0h0m1 0h0m-11 1h0m5 0h0m4 0h0m-10 1h0m9 2h0m-3 0h0m-3 3h0m-1 1h0m7 0h0m3 3h0m-9 0h0m6 1h0m-3 0h0m-7 1h0m2 3h0m5 1h0m-7 0h0m8 1h0m-8 0h0m15 0h0m-1 0h0m-12 2h0m2 1h0m9 1h0m-4 24h0m2 1h0m2 1h0m2 0h0m-11 1h0m-1 0h0m6 0h0m-3 1h0m7 1h0m-4 2h0m-10 0h0m9 0h0m-1 2h0m5 2h0m-3 1h0m-9 0h0m1 2h0m7 3h0m2 1h0m1 1h0m-5 2h0m-6 1h0m3 0h0m9 0h0m-10 0h0m3 0h0m1 3h0m7 1h0m-14 1h0m8 1h0m-3 0h0m9 0h0m0 1h0m-5 1h0m-6 2h0m11 0h0m0 0h0m-10 1h0m9 0h0m-9 2h0m6 1h0m-9 8h0m18-131h0m0 6h0m-2 7h0m7 7h0m6 1h0m2 1h0m-5 3h0m2 0h0m2 2h0m-13 2h0m2 1h0m3 1h0m1 5h0m-3 1h0m-1 7h0m6 1h0m4 0h0m-13 1h0m14 3h0m-7 0h0m0 0h0m-6 1h0m6 0h0m6 3h0m-7 0h0m-6 4h0m0 3h0m10 0h0m-5 1h0m-1 0h0m6 0h0m0 1h0m2 5h0m-3 2h0m-1 1h0m-5 1h0m4 0h0m4 0h0m-8 1h0m9 2h0m-6 0h0m6 1h0m-3 1h0m-4 0h0m4 1h0m5 2h0m-3 4h0m-7 1h0m2 1h0m3 2h0m4 1h0m0 1h0m-8 0h0m-4 1h0m13 0h0m-9 1h0m7 1h0m-8 2h0m7 0h0m-2 1h0m2 0h0m-12 1h0m9 2h0m-7 3h0m-2 2h0m3 1h0m9 8h0m-11 0h0m2 1h0m-1 1h0m11 4h0m-4 1h0m5 0h0m0 1h0m-7 0h0m-6 1h0m9 5h0m5 1h0m-9 1h0m-1 1h0m-3 1h0m6 0h0m-1 0h0m1 1h0m13-106h0m2 1h0m5 3h0m-10 0h0m-1 2h0m7 1h0m-2 0h0m-4 3h0m-1 5h0m7 2h0m3 0h0m-1 0h0m-9 2h0m13 0h0m-8 4h0m6 2h0m1 0h0m-7 1h0m2 1h0m-5 0h0m12 1h0m-1 1h0m-5 4h0m-6 0h0m5 1h0m-4 2h0m2 0h0m9 2h0m-11 0h0m4 0h0m2 1h0m-10 1h0m15 0h0m-7 1h0m5 0h0m-3 0h0m-6 1h0m10 0h0m-5 1h0m5 2h0m-9 0h0m8 2h0m-11 1h0m5 2h0m-6 1h0m10 1h0m0 1h0m0 1h0m1 6h0m-5 1h0m6 0h0m-4 3h0m-2 1h0m-1 0h0m-4 1h0m3 0h0m3 1h0m5 0h0m2 0h0m-8 1h0m-5 0h0m13 2h0m-12 1h0m13 6h0m-10 0h0m10 0h0m-1 4h0m-13 1h0m9 0h0m2 1h0m0 1h0m-8 6h0m4 1h0m3 0h0m-11 2h0m6 2h0m5 3h0m1 1h0m-8 3h0m-2 0h0m8 0h0m-7 0h0m-3 2h0m8 0h0m-1 1h0m21-106h0m-12 0h0m14 0h0m0 0h0m-4 2h0m-7 1h0m0 2h0m4 1h0m2 2h0m2 3h0m-6 1h0m-2 0h0m3 4h0m-6 0h0m10 1h0m-7 3h0m9 1h0m-13 4h0m10 1h0m3 0h0m-6 2h0m2 1h0m-5 3h0m1 2h0m7 1h0m-3 1h0m-6 0h0m12 0h0m-11 0h0m5 0h0m-2 1h0m1 0h0m-1 7h0m7 2h0m-1 0h0m-12 1h0m11 4h0m2 1h0m-4 0h0m2 3h0m2 2h0m-8 1h0m7 0h0m-1 2h0m-9 1h0m9 1h0m-9 1h0m6 1h0m-1 0h0m-2 0h0m-2 1h0m12 0h0m-7 0h0m-6 1h0m-2 0h0m10 0h0m-7 0h0m2 2h0m6 0h0m-3 0h0m0 0h0m-4 0h0m-3 1h0m10 6h0m-5 1h0m2 0h0m-7 1h0m-1 5h0m6 2h0m3 1h0m0 3h0m-7 0h0m-2 5h0m13 0h0m1 3h0m-1 1h0m-10 0h0m10 4h0m-11 0h0m4 2h0m-3 2h0m10 0h0m11-133h0m6 3h0m-3 25h0m-4 0h0m1 1h0m1 1h0m-9 3h0m14 1h0m-13 4h0m9 3h0m3 2h0m-8 1h0m3 4h0m5 0h0m-7 0h0m-4 1h0m0 3h0m11 6h0m-9 1h0m1 1h0m-4 2h0m11 0h0m0 0h0m0 1h0m-5 0h0m-5 1h0m11 0h0m-10 0h0m1 0h0m-1 1h0m8 1h0m4 1h0m-8 2h0m2 0h0m-7 2h0m-3 0h0m10 1h0m6 3h0m-12 1h0m3 0h0m8 3h0m-12 0h0m6 4h0m-1 1h0m-4 1h0m5 4h0m7 0h0m-7 1h0m-8 0h0m-1 0h0m3 1h0m9 0h0m3 0h0m-10 0h0m9 1h0m-3 1h0m-6 1h0m2 0h0m1 1h0m-3 0h0m8 1h0m-12 1h0m2 1h0m2 1h0m2 0h0m0 2h0m-7 0h0m11 1h0m-9 0h0m4 2h0m2 1h0m-1 1h0m3 0h0m2 8h0m3 2h0m-1 3h0m-1 4h0m-10 3h0m-1 5h0m7 3h0m8-105h0m4 0h0m-2 0h0m5 0h0m5 3h0m-5 5h0m1 5h0m3 4h0m-2 0h0m5 0h0m-10 1h0m2 2h0m7 3h0m-3 0h0m1 0h0m-4 1h0m-5 3h0m-1 2h0m-2 1h0m11 2h0m-7 2h0m-1 0h0m-2 0h0m13 1h0m-11 1h0m-2 1h0m13 0h0m2 0h0m-2 0h0m-6 1h0m-4 0h0m5 0h0m0 3h0m-5 1h0m1 1h0m5 0h0m-9 4h0m15 1h0m-5 3h0m-6 1h0m9 2h0m-6 2h0m1 0h0m-1 1h0m2 1h0m-3 1h0m6 2h0m-5 1h0m5 0h0m3 0h0m-2 1h0m-4 2h0m-8 0h0m9 0h0m-2 0h0m-9 1h0m5 0h0m6 1h0m3 0h0m-8 0h0m-1 0h0m-2 1h0m10 1h0m-6 1h0m-7 0h0m9 0h0m-9 3h0m3 1h0m11 4h0m-10 4h0m1 0h0m9 3h0m-4 4h0m0 1h0m3 0h0m-11 2h0m7 3h0m14-94h0m4 1h0m-8 1h0m12 0h0m-10 2h0m-3 0h0m10 0h0m-4 1h0m-5 6h0m10 1h0m-1 3h0m-8 1h0m9 1h0m3 1h0m-9 1h0m1 1h0m0 5h0m3 4h0m-10 2h0m8 4h0m-2 1h0m-7 0h0m1 0h0m2 1h0m3 0h0m8 0h0m2 2h0m-14 1h0m12 2h0m-3 0h0m-7 1h0m0 0h0m1 3h0m5 3h0m-6 3h0m7 1h0m2 2h0m-3 0h0m-5 1h0m9 0h0m-9 2h0m9 0h0m0 1h0m-7 0h0m-6 2h0m7 3h0m6 0h0m-14 0h0m13 1h0m-6 1h0m8 4h0m-12 2h0m10 0h0m-11 1h0m12 2h0m-10 1h0m11 1h0m-7 2h0m-8 1h0m12 2h0m-2 1h0m-10 2h0m4 1h0m-1 1h0m4 1h0m4 5h0m-7 1h0m-1 3h0m3 1h0m6 2h0m1 0h0m-6 0h0m1 1h0m0 1h0m3 3h0m1 0h0m15-103h0m2 0h0m-4 3h0m-3 8h0m-5 0h0m14 1h0m-12 0h0m11 1h0m-9 1h0m4 1h0m4 4h0m-12 1h0m13 2h0m-4 4h0m-8 1h0m1 0h0m9 2h0m-5 1h0m-6 0h0m10 0h0m-6 1h0m2 1h0m3 0h0m-5 0h0m1 1h0m2 1h0m3 2h0m-1 1h0m-1 1h0m-5 1h0m10 0h0m0 0h0m2 0h0m-8 3h0m-8 1h0m4 2h0m-1 2h0m9 2h0m0 1h0m1 0h0m-1 0h0m-7 3h0m2 1h0m-4 1h0m-2 1h0m11 2h0m-5 0h0m7 0h0m-11 2h0m0 0h0m5 1h0m5 0h0m-8 1h0m-4 0h0m6 0h0m3 2h0m-2 0h0m-3 1h0m-3 3h0m6 2h0m4 2h0m-6 1h0m8 1h0m-5 1h0m1 3h0m-8 4h0m10 3h0m2 2h0m-9 0h0m3 1h0m6 6h0m-2 1h0m-6 0h0m-6 3h0m3 1h0m0 0h0m9 3h0m6-100h0m2 0h0m-3 0h0m12 6h0m-6 2h0m8 0h0m-5 6h0m2 4h0m-2 1h0m4 1h0m0 3h0m-9 0h0m2 1h0m0 0h0m-2 2h0m-1 1h0m9 0h0m0 1h0m-1 0h0m-10 1h0m8 0h0m2 1h0m-8 1h0m8 1h0m-10 0h0m9 0h0m-3 1h0m-2 1h0m-2 1h0m12 1h0m-14 1h0m-1 2h0m-1 0h0m16 1h0m-11 1h0m10 2h0m-9 0h0m3 1h0m-5 2h0m-4 2h0m7 1h0m-1 1h0m5 1h0m-8 0h0m2 4h0m3 1h0m4 2h0m-2 0h0m-2 0h0m-2 2h0m2 0h0m3 1h0m3 1h0m-1 1h0m0 0h0m-4 1h0m-3 1h0m7 1h0m2 5h0m-4 0h0m4 0h0m-15 4h0m4 0h0m1 5h0m8 0h0m-6 4h0m-7 2h0m12 1h0m2 1h0m-6 4h0m-2 0h0m-5 0h0m11 0h0m-4 3h0m7 4h0m-12 1h0m0 0h0m23-101h0m-8 0h0m5 1h0m3 4h0m5 1h0m-2 0h0m-1 2h0m-7 3h0m-1 2h0m-2 3h0m12 1h0m-11 0h0m4 1h0m-5 0h0m8 0h0m-2 0h0m-2 6h0m7 2h0m1 2h0m-8 1h0m-1 1h0m-4 0h0m9 1h0m2 0h0m1 1h0m-11 0h0m4 0h0m5 3h0m-9 1h0m7 1h0m0 0h0m-1 1h0m2 1h0m1 0h0m-5 1h0m4 1h0m-7 4h0m8 2h0m3 0h0m-6 0h0m8 3h0m-11 1h0m-3 0h0m13 1h0m-14 1h0m4 1h0m-2 2h0m3 0h0m3 2h0m3 0h0m0 0h0m3 1h0m-3 0h0m4 0h0m-8 3h0m5 1h0m-12 1h0m7 4h0m7 0h0m-2 0h0m1 1h0m-6 3h0m-3 1h0m-3 2h0m1 3h0m-1 2h0m11 3h0m-12 1h0m5 0h0m6 1h0m-6 2h0m-4 1h0m-2 1h0m11 1h0m-4 1h0m1 5h0m-4 2h0m7 0h0m-6 0h0m10 1h0m7-98h0m-3 1h0m-1 3h0m2 0h0m4 3h0m-6 0h0m5 1h0m4 4h0m4 2h0m-5 0h0m-2 1h0m7 0h0m-3 1h0m1 2h0m-7 1h0m6 3h0m-11 1h0m14 2h0m-9 1h0m6 2h0m2 1h0m-10 0h0m6 1h0m4 0h0m-6 0h0m-7 1h0m5 0h0m-6 0h0m7 1h0m1 0h0m-1 0h0m-4 1h0m13 3h0m-11 1h0m6 2h0m-4 2h0m4 0h0m-10 1h0m8 4h0m6 2h0m-13 5h0m10 0h0m-11 2h0m3 0h0m9 0h0m2 1h0m0 0h0m-10 1h0m5 0h0m-9 1h0m10 0h0m4 0h0m-11 3h0m8 1h0m-3 0h0m3 1h0m2 0h0m-4 0h0m1 1h0m-7 0h0m10 2h0m-10 4h0m5 0h0m-5 7h0m4 1h0m0 1h0m-6 1h0m5 0h0m-4 5h0m-1 1h0m3 4h0m5 1h0m-4 0h0m1 1h0m-4 2h0m12 0h0m-4 4h0m7-101h0m4 3h0m7 7h0m-12 0h0m12 6h0m3 0h0m-14 1h0m8 5h0m-5 1h0m5 1h0m-7 2h0m4 0h0m9 0h0m-7 0h0m3 2h0m-11 1h0m6 1h0m-1 0h0m5 2h0m3 0h0m-12 0h0m-1 1h0m15 0h0m-1 1h0m-10 0h0m7 0h0m2 3h0m-12 1h0m2 1h0m3 0h0m0 0h0m-6 2h0m0 1h0m2 0h0m7 4h0m-7 1h0m4 1h0m5 0h0m-2 9h0m-4 0h0m-4 0h0m4 1h0m8 1h0m1 1h0m-7 0h0m-7 1h0m5 0h0m7 1h0m-2 0h0m1 1h0m-1 0h0m1 1h0m-2 0h0m-2 1h0m3 0h0m-6 0h0m0 6h0m6 3h0m-3 1h0m-2 1h0m9 0h0m1 1h0m-4 0h0m-12 2h0m13 1h0m1 1h0m-7 0h0m3 1h0m-7 4h0m4 1h0m-7 1h0m2 0h0m-2 2h0m3 1h0m2 1h0m4 3h0m2 3h0m0 0h0m7-98h0m2 1h0m3 0h0m-2 2h0m11 0h0m-9 2h0m4 3h0m3 1h0m-10 0h0m8 1h0m-4 1h0m6 2h0m-7 4h0m3 2h0m1 0h0m-7 0h0m8 3h0m-11 4h0m1 2h0m6 2h0m6 1h0m-12 1h0m6 0h0m-5 0h0m3 0h0m3 1h0m-1 3h0m5 0h0m-3 3h0m1 0h0m-9 3h0m13 0h0m-10 0h0m-3 3h0m4 5h0m-5 1h0m1 1h0m13 1h0m-5 0h0m-3 1h0m-7 2h0m5 2h0m4 0h0m-8 0h0m3 2h0m5 0h0m-2 0h0m0 1h0m5 0h0m4 2h0m-7 2h0m3 0h0m-4 1h0m-4 2h0m6 1h0m2 1h0m0 0h0m-10 3h0m1 0h0m2 2h0m3 5h0m7 2h0m-14 1h0m12 3h0m2 2h0m-1 1h0m-8 2h0m8 2h0m-9 1h0m-1 0h0m4 2h0m-6 1h0m-2 1h0m14 1h0m-10 4h0m7 0h0m-1 0h0m14-100h0m2 1h0m4 2h0m2 1h0m-12 1h0m9 4h0m0 3h0m-10 3h0m7 0h0m-9 1h0m5 1h0m-5 0h0m14 1h0m-5 1h0m-3 0h0m4 1h0m-6 0h0m-2 8h0m4 1h0m0 2h0m-4 0h0m10 0h0m-6 0h0m6 0h0m-12 1h0m3 1h0m-1 0h0m7 0h0m-6 2h0m-4 0h0m12 2h0m-3 1h0m-4 0h0m-4 1h0m10 1h0m-11 1h0m9 1h0m0 2h0m2 3h0m1 0h0m4 0h0m-5 4h0m5 0h0m-10 0h0m2 1h0m2 3h0m5 0h0m-10 1h0m8 1h0m1 0h0m-5 0h0m-8 1h0m9 1h0m-4 1h0m4 1h0m-1 0h0m-8 0h0m4 1h0m6 3h0m-9 1h0m13 0h0m-2 0h0m-13 1h0m11 2h0m4 1h0m-13 0h0m1 1h0m-3 0h0m7 2h0m3 2h0m6 0h0m-11 3h0m-2 7h0m10 0h0m2 1h0m-3 1h0m-8 1h0m3 1h0m6 6h0m-9 2h0m4 2h0m17-101h0m5 0h0m-3 2h0m-9 9h0m4 4h0m-3 1h0m10 0h0m0 1h0m-6 4h0m3 0h0m-2 0h0m6 1h0m-8 3h0m6 3h0m-11 1h0m2 2h0m-3 0h0m7 1h0m7 1h0m-4 0h0m4 1h0m-6 0h0m1 1h0m2 0h0m-1 1h0m3 1h0m-8 2h0m-5 0h0m11 1h0m2 0h0m-11 4h0m12 0h0m-8 3h0m4 0h0m-2 3h0m0 1h0m1 2h0m-9 3h0m6 1h0m7 0h0m-9 1h0m11 2h0m-13 0h0m12 0h0m-6 1h0m-7 0h0m9 1h0m-6 0h0m-2 0h0m0 0h0m8 1h0m0 0h0m-8 0h0m8 3h0m-7 1h0m-2 1h0m7 1h0m2 2h0m-5 1h0m11 2h0m-5 0h0m2 1h0m-10 3h0m-3 2h0m8 2h0m6 1h0m-8 8h0m7 1h0m-10 2h0m7 0h0m2 0h0m-8 2h0m1 0h0m8 3h0m-8 0h0m10 0h0m-1 2h0m-10 14h0m5 2h0m-6 3h0m10 10h0m2 1h0m-5 3h0m17-133h0m2 5h0m-4 2h0m3 1h0m4 2h0m-11 1h0m1 1h0m3 2h0m-4 0h0m4 1h0m-3 1h0m-5 6h0m10 0h0m-10 3h0m11 1h0m-9 0h0m1 0h0m11 2h0m-2 1h0m-3 1h0m-3 1h0m-3 0h0m0 1h0m-1 0h0m12 0h0m-9 0h0m1 1h0m-2 0h0m-2 0h0m12 1h0m-6 0h0m-7 3h0m-2 0h0m11 2h0m-8 0h0m6 2h0m3 0h0m-7 3h0m6 1h0m-10 1h0m6 4h0m3 0h0m6 0h0m-3 2h0m-12 4h0m13 0h0m0 1h0m1 0h0m-6 1h0m-2 1h0m1 0h0m2 0h0m-7 2h0m10 0h0m-9 0h0m0 3h0m0 2h0m5 0h0m4 5h0m-3 2h0m4 0h0m-1 2h0m-5 1h0m-5 4h0m12 0h0m-2 1h0m-4 1h0m-4 2h0m0 5h0m-1 1h0m-3 1h0m2 0h0m8 1h0m0 0h0m2 0h0m2 3h0m-13 1h0m6 0h0m0 0h0m0 1h0m-5 0h0m6 3h0m-3 0h0m12-101h0m2 2h0m-1 1h0m7 2h0m-4 1h0m0 1h0m8 0h0m0 2h0m-1 1h0m-9 3h0m-1 0h0m-1 8h0m8 2h0m3 1h0m-12 0h0m8 1h0m-3 1h0m10 2h0m-8 2h0m3 0h0m5 2h0m-5 1h0m-6 0h0m3 0h0m-8 0h0m9 2h0m-1 0h0m-4 0h0m12 2h0m-4 2h0m-10 2h0m11 1h0m-7 3h0m9 1h0m-4 1h0m3 1h0m-13 1h0m8 0h0m-9 1h0m15 1h0m-2 0h0m-2 1h0m-8 2h0m5 4h0m0 1h0m8 0h0m-9 1h0m6 1h0m-12 1h0m10 2h0m-5 0h0m0 0h0m-3 0h0m5 3h0m2 1h0m-3 2h0m-5 1h0m9 0h0m-2 1h0m-8 1h0m12 5h0m-1 1h0m-7 0h0m4 1h0m-1 1h0m-3 4h0m10 1h0m0 1h0m-8 0h0m-3 2h0m3 1h0m-3 0h0m-2 0h0m0 2h0m9 0h0m2 4h0m-12 1h0m0 1h0m15-99h0m10 1h0m-4 0h0m-2 6h0m9 2h0m-11 1h0m-2 0h0m12 2h0m-9 1h0m3 1h0m10 4h0m-9 1h0m3 1h0m0 0h0m4 1h0m-9 2h0m7 1h0m2 0h0m-9 1h0m4 1h0m-8 4h0m2 2h0m12 1h0m-7 0h0m7 1h0m-6 1h0m-3 1h0m4 4h0m-9 0h0m4 1h0m11 1h0m-14 1h0m-2 0h0m11 2h0m3 1h0m-12 1h0m-2 1h0m5 0h0m10 6h0m-9 1h0m7 3h0m-9 0h0m11 3h0m-9 1h0m4 0h0m-8 0h0m-1 0h0m9 1h0m-3 0h0m7 1h0m-8 1h0m-1 1h0m8 0h0m-7 1h0m0 1h0m10 0h0m0 0h0m-14 1h0m5 2h0m3 0h0m3 7h0m-8 2h0m3 4h0m7 0h0m-14 2h0m11 1h0m-11 2h0m13 1h0m-6 2h0m2 0h0m-2 2h0m-4 3h0m11 2h0m-3 0h0m-1 2h0m-8 0h0m9 1h0m6-149h0m7 35h0m6 6h0m-13 4h0m10 3h0m-11 23h0m-1 7h0m12 4h0m-12 0h0m3 2h0m4 1h0m-6 0h0m11 1h0m-5 1h0m7 0h0m-11 1h0m11 0h0m-5 1h0m-1 3h0m6 1h0m-9 0h0m8 3h0m-13 3h0m15 2h0m-3 0h0m0 1h0m-2 0h0m-2 0h0m-5 1h0m5 2h0m-3 0h0m1 0h0m-3 3h0m7 0h0m-5 0h0m8 0h0m1 1h0m-5 0h0m6 1h0m-4 6h0m-11 11h0m0 8h0m1 1h0m10 5h0m-4 0h0m3 2h0m-6 4h0m12 1h0m3-148h0m2 8h0m8 8h0m-6 16h0m-7 5h0m9 8h0m7 10h0m-15 24h0m12 2h0m-5 2h0m5 1h0m-8 1h0m-3 1h0m12 3h0m-6 1h0m-7 1h0m7 0h0m3 1h0m-6 1h0m-3 1h0m6 1h0m-7 1h0m7 0h0m-3 1h0m11 3h0m-9 1h0m3 0h0m5 2h0m-4 0h0m3 0h0m-4 3h0m0 2h0m-6 0h0m0 1h0m4 1h0m7 0h0m-11 0h0m4 1h0m8 1h0m-15 1h0m-1 1h0m5 8h0m7 1h0m-8 1h0m9 5h0m-10 8h0m5 1h0m14-124h0m-3 7h0m-2 13h0m5 2h0m6 14h0m1 3h0m2 8h0m-6 16h0m0 2h0m3 2h0m2 0h0m-4 2h0m5 0h0m-10 0h0m7 2h0m-11 2h0m0 1h0m13 1h0m-9 4h0m7 0h0m-6 1h0m8 1h0m-7 3h0m-3 1h0m8 0h0m-2 1h0m1 0h0m-7 1h0m2 0h0m3 2h0m7 0h0m-12 3h0m7 1h0m-5 0h0m4 1h0m-7 1h0m-1 0h0m-2 1h0m2 1h0m3 4h0m9 2h0m-10 8h0m-3 2h0m13 7h0m-3 8h0m3 0h0m-10 4h0m3 1h0m19-110h0m-6 5h0m-3 4h0m8 8h0m2 6h0m3 4h0m-10 4h0m3 5h0m6 3h0m-10 1h0m13 0h0m-9 2h0m-5 0h0m10 2h0m-10 0h0m10 1h0m-3 1h0m7 2h0m-10 1h0m2 2h0m-7 1h0m10 2h0m-9 0h0m0 5h0m11 0h0m-3 1h0m1 1h0m-5 1h0m4 4h0m-5 2h0m6 2h0m2 0h0m2 1h0m-13 0h0m6 1h0m-4 0h0m-1 0h0m10 1h0m-8 0h0m2 2h0m5 1h0m-10 0h0m5 0h0m-4 9h0m4 9h0m-2 9h0m11 0h0m-4 2h0m-3 2h0m-5 11h0m-3 0h0m28-113h0m-13 4h0m7 4h0m7 14h0m-3 1h0m-7 5h0m10 9h0m-12 0h0m12 0h0m-5 1h0m-5 3h0m4 0h0m-4 2h0m1 0h0m-3 1h0m0 0h0m13 0h0m-13 1h0m2 1h0m7 1h0m-3 1h0m3 1h0m-1 1h0m-9 2h0m9 2h0m2 0h0m-9 0h0m-2 2h0m11 1h0m-3 1h0m-4 0h0m10 0h0m-6 5h0m4 1h0m-1 0h0m1 1h0m-6 0h0m1 0h0m6 4h0m-11 1h0m1 1h0m6 2h0m-10 5h0m9 10h0m7 1h0m-12 7h0m3 11h0m2 5h0m8-117h0m3 0h0m11 8h0m-10 0h0m7 1h0m-2 6h0m-1 11h0m-1 1h0m-7 0h0m14 14h0m-12 2h0m7 0h0m-5 3h0m7 1h0m-5 2h0m3 1h0m-1 1h0m3 1h0m-6 1h0m-3 0h0m-1 1h0m5 0h0m6 1h0m1 2h0m-7 1h0m7 0h0m-12 3h0m10 0h0m-2 1h0m4 1h0m-9 3h0m9 3h0m-6 1h0m1 1h0m4 1h0m-11 0h0m13 0h0m-14 0h0m15 2h0m-10 0h0m-3 4h0m4 2h0m8 0h0m-9 2h0m-5 3h0m9 7h0m0 1h0m-4 2h0m5 3h0m-11 10h0m21-100h0m-2 14h0m8 0h0m-2 1h0m0 2h0m-7 3h0m2 3h0m3 1h0m-2 0h0m1 1h0m3 0h0m5 6h0m-4 1h0m2 1h0m0 0h0m-10 1h0m11 2h0m-2 1h0m-1 0h0m5 1h0m-4 0h0m4 3h0m-1 1h0m-6 3h0m-1 3h0m-7 2h0m2 0h0m4 1h0m-3 2h0m2 1h0m1 1h0m2 1h0m5 2h0m-7 0h0m-2 0h0m10 1h0m-14 1h0m12 1h0m0 0h0m-10 0h0m12 0h0m-13 1h0m7 3h0m7 1h0m-3 0h0m-3 2h0m2 0h0m-2 0h0m-8 10h0m15 1h0m-12 0h0m8 1h0m-6 1h0m-1 9h0m0 2h0m10 2h0m-8 1h0m6 1h0m3-89h0m1 8h0m3 0h0m11 1h0m-11 6h0m1 1h0m-3 1h0m10 1h0m-2 0h0m-2 2h0m-5 1h0m6 7h0m3 1h0m-2 0h0m-9 0h0m9 1h0m3 1h0m-3 1h0m-1 1h0m-8 1h0m3 0h0m-2 4h0m11 0h0m3 1h0m-16 0h0m7 1h0m-6 1h0m12 2h0m-12 4h0m14 0h0m-9 1h0m1 3h0m-1 2h0m4 1h0m-7 0h0m11 1h0m-4 1h0m4 1h0m-6 0h0m6 1h0m-11 0h0m-2 1h0m10 0h0m-4 1h0m-6 0h0m5 3h0m-1 1h0m5 3h0m-7 2h0m3 2h0m9 6h0m-3 5h0m-5 1h0m3 3h0m19-78h0m-6 3h0m-6 3h0m4 3h0m5 0h0m-1 2h0m-6 5h0m12 3h0m0 1h0m-5 1h0m-7 0h0m-2 1h0m12 2h0m-2 1h0m-10 1h0m4 1h0m-3 2h0m7 1h0m-1 4h0m0 3h0m1 2h0m4 0h0m-10 2h0m8 0h0m-4 1h0m7 1h0m-8 0h0m-3 1h0m1 0h0m0 0h0m6 0h0m-1 2h0m-1 0h0m8 1h0m-5 0h0m-10 1h0m0 1h0m7 1h0m6 1h0m-2 0h0m4 0h0m-11 1h0m-1 10h0m9 2h0m-1 2h0m-5 6h0m-4 3h0m12 7h0m-3 2h0m15-86h0m-5 3h0m-3 6h0m11 3h0m-10 1h0m9 3h0m-12 2h0m6 2h0m-4 0h0m8 0h0m5 1h0m-8 1h0m-4 1h0m9 3h0m-8 1h0m4 0h0m4 0h0m-5 3h0m-5 2h0m-1 2h0m6 0h0m-6 3h0m9 0h0m4 1h0m-11 3h0m8 0h0m-6 0h0m5 1h0m-3 1h0m7 3h0m-11 0h0m-4 1h0m16 1h0m-8 0h0m-7 1h0m4 1h0m1 3h0m-4 4h0m1 3h0m2 2h0m5 3h0m-8 2h0m7 2h0m3 4h0m-6 1h0m4 1h0m-2 5h0m-6 1h0m14 1h0m-4 1h0m10-82h0m8 5h0m1 1h0m-11 0h0m-3 7h0m8 1h0m2 3h0m5 3h0m-6 0h0m-2 0h0m-5 1h0m10 1h0m-7 2h0m-2 0h0m-3 2h0m3 1h0m10 1h0m-12 0h0m12 0h0m-13 2h0m13 0h0m-11 1h0m6 2h0m-6 0h0m7 0h0m2 3h0m-2 0h0m-2 1h0m-3 2h0m2 1h0m4 0h0m-3 2h0m-6 0h0m13 4h0m-3 1h0m-6 1h0m1 1h0m7 1h0m-10 0h0m0 1h0m10 1h0m-7 2h0m4 7h0m-3 4h0m-3 2h0m-5 0h0m4 9h0m2 4h0m8 0h0m-13 0h0m13 2h0m4-82h0m9 1h0m-2 4h0m4 1h0m-4 2h0m-4 0h0m0 7h0m1 3h0m0 0h0m-4 2h0m12 1h0m-5 0h0m5 1h0m-6 0h0m-8 0h0m15 1h0m-14 0h0m1 1h0m4 1h0m-2 1h0m8 1h0m-3 2h0m7 3h0m-1 1h0m-10 1h0m0 4h0m-1 0h0m8 3h0m-9 0h0m11 1h0m-8 0h0m-2 3h0m2 3h0m4 0h0m4 1h0m-2 0h0m4 1h0m-4 0h0m1 3h0m-11 2h0m12 1h0m-6 7h0m3 4h0m-3 5h0m-2 1h0m9 2h0m-9 1h0m-5 5h0m26-82h0m2 0h0m-5 4h0m7 2h0m-9 1h0m-4 2h0m0 5h0m8 4h0m-7 2h0m0 1h0m6 0h0m4 0h0m-12 0h0m1 1h0m9 1h0m-4 0h0m-7 0h0m8 0h0m-2 1h0m3 2h0m-6 5h0m-2 0h0m5 1h0m7 4h0m-5 1h0m8 3h0m-4 1h0m-8 3h0m-2 3h0m10 2h0m1 0h0m-9 1h0m7 0h0m-3 1h0m4 1h0m0 0h0m3 0h0m1 2h0m-13 3h0m10 7h0m-4 4h0m-9 0h0m10 7h0m6 6h0m-15 1h0m5 0h0m1 2h0m11-81h0m-1 6h0m10 14h0m3 0h0m-1 0h0m-6 2h0m0 1h0m-2 0h0m-4 1h0m8 2h0m0 0h0m1 2h0m-3 0h0m-4 1h0m12 1h0m-9 0h0m9 1h0m-13 0h0m12 1h0m-4 0h0m-9 1h0m9 2h0m-5 0h0m8 0h0m-1 1h0m-8 4h0m3 2h0m2 0h0m-8 2h0m1 2h0m14 1h0m-13 23h0m-2 3h0m2 8h0m14-105h0m1 1h0m1 3h0m6 5h0m-4 0h0m7 2h0m-7 0h0m4 0h0m5 0h0m-2 4h0m-12 3h0m16 8h0m-8 8h0m6 3h0m-6 4h0m7 0h0m-6 1h0m-9 0h0m12 0h0m-8 1h0m2 1h0m-3 2h0m13 5h0m-13 1h0m-2 2h0m10 1h0m-1 0h0m4 1h0m2 2h0m-10 1h0m2 1h0m-4 4h0m4 0h0m-2 1h0m6 0h0m-1 1h0m4 1h0m-12 1h0m-2 2h0m11 0h0m-3 1h0m2 0h0m-4 1h0m7 0h0m-10 0h0m7 1h0m-4 2h0m5 2h0m-11 6h0m6 2h0m-1 0h0m-5 1h0m14 3h0m5-89h0m-3 2h0m11 8h0m4 0h0m-10 0h0m6 3h0m-11 9h0m3 4h0m6 3h0m0 1h0m2 3h0m-5 3h0m-3 1h0m10 2h0m-3 2h0m4 0h0m-6 0h0m-3 1h0m-5 1h0m6 3h0m2 1h0m-5 0h0m1 1h0m10 0h0m-10 6h0m-3 2h0m10 0h0m-9 1h0m11 0h0m-9 0h0m-5 1h0m11 0h0m3 1h0m1 0h0m-4 3h0m-4 1h0m-3 4h0m5 1h0m-2 2h0m5 1h0m-2 0h0m-9 1h0m6 2h0m5 0h0m-4 0h0m-6 1h0m2 0h0m9 1h0m-13 2h0m5 1h0m11 6h0m-9 1h0m-7 1h0m8 3h0m-4 1h0m10 2h0m1 0h0m-11 7h0m23-102h0m-5 5h0m-4 2h0m2 2h0m9 9h0m-10 3h0m11 0h0m-7 7h0m-6 1h0m9 4h0m-7 1h0m6 5h0m1 2h0m-2 1h0m5 1h0m-13 1h0m8 0h0m7 1h0m-9 1h0m-1 1h0m2 2h0m1 1h0m-3 1h0m-1 0h0m8 0h0m1 3h0m-1 1h0m-1 0h0m4 2h0m-13 0h0m11 4h0m2 0h0m-7 1h0m7 2h0m-10 3h0m3 2h0m-6 1h0m0 0h0m10 1h0m-8 0h0m-1 2h0m3 0h0m6 2h0m-11 1h0m3 1h0m11 1h0m-5 0h0m5 7h0m-15 3h0m10 2h0m4 5h0m-3 2h0m-1 1h0m5 1h0m-8 2h0m16-101h0m6 10h0m0 1h0m-8 1h0m-1 5h0m6 4h0m5 3h0m0 4h0m-5 1h0m-9 1h0m-1 3h0m4 3h0m4 2h0m1 4h0m3 1h0m-6 0h0m-2 0h0m10 1h0m-4 0h0m0 1h0m-1 0h0m5 1h0m-7 1h0m-3 1h0m0 0h0m8 0h0m-11 2h0m7 0h0m-6 0h0m4 1h0m0 2h0m-3 7h0m12 0h0m-3 3h0m-10 2h0m-1 0h0m6 0h0m-2 1h0m10 1h0m-4 5h0m-7 1h0m8 2h0m-11 0h0m10 1h0m-10 0h0m-1 0h0m12 1h0m0 1h0m3 10h0m-13 1h0m4 1h0m4 1h0m6 10h0m13-98h0m-8 10h0m5 3h0m-3 1h0m4 6h0m-9 1h0m2 5h0m1 0h0m9 1h0m-4 2h0m-8 1h0m6 2h0m4 2h0m0 5h0m4 1h0m-6 1h0m4 1h0m-12 1h0m8 5h0m0 2h0m-9 0h0m7 1h0m-1 1h0m2 0h0m-6 1h0m12 0h0m-7 6h0m-4 6h0m5 1h0m2 0h0m3 0h0m1 1h0m-12 0h0m12 0h0m-9 1h0m5 0h0m-3 3h0m0 1h0m-5 0h0m3 1h0m9 0h0m1 0h0m-15 0h0m3 1h0m9 1h0m-9 0h0m-3 1h0m5 2h0m5 1h0m-8 2h0m1 14h0m10 2h0m0 1h0m4-100h0m4 15h0m-2 4h0m-1 7h0m-1 8h0m3 1h0m4 2h0m3 1h0m-6 2h0m8 3h0m-7 0h0m-7 0h0m9 0h0m-2 0h0m9 3h0m-10 1h0m-5 0h0m4 0h0m-2 1h0m9 1h0m-4 4h0m2 0h0m0 0h0m-8 2h0m8 0h0m5 2h0m-8 0h0m-2 0h0m8 1h0m-12 0h0m13 1h0m-11 0h0m4 3h0m-4 2h0m-3 0h0m9 0h0m3 1h0m2 0h0m-4 1h0m3 1h0m-4 1h0m1 0h0m0 1h0m2 1h0m-7 1h0m5 0h0m-7 0h0m7 1h0m4 1h0m0 1h0m-9 0h0m7 1h0m-12 1h0m6 14h0m16-69h0m-3 5h0m6 4h0m-7 2h0m14 1h0m-7 4h0m-2 2h0m8 2h0m-8 1h0m-3 0h0m4 0h0m6 2h0m1 1h0m-12 0h0m4 2h0m5 1h0m-6 1h0m5 0h0m-6 0h0m-5 0h0m2 1h0m11 1h0m-9 0h0m11 1h0m-1 1h0m-12 3h0m1 2h0m7 1h0m-3 2h0m5 1h0m-7 4h0m9 0h0m-13 1h0m12 1h0m-5 0h0m1 2h0m-3 2h0m7 0h0m3 1h0m-5 0h0m-5 1h0m-1 0h0m4 1h0m-6 0h0m-1 0h0m8 1h0m-8 0h0m4 1h0m-3 1h0m9 1h0m-10 2h0m14 1h0m-4 1h0m-5 3h0m1 7h0m3 2h0m6-77h0m2 1h0m2 4h0m3 0h0m-5 4h0m-2 8h0m8 4h0m5 3h0m-6 1h0m-3 0h0m2 1h0m7 0h0m-11 0h0m9 1h0m-10 0h0m11 1h0m-3 1h0m-9 1h0m11 1h0m-2 0h0m1 2h0m4 1h0m0 2h0m-9 1h0m5 1h0m-8 1h0m13 2h0m-6 0h0m1 1h0m-9 0h0m8 3h0m-8 0h0m4 3h0m-4 1h0m13 1h0m-13 0h0m-2 1h0m12 0h0m-3 2h0m3 1h0m-6 1h0m4 1h0m5 1h0m-9 0h0m7 1h0m-5 1h0m-3 7h0m2 1h0m6 3h0m-2 1h0m5 4h0m-13 2h0m6 0h0m-6 1h0m-2 2h0m14 1h0m-8 10h0m17-97h0m-3 3h0m-3 5h0m5 0h0m4 4h0m3 0h0m-9 5h0m6 2h0m5 6h0m-4 2h0m-5 2h0m-4 0h0m8 0h0m-1 1h0m4 0h0m-6 2h0m-8 0h0m3 0h0m-1 1h0m12 2h0m-12 2h0m7 0h0m-5 4h0m1 3h0m3 0h0m-3 1h0m-5 0h0m6 2h0m-4 0h0m13 2h0m-2 0h0m-6 0h0m-5 2h0m2 1h0m6 1h0m6 0h0m-16 2h0m4 1h0m4 0h0m2 1h0m3 1h0m-3 0h0m5 0h0m-14 2h0m5 1h0m2 0h0m-4 0h0m6 0h0m-1 1h0m7 0h0m-9 2h0m6 1h0m2 0h0m-3 1h0m0 5h0m-10 1h0m14 6h0m-2 1h0m1 3h0m-8 0h0m-3 1h0m2 2h0m2 5h0m-4 3h0m7 8h0m18-104h0m-5 4h0m-4 1h0m-3 3h0m1 4h0m10 2h0m-4 5h0m7 1h0m0 1h0m-8 2h0m-3 0h0m4 4h0m6 6h0m-9 0h0m-3 1h0m8 0h0m-6 1h0m9 1h0m-12 0h0m14 1h0m-13 0h0m9 1h0m-11 1h0m1 1h0m2 4h0m0 1h0m8 1h0m-2 6h0m5 1h0m-8 0h0m5 1h0m-3 0h0m-7 1h0m6 1h0m2 0h0m1 1h0m2 2h0m2 1h0m1 1h0m-7 0h0m0 0h0m-4 1h0m0 0h0m1 0h0m-1 0h0m4 2h0m-8 0h0m4 0h0m6 0h0m2 1h0m2 0h0m-6 1h0m-6 1h0m10 0h0m0 2h0m-2 5h0m-8 1h0m3 1h0m-1 1h0m3 1h0m5 2h0m-3 2h0m-2 0h0m6 2h0m-9 3h0m10 2h0m2 4h0m1-93h0m10 1h0m-8 3h0m4 0h0m-2 3h0m-5 1h0m9 14h0m5 2h0m1 1h0m-9 2h0m-1 5h0m-1 1h0m0 0h0m10 2h0m-5 0h0m6 0h0m-2 1h0m-2 0h0m-4 2h0m2 0h0m-3 2h0m-3 0h0m-1 0h0m-2 1h0m7 0h0m-3 1h0m9 1h0m-8 0h0m-2 2h0m11 0h0m-4 4h0m0 0h0m-9 1h0m4 1h0m2 0h0m5 1h0m-2 1h0m6 2h0m-14 1h0m3 1h0m5 0h0m4 1h0m-4 0h0m3 1h0m-13 1h0m4 0h0m5 2h0m4 2h0m-2 1h0m-5 1h0m9 0h0m-6 1h0m7 1h0m-13 0h0m12 2h0m-11 5h0m12 3h0m-9 1h0m6 3h0m-4 0h0m2 7h0m-8 6h0m-2 2h0m23-104h0m-1 0h0m6 2h0m-9 6h0m12 3h0m-16 16h0m14 1h0m-11 1h0m6 4h0m-2 5h0m5 0h0m3 0h0m-9 1h0m3 1h0m-8 1h0m10 2h0m-9 0h0m2 0h0m4 1h0m-2 2h0m-1 0h0m11 1h0m-6 2h0m1 2h0m-5 1h0m3 1h0m5 0h0m-12 1h0m13 3h0m-12 0h0m1 1h0m1 1h0m-3 2h0m9 0h0m-6 1h0m2 0h0m-7 0h0m13 1h0m1 1h0m-13 0h0m14 1h0m0 0h0m-12 1h0m5 0h0m-7 1h0m11 0h0m1 1h0m0 2h0m-4 1h0m3 1h0m-7 0h0m-3 1h0m-1 1h0m12 0h0m-12 0h0m10 1h0m-1 1h0m9-79h0m4 1h0m5 0h0m0 3h0m3 1h0m-14 2h0m0 4h0m13 3h0m-9 4h0m-1 5h0m6 0h0m-5 2h0m3 1h0m-1 5h0m7 4h0m-9 8h0m1 1h0m7 1h0m-2 0h0m4 1h0m0 1h0m-6 2h0m-8 4h0m1 1h0m12 0h0m-10 1h0m11 0h0m-12 1h0m10 0h0m-2 0h0m-5 0h0m8 1h0m-9 1h0m1 2h0m4 1h0m6 4h0m-7 2h0m-6 0h0m8 0h0m-8 1h0m4 1h0m-6 0h0m5 1h0m1 1h0m-5 1h0m14 0h0m-6 0h0m0 1h0m0 1h0m1 0h0m-10 0h0m10 1h0m5 0h0m-15 1h0m3 1h0m9 3h0m2 0h0m12-100h0m-1 4h0m2 2h0m-7 3h0m0 2h0m-2 5h0m-3 5h0m4 1h0m5 0h0m-7 3h0m5 3h0m-1 5h0m4 0h0m-3 1h0m-3 9h0m10 2h0m-1 2h0m-3 6h0m5 0h0m-8 2h0m7 1h0m-4 7h0m-3 3h0m2 1h0m0 1h0m-7 0h0m4 1h0m-1 2h0m7 3h0m-11 1h0m2 1h0m5 3h0m-7 1h0m8 1h0m4 1h0m-6 1h0m4 1h0m3 0h0m-11 3h0m10 1h0m-12 0h0m7 1h0m3 0h0m1 1h0m2 0h0m-8 1h0m3 1h0m7 0h0m-12 1h0m0 1h0m10 0h0m-11 1h0m7 0h0m-5 2h0m11 0h0m-13 1h0m-1 1h0m3 0h0m6 1h0m12-97h0m-6 1h0m2 0h0m0 3h0m-2 11h0m13 1h0m-9 1h0m2 6h0m2 1h0m2 4h0m0 6h0m-1 1h0m-9 4h0m15 1h0m-12 3h0m6 0h0m-1 0h0m4 3h0m-9 1h0m8 6h0m-8 0h0m3 7h0m-3 4h0m1 1h0m7 0h0m-10 1h0m2 1h0m3 0h0m7 2h0m0 1h0m-3 1h0m2 2h0m-10 1h0m-3 2h0m3 0h0m5 5h0m-3 2h0m10 1h0m-13 1h0m9 0h0m-7 0h0m10 1h0m-1 0h0m-5 0h0m8 3h0m-13 0h0m-2 0h0m5 1h0m-5 0h0m3 0h0m6 0h0m-9 1h0m10 0h0m-4 2h0m0 0h0m2 0h0m2 1h0m1 0h0m-3 0h0m0 1h0m-2 1h0m-4 1h0m20-92h0m-4 2h0m1 5h0m-1 3h0m8 3h0m-9 6h0m10 6h0m-12 3h0m14 0h0m-3 1h0m0 1h0m3 2h0m1 2h0m-1 0h0m-9 3h0m11 2h0m-10 2h0m2 5h0m6 0h0m0 1h0m-10 7h0m-2 0h0m2 4h0m10 1h0m-7 1h0m5 1h0m0 0h0m0 0h0m-11 2h0m8 1h0m-7 0h0m2 2h0m11 1h0m-2 0h0m-1 2h0m-9 3h0m9 1h0m-11 1h0m11 1h0m0 0h0m-5 1h0m-5 1h0m6 0h0m6 1h0m1 0h0m-12 4h0m2 0h0m1 1h0m2 0h0m-8 1h0m14 0h0m-8 2h0m9 1h0m-10 1h0m3 0h0m-2 1h0m-1 1h0m-2 1h0m11 0h0m-4 11h0m4 2h0m-2 2h0m2 3h0m-3 6h0m5 1h0m-5 16h0m4 1h0m-2 0h0m18-120h0m-3 1h0m-2 3h0m-2 1h0m8 3h0m-6 0h0m-10 1h0m13 1h0m-8 1h0m0 1h0m7 2h0m-7 0h0m-2 2h0m12 2h0m-14 1h0m13 2h0m-4 0h0m1 0h0m-4 2h0m2 2h0m4 1h0m-10 2h0m1 3h0m5 2h0m-6 2h0m5 2h0m0 3h0m8 0h0m-15 1h0m1 1h0m-2 1h0m5 1h0m6 1h0m-9 0h0m2 1h0m-2 1h0m-1 0h0m4 0h0m1 1h0m2 0h0m-1 1h0m4 2h0m-1 1h0m-9 0h0m3 0h0m5 1h0m-1 1h0m6 4h0m-2 0h0m-1 2h0m4 1h0m-8 0h0m1 0h0m-4 3h0m4 1h0m7 3h0m-6 1h0m3 1h0m-3 0h0m-7 0h0m0 0h0m11 1h0m-8 0h0m0 2h0m9 1h0m-6 1h0m-6 1h0m0 2h0m7 3h0m-3 1h0m-1 0h0m2 3h0m3 2h0m-9 2h0m12 1h0m-8 3h0m9 1h0m-12 0h0m8 0h0m-1 2h0m3 0h0m-4 1h0m7 0h0m-3 2h0m-3 1h0m7 0h0m-2 1h0m-5 2h0m5 5h0m-11 2h0m9 2h0m-12 0h0m5 2h0m2 0h0m-3 1h0m16-114h0m7 0h0m-1 1h0m3 3h0m-4 0h0m-8 1h0m1 0h0m5 6h0m8 0h0m-12 0h0m1 2h0m-1 1h0m7 2h0m5 1h0m-12 0h0m2 1h0m4 4h0m-2 4h0m7 1h0m-3 0h0m-10 0h0m14 6h0m-5 1h0m2 1h0m-8 3h0m-2 1h0m5 0h0m2 1h0m2 1h0m4 0h0m-3 1h0m-3 0h0m4 0h0m2 0h0m-15 1h0m15 0h0m-12 1h0m0 5h0m1 1h0m9 0h0m-9 1h0m-3 0h0m4 1h0m10 0h0m-12 1h0m9 3h0m-4 2h0m5 2h0m-3 4h0m-2 0h0m6 2h0m0 1h0m-13 0h0m-1 0h0m7 2h0m-1 2h0m-2 2h0m7 1h0m4 0h0m-7 1h0m-6 1h0m8 0h0m-2 4h0m5 0h0m-4 1h0m3 0h0m-1 1h0m-8 0h0m5 1h0m1 0h0m3 2h0m-11 1h0m11 4h0m-7 1h0m10 1h0m0 3h0m-5 4h0m-3 1h0m3 0h0m-6 1h0m8 1h0m-5 1h0m-6 0h0m15 4h0m-14 1h0m13 1h0m-1 4h0m-10 2h0m-2 1h0m2 2h0m14-117h0m7 8h0m5 2h0m-12 2h0m3 3h0m7 1h0m-1 0h0m-2 0h0m1 0h0m-6 3h0m9 2h0m-11 1h0m0 2h0m8 1h0m-9 1h0m1 0h0m12 1h0m-6 1h0m-5 0h0m13 4h0m-9 1h0m4 5h0m-4 1h0m2 0h0m6 1h0m-9 0h0m-6 0h0m5 2h0m4 0h0m1 1h0m-6 1h0m-4 0h0m9 2h0m-5 1h0m12 4h0m-9 1h0m6 1h0m-8 1h0m6 0h0m-8 0h0m-2 0h0m10 2h0m-5 1h0m9 3h0m-7 1h0m-1 3h0m-7 0h0m10 1h0m4 1h0m-3 0h0m-2 1h0m5 0h0m0 1h0m-4 0h0m-5 0h0m-2 1h0m9 0h0m-5 0h0m-2 0h0m9 1h0m-12 1h0m12 0h0m-13 1h0m14 3h0m1 1h0m-5 1h0m3 2h0m-10 4h0m-1 2h0m9 1h0m0 1h0m-7 1h0m5 1h0m-9 2h0m7 3h0m0 3h0m5 1h0m-10 0h0m-1 1h0m13 5h0m-4 0h0m3 2h0m-2 2h0m-4 1h0m4 2h0m-5 0h0m2 0h0m-3 2h0m-5 1h0m2 0h0m0 2h0m7 2h0m4 0h0m8-119h0m-1 3h0m-5 1h0m9 2h0m5 0h0m-3 2h0m-10 1h0m14 1h0m-13 3h0m6 2h0m6 2h0m-4 5h0m-5 2h0m9 4h0m-14 2h0m12 0h0m-3 1h0m-2 1h0m-2 3h0m-5 0h0m3 2h0m6 2h0m-6 0h0m6 1h0m-5 1h0m0 0h0m-1 1h0m2 0h0m11 1h0m-1 0h0m0 0h0m-4 2h0m-7 2h0m4 1h0m-6 0h0m-1 1h0m5 5h0m10 2h0m-6 2h0m3 0h0m3 0h0m-4 2h0m-3 0h0m-2 4h0m6 2h0m-3 0h0m-1 0h0m2 1h0m-5 0h0m9 0h0m-15 1h0m11 0h0m-8 1h0m1 0h0m8 1h0m-1 0h0m-5 1h0m-1 1h0m4 0h0m-2 1h0m-4 0h0m4 2h0m-7 0h0m3 0h0m7 0h0m-8 3h0m9 1h0m-8 0h0m2 3h0m3 1h0m5 3h0m-1 1h0m-7 3h0m7 2h0m4 1h0m-13 1h0m3 3h0m-6 1h0m16 3h0m-6 1h0m-9 0h0m10 2h0m-2 3h0m6 1h0m-6 5h0m-4 0h0m2 1h0m6 2h0m-12 0h0m8 0h0m-2 0h0m8 1h0m-11 1h0m20-119h0m5 2h0m-3 1h0m-9 2h0m13 2h0m-12 0h0m0 0h0m13 3h0m-10 0h0m8 0h0m-9 3h0m0 1h0m5 0h0m6 7h0m-1 0h0m-7 2h0m-1 1h0m5 3h0m-6 1h0m-5 4h0m14 1h0m-8 1h0m0 4h0m-5 1h0m10 1h0m-3 0h0m-4 4h0m8 0h0m3 1h0m-7 0h0m7 0h0m-5 1h0m-2 0h0m-4 1h0m5 0h0m-5 0h0m-3 4h0m6 2h0m-1 1h0m1 3h0m6 0h0m-11 1h0m-2 0h0m9 2h0m6 3h0m-12 1h0m9 2h0m-10 1h0m8 2h0m-2 0h0m5 0h0m-1 1h0m-10 1h0m4 0h0m0 0h0m2 1h0m3 0h0m0 1h0m-7 0h0m-1 1h0m-3 0h0m14 1h0m-2 2h0m0 2h0m2 1h0m-10 3h0m8 1h0m-6 1h0m3 4h0m-1 1h0m7 2h0m-6 0h0m-7 3h0m4 1h0m2 1h0m7 1h0m-12 3h0m7 1h0m-10 2h0m13 0h0m2 0h0m-14 1h0m1 1h0m12 0h0m-3 3h0m2 0h0m-7 5h0m2 2h0m-3 1h0m-4 5h0m22-121h0m0 1h0m7 1h0m2 2h0m-5 0h0m0 1h0m-6 2h0m-2 1h0m11 1h0m-2 1h0m-7 3h0m0 6h0m9 0h0m-3 1h0m-8 1h0m9 1h0m-3 1h0m0 5h0m-1 1h0m-2 0h0m-2 2h0m8 0h0m-1 1h0m-1 1h0m-8 3h0m0 0h0m6 3h0m-6 0h0m0 2h0m12 2h0m-3 0h0m-2 0h0m6 0h0m0 2h0m-6 1h0m-3 0h0m5 1h0m2 7h0m2 0h0m-12 2h0m-2 1h0m11 0h0m3 0h0m-11 0h0m-1 1h0m3 0h0m1 2h0m9 0h0m-7 0h0m-7 1h0m-1 3h0m13 1h0m-12 1h0m7 2h0m5 0h0m-2 1h0m1 3h0m-7 0h0m-1 1h0m-4 0h0m2 0h0m1 0h0m-3 1h0m13 0h0m-3 1h0m2 0h0m-3 1h0m3 0h0m-3 3h0m-8 3h0m9 1h0m-11 0h0m11 1h0m-1 2h0m-3 0h0m3 2h0m-4 2h0m4 1h0m-8 6h0m5 2h0m3 1h0m-5 1h0m-3 3h0m14 0h0m-12 1h0m1 0h0m-1 1h0m-1 1h0m8 1h0m5 4h0m-3 2h0m-12 1h0m5 0h0m9 0h0m-5 5h0m7-168h0m2 59h0m-1 8h0m-2 0h0m0 0h0m0 5h0m6 0h0m-4 2h0m4 2h0m-3 3h0m12 2h0m-2 1h0m-11 2h0m0 5h0m11 1h0m-4 1h0m-5 0h0m7 1h0m4 6h0m-6 1h0m5 0h0m-10 0h0m10 1h0m-14 1h0m1 2h0m0 0h0m13 1h0m-8 1h0m-2 1h0m-3 0h0m7 3h0m-2 2h0m-2 1h0m0 1h0m6 1h0m0 0h0m-2 1h0m7 0h0m-7 0h0m4 0h0m3 0h0m-11 1h0m-3 1h0m10 1h0m-5 0h0m4 2h0m-9 0h0m6 1h0m7 2h0m-9 7h0m-3 1h0m-1 1h0m5 2h0m10 0h0m-15 2h0m12 3h0m-10 6h0m13 0h0m-11 0h0m6 4h0m-1 1h0m2 7h0m-10 9h0m23-96h0m-9 1h0m8 12h0m-5 1h0m0 5h0m9 0h0m-7 1h0m10 1h0m-3 1h0m-3 0h0m-3 0h0m0 0h0m9 1h0m-3 1h0m2 0h0m-7 2h0m6 2h0m-7 1h0m8 1h0m-11 0h0m7 1h0m-2 1h0m-6 1h0m1 1h0m-3 2h0m1 2h0m4 2h0m5 2h0m5 1h0m-7 0h0m-4 1h0m11 1h0m-3 0h0m-7 1h0m-4 2h0m2 1h0m10 3h0m0 1h0m-11 0h0m0 9h0m4 3h0m-1 2h0m4 1h0m-8 0h0m14 4h0m-5 3h0m2 4h0m-5 4h0m6 2h0m7-73h0m-3 3h0m14 2h0m1 2h0m-6 0h0m-2 1h0m4 1h0m-10 0h0m6 0h0m3 1h0m5 0h0m-15 0h0m12 1h0m-2 1h0m-8 0h0m3 1h0m-4 1h0m7 0h0m-2 1h0m1 2h0m3 1h0m-8 3h0m-3 2h0m12 3h0m-6 2h0m-4 0h0m7 3h0m-1 0h0m-4 0h0m8 1h0m-1 2h0m-5 3h0m8 0h0m-10 1h0m3 1h0m7 0h0m-6 1h0m-8 1h0m6 0h0m7 1h0m-3 6h0m-5 0h0m9 1h0m-13 4h0m14 2h0m-14 0h0m12 3h0m-11 5h0m1 3h0m1 3h0m2 2h0m7 1h0m6-77h0m-3 0h0m4 0h0m2 5h0m2 0h0m-5 6h0m11 1h0m2 3h0m-10 1h0m9 0h0m-2 1h0m-1 1h0m-1 1h0m-6 0h0m5 0h0m-7 2h0m1 2h0m-1 1h0m6 0h0m-7 1h0m14 0h0m-2 1h0m-13 1h0m8 0h0m1 1h0m3 1h0m-4 0h0m-8 2h0m7 1h0m6 1h0m-4 4h0m-4 1h0m-1 1h0m-4 2h0m15 0h0m-10 0h0m5 2h0m-7 2h0m8 10h0m-8 1h0m9 2h0m-11 1h0m-1 0h0m4 0h0m0 2h0m10 0h0m-13 1h0m7 8h0m-1 7h0m0 1h0m3 2h0m-3 0h0m8-93h0m6 0h0m1 1h0m7 1h0m-10 6h0m8 7h0m-7 2h0m5 0h0m5 2h0m-13 2h0m9 2h0m-10 5h0m5 2h0m-1 1h0m7 0h0m-2 1h0m4 1h0m-7 0h0m-5 2h0m-1 0h0m4 0h0m10 1h0m-4 0h0m2 0h0m2 4h0m-3 1h0m2 0h0m-10 1h0m10 0h0m-12 0h0m6 1h0m3 0h0m3 5h0m-10 3h0m-4 2h0m12 0h0m-10 0h0m6 1h0m-7 1h0m13 0h0m-9 1h0m-4 1h0m5 1h0m4 0h0m6 3h0m-11 6h0m10 5h0m-3 0h0m-11 1h0m7 10h0m-1 0h0m0 3h0m6 0h0m-7 6h0m3 2h0m-8 1h0m30-111h0m0 3h0m-8 2h0m6 5h0m-6 9h0m-5 2h0m7 1h0m5 3h0m-9 3h0m6 7h0m-9 0h0m10 5h0m-10 0h0m9 0h0m-11 1h0m10 0h0m3 0h0m-12 1h0m7 1h0m-4 1h0m7 0h0m-2 1h0m-5 0h0m0 0h0m1 2h0m-3 1h0m7 2h0m0 1h0m5 2h0m-14 2h0m8 2h0m8 1h0m-11 3h0m5 1h0m2 1h0m-7 1h0m7 0h0m3 4h0m-8 1h0m-1 1h0m8 1h0m1 2h0m-12 0h0m3 0h0m-3 0h0m-2 0h0m6 0h0m-6 3h0m9 2h0m2 3h0m-8 1h0m-3 2h0m12 0h0m-6 3h0m-2 9h0m10 5h0m-7 0h0m-5 1h0m7 4h0m-10 3h0m30-115h0m-12 7h0m0 3h0m2 3h0m6 0h0m5 1h0m-4 1h0m0 3h0m-11 0h0m8 4h0m-2 7h0m-2 2h0m11 0h0m-11 2h0m10 8h0m-6 6h0m-3 1h0m4 1h0m-8 0h0m5 3h0m2 1h0m5 0h0m-4 2h0m-8 2h0m13 2h0m-3 1h0m-1 1h0m-4 0h0m9 2h0m-7 1h0m-1 0h0m5 2h0m-10 1h0m-2 0h0m9 0h0m-9 4h0m7 0h0m3 0h0m6 0h0m-16 1h0m4 0h0m11 1h0m-7 0h0m-5 1h0m12 1h0m-3 1h0m-8 1h0m1 1h0m-5 1h0m9 15h0m-3 1h0m7 2h0m-1 3h0m-2 2h0m-7 0h0m2 1h0m10 2h0m-7 1h0m7 2h0m-15 3h0m4 4h0m7 2h0m-6 1h0m18-129h0m4 4h0m-11 2h0m11 1h0m3 2h0m-10 1h0m-4 1h0m14 5h0m-9 0h0m7 2h0m-6 3h0m-4 9h0m7 9h0m2 6h0m-2 3h0m-4 6h0m-1 0h0m12 4h0m-10 1h0m-5 0h0m9 1h0m-8 0h0m13 2h0m-2 0h0m0 1h0m-5 0h0m-7 1h0m2 0h0m2 1h0m7 1h0m-8 1h0m5 1h0m1 0h0m-2 1h0m-2 0h0m10 2h0m-5 3h0m-1 1h0m5 1h0m-7 0h0m-3 6h0m-1 2h0m11 2h0m0 0h0m-5 0h0m-8 2h0m5 1h0m-4 1h0m-3 2h0m12 0h0m-4 8h0m-2 2h0m1 1h0m-5 2h0m11 1h0m-4 2h0m-9 2h0m1 1h0m10 2h0m-7 0h0m4 2h0m-4 1h0m8 7h0m4 4h0m10-131h0m4 7h0m-13 8h0m6 4h0m-2 1h0m-5 2h0m10 13h0m3 2h0m-10 1h0m2 2h0m-1 0h0m-1 4h0m12 3h0m-3 1h0m0 1h0m-3 2h0m6 4h0m-7 6h0m3 1h0m-2 0h0m-2 1h0m3 0h0m-9 1h0m3 1h0m5 1h0m-7 2h0m4 0h0m6 1h0m-7 4h0m9 0h0m-10 2h0m6 0h0m5 1h0m-13 1h0m1 0h0m3 2h0m-6 1h0m5 1h0m10 1h0m-8 1h0m-5 1h0m8 1h0m-4 0h0m9 1h0m0 0h0m-11 0h0m2 1h0m4 1h0m-1 0h0m3 1h0m0 2h0m-2 2h0m5 3h0m-2 0h0m1 4h0m-12 5h0m4 15h0m7 1h0m-10 2h0m4 3h0m5 0h0m-9 3h0m5 2h0m6 0h0m-6 3h0m20-126h0m-6 3h0m9 2h0m-3 4h0m-2 4h0m-1 12h0m-2 0h0m0 0h0m-4 7h0m-2 4h0m1 0h0m4 4h0m6 5h0m-8 1h0m5 1h0m4 7h0m1 0h0m-2 1h0m2 1h0m-9 1h0m4 0h0m-6 0h0m-1 1h0m14 0h0m-6 1h0m5 1h0m-15 1h0m6 1h0m-4 1h0m5 3h0m-4 2h0m-2 1h0m10 2h0m-3 2h0m6 0h0m-4 0h0m4 1h0m-5 1h0m2 0h0m-9 1h0m10 1h0m-8 0h0m1 0h0m-3 1h0m3 2h0m4 0h0m1 1h0m-4 2h0m-4 1h0m13 0h0m-2 2h0m-4 3h0m-2 5h0m-5 7h0m12 1h0m-2 3h0m-2 1h0m-3 1h0m-4 4h0m13 4h0m-5 3h0m-11 2h0m4 3h0m1 1h0m11-122h0m6 3h0m4 6h0m-1 7h0m-8 6h0m3 10h0m8 1h0m-4 2h0m2 1h0m-6 3h0m7 5h0m-7 3h0m1 0h0m-2 4h0m7 1h0m2 1h0m-5 1h0m-3 1h0m6 0h0m0 1h0m-2 2h0m-5 3h0m0 2h0m-2 0h0m5 1h0m0 2h0m0 1h0m6 0h0m-5 1h0m4 5h0m-7 2h0m3 0h0m-6 3h0m0 2h0m5 0h0m3 2h0m-9 1h0m12 0h0m-8 2h0m7 2h0m-5 0h0m3 4h0m-2 13h0m-2 13h0m-2 0h0m-2 1h0" stroke="#00ff00" stroke-width="5.2" stroke-linecap="round" fill="none"/>
<path transform="scale(.5)" d="M116 809l3 15 3 4 3 4 3 2 3 1 3 5 3 1 3-1 3 5 3 0 3 1 3 2 3-4 3 5 3-1 3-1 3 2 3-2 3 1 3 1 3 0 3-4 3 5 3 1 3 1 3-5 3 6 3 1 3 3 0 12-3-3-3 1-3 0-3-2-3-2-3 3-3-4-3-2-3-1-3 4-3-2-3 1-3-1-3-3-3 4-3-2-3 0-3-4-3 0-3-2-3-1-3 0-3-4-3-5-3 2-3-7-3-2-3 1-3-8zM204 819l3-10 3 12 3-2 3-1 3-1 3 6 3-8 3 8 3 2 3 2 3 0 3-11 3 7 3-3 3-1 3 8 3-2 3 0 3-2 3-9 3 6 3-2 3 5 3-4 3 7 3-8 3 11 3 0 3 1 3 0 3-10 3-1 3 11 3-1 3 2 3 7 3-1 3-1 3-3 3-4 3 7 3-3 3 1 3-7 3 8 3 0 3 2 3-3 3 3 3-4 3 2 3 3 3-2 3 2 3-2 3-4 3 4 3-6 3 6 3-7 3 5 3-2 3 3 3-8 3 6 3 2 3 1 3-1 3-5 3 2 3 2 3 4 3-2 3-2 3 0 3-6 3 4 3-7 3 7 3-5 3-1 3 7 3-6 3 2 3 1 3-3 3 7 3-4 3-1 3 3 3 0 3 4 3 0 3 0 3-1 3-1 3-1 3-5 3 3 3-5 3 7 3 0 3 0 3-5 3 6 3-6 3 7 3 1 3-6 3 5 3-2 3 1 3 4 3-4 3-4 3 5 3 0 3 0 3-5 3 4 3-1 3-6 3 1 3 2 3 0 3 1 3 2 3 0 3 0 3-6 3 8 3 0 3-4 3-5 3 8 3-9 3 3 3 4 3-2 3-4 3 6 3-3 3 2 3-4 3-3 3 9 3-1 3-1 3-3 3-1 3-1 3 9 3-1 3-2 3-1 3 3 3-7 3 7 3-2 3 1 3 0 3-1 3-7 3 2 3 5 3 0 3 2 3 0 3 1 3-4 3 5 3 0 3-5 3 3 3-2 3 2 3 0 3 0 3-2 3 2 3-3 3 3 3-7 3 7 3 1 3-4 3 3 3-4 3 0 3 0 3 4 3 0 3 2 3-7 3-1 3 6 3 0 3 0 3-1 3-3 3-1 3-5 3 0 3 0 3 6 3 1 3-5 3 5 3 2 3 1 3 1 3-2 3 0 3 1 3-3 3-5 3 8 3 1 3 0 3-4 3-3 3 0 3 6 3-3 3 1 3 4 3 0 3-5 3 2 3 6 3-1 3-2 3 4 3 1 3 2 3-8 3 8 3-7 3 8 3-1 3-5 3 4 3 3 3 1 3 0 3-2 3 0 3 3 3-7 3 3 3 4 3-7 3 8 3 0 3-4 3-2 3 2 3-6 3 7 3-4 3 2 3-2 3-10 3 6 3-1 3-1 3-2 3 1 3-5 3 5 3-2 3-7 3 5 3-7 3 0 3 3 3-2 3-4 3 4 3-5 3 2 3-1 3-4 3 0 3 1 3-4 3 5 3-3 3 2 3 3 3 1 3-3 3-2 3 7 3-3 3 1 3 6 3-6 3 4 3 6 3-4 3 3 3 10 3-1 3-5 3 8 3 0 3 9 3 0 3 1 3-2 3 6 3-3 3 4 3-6 3 3 3 4 3 0 3-1 3-7 3-6 3-3 3 0 3-5 3 0 3 10 3-6 3 6 3 0 3 1 3 4 3-1 3-5 3-4 3-4 3-11 3 6 3-2 3 6 3 8 3 9 3-5 3-1 3-8 3-6 3-3 3 0 3 1 3-4 3 2 3-3 3 1 3 1 3-4 3 3 3-2 3-9 3 7 3-1 3-9 3 9 3-2 3 2 3-9 3 13 3 7 3-4 3 4 3-4 3 5 3-1 3 0 3 2 3 0 3 0 3-5 3-1 3 4 3-5 3 4 3-3 3 3 3-2 3-2 3 1 3 3 3 1 3 1 3 1 3-2 3 1 3 1 3 1 3-1 3-3 3 3 3-3 3-1 3 1 3 2 3-2 3 2 3 0 3-3 3 3 3 1 3-5 3 6 3-1 3-1 3-1 3 5 3-6 3 5 3-1 3 1 3-7 3 5 3 2 3-3 3 1 3 1 3-3 3 4 3-5 3 0 3-1 3 5 3-2 3 4 3 1 3-5 3-2 3 6 3-4 3 4 3-3 3 1 3-1 3-1 3 0 3 0 3-1 3 1 3-2 3 0 3-3 3 4 3 3 3-2 3 4 3-1 3-1 3 1 3-2 3-11 3 6 3-2 3 1 3 1 3-2 3-7 3 8 3-3 3 4 3 0 3 1 3 0 3-2 3 1 3-1 3 2 3 2 3-3 3-5 3 6 3-3 3-3 3 1 3 0 3 3 3 1 3-2 3-1 3 4 3-7 3 1 3 1 3 8 3-1 3 0 3 2 3-1 3 0 3 2 3-5 3 4 3-1 3 0 3-1 3 1 3-8 3 1 3 7 3-5 3 4 3 2 3 0 3 2 3-3 3-5 3 8 3 0 3 0 3-1 3-3 3-2 3 4 3-4 3 0 3-2 3 5 3 0 3 2 3-3 3 3 3 1 3 0 3 1 3-7 3 1 3 2 3 4 3-1 3 0 3-3 3-1 3 2 3 0 3-7 3 8 3-6 3 5 3 1 3-6 3 0 3 8 3-3 3 1 3 4 3-5 3 1 3 1 3 2 3 0 3-3 3-8 3-5 3-4 3 7 3 2 3 4 3-1 3 1 3 0 3-8 3 10 3 0 3 1 3 1 3-8 3 7 3 0 3 0 3-4 3 3 3 0 3-2 3 2 3-5 3-2 3 0 3 6 3-6 3 0 3 7 3-1 3 2 3 0 3 0 3-1 3 0 3-1 3-5 3 0 3 6 3-2 3-2 3 4 3-2 3-3 3 3 3-1 3 0 3 0 3 3 3-1 3-4 3 5 3 0 3-5 3 4 3-3 3-3 3 3 3-2 3 2 3 3 3-1 3-1 3-3 3 3 3 0 3 1 3-1 3 2 3-4 3 2 3 4 3-7 3-2 3 9 3-4 3 4 3-1 3-3 3-4 3 6 3-3 3 3 3-2 3 2 3 0 3-1 3 2 3-23 3 9 3-3 3 4 3-2 3 1 3 3 3-1 3-1 3 3 3 8 3-4 3 5 3-1 3 0 3-2 3-1 3-1 3 1 3 5 3 3 3 0 3-2 3 4 3-1 3-4 3 0 3 1 3-3 3-2 3 5 3 2 3-6 3 1 3 3 3-1 3-1 3 1 3-2 3-5 3 7 3 1 3-2 3 4 3 0 3-3 3 1 3 0 3-1 3 1 3-2 3-4 3 2 3-2 3-1 3 5 3-7 3 7 3-1 3 2 3 1 3-2 3 2 3-7 3 1 3 8 3 0 3-5 3 4 3 1 3-5 3 2 3 2 3 0 3-5 3-1 3 6 3 1 3-3 3 4 3 0 3 0 3-1 3-3 3 6 3-5 3 6 3-2 3 1 3-3 3 2 3 0 3 0 3-4 3-1 3 4 3 0 3 1 3 0 3-1 3 2 3 1 3 1 3 0 3-3 3 1 3 3 3-2 3 2 3-4 3 2 3-3 3 2 3 2 3 0 3 0 3 0 3-1 3 2 3-4 3 6 3-2 3-3 3 3 3-3 3 1 3-1 3 1 3-8 3 6 3-5 3 0 3-3 3-3 3 4 3-4 3 2 3 2 3-3 3 2 3-1 3-5 3 6 3-2 3 1 3-1 3-1 3 1 3-9 3 3 3-4 3 6 3-2 3 7 3 6 3 1 3 0 3-4 3 4 3 1 3 0 3 0 3 1 3 0 3 1 3 1 3-2 3-2 3 1 3-2 3 2 3 1 3-5 3 3 3-1 3-1 3-1 3 2 3-2 3 3 3 1 3-5 3 6 3-5 3 2 3 2 3 1 3-1 3-6 3 3 3 0 3 1 3 0 3 0 3 0 3-4 3 3 3 0 3-7 3 8 3 0 3-6 3 2 3 5 3-4 3 2 3 2 3 0 3-4 3-2 3 2 3 3 3-3 3-4 3 3 3 1 3 2 3 0 3-2 3 3 3 1 3-2 3 2 3 1 3-7 3-3 3 3 3-5 3 7 3-8 3 2 3 0 3 7 3 2 3-3 3 2 3 0 3-1 3 2 3-5 3 0 3 4 3 2 3-1 3-2 0 15-3 0-3 3-3-5-3 3-3-3-3 0-3 1-3-2-3-1-3 5-3-4-3 5-3-6-3 3-3 1-3-4-3 2-3 0-3-1-3 1-3 4-3 1-3 0-3-2-3-1-3 1-3-1-3 0-3-2-3 3-3-1-3 2-3-2-3 1-3 3-3-2-3 0-3 1-3 4-3-5-3 1-3 4-3-1-3-5-3 4-3-4-3 4-3-2-3-3-3 1-3 0-3 0-3 3-3 0-3-1-3 1-3-4-3 2-3 0-3 1-3-3-3 0-3 1-3 0-3-1-3 0-3-2-3 2-3-1-3-1-3 3-3 3-3-4-3 2-3-1-3 3-3-2-3 2-3-2-3 1-3-2-3-1-3 0-3 2-3-3-3 1-3 1-3-2-3 2-3-2-3-5-3-1-3-4-3 3-3 0-3 3-3 3-3 1-3 1-3-6-3 6-3 1-3-5-3 2-3-1-3-3-3 1-3 0-3 2-3-2-3 1-3 0-3 3-3 5-3 2-3-5-3 0-3 4-3-2-3 4-3-3-3 0-3 0-3 5-3-5-3 1-3 1-3-4-3 1-3 1-3 0-3-2-3 3-3-2-3-1-3 1-3-1-3-2-3 4-3-2-3-1-3 2-3 0-3-1-3-2-3-1-3-1-3 1-3-1-3 2-3 0-3-1-3 1-3 2-3-2-3 1-3 0-3 0-3 1-3 0-3 2-3 0-3-3-3 2-3-1-3-2-3-1-3 6-3-1-3-4-3-2-3 5-3-4-3 3-3-2-3 0-3 0-3 1-3 3-3 0-3-2-3 1-3-3-3 1-3 1-3-5-3 4-3-3-3 0-3 6-3 0-3-3-3 5-3-6-3-1-3 7-3-7-3 5-3-4-3 0-3 3-3-2-3-1-3 1-3-3-3 1-3 4-3-2-3-4-3 5-3-3-3 4-3-3-3 1-3 2-3 4-3 1-3-4-3 3-3-5-3 7-3-6-3 3-3-5-3-2-3 1-3-1-3 3-3-4-3 1-3-1-3 1-3 0-3 10-3-12-3-3-3 4-3-6-3 0-3 9-3-9-3-1-3 8-3-8-3 10-3 0-3 4-3 2-3-3-3 1-3-3-3 7-3-4-3-2-3 0-3-1-3-1-3 0-3 8-3-4-3 4-3-4-3 0-3 2-3-7-3-1-3-1-3 6-3 3-3-3-3-4-3 5-3-5-3 4-3-2-3 6-3-7-3 5-3-5-3 1-3-1-3 4-3-4-3 5-3-4-3-2-3 4-3-6-3 2-3 3-3 3-3-3-3-1-3 8-3-2-3-6-3 0-3 3-3-2-3 8-3-8-3 0-3-2-3 1-3 6-3-4-3 0-3-3-3-1-3 1-3 7-3-2-3 5-3-2-3 3-3-7-3 0-3 7-3-1-3-5-3-2-3 2-3-3-3 3-3-5-3 2-3-2-3 1-3-4-3 4-3-5-3 1-3 6-3 0-3 2-3-1-3 0-3 0-3-1-3 6-3 1-3-1-3 0-3-8-3 1-3 4-3-4-3-1-3 5-3-6-3 1-3 0-3 1-3-1-3 3-3-2-3 3-3 4-3-6-3 1-3 2-3-1-3-4-3 0-3 8-3-4-3 4-3-9-3 1-3 0-3 5-3-5-3 6-3 4-3-8-3 9-3-8-3 2-3 0-3 1-3-3-3 0-3 5-3-5-3 4-3-7-3 6-3 0-3-6-3 4-3 1-3 4-3-8-3 0-3 1-3-1-3 8-3 0-3-7-3 5-3 3-3-10-3 0-3 0-3 0-3-3-3 0-3 5-3 3-3-7-3 0-3 0-3 0-3 2-3 1-3 5-3-8-3 5-3-5-3 0-3-1-3-2-3 1-3 0-3-1-3 5-3-3-3-3-3 4-3-2-3-2-3 0-3 1-3 0-3 2-3 7-3 0-3-5-3 0-3 3-3 1-3-4-3 0-3-2-3 3-3-2-3-1-3 2-3-2-3 0-3 5-3-5-3 5-3 2-3-3-3 0-3 3-3 0-3 0-3-3-3 0-3-2-3 4-3-4-3 6-3-1-3-3-3-4-3 0-3 2-3 1-3-1-3-1-3 0-3 1-3 1-3 4-3-3-3-2-3-1-3 0-3-1-3 0-3 1-3-3-3 0-3 5-3-5-3 2-3-2-3 2-3 1-3-1-3 1-3 2-3 0-3-2-3-2-3 1-3 4-3-4-3 1-3 3-3-7-3 0-3 2-3 4-3-5-3 0-3 4-3-4-3 2-3 0-3 1-3 1-3-3-3 0-3 6-3-3-3-3-3 1-3 1-3-1-3-2-3-2-3-1-3-1-3-2-3 0-3 2-3 2-3 5-3-8-3 8-3-3-3 0-3-1-3 0-3 1-3 1-3-2-3 1-3 0-3-1-3 5-3 8-3 4-3 4-3 2-3 0-3-10-3-8-3-3-3 7-3-2-3 7-3 10-3-1-3 10-3-7-3 6-3-10-3-1-3 9-3-10-3-3-3 0-3 1-3 5-3 3-3 8-3 4-3-5-3 9-3 0-3-11-3 1-3 9-3 0-3-2-3-11-3-1-3 8-3-11-3-3-3-5-3-1-3-4-3-3-3-3-3 0-3-5-3-2-3-1-3-4-3 1-3-1-3-2-3 3-3 0-3-3-3-5-3 5-3 2-3-4-3 0-3 0-3 2-3 7-3-1-3-3-3 4-3 1-3 1-3 7-3-6-3 9-3-6-3 0-3 0-3 3-3-1-3-2-3 1-3 2-3 1-3 0-3 3-3 2-3 3-3-2-3 1-3 3-3 4-3-2-3-2-3-1-3 7-3-6-3 1-3-1-3 0-3-1-3 5-3-6-3 3-3 0-3-5-3 7-3-7-3 1-3 3-3-3-3 2-3 0-3-6-3 1-3-2-3 1-3 5-3-5-3-2-3 1-3-5-3-1-3 0-3 3-3 6-3-9-3 3-3 4-3-4-3-2-3 0-3 0-3 1-3 7-3-2-3-7-3 3-3-4-3 0-3 4-3-1-3 2-3-3-3 4-3 2-3-1-3-6-3 0-3 2-3 1-3-1-3 8-3 2-3-5-3-3-3 6-3-4-3-3-3 3-3 3-3-6-3 0-3-1-3 1-3 5-3 2-3-8-3 2-3 5-3-5-3 6-3-3-3-2-3 5-3-1-3-6-3 1-3 0-3-2-3 0-3 2-3 4-3-3-3-2-3-1-3 2-3 3-3-6-3 2-3-2-3 3-3 5-3-8-3 3-3 2-3-3-3-1-3-2-3 4-3-5-3 6-3 0-3-1-3-3-3 4-3 1-3-7-3 2-3 2-3 6-3-9-3 1-3 8-3-5-3-2-3 0-3 7-3-8-3-1-3 0-3-1-3 1-3-1-3 1-3-1-3 6-3-5-3 2-3 2-3 3-3-5-3 2-3-1-3 1-3 4-3-5-3 0-3 3-3-3-3 1-3-2-3 6-3-5-3 2-3-3-3-1-3 1-3 6-3-6-3 4-3-3-3 0-3 8-3-8-3 1-3-2-3 1-3 4-3 0-3-6-3-1-3 2-3-3-3 1-3-1-3 1-3 1-3 3-3 4-3-6-3 2-3-3-3 0-3 5-3 8-3-8-3 7-3-8-3 7-3 1-3-3-3 3-3-6-3-1-3-1-3-1-3 7-3-6-3 2-3 1-3-3-3 7-3-5-3 1-3-1-3 8-3 0-3-6-3 0-3-3-3-1-3 0-3 1-3-2-3 1-3 10-3-5-3-4-3 2-3 1-3 2-3-2-3 5-3-6-3 1-3-5-3 3-3-7-3 1-3-1-3 0-3 0-3 7-3-7-3 2-3 5-3 5-3-4-3 7-3-13-3 12-3-11-3 8-3-2-3-4-3-2-3 1-3-7-3-3-3-1-3 3-3 4-3-7-3-1-3 0-3 23-3-10zM1376 850l3 3 3 0 3-3 3 5 3 0 3 1 3 0 3-3 3 3 3-2 3 1 3-2 0 8-3 1-3 3-3-2-3-1-3 0-3 4-3 2-3-6-3 0-3-1-3-1-3 0z" fill="#ff0000"/>
<text x="58.5" y="545.7" class="tl" text-anchor="middle">0</text>
<text x="354.3" y="545.7" class="tl" text-anchor="middle">5</text>
<text x="650.1" y="545.7" class="tl" text-anchor="middle">10</text>
<text x="945.9" y="545.7" class="tl" text-anchor="middle">15</text>
<text x="1241.7" y="545.7" class="tl" text-anchor="middle">20</text>
<text x="1537.5" y="545.7" class="tl" text-anchor="middle">25</text>
<text x="53.4" y="325.7" class="tl" text-anchor="end">4</text>
<text x="53.4" y="376.9" class="tl" text-anchor="end">2</text>
<text x="53.4" y="428.2" class="tl" text-anchor="end">0</text>
<text x="53.4" y="479.4" class="tl" text-anchor="end"><tspan class="mn">−</tspan>2</text>
<text x="53.4" y="530.7" class="tl" text-anchor="end"><tspan class="mn">−</tspan>4</text>
<text x="798" y="314.6" class="ti" text-anchor="middle">C36 Clock Residual</text>
<text x="798" y="567.7" class="xl" text-anchor="middle">Time (Hour)</text>
<text transform="translate(31.9 422.0) rotate(-90)" x="0" y="0" class="xl" text-anchor="middle">Clock Residual (ns)</text>
<rect x="1333.8" y="319.6" width="194.3" height="42.4" fill="#fff" stroke="#969696" stroke-width="1"/>
<circle cx="1347.9" cy="330.4" r="1.4" fill="#00ff00"/>
<circle cx="1347.9" cy="351.4" r="1.4" fill="#ff3030"/>
<text y="335.7" class="lg"><tspan x="1361">SGL+ISL</tspan><tspan class="cc" x="1419.2" dy="0.5">：</tspan><tspan x="1436.2" dy="-0.5">RMS= 0.37ns</tspan></text>
<text y="357.1" class="lg"><tspan x="1361">WNA</tspan><tspan class="cc" x="1392.6" dy="0.5">：</tspan><tspan x="1410.2" dy="-0.5">RMS= 0.14ns</tspan></text>
<path d="M354.3 604.0V808.8M650.1 604.0V808.8M945.9 604.0V808.8M1241.7 604.0V808.8M58.5 655.20H1537.5M58.5 706.40H1537.5M58.5 757.60H1537.5" stroke="#ebebeb" stroke-width="1" fill="none"/>
<rect x="58.5" y="604.0" width="1479.0" height="204.8" fill="none" stroke="#969696" stroke-width="1"/>
<path d="M354.3 808.8v-14.8M354.3 604.0v14.8M650.1 808.8v-14.8M650.1 604.0v14.8M945.9 808.8v-14.8M945.9 604.0v14.8M1241.7 808.8v-14.8M1241.7 604.0v14.8M58.5 655.20h14.8M1537.5 655.20h-14.8M58.5 706.40h14.8M1537.5 706.40h-14.8M58.5 757.60h14.8M1537.5 757.60h-14.8" stroke="#8c8c8c" stroke-width="1" fill="none"/>
<path transform="scale(.5)" d="M116 1382l4 0 4 2 4-4 4 4 4 0 4-2 4-1 4-1 4 0 4 0 4 2 4-1 4-2 4 4 4-3 4 1 4 1 4 1 4-2 4-1 4-1 4 3 4-1 4 1 4-4 4 1 4 3 4-2 4 1 4-2 4 3 4-3 4 3 4 1 4-2 4 2 4-2 4 1 4 1 4-3 4 2 4 2 4-1 4-1 4 2 4 0 4 0 4 3 4 0 4 0 4 2 4 1 4 1 4-1 4 2 4 3 4 1 4 2 4-3 4 3 4 0 4 3 4-3 4 2 4 3 4 0 4-1 4 1 4 2 4 1 4 3 4 0 0 55-4 0-4-4-4 0-4-1-4-1-4 0-4-1-4-2-4-1-4-2-4 0-4-4-4 2-4-1-4-3-4 1-4-3-4-1-4 1-4-2-4-1-4 2-4-3-4 0-4-2-4 2-4-1-4-2-4 1-4 0-4-2-4 1-4 1-4-1-4-2-4 1-4-2-4 0-4 3-4-2-4-2-4 0-4 2-4-1-4-1-4 1-4 1-4-3-4 2-4 0-4-1-4-1-4 3-4 0-4 0-4-1-4 1-4-2-4-1-4-1-4 0-4 3-4-3-4 2-4-1-4 0-4 2-4-3-4 3-4-2-4 1-4-2zM424 1378l4 0 4 1 4 1 4 3 4-1 4 1 4 3 4-3 4 0 4 4 4-2 4 3 4 0 4-2 4 2 4 0 4 4 4 0 4 0 4-1 4 0 4 0 4-2 4 1 4-1 4 0 4-4 4 3 4-1 4-2 4 1 0 53-4 0-4-1-4 0-4-1-4 1-4-3-4-1-4 2-4-4-4 1-4-1-4-1-4-2-4-1-4 0-4-3-4-2-4 0-4-2-4 0-4 0-4-1-4-2-4 1-4-2-4 0-4 1-4-1-4-1-4-4-4 2zM2002 1392l4-1 4 2 4-3 4 1 4 1 4 0 4 1 4-2 4 2 4-3 4 2 4 0 4 0 4 1 4-2 4 0 4 2 4-1 4-1 4 2 4-1 4 0 4-2 4 2 4 0 4 0 4 1 4 0 4-2 4 0 4 1 0 35-4 1-4-3-4 0-4 3-4 0-4-1-4 0-4-1-4 2-4-1-4 0-4-2-4 2-4 1-4-1-4 1-4-2-4 0-4 0-4-1-4 3-4-3-4 0-4 3-4-2-4 1-4 0-4-1-4 2-4-2-4 2zM2128 1400l4 3 4 7 4 5 4 1 4-7 4-13 4-10 4-17 4-15 4 19 0 32-4-22-4 19-4 12-4 13-4 12-4 8-4-3-4-3-4-2-4-8z" fill="#00ff00"/>
<path transform="scale(.5)" d="M118 1374h0m1 4h0m2 1h0m-2 1h0m6 0h0m3 1h0m-8 0h0m0 0h0m4 1h0m-5 3h0m8 3h0m-1 1h0m-6 0h0m3 3h0m-7 0h0m7 2h0m4 4h0m0 1h0m-9 3h0m2 1h0m5 0h0m-2 2h0m-1 4h0m2 1h0m1 1h0m-5 3h0m6 6h0m-9 1h0m7 1h0m3 0h0m-6 1h0m-1 1h0m7 1h0m-4 2h0m-4 1h0m-3 0h0m8 1h0m-7 0h0m-1 2h0m1 3h0m5 1h0m3 2h0m7-60h0m1 0h0m-1 1h0m1 2h0m-4 2h0m13 2h0m-4 1h0m-8 1h0m14 0h0m-1 2h0m-11 0h0m-1 3h0m2 4h0m-3 2h0m-1 0h0m10 1h0m3 1h0m-2 0h0m-7 0h0m9 5h0m-5 2h0m-7 0h0m7 1h0m1 1h0m-2 0h0m3 1h0m-2 1h0m0 1h0m-2 1h0m7 1h0m-14 0h0m13 2h0m-2 1h0m-1 2h0m6 0h0m-5 2h0m-6 1h0m-4 1h0m11 0h0m-5 1h0m6 2h0m-4 1h0m-5 0h0m4 1h0m-2 1h0m1 0h0m6 0h0m0 1h0m-12 1h0m0 0h0m2 1h0m3 0h0m-1 4h0m2 1h0m0 4h0m4 0h0m4 1h0m1 0h0m9-70h0m-9 0h0m15 0h0m-6 1h0m-5 0h0m-1 0h0m5 2h0m3 1h0m2 2h0m0 0h0m-8 1h0m2 6h0m1 0h0m-5 3h0m9 2h0m3 0h0m-7 4h0m3 3h0m5 1h0m-9 1h0m-7 1h0m3 0h0m7 2h0m-1 2h0m-6 3h0m8 1h0m-2 0h0m3 3h0m-11 2h0m6 1h0m-1 1h0m-5 2h0m11 0h0m-1 1h0m3 1h0m-9 0h0m-1 1h0m0 2h0m0 1h0m12 2h0m-4 0h0m-2 1h0m-6 0h0m10 2h0m0 0h0m-6 2h0m-4 0h0m6 0h0m4 1h0m-12 1h0m1 0h0m-3 4h0m14 1h0m-13 4h0m12 0h0m-12 1h0m0 0h0m7 0h0m4 1h0m8-71h0m-2 7h0m4 1h0m4 1h0m4 1h0m-10 0h0m3 0h0m-5 1h0m0 2h0m1 0h0m1 1h0m2 1h0m6 0h0m-5 1h0m1 1h0m-1 0h0m-5 1h0m12 1h0m-5 1h0m6 2h0m1 1h0m-8 1h0m0 2h0m-2 0h0m-5 3h0m10 3h0m-1 1h0m5 3h0m-1 0h0m0 1h0m-8 1h0m3 2h0m-5 1h0m6 1h0m-10 1h0m11 2h0m-4 1h0m-6 1h0m13 0h0m1 1h0m-4 4h0m-6 1h0m-4 2h0m10 1h0m2 2h0m-10 0h0m3 0h0m-5 2h0m14 1h0m-3 0h0m-9 2h0m8 2h0m3 2h0m0 1h0m-8 0h0m1 2h0m2 1h0m1 1h0m20-73h0m2 4h0m-8 0h0m3 1h0m-8 1h0m0 2h0m-1 2h0m10 2h0m-5 3h0m7 2h0m-11 2h0m6 1h0m2 1h0m-6 0h0m9 1h0m0 4h0m-3 4h0m-10 2h0m8 0h0m-7 1h0m2 0h0m4 1h0m-2 1h0m0 1h0m-2 2h0m0 2h0m1 1h0m0 1h0m5 1h0m-1 0h0m-5 2h0m8 1h0m0 1h0m-8 1h0m11 2h0m-13 1h0m14 0h0m-6 1h0m-9 0h0m6 1h0m8 0h0m-14 3h0m1 2h0m11 1h0m-6 1h0m1 0h0m-6 1h0m5 1h0m-6 0h0m14 0h0m-4 1h0m-9 1h0m7 2h0m4 4h0m0 0h0m-7 3h0m8 0h0m-3 1h0m6-71h0m5 0h0m6 1h0m-7 1h0m4 2h0m1 1h0m-6 1h0m4 0h0m4 0h0m-6 1h0m1 1h0m1 1h0m-8 0h0m14 4h0m-9 1h0m-4 1h0m11 3h0m3 1h0m-6 7h0m-4 0h0m8 1h0m-10 2h0m-3 0h0m3 2h0m6 4h0m-7 0h0m13 1h0m-11 3h0m2 1h0m-6 1h0m14 1h0m0 1h0m-2 2h0m-6 4h0m-3 0h0m4 1h0m7 0h0m-7 1h0m-2 2h0m-5 0h0m14 2h0m-11 1h0m7 1h0m-6 0h0m0 1h0m9 0h0m-5 0h0m6 0h0m-6 2h0m6 1h0m-5 1h0m6 3h0m-4 4h0m0 1h0m4 0h0m-3 2h0m13-76h0m-7 2h0m7 1h0m-3 0h0m10 2h0m-14 6h0m1 0h0m-1 2h0m2 1h0m6 0h0m-3 1h0m2 2h0m-4 1h0m1 5h0m8 1h0m-10 1h0m7 1h0m1 2h0m-4 3h0m-6 0h0m0 1h0m5 5h0m8 1h0m-10 0h0m9 4h0m-1 0h0m-12 1h0m8 2h0m-8 0h0m5 1h0m9 1h0m0 1h0m-8 0h0m4 1h0m-6 1h0m-2 0h0m4 2h0m4 3h0m-2 3h0m1 0h0m5 1h0m-2 0h0m-3 2h0m5 0h0m-8 0h0m-1 1h0m-1 2h0m10 1h0m-15 1h0m10 4h0m3 0h0m-11 0h0m6 0h0m-5 1h0m12 1h0m-2 1h0m-2 2h0m3 0h0m-4 0h0m-5 0h0m-5 1h0m26-77h0m-5 0h0m6 3h0m4 0h0m-12 2h0m12 0h0m-10 1h0m0 1h0m8 2h0m-3 1h0m-8 1h0m13 2h0m-8 0h0m-1 2h0m5 1h0m3 0h0m-1 2h0m-11 0h0m1 2h0m9 3h0m-8 2h0m9 8h0m-8 2h0m-3 0h0m9 1h0m-11 1h0m12 6h0m-11 0h0m6 2h0m3 2h0m-3 0h0m2 0h0m-9 0h0m3 1h0m11 1h0m-12 0h0m5 1h0m-5 2h0m7 1h0m-5 0h0m7 0h0m-5 0h0m9 5h0m0 0h0m-13 3h0m11 1h0m-10 3h0m-1 1h0m10 1h0m-1 1h0m-4 3h0m1 1h0m0 1h0m-2 0h0m4 0h0m-7 1h0m6 0h0m-2 1h0m6 1h0m-5 1h0m0 0h0m6 1h0m-2 0h0m13-74h0m7 2h0m-2 2h0m-10 0h0m-1 1h0m7 1h0m-7 2h0m11 4h0m-3 0h0m-5 0h0m-5 4h0m11 1h0m-10 1h0m6 0h0m-5 4h0m8 0h0m-9 1h0m13 1h0m-13 1h0m4 0h0m2 0h0m-2 0h0m0 1h0m-1 0h0m7 0h0m2 4h0m-3 0h0m-11 1h0m13 1h0m-3 0h0m5 0h0m-3 3h0m-10 2h0m0 2h0m14 3h0m-3 0h0m-7 1h0m2 0h0m-1 1h0m6 1h0m-11 1h0m2 2h0m0 2h0m8 4h0m-4 1h0m-2 1h0m6 2h0m-2 1h0m-2 1h0m-1 1h0m0 1h0m4 1h0m0 0h0m-9 1h0m13 1h0m-3 2h0m-8 1h0m5 2h0m-7 0h0m0 1h0m13 1h0m-11 0h0m0 1h0m20-75h0m6 1h0m-11 1h0m0 3h0m11 0h0m-6 3h0m5 3h0m-13 1h0m12 2h0m0 1h0m-1 0h0m1 3h0m-2 1h0m-9 0h0m7 0h0m1 2h0m-8 2h0m5 1h0m6 2h0m-2 2h0m-6 1h0m8 1h0m-8 4h0m2 1h0m-1 0h0m1 1h0m7 1h0m-9 0h0m4 1h0m7 0h0m-5 0h0m5 0h0m-13 1h0m2 0h0m2 2h0m7 4h0m-7 1h0m6 3h0m-2 0h0m0 1h0m-5 0h0m9 2h0m2 2h0m-15 4h0m9 0h0m0 1h0m-9 1h0m14 1h0m-10 1h0m7 1h0m-2 0h0m-6 2h0m-1 3h0m0 0h0m-1 1h0m3 1h0m-4 2h0m9 1h0m-4 0h0m8 0h0m-7 1h0m-2 1h0m6 2h0m4 0h0m9-76h0m-4 1h0m9 1h0m-5 0h0m7 3h0m-2 1h0m-9 4h0m-2 5h0m12 0h0m2 5h0m-13 1h0m7 1h0m-6 2h0m4 0h0m7 1h0m-10 1h0m6 0h0m2 1h0m-5 1h0m-3 2h0m8 0h0m-11 0h0m2 1h0m1 2h0m2 1h0m5 0h0m-6 0h0m-3 1h0m5 0h0m-8 1h0m14 0h0m1 0h0m-1 0h0m-9 1h0m5 4h0m0 0h0m-2 3h0m3 0h0m3 0h0m-13 2h0m6 5h0m-2 1h0m11 2h0m-8 1h0m2 1h0m-9 0h0m8 2h0m-4 1h0m6 3h0m-4 1h0m2 0h0m3 0h0m-3 1h0m-5 2h0m10 2h0m-14 0h0m3 3h0m10 2h0m-3 1h0m-10 1h0m2 0h0m20-92h0m10 19h0m-5 2h0m1 1h0m-3 1h0m5 0h0m-9 3h0m2 1h0m-6 0h0m8 3h0m3 1h0m-5 1h0m-1 0h0m3 0h0m2 4h0m-3 1h0m2 0h0m-5 1h0m10 1h0m-14 2h0m7 0h0m-7 0h0m8 2h0m-1 2h0m0 5h0m5 0h0m1 1h0m-2 1h0m0 1h0m-4 0h0m-5 2h0m12 0h0m-15 5h0m9 0h0m7 2h0m-13 1h0m-1 0h0m-2 0h0m6 2h0m-3 0h0m8 1h0m0 1h0m-7 3h0m11 0h0m-2 0h0m-3 2h0m-10 0h0m11 1h0m-6 4h0m-2 0h0m-1 1h0m3 5h0m0 1h0m8 2h0m-10 0h0m5 1h0m4 1h0m-5 1h0m-2 2h0m11 1h0m-12 2h0m-2 0h0m1 1h0m11 1h0m7-73h0m5 2h0m-4 0h0m-5 2h0m0 2h0m2 0h0m6 1h0m7 2h0m-9 0h0m5 1h0m-8 0h0m-3 2h0m-1 1h0m4 0h0m3 1h0m-3 0h0m8 1h0m-6 1h0m7 0h0m-4 1h0m-6 4h0m9 0h0m-5 0h0m2 3h0m-5 3h0m1 6h0m-3 1h0m7 2h0m-2 2h0m-5 0h0m10 1h0m-5 1h0m-6 0h0m3 1h0m1 1h0m9 1h0m1 0h0m-11 1h0m5 2h0m2 1h0m-8 1h0m0 3h0m7 3h0m4 3h0m1 0h0m-2 2h0m-7 1h0m6 1h0m3 1h0m0 0h0m-4 3h0m1 3h0m-8 1h0m5 1h0m7 1h0m-16 0h0m3 1h0m7 1h0m1 2h0m2 0h0m12-71h0m-3 0h0m2 5h0m0 1h0m-8 0h0m2 1h0m10 1h0m-9 0h0m6 1h0m-3 1h0m10 1h0m-10 1h0m0 1h0m-2 1h0m9 0h0m-9 2h0m6 0h0m-9 0h0m14 2h0m-12 1h0m6 4h0m-5 0h0m-1 0h0m-1 1h0m2 1h0m12 1h0m-12 1h0m5 3h0m2 0h0m2 2h0m-4 0h0m4 3h0m-12 1h0m11 0h0m-7 5h0m10 0h0m-8 1h0m0 2h0m5 1h0m-6 0h0m-5 1h0m7 0h0m6 4h0m-1 0h0m-12 1h0m1 1h0m8 1h0m6 2h0m-14 0h0m10 1h0m2 1h0m-8 2h0m7 0h0m-3 0h0m6 2h0m-13 7h0m2 0h0m6 2h0m-7 2h0m1 1h0m9 1h0m16-69h0m-6 0h0m-3 0h0m-1 2h0m4 2h0m7 1h0m-15 2h0m4 1h0m-3 1h0m1 1h0m8 0h0m-4 2h0m5 2h0m-10 0h0m9 1h0m0 2h0m5 1h0m-2 4h0m1 0h0m-12 2h0m0 0h0m-1 1h0m3 1h0m9 2h0m-4 2h0m-4 2h0m1 0h0m-5 1h0m7 1h0m4 1h0m0 2h0m-5 1h0m-3 0h0m10 2h0m-7 2h0m-4 0h0m8 3h0m-5 0h0m0 2h0m10 0h0m0 0h0m-2 1h0m0 0h0m-1 1h0m-11 3h0m10 0h0m-2 0h0m0 0h0m-2 1h0m-3 1h0m4 0h0m-6 6h0m1 1h0m6 1h0m-1 1h0m5 0h0m-10 4h0m0 0h0m0 3h0m23-67h0m-9 1h0m3 1h0m8 1h0m0 1h0m3 1h0m-14 1h0m6 0h0m0 2h0m1 1h0m-6 1h0m11 1h0m0 0h0m-3 0h0m-7 1h0m6 1h0m-8 0h0m4 1h0m2 2h0m-6 1h0m10 0h0m-6 0h0m-2 1h0m5 3h0m-8 1h0m-1 2h0m1 6h0m5 0h0m6 0h0m0 2h0m-5 3h0m9 2h0m-15 1h0m12 1h0m-7 4h0m2 0h0m6 0h0m-12 1h0m1 4h0m12 1h0m-10 0h0m10 2h0m-12 0h0m3 1h0m3 1h0m-2 0h0m-4 1h0m5 5h0m-3 0h0m9 1h0m-9 0h0m8 0h0m-2 3h0m-3 1h0m2 1h0m2 2h0m2 0h0m-9 1h0m10 1h0m-15 1h0m21-67h0m0 1h0m0 3h0m-3 0h0m5 1h0m-1 2h0m-3 3h0m9 2h0m-4 0h0m-5 2h0m-2 0h0m4 2h0m8 1h0m-3 3h0m-5 1h0m-4 3h0m8 0h0m4 2h0m0 0h0m-1 1h0m1 0h0m-13 2h0m15 0h0m-4 1h0m-4 0h0m3 3h0m-2 0h0m-4 2h0m12 0h0m-10 3h0m3 1h0m3 0h0m-1 0h0m-4 0h0m-7 5h0m15 1h0m-12 1h0m8 2h0m1 3h0m-3 0h0m3 0h0m-11 0h0m7 3h0m-1 1h0m-4 0h0m13 2h0m-12 0h0m-3 4h0m7 0h0m8 1h0m-7 0h0m4 1h0m-9 2h0m11 1h0m0 1h0m-3 0h0m-6 1h0m-5 4h0m8 1h0m-1 0h0m7 1h0m2-74h0m13 5h0m-2 2h0m-3 1h0m-2 2h0m6 1h0m2 3h0m-2 1h0m-4 0h0m-8 0h0m13 0h0m-12 0h0m8 0h0m-5 1h0m-2 0h0m-1 1h0m9 0h0m-10 1h0m5 1h0m5 0h0m0 2h0m-5 1h0m6 2h0m-3 4h0m-2 1h0m-3 2h0m-3 0h0m3 0h0m5 1h0m0 0h0m4 2h0m3 2h0m-4 1h0m-7 6h0m7 0h0m-5 2h0m3 0h0m-9 3h0m14 0h0m0 2h0m-11 1h0m11 0h0m-7 1h0m-1 1h0m5 1h0m-1 2h0m2 1h0m-8 1h0m-5 1h0m15 0h0m-8 1h0m1 1h0m0 1h0m-3 6h0m0 2h0m-3 1h0m2 4h0m8 0h0m-9 1h0m-2 0h0m3 0h0m4 1h0m3 1h0m18-89h0m-7 6h0m5 1h0m-4 1h0m-4 2h0m12 5h0m-12 1h0m5 1h0m-3 1h0m-2 5h0m9 2h0m-8 3h0m-4 6h0m3 4h0m-3 4h0m2 3h0m-1 1h0m1 6h0m0 12h0m0 4h0m0 11h0m-1 0h0m-1 2h0m2 2h0m0 7h0m1 1h0m24-99h0m2 2h0m1 1h0m-1 3h0m-4 1h0m-1 0h0m1 3h0m2 1h0m4 0h0m-9 3h0m8 0h0m-12 1h0m10 6h0m-9 2h0m-1 3h0m3 1h0m5 4h0m4 6h0m-4 3h0m4 0h0m2 2h0m-3 4h0m15-43h0m4 0h0m-2 0h0m-6 4h0m5 3h0m-6 1h0m6 1h0m-5 0h0m-6 0h0m0 1h0m12 0h0m2 1h0m-12 1h0m1 3h0m2 3h0m-4 1h0m9 1h0m-3 2h0m-5 1h0m7 1h0m-10 1h0m-1 0h0m15 1h0m-10 2h0m-4 0h0m2 1h0m2 1h0m7 3h0m-9 1h0m7 1h0m-2 1h0m-6 2h0m6 2h0m-3 0h0m7 2h0m2 2h0m-6 1h0m7 1h0m-8 1h0m4 0h0m14-46h0m0 0h0m4 1h0m-11 2h0m10 0h0m2 1h0m-12 0h0m5 3h0m7 3h0m-1 0h0m-11 1h0m13 1h0m-13 2h0m12 0h0m-14 1h0m0 6h0m3 0h0m6 1h0m-3 0h0m-3 1h0m5 1h0m-2 2h0m7 1h0m-2 1h0m-4 1h0m8 1h0m-4 2h0m-6 1h0m5 0h0m1 3h0m2 1h0m-8 0h0m11 2h0m-6 1h0m-5 0h0m0 3h0m4 1h0m1 0h0m5 1h0m-15 3h0m6 0h0m-3 1h0m8 1h0m10-47h0m-3 1h0m5 1h0m-6 2h0m5 1h0m1 3h0m4 1h0m1 2h0m-1 0h0m-8 2h0m10 0h0m-10 0h0m13 0h0m0 3h0m-15 0h0m6 3h0m6 2h0m-9 1h0m6 0h0m-3 0h0m1 3h0m-5 0h0m7 1h0m-4 1h0m2 3h0m-7 0h0m4 1h0m4 2h0m-8 0h0m13 1h0m-3 4h0m-10 0h0m7 2h0m7 0h0m-1 2h0m-3 2h0m2 0h0m1 2h0m-11 1h0m6 1h0m4 3h0m8-50h0m-1 1h0m3 2h0m-1 1h0m-2 1h0m5 1h0m7 2h0m0 0h0m-10 1h0m3 0h0m1 1h0m1 1h0m-8 0h0m13 0h0m-6 4h0m4 4h0m-13 0h0m9 1h0m-2 1h0m-7 0h0m12 0h0m1 3h0m-2 4h0m2 0h0m-9 2h0m3 2h0m-6 0h0m9 2h0m-7 1h0m10 0h0m-7 2h0m4 1h0m0 2h0m-10 1h0m4 1h0m-5 1h0m15 1h0m-2 1h0m-1 1h0m-10 0h0m6 1h0m-1 2h0m-4 1h0m27-47h0m2 1h0m-1 0h0m-6 0h0m-2 0h0m-6 1h0m9 1h0m-1 2h0m3 2h0m3 1h0m-5 3h0m4 0h0m0 0h0m-10 3h0m6 1h0m-2 3h0m-4 0h0m1 6h0m0 2h0m6 1h0m-9 2h0m-1 0h0m12 2h0m-4 0h0m-5 2h0m0 0h0m1 0h0m9 2h0m-7 0h0m-4 2h0m-1 1h0m-2 0h0m7 1h0m-3 2h0m9 0h0m-12 1h0m4 0h0m5 3h0m-1 2h0m-3 0h0m2 1h0m3 2h0m-5 1h0m8 0h0m0 6h0m1 2h0m16-65h0m-14 5h0m7 1h0m-6 1h0m10 0h0m-10 2h0m10 1h0m-10 3h0m12 1h0m-7 3h0m1 4h0m-2 1h0m10 2h0m-5 0h0m-10 0h0m14 0h0m-8 0h0m-4 3h0m0 0h0m3 0h0m6 1h0m-7 0h0m7 0h0m-12 1h0m13 1h0m-3 1h0m0 1h0m3 1h0m-6 1h0m-2 2h0m4 0h0m1 2h0m4 2h0m-5 1h0m2 0h0m-1 3h0m-7 0h0m0 2h0m9 3h0m-7 2h0m10 3h0m0 0h0m-5 1h0m-1 2h0m-3 2h0m0 0h0m-5 1h0m9 1h0m-4 3h0m-4 1h0m11 1h0m18-67h0m1 6h0m-1 3h0m-8 2h0m-3 1h0m7 1h0m4 0h0m-14 3h0m6 1h0m-3 0h0m3 1h0m7 3h0m-6 0h0m8 3h0m-11 1h0m2 0h0m3 2h0m-8 1h0m0 1h0m1 1h0m1 1h0m10 1h0m-7 0h0m2 2h0m1 0h0m6 1h0m-14 0h0m8 0h0m2 1h0m-1 3h0m-6 2h0m-2 0h0m4 1h0m-6 0h0m9 1h0m6 2h0m-5 0h0m-3 2h0m-7 2h0m8 3h0m1 0h0m3 2h0m-12 1h0m6 2h0m3 0h0m-8 0h0m13 1h0m-1 2h0m-10 1h0m-2 2h0m11 0h0m-9 1h0m10 0h0m-1 2h0m-2 1h0m-10 1h0m3 1h0m-3 1h0m23-76h0m3 1h0m-6 4h0m8 2h0m-8 2h0m0 0h0m4 5h0m-3 2h0m9 0h0m-15 0h0m10 0h0m3 2h0m-2 0h0m-2 1h0m4 1h0m-3 0h0m-7 1h0m13 2h0m-14 1h0m3 1h0m8 0h0m-3 2h0m-8 2h0m-1 0h0m2 1h0m6 0h0m-9 0h0m14 1h0m0 0h0m1 1h0m-6 0h0m5 2h0m-9 4h0m5 0h0m-9 1h0m1 2h0m0 0h0m0 0h0m10 1h0m-12 4h0m14 2h0m-1 3h0m0 0h0m-7 1h0m1 5h0m3 0h0m-6 1h0m3 0h0m6 0h0m-3 1h0m2 2h0m3 1h0m-8 2h0m6 0h0m-5 0h0m-3 0h0m4 1h0m2 1h0m-2 0h0m4 1h0m1 0h0m-11 1h0m12 1h0m-1 1h0m-5 5h0m1 0h0m0 2h0m2 0h0m0 1h0m4 1h0m-12 2h0m5 1h0m7 1h0m-6 1h0m5 3h0m-7 0h0m2 2h0m6 3h0m-2 0h0m-1 1h0m-3 1h0m-5 0h0m3 1h0m-2 3h0m5 0h0m-6 14h0m11 2h0m-3 0h0m2 5h0m-5 3h0m3 3h0m-4 0h0m3 1h0m12-130h0m1 3h0m-5 2h0m-3 4h0m13 2h0m-2 1h0m3 1h0m-5 1h0m-7 2h0m2 2h0m-1 0h0m4 2h0m7 0h0m-9 1h0m-6 1h0m3 1h0m6 0h0m0 1h0m6 1h0m-12 2h0m10 0h0m-10 1h0m5 1h0m-2 2h0m-4 0h0m11 0h0m0 1h0m-8 1h0m8 0h0m3 1h0m-6 0h0m5 0h0m-5 1h0m-6 0h0m5 2h0m-6 0h0m-2 0h0m11 2h0m-11 1h0m0 0h0m7 0h0m6 6h0m-6 1h0m0 1h0m-3 2h0m-3 5h0m3 2h0m-2 4h0m6 1h0m-7 2h0m1 1h0m9 0h0m1 0h0m2 2h0m0 1h0m-4 0h0m-8 1h0m6 1h0m-3 0h0m0 0h0m6 1h0m-11 0h0m12 1h0m-8 0h0m0 1h0m-4 0h0m6 0h0m-4 1h0m11 0h0m-13 0h0m4 1h0m7 1h0m-10 0h0m1 1h0m13 0h0m-16 1h0m6 0h0m9 1h0m-3 2h0m-4 1h0m2 0h0m4 1h0m-11 0h0m0 2h0m11 1h0m-6 0h0m-1 0h0m6 0h0m-4 1h0m1 1h0m0 0h0m-1 0h0m-9 1h0m10 0h0m-10 1h0m7 0h0m8 1h0m-7 0h0m7 5h0m-9 4h0m-4 0h0m7 1h0m-6 0h0m10 0h0m-9 1h0m5 1h0m6 2h0m-8 3h0m4 0h0m-2 3h0m-3 1h0m4 2h0m0 1h0m3 0h0m-6 3h0m-4 3h0m6 4h0m-1 0h0m-5 1h0m10 1h0m-13 1h0m14 0h0m-10 0h0m2 1h0m8 2h0m-4 6h0m5 1h0m-10 0h0m8 1h0m-5 2h0m-4 0h0m3 2h0m4 1h0m-4 8h0m20-159h0m-5 0h0m4 2h0m2 3h0m-8 3h0m2 8h0m9 1h0m0 1h0m-9 1h0m-1 1h0m-5 2h0m13 3h0m-6 1h0m2 0h0m-8 1h0m3 0h0m-3 0h0m9 1h0m3 1h0m-10 1h0m1 2h0m4 0h0m-6 1h0m13 1h0m-9 1h0m6 0h0m-8 1h0m8 1h0m3 2h0m-11 1h0m7 1h0m1 2h0m-2 1h0m1 0h0m1 1h0m0 0h0m0 3h0m-4 0h0m-7 1h0m8 0h0m5 1h0m-12 2h0m1 3h0m5 4h0m-3 2h0m-3 0h0m13 1h0m-3 1h0m-7 3h0m8 3h0m-8 0h0m4 0h0m-7 0h0m9 0h0m-5 1h0m8 1h0m-2 0h0m0 1h0m2 0h0m-8 1h0m3 0h0m-1 2h0m3 1h0m2 0h0m3 1h0m-5 1h0m4 1h0m-8 1h0m-4 1h0m8 0h0m-8 1h0m7 1h0m-9 0h0m2 1h0m-1 1h0m4 1h0m2 0h0m0 0h0m-4 2h0m3 0h0m-1 0h0m4 1h0m4 2h0m-4 0h0m-2 1h0m-8 1h0m5 0h0m3 1h0m-7 0h0m4 1h0m-1 0h0m10 0h0m-13 1h0m1 1h0m-1 1h0m15 1h0m-6 0h0m-6 1h0m11 4h0m-9 0h0m4 0h0m-3 1h0m-6 3h0m3 1h0m-1 1h0m0 1h0m0 6h0m-2 1h0m13 0h0m-7 2h0m7 1h0m-9 2h0m6 1h0m-1 0h0m5 1h0m-2 7h0m-10 0h0m10 2h0m-3 2h0m-8 1h0m10 0h0m-1 1h0m-5 3h0m-4 2h0m-1 3h0m18-147h0m-2 3h0m12 5h0m-3 2h0m-5 0h0m0 4h0m3 0h0m6 3h0m0 3h0m-6 1h0m-7 3h0m9 0h0m-5 1h0m8 2h0m-12 2h0m10 0h0m-4 0h0m3 1h0m2 0h0m2 3h0m-9 2h0m7 1h0m2 0h0m-5 2h0m-6 1h0m7 1h0m4 0h0m-5 0h0m-2 1h0m-4 0h0m0 0h0m5 1h0m7 0h0m-13 1h0m6 0h0m3 1h0m-4 1h0m-3 1h0m-3 1h0m9 0h0m-9 0h0m6 2h0m5 0h0m-11 0h0m15 4h0m-12 0h0m9 4h0m-2 2h0m-6 8h0m-5 1h0m10 2h0m-5 2h0m0 1h0m6 0h0m-6 1h0m8 1h0m-4 3h0m3 0h0m-1 0h0m-3 1h0m-1 1h0m2 2h0m6 0h0m-1 1h0m-9 1h0m-3 2h0m9 1h0m-8 1h0m13 0h0m-9 0h0m-5 1h0m6 2h0m-8 1h0m1 0h0m9 2h0m5 0h0m-8 1h0m-4 1h0m12 0h0m-2 1h0m-10 0h0m23-94h0m4 3h0m-8 0h0m3 1h0m6 6h0m0 5h0m-9 2h0m4 1h0m6 2h0m-13 1h0m12 3h0m-14 0h0m10 2h0m-6 2h0m3 0h0m6 1h0m-1 1h0m-12 1h0m1 1h0m-1 0h0m2 1h0m6 2h0m1 1h0m3 0h0m-11 0h0m1 0h0m1 0h0m-3 0h0m2 0h0m4 2h0m8 1h0m-9 0h0m-6 1h0m10 0h0m-1 1h0m-3 0h0m4 0h0m-3 1h0m3 9h0m1 2h0m3 1h0m-5 1h0m5 2h0m-7 0h0m-1 1h0m8 4h0m-10 1h0m2 2h0m-1 1h0m5 1h0m3 1h0m-3 2h0m-8 3h0m13 1h0m-10 0h0m9 1h0m-13 0h0m4 1h0m7 1h0m0 0h0m-11 0h0m10 0h0m-4 1h0m1 1h0m-4 1h0m0 0h0m-3 0h0m11 3h0m-3 1h0m6 4h0m-15 1h0m5 0h0m7 3h0m-4 1h0m5 0h0m2 0h0m-6 1h0m3 1h0m-9 0h0m22-96h0m-6 4h0m-3 7h0m7 1h0m4 1h0m-2 0h0m5 1h0m-11 3h0m7 0h0m-7 0h0m12 1h0m-13 0h0m4 9h0m2 1h0m1 0h0m3 1h0m-6 1h0m1 1h0m6 0h0m-1 1h0m-1 2h0m-9 0h0m-2 0h0m9 0h0m-8 1h0m4 0h0m-1 0h0m10 2h0m2 2h0m-10 0h0m9 0h0m-4 2h0m-2 7h0m3 0h0m-11 1h0m5 1h0m-1 0h0m0 5h0m7 0h0m-8 0h0m5 1h0m3 4h0m2 1h0m-13 1h0m12 1h0m2 1h0m-7 0h0m-5 1h0m10 1h0m-7 1h0m-6 0h0m5 2h0m-2 0h0m7 1h0m-8 0h0m12 1h0m-12 2h0m1 0h0m11 1h0m-8 1h0m4 1h0m1 1h0m0 0h0m4 2h0m-11 1h0m5 2h0m-8 1h0m5 2h0m9 0h0m-7 2h0m6 2h0m1 0h0m-10 4h0m3 0h0m6 0h0m-6 2h0m5 0h0m-5 1h0m1 0h0m-9 0h0m8 1h0m-3 0h0m25-132h0m2 32h0m-13 3h0m-2 2h0m6 2h0m-2 6h0m0 0h0m6 0h0m-2 3h0m-5 0h0m8 2h0m-7 2h0m8 2h0m3 3h0m-7 2h0m0 2h0m6 2h0m-8 1h0m-4 1h0m8 0h0m-11 0h0m4 2h0m3 0h0m7 0h0m-12 0h0m0 3h0m3 1h0m6 2h0m2 0h0m-6 0h0m-5 1h0m11 0h0m-8 0h0m10 0h0m-3 0h0m-5 2h0m-4 1h0m6 0h0m1 0h0m2 0h0m-10 5h0m13 4h0m-14 2h0m8 2h0m4 1h0m-6 0h0m-4 3h0m10 3h0m2 2h0m-11 1h0m-1 0h0m1 2h0m10 0h0m-5 0h0m5 1h0m-2 1h0m-3 0h0m-4 0h0m10 1h0m-13 2h0m13 0h0m-13 1h0m6 0h0m3 1h0m-5 2h0m6 2h0m0 0h0m0 3h0m1 1h0m-6 1h0m0 3h0m-3 1h0m1 1h0m4 0h0m-7 3h0m1 0h0m10 1h0m-12 2h0m4 0h0m-4 0h0m7 1h0m-2 1h0m10 0h0m15-100h0m-13 3h0m10 4h0m0 3h0m-11 3h0m5 1h0m-3 2h0m-1 3h0m13 0h0m-13 1h0m1 2h0m6 2h0m-6 2h0m7 3h0m1 1h0m4 4h0m-7 0h0m3 0h0m-6 0h0m7 1h0m-1 0h0m-4 0h0m-2 3h0m5 0h0m3 2h0m-5 0h0m0 1h0m-1 2h0m3 1h0m-10 0h0m15 0h0m-9 0h0m8 1h0m-1 1h0m-6 6h0m5 1h0m-2 5h0m-2 2h0m-2 0h0m-4 1h0m10 0h0m0 4h0m-8 1h0m-1 0h0m12 2h0m-13 0h0m7 0h0m-8 1h0m10 1h0m4 2h0m-1 1h0m1 2h0m-10 0h0m-3 2h0m7 1h0m0 1h0m-8 1h0m7 1h0m-4 1h0m-2 2h0m0 1h0m1 1h0m8 1h0m2 0h0m0 0h0m0 1h0m-3 0h0m2 0h0m-1 2h0m-11 0h0m16 1h0m-8 0h0m-4 0h0m6 2h0m-5 1h0m-5 0h0m6 0h0m2 0h0m-3 1h0m7 2h0m-8 1h0m22-92h0m5 0h0m-1 2h0m-4 11h0m0 0h0m4 2h0m-6 1h0m-1 1h0m-5 0h0m12 2h0m-2 0h0m-9 0h0m2 1h0m7 0h0m-12 1h0m16 0h0m-13 1h0m5 4h0m-4 0h0m4 2h0m-7 0h0m13 1h0m-5 2h0m-2 1h0m5 0h0m-8 0h0m12 1h0m-12 1h0m-3 0h0m3 0h0m3 3h0m-6 1h0m10 0h0m-1 0h0m3 3h0m-10 3h0m0 0h0m-3 0h0m9 2h0m5 5h0m0 1h0m-9 0h0m4 4h0m-2 1h0m-3 0h0m11 1h0m-14 1h0m10 3h0m-4 2h0m-4 1h0m13 3h0m-14 3h0m12 1h0m-9 1h0m-3 1h0m11 1h0m-9 0h0m8 1h0m-4 0h0m-4 4h0m7 0h0m1 1h0m-4 2h0m0 0h0m0 1h0m-7 1h0m2 0h0m11 0h0m-3 2h0m3 0h0m-4 0h0m1 0h0m3 1h0m-12 1h0m3 0h0m2 0h0m3 1h0m2 0h0m-8 2h0m9 2h0m-13 0h0m0 1h0m17-101h0m7 1h0m-3 3h0m1 1h0m5 0h0m-9 0h0m2 1h0m-1 6h0m6 6h0m5 1h0m-8 1h0m1 0h0m-1 3h0m3 0h0m6 0h0m-3 2h0m2 1h0m-3 1h0m-11 0h0m9 1h0m3 2h0m1 5h0m-12 0h0m3 0h0m0 0h0m7 1h0m1 1h0m0 1h0m-6 2h0m8 0h0m-14 2h0m3 1h0m3 1h0m4 0h0m-1 1h0m4 2h0m3 0h0m-6 1h0m-6 1h0m7 1h0m-4 7h0m0 2h0m7 1h0m-9 4h0m-3 1h0m-1 0h0m4 2h0m10 0h0m-3 0h0m-11 2h0m10 0h0m5 4h0m-6 3h0m-9 1h0m5 0h0m5 0h0m-2 2h0m-1 0h0m-5 0h0m3 1h0m5 0h0m-5 0h0m9 4h0m-10 1h0m3 0h0m1 1h0m-2 2h0m-4 1h0m6 1h0m-7 0h0m0 3h0m1 1h0m-1 1h0m-1 0h0m3 0h0m2 0h0m8 1h0m-6 0h0m6 3h0m-6 2h0m5 1h0m4-103h0m6 5h0m1 1h0m-4 3h0m1 5h0m6 4h0m4 1h0m-8 2h0m5 1h0m1 3h0m-3 3h0m-3 1h0m4 2h0m-10 1h0m-1 0h0m1 1h0m5 3h0m-1 0h0m1 1h0m3 1h0m-9 0h0m14 1h0m-5 0h0m-5 1h0m6 1h0m-7 1h0m12 0h0m-2 0h0m-6 0h0m1 2h0m6 1h0m0 0h0m-11 1h0m11 0h0m-7 1h0m-4 0h0m4 1h0m5 0h0m1 1h0m-8 1h0m10 2h0m-11 2h0m3 8h0m-5 0h0m-1 2h0m10 0h0m-10 1h0m13 1h0m-5 1h0m4 0h0m-10 1h0m7 1h0m-3 1h0m-2 1h0m9 3h0m1 5h0m-1 0h0m2 2h0m-7 1h0m-2 0h0m0 3h0m-7 3h0m11 1h0m-3 3h0m2 2h0m3 1h0m-13 2h0m6 0h0m-3 0h0m-1 4h0m10 0h0m-10 0h0m1 0h0m8 1h0m-7 2h0m17-104h0m9 2h0m0 1h0m-3 5h0m-2 0h0m-6 1h0m1 1h0m2 7h0m3 3h0m3 0h0m-9 1h0m4 0h0m0 1h0m6 0h0m0 4h0m-7 1h0m-6 0h0m8 1h0m3 0h0m3 1h0m-14 0h0m11 3h0m3 1h0m-9 2h0m-4 0h0m4 2h0m-2 1h0m7 1h0m4 1h0m-11 3h0m-1 1h0m11 2h0m-13 0h0m14 1h0m-3 2h0m-7 5h0m1 1h0m5 1h0m-6 2h0m-1 1h0m7 0h0m2 2h0m-4 2h0m7 1h0m-3 0h0m1 1h0m-6 0h0m9 1h0m-2 3h0m-13 0h0m6 2h0m0 0h0m6 3h0m3 2h0m-12 2h0m6 0h0m-8 0h0m10 1h0m-12 3h0m9 3h0m4 3h0m-2 1h0m-3 1h0m-4 2h0m4 1h0m-4 0h0m6 2h0m-5 0h0m-4 2h0m14 0h0m-12 4h0m-2 2h0m14 1h0m9-101h0m-5 6h0m11 2h0m-3 1h0m-4 1h0m1 4h0m2 1h0m-5 3h0m1 0h0m7 1h0m-2 3h0m2 1h0m-13 1h0m4 0h0m1 1h0m0 0h0m3 0h0m6 1h0m-4 2h0m-9 2h0m13 0h0m-10 1h0m-4 1h0m16 1h0m-2 5h0m-4 1h0m-4 1h0m6 0h0m-1 1h0m-3 0h0m3 1h0m5 0h0m-13 1h0m4 1h0m4 2h0m2 0h0m-12 3h0m7 3h0m7 1h0m-9 1h0m-2 2h0m4 2h0m-7 2h0m3 3h0m0 0h0m10 1h0m-13 2h0m7 0h0m-5 0h0m6 3h0m-1 1h0m-5 3h0m11 2h0m-9 3h0m1 2h0m1 0h0m0 1h0m-5 2h0m0 1h0m12 1h0m2 3h0m-5 5h0m-8 2h0m13 1h0m-8 0h0m5 3h0m-1 1h0m0 0h0m-3 1h0m19-100h0m-1 0h0m-10 2h0m2 2h0m1 2h0m-3 1h0m10 3h0m5 0h0m-7 7h0m-3 1h0m-5 3h0m11 0h0m-7 1h0m8 0h0m-1 1h0m-2 1h0m-8 0h0m8 1h0m6 2h0m-9 2h0m8 1h0m-5 2h0m-1 2h0m-4 2h0m1 2h0m0 0h0m-3 1h0m3 0h0m-4 1h0m1 0h0m7 0h0m6 1h0m-12 0h0m3 0h0m4 2h0m0 0h0m-9 1h0m8 0h0m5 0h0m-5 4h0m-5 1h0m2 3h0m8 0h0m-11 6h0m9 0h0m-12 4h0m0 1h0m11 2h0m-4 3h0m-8 1h0m13 3h0m-7 1h0m7 3h0m-1 1h0m0 0h0m-5 3h0m0 0h0m-2 1h0m10 0h0m-2 1h0m-3 3h0m-1 0h0m7 2h0m-12 1h0m-3 6h0m3 0h0m0 1h0m4 1h0m7 0h0m-12 1h0m-3 2h0m8 1h0m13-101h0m1 0h0m9 4h0m-4 2h0m-5 0h0m-5 7h0m7 1h0m-1 4h0m1 0h0m7 0h0m-8 2h0m5 1h0m-7 1h0m6 4h0m1 1h0m-4 1h0m-8 0h0m8 1h0m1 1h0m-3 3h0m0 0h0m8 1h0m-11 0h0m-1 0h0m2 0h0m8 4h0m0 0h0m1 1h0m3 1h0m-13 1h0m8 0h0m3 1h0m-1 0h0m-11 0h0m5 3h0m1 0h0m-5 0h0m12 0h0m-14 4h0m-1 3h0m6 1h0m-4 5h0m2 0h0m10 1h0m-6 0h0m-2 1h0m6 0h0m-1 1h0m-2 3h0m-2 1h0m5 0h0m-12 1h0m8 0h0m6 3h0m-1 1h0m-3 1h0m-3 0h0m-3 1h0m0 3h0m-2 0h0m9 1h0m-1 4h0m-9 1h0m13 4h0m0 0h0m-11 2h0m-1 8h0m13 0h0m-11 2h0m2 0h0m-1 2h0m8 0h0m5-101h0m12 3h0m-1 0h0m-10 5h0m-1 1h0m-2 1h0m11 7h0m-6 2h0m4 1h0m1 2h0m-3 2h0m0 2h0m4 2h0m3 4h0m-6 1h0m3 2h0m4 0h0m-8 1h0m-7 0h0m6 1h0m7 3h0m0 0h0m-12 1h0m5 0h0m-3 0h0m2 0h0m2 1h0m2 0h0m-6 0h0m8 1h0m-7 1h0m1 0h0m6 0h0m4 0h0m-1 3h0m-1 1h0m-13 3h0m9 0h0m-5 3h0m-1 2h0m6 2h0m2 3h0m3 1h0m-1 2h0m-5 1h0m-6 3h0m9 0h0m-6 1h0m10 0h0m-7 0h0m5 1h0m-4 3h0m-5 3h0m12 4h0m-11 1h0m5 1h0m-5 2h0m8 2h0m-6 3h0m3 1h0m-9 2h0m9 1h0m2 0h0m-10 2h0m13 0h0m-9 1h0m-1 4h0m-4 0h0m12 1h0m-10 2h0m28-104h0m-14 5h0m12 1h0m-9 1h0m2 2h0m-6 9h0m5 2h0m2 2h0m-4 1h0m9 0h0m-7 0h0m4 1h0m0 0h0m1 1h0m-3 1h0m1 2h0m4 2h0m3 2h0m-2 0h0m-13 3h0m16 2h0m-9 0h0m0 2h0m6 0h0m-10 0h0m7 1h0m-7 0h0m13 0h0m-11 0h0m3 2h0m0 1h0m5 0h0m-13 1h0m4 0h0m4 0h0m-7 1h0m11 1h0m-3 3h0m-5 9h0m-2 0h0m4 0h0m9 2h0m-4 5h0m-7 1h0m3 1h0m-4 0h0m10 1h0m2 0h0m-3 1h0m-1 0h0m-5 5h0m5 2h0m-7 2h0m12 1h0m-4 1h0m-3 1h0m-6 1h0m11 0h0m2 1h0m-5 0h0m-2 0h0m-9 2h0m12 5h0m4 3h0m-12 1h0m0 1h0m2 2h0m1 1h0m-6 1h0m8 1h0m-5 2h0m-3 2h0m29-132h0m0 2h0m-4 2h0m1 7h0m3 5h0m-4 1h0m1 1h0m2 4h0m0 11h0m-13 1h0m13 0h0m-12 1h0m14 4h0m-9 1h0m3 3h0m-5 2h0m3 2h0m-3 1h0m8 1h0m-9 2h0m7 0h0m1 0h0m1 2h0m0 0h0m4 1h0m-11 1h0m-3 1h0m2 0h0m-1 3h0m-1 1h0m6 0h0m-8 0h0m4 4h0m6 2h0m5 1h0m-5 1h0m-2 0h0m0 0h0m0 1h0m8 4h0m-2 1h0m-6 4h0m-2 0h0m-6 2h0m6 1h0m-4 0h0m13 1h0m-1 0h0m-4 2h0m2 2h0m-3 1h0m-2 0h0m-6 2h0m11 2h0m3 3h0m-7 0h0m-6 1h0m4 0h0m-1 0h0m5 1h0m-5 0h0m5 1h0m1 2h0m-3 0h0m-7 2h0m14 2h0m-12 3h0m11 1h0m-14 3h0m15 3h0m-3 0h0m0 0h0m-8 1h0m2 1h0m6 2h0m0 2h0m-8 1h0m0 3h0m-2 3h0m7 3h0m5 0h0m-9 1h0m4 1h0m20-130h0m2 2h0m-9 0h0m7 5h0m-10 1h0m-3 0h0m10 0h0m-6 2h0m3 2h0m3 0h0m-8 3h0m7 0h0m1 0h0m4 1h0m-8 2h0m5 10h0m-4 0h0m9 1h0m-6 0h0m2 1h0m-6 0h0m-5 1h0m12 9h0m-11 2h0m10 6h0m-12 1h0m9 1h0m-3 1h0m-3 0h0m0 2h0m10 1h0m-3 1h0m-5 2h0m-4 5h0m5 0h0m-1 1h0m4 0h0m-1 1h0m-2 0h0m10 1h0m-4 3h0m2 0h0m-13 1h0m14 0h0m-1 1h0m-12 0h0m7 2h0m-2 2h0m-3 0h0m11 1h0m-2 1h0m-10 0h0m11 3h0m-5 2h0m-7 0h0m9 2h0m1 1h0m-6 1h0m-3 1h0m-2 1h0m3 2h0m9 0h0m3 3h0m-8 2h0m-6 1h0m10 0h0m-7 0h0m4 1h0m2 0h0m-7 2h0m11 7h0m-2 1h0m-1 1h0m-4 4h0m-1 0h0m-4 0h0m1 1h0m4 4h0m-8 3h0m7 2h0m7 1h0m-4 0h0m-3 2h0m-6 0h0m1 2h0m9 2h0m1 0h0m7-120h0m-3 1h0m1 3h0m5 6h0m-2 0h0m4 1h0m-2 1h0m2 0h0m2 0h0m-1 12h0m3 2h0m2 3h0m-4 1h0m4 2h0m-13 3h0m4 2h0m8 0h0m-7 3h0m8 1h0m-7 2h0m1 0h0m-2 2h0m9 0h0m-5 1h0m0 1h0m-4 2h0m-5 1h0m6 0h0m-5 2h0m3 2h0m-3 0h0m13 1h0m-15 2h0m9 1h0m-5 1h0m3 2h0m2 0h0m-7 0h0m13 1h0m-13 2h0m11 0h0m-4 2h0m-6 0h0m3 1h0m4 4h0m5 2h0m-13 3h0m7 4h0m3 0h0m2 0h0m-1 1h0m-12 1h0m6 1h0m5 1h0m-7 1h0m0 0h0m-1 2h0m12 0h0m-1 2h0m-11 0h0m1 1h0m7 0h0m-5 2h0m3 1h0m-9 5h0m0 0h0m0 1h0m9 3h0m-8 2h0m0 2h0m3 0h0m10 2h0m-2 1h0m-6 2h0m5 1h0m-10 1h0m7 4h0m-1 1h0m-2 1h0m5 3h0m20-101h0m-8 2h0m-6 2h0m6 4h0m5 4h0m0 1h0m-8 4h0m12 5h0m-3 0h0m-9 0h0m4 2h0m5 1h0m-12 0h0m9 1h0m-6 2h0m2 0h0m9 1h0m-7 2h0m7 0h0m-14 1h0m10 1h0m-2 0h0m0 1h0m-1 1h0m-4 1h0m10 1h0m-4 0h0m-6 3h0m0 1h0m-1 1h0m3 1h0m0 2h0m6 2h0m0 1h0m-8 2h0m9 2h0m2 1h0m-9 1h0m7 1h0m-8 0h0m9 1h0m-11 3h0m3 1h0m-6 0h0m9 1h0m-9 3h0m8 1h0m-4 0h0m-4 1h0m4 4h0m-1 0h0m5 1h0m1 1h0m7 0h0m-7 1h0m-4 0h0m7 0h0m-5 1h0m7 4h0m-1 3h0m3 1h0m-14 2h0m7 4h0m-8 1h0m11 0h0m-11 1h0m2 1h0m3 4h0m4 2h0m3 2h0m8-100h0m11 2h0m-6 1h0m0 0h0m-4 7h0m9 7h0m-12 3h0m8 1h0m2 1h0m2 1h0m-1 1h0m-2 2h0m-10 2h0m2 1h0m9 1h0m-9 1h0m6 0h0m-3 3h0m1 0h0m4 0h0m-12 2h0m3 1h0m0 1h0m7 2h0m6 0h0m-15 1h0m5 2h0m-5 0h0m8 0h0m-2 0h0m8 1h0m-13 1h0m5 1h0m6 0h0m-2 5h0m-6 4h0m11 2h0m-5 1h0m-4 4h0m-3 0h0m5 1h0m0 2h0m-4 1h0m2 0h0m-7 0h0m8 0h0m-4 1h0m7 0h0m-3 0h0m5 1h0m-9 0h0m-2 1h0m13 2h0m-7 3h0m4 0h0m-8 2h0m0 0h0m-2 2h0m-2 0h0m13 2h0m-4 7h0m3 5h0m-10 3h0m9 4h0m3 0h0m-8 3h0m4 0h0m-5 0h0m0 0h0m22-102h0m-4 4h0m1 2h0m-6 2h0m3 1h0m9 1h0m-7 3h0m2 7h0m-5 0h0m6 1h0m3 2h0m-6 0h0m-3 0h0m3 1h0m-5 0h0m14 1h0m-12 2h0m11 1h0m-2 1h0m-11 1h0m12 1h0m-14 0h0m5 3h0m7 0h0m-7 3h0m8 0h0m-3 2h0m5 3h0m-11 1h0m9 1h0m-9 0h0m-4 0h0m10 1h0m-4 0h0m5 3h0m2 0h0m2 1h0m-13 2h0m10 0h0m-1 1h0m-2 5h0m-5 3h0m-2 2h0m5 3h0m7 1h0m-13 2h0m-1 0h0m9 2h0m2 3h0m2 0h0m-3 2h0m2 2h0m0 0h0m-9 1h0m-1 2h0m11 0h0m-9 0h0m0 0h0m12 3h0m-10 1h0m-1 2h0m4 0h0m-2 2h0m-5 1h0m1 1h0m4 3h0m1 1h0m-1 4h0m8 3h0m-13 1h0m12 0h0m17-101h0m-10 2h0m-3 4h0m-1 0h0m5 5h0m8 3h0m-9 2h0m9 3h0m-3 0h0m0 1h0m-8 0h0m7 0h0m2 2h0m3 0h0m-13 3h0m7 0h0m4 4h0m-7 2h0m0 0h0m8 2h0m-14 4h0m16 2h0m-9 1h0m-4 1h0m2 1h0m0 2h0m5 0h0m-7 1h0m6 0h0m6 1h0m-8 0h0m0 3h0m6 1h0m1 2h0m-10 2h0m6 0h0m-5 1h0m5 0h0m-9 2h0m14 1h0m-1 2h0m2 0h0m-11 4h0m-3 1h0m-1 0h0m11 0h0m-6 1h0m-3 1h0m4 0h0m0 1h0m2 3h0m1 1h0m2 0h0m2 0h0m0 4h0m-12 0h0m0 2h0m1 3h0m-2 0h0m4 3h0m0 1h0m9 2h0m-11 0h0m3 3h0m5 2h0m-7 3h0m12 4h0m-7 0h0m2 1h0m-3 2h0m9-101h0m4 2h0m3 5h0m-7 1h0m10 5h0m-2 3h0m3 2h0m-10 1h0m13 3h0m-7 0h0m1 1h0m5 0h0m2 1h0m-5 0h0m-7 1h0m10 5h0m-14 0h0m10 0h0m5 1h0m-13 2h0m11 1h0m-8 0h0m2 2h0m5 0h0m-8 0h0m9 3h0m-6 1h0m0 1h0m-3 1h0m11 0h0m-4 0h0m2 1h0m-11 0h0m1 0h0m8 1h0m-5 0h0m10 0h0m-15 0h0m3 3h0m-3 1h0m7 0h0m6 0h0m-9 3h0m4 1h0m-4 2h0m-3 0h0m7 1h0m3 1h0m-5 9h0m-3 0h0m-2 2h0m12 2h0m-8 2h0m8 1h0m-2 1h0m-1 6h0m-3 2h0m-4 0h0m12 6h0m-3 1h0m2 0h0m-8 1h0m-4 2h0m8 0h0m-1 0h0m0 1h0m-4 1h0m-5 0h0m13 1h0m-14 6h0m1 0h0m4 1h0m25-103h0m-14 0h0m8 7h0m-1 0h0m6 5h0m-4 8h0m5 2h0m-12 1h0m8 1h0m-5 3h0m10 2h0m-10 1h0m8 1h0m-10 2h0m4 0h0m7 2h0m-3 3h0m-8 0h0m6 0h0m-6 0h0m0 0h0m7 1h0m-9 0h0m-1 2h0m14 1h0m-9 1h0m9 1h0m-8 0h0m4 0h0m-1 0h0m-9 0h0m14 1h0m-5 0h0m3 2h0m-4 0h0m2 0h0m-8 2h0m9 1h0m-4 0h0m3 0h0m-9 1h0m2 2h0m10 1h0m3 2h0m-11 5h0m1 1h0m-3 0h0m11 1h0m-3 2h0m-10 1h0m14 1h0m-7 1h0m-5 2h0m3 5h0m9 2h0m-3 0h0m-9 2h0m7 0h0m-1 4h0m-1 2h0m-2 2h0m-2 0h0m3 2h0m6 0h0m-2 0h0m-7 0h0m7 1h0m2 3h0m-11 6h0m2 1h0m11 2h0m11-97h0m-9 2h0m9 6h0m5 3h0m-1 3h0m-1 4h0m-4 0h0m-5 1h0m11 1h0m-11 0h0m2 0h0m-3 1h0m-2 1h0m13 0h0m-11 0h0m10 1h0m-4 1h0m-2 1h0m4 4h0m-8 1h0m12 0h0m-10 1h0m-3 0h0m-1 1h0m6 3h0m4 1h0m-7 0h0m6 0h0m3 0h0m2 1h0m-9 0h0m9 1h0m-6 1h0m-2 0h0m-4 0h0m-1 1h0m-1 0h0m10 0h0m-10 0h0m12 1h0m2 0h0m-12 7h0m3 2h0m-3 6h0m1 2h0m7 0h0m0 2h0m-4 0h0m7 3h0m-2 2h0m-6 1h0m-3 1h0m10 1h0m-5 2h0m5 1h0m-10 0h0m5 2h0m0 0h0m-3 1h0m-4 0h0m8 1h0m-2 3h0m5 2h0m-7 2h0m-4 1h0m14 1h0m-9 0h0m7 3h0m-11 1h0m8 3h0m-7 0h0m13 0h0m1-95h0m14 2h0m-3 2h0m-9 2h0m13 0h0m-2 1h0m-4 4h0m-4 1h0m-1 1h0m4 5h0m-2 2h0m-4 1h0m1 1h0m11 3h0m-5 4h0m4 1h0m-6 0h0m-6 1h0m5 0h0m-4 1h0m9 1h0m-2 1h0m-8 0h0m8 2h0m4 0h0m-7 1h0m-6 0h0m4 1h0m0 3h0m2 1h0m-2 0h0m3 0h0m3 3h0m-10 1h0m13 0h0m-1 0h0m0 1h0m1 0h0m-10 6h0m-1 2h0m8 0h0m-3 0h0m-3 2h0m11 1h0m-15 1h0m7 1h0m0 0h0m-3 5h0m-4 0h0m7 3h0m-3 0h0m-2 2h0m9 8h0m-8 2h0m11 0h0m-8 2h0m2 4h0m5 0h0m1 1h0m-12 2h0m7 1h0m-3 1h0m0 1h0m-2 1h0m6 1h0m1 2h0m-1 1h0m-9 1h0m10 1h0m-10 2h0m12 0h0m6-101h0m7 0h0m-11 6h0m11 3h0m3 1h0m-1 2h0m-6 0h0m-7 1h0m13 7h0m-5 2h0m-5 2h0m4 0h0m1 0h0m-4 1h0m10 1h0m-5 0h0m-4 0h0m-4 2h0m10 2h0m-2 0h0m6 2h0m-12 1h0m-2 1h0m3 0h0m12 2h0m-10 1h0m4 1h0m-8 2h0m3 1h0m0 2h0m11 0h0m-16 2h0m11 0h0m-9 5h0m6 3h0m1 3h0m-2 3h0m5 1h0m2 0h0m1 1h0m-1 0h0m-8 0h0m-1 1h0m-1 0h0m3 1h0m4 3h0m-9 0h0m0 0h0m-1 1h0m10 0h0m0 1h0m4 1h0m-8 1h0m8 2h0m-7 2h0m-7 6h0m0 1h0m11 2h0m1 1h0m-11 1h0m4 1h0m5 2h0m-2 0h0m-9 2h0m16 0h0m-11 1h0m3 0h0m4 3h0m-4 1h0m0 5h0m-3 2h0m13-100h0m7 5h0m-8 5h0m5 2h0m-1 1h0m5 4h0m-6 1h0m-4 1h0m8 1h0m-5 2h0m1 1h0m3 1h0m3 0h0m-8 1h0m3 1h0m-5 0h0m14 3h0m-7 1h0m5 1h0m0 0h0m-10 3h0m14 0h0m-15 0h0m8 3h0m3 0h0m3 1h0m-14 1h0m9 1h0m0 0h0m5 0h0m-8 0h0m7 1h0m1 0h0m-2 1h0m2 1h0m-7 0h0m1 0h0m-6 1h0m9 3h0m-6 1h0m1 2h0m3 2h0m-9 2h0m11 2h0m-8 4h0m4 1h0m5 2h0m-8 0h0m-4 1h0m3 0h0m4 0h0m-5 3h0m4 1h0m4 3h0m-6 1h0m8 5h0m-7 3h0m3 0h0m6 2h0m-13 2h0m9 0h0m-1 2h0m-8 1h0m9 2h0m5 5h0m-11 2h0m-3 0h0m0 0h0m6 2h0m-1 1h0m14-98h0m5 4h0m5 2h0m-8 5h0m3 2h0m-3 2h0m5 1h0m3 2h0m-10 2h0m7 0h0m-7 3h0m-2 1h0m0 0h0m6 0h0m-6 1h0m-2 3h0m5 1h0m-4 1h0m6 1h0m6 1h0m1 1h0m-1 2h0m-6 0h0m4 1h0m-9 1h0m-2 1h0m1 1h0m2 0h0m1 0h0m5 0h0m3 0h0m-2 1h0m-10 1h0m9 0h0m4 0h0m-12 2h0m7 0h0m-6 1h0m12 3h0m-13 2h0m12 0h0m-9 1h0m4 1h0m-2 1h0m3 0h0m-1 0h0m-3 5h0m-3 0h0m0 3h0m10 3h0m-3 2h0m-4 1h0m9 5h0m-3 0h0m1 3h0m-2 1h0m-8 1h0m-1 3h0m7 1h0m-7 1h0m12 1h0m-10 1h0m9 0h0m1 1h0m-7 0h0m4 0h0m-7 1h0m1 1h0m3 4h0m-3 2h0m-3 1h0m7 0h0m-8 1h0m10 0h0m17-99h0m-9 1h0m7 5h0m0 2h0m-3 8h0m2 4h0m-5 1h0m5 1h0m-9 1h0m13 1h0m-8 4h0m10 1h0m-14 1h0m4 1h0m-5 3h0m7 1h0m1 0h0m5 0h0m-9 2h0m7 1h0m-2 1h0m5 0h0m-2 2h0m-10 1h0m13 1h0m-13 0h0m5 1h0m-3 0h0m4 0h0m7 0h0m-4 4h0m-4 0h0m8 3h0m-9 3h0m3 1h0m-6 1h0m-3 0h0m16 3h0m-6 0h0m3 4h0m0 0h0m-5 1h0m2 2h0m-9 1h0m0 0h0m3 0h0m1 0h0m-3 1h0m3 0h0m-2 1h0m8 1h0m-1 0h0m-3 4h0m5 1h0m2 3h0m-13 4h0m12 2h0m-4 3h0m-4 3h0m3 2h0m6 1h0m-5 2h0m3 0h0m-6 0h0m9 4h0m-14 0h0m4 0h0m9 2h0m-7 1h0m-3 1h0m10 1h0m15-100h0m-7 2h0m-6 6h0m14 9h0m-4 0h0m-4 1h0m-4 0h0m3 1h0m10 1h0m-13 1h0m13 1h0m0 3h0m-6 1h0m-8 1h0m7 0h0m-4 2h0m8 0h0m-5 1h0m-1 0h0m4 1h0m-10 0h0m14 1h0m-5 0h0m1 0h0m1 0h0m-8 0h0m9 1h0m-10 5h0m4 3h0m7 0h0m0 1h0m-13 0h0m8 1h0m1 1h0m-4 0h0m3 5h0m-7 1h0m10 0h0m5 1h0m-9 0h0m3 1h0m4 1h0m-3 0h0m-5 1h0m6 0h0m-9 4h0m0 1h0m3 3h0m-4 3h0m5 2h0m3 2h0m-10 1h0m7 1h0m-3 1h0m-2 0h0m8 3h0m-7 0h0m12 0h0m-6 1h0m4 2h0m-8 3h0m-1 4h0m7 0h0m5 2h0m-4 3h0m0 1h0m4 2h0m-14 3h0m10 0h0m-7 2h0m2 1h0m22-165h0m2 8h0m-5 10h0m-1 49h0m-6 1h0m10 9h0m-12 4h0m1 2h0m10 0h0m-5 0h0m4 0h0m-6 1h0m4 1h0m0 1h0m2 2h0m2 1h0m-9 0h0m8 1h0m2 0h0m-11 1h0m2 0h0m10 3h0m-1 1h0m-8 0h0m1 0h0m8 0h0m-6 1h0m-2 2h0m-5 1h0m-2 4h0m8 1h0m-7 1h0m1 0h0m10 0h0m-12 0h0m0 1h0m15 1h0m1 1h0m-11 1h0m6 1h0m-1 1h0m-5 1h0m2 0h0m9 1h0m-1 0h0m-6 2h0m5 1h0m-7 4h0m-4 5h0m6 2h0m3 3h0m-9 1h0m2 0h0m5 0h0m0 3h0m-2 1h0m4 1h0m-7 2h0m-3 0h0m9 0h0m-4 0h0m4 4h0m-2 4h0m6 2h0m-12 1h0m1 2h0m6 2h0m4 2h0m0 0h0m-1 0h0m-6 0h0m-4 2h0m-1 0h0m13 2h0m-8 2h0m-5 1h0m21-148h0m2 9h0m6 4h0m-14 1h0m12 17h0m-10 2h0m1 7h0m8 3h0m0 5h0m-2 1h0m-6 2h0m-3 13h0m1 1h0m9 4h0m0 0h0m-3 0h0m7 2h0m-2 1h0m-3 1h0m-2 0h0m-8 1h0m6 0h0m-1 1h0m4 1h0m5 2h0m0 0h0m-13 2h0m4 2h0m-3 0h0m2 0h0m7 1h0m-9 1h0m5 1h0m7 2h0m-4 0h0m-8 2h0m13 4h0m-3 0h0m-6 0h0m0 1h0m1 0h0m-3 2h0m7 1h0m-11 2h0m3 2h0m6 1h0m0 0h0m1 0h0m3 1h0m-5 3h0m-8 1h0m4 0h0m10 6h0m-11 0h0m6 2h0m5 2h0m-7 0h0m3 3h0m-5 1h0m9 5h0m-3 2h0m-9 0h0m9 2h0m5 2h0m-14 0h0m-1 2h0m2 2h0m6 0h0m-1 0h0m2 3h0m-9 0h0m12 0h0m1 1h0m-9 0h0m1 4h0m1 0h0m-2 1h0m-3 3h0m12 0h0m16-134h0m-7 1h0m2 0h0m-8 2h0m11 4h0m-7 11h0m8 10h0m-9 0h0m5 8h0m-4 2h0m10 4h0m-12 3h0m-2 2h0m0 7h0m7 0h0m-3 1h0m0 1h0m-3 1h0m6 0h0m5 2h0m-6 2h0m8 1h0m-2 2h0m-5 0h0m1 1h0m-2 2h0m3 1h0m-9 0h0m4 1h0m-2 2h0m8 3h0m1 1h0m2 0h0m-5 1h0m-1 1h0m8 1h0m-1 1h0m0 0h0m-12 2h0m-1 0h0m11 0h0m1 1h0m-13 0h0m4 1h0m5 0h0m-4 1h0m7 1h0m3 0h0m-13 4h0m6 1h0m-6 2h0m-2 3h0m9 1h0m-3 5h0m2 2h0m1 0h0m-9 0h0m5 1h0m1 1h0m8 0h0m-12 1h0m9 4h0m-1 1h0m-1 8h0m5 1h0m-5 0h0m4 1h0m-9 0h0m3 2h0m2 3h0m3 2h0m-12 0h0m1 1h0m-2 2h0m5 0h0m-3 2h0m8 1h0m2 1h0m-5 2h0m1 15h0m-1 3h0m-7 1h0m5 4h0m8 2h0m-9 2h0m16-169h0m7 1h0m-3 0h0m8 12h0m-14 4h0m0 5h0m11 0h0m-3 7h0m3 12h0m-10 2h0m-3 1h0m15 0h0m-3 2h0m-4 0h0m2 3h0m-3 2h0m3 7h0m-1 2h0m-6 3h0m-1 1h0m11 3h0m-5 1h0m4 0h0m2 1h0m-11 1h0m5 0h0m-2 0h0m4 1h0m3 5h0m2 1h0m-11 1h0m5 2h0m-4 1h0m10 0h0m-8 1h0m-7 1h0m1 0h0m2 1h0m-2 0h0m-1 2h0m1 0h0m10 1h0m3 0h0m-8 1h0m4 1h0m-6 2h0m-1 0h0m1 1h0m5 5h0m2 1h0m3 2h0m-5 2h0m4 0h0m-6 1h0m7 0h0m0 3h0m-9 1h0m11 2h0m-15 3h0m12 4h0m-11 0h0m7 1h0m-6 1h0m0 3h0m3 2h0m2 1h0m-4 1h0m-1 0h0m6 0h0m2 3h0m5 3h0m-2 1h0m-6 0h0m-6 3h0m6 2h0m2 1h0m-4 1h0m-2 0h0m9 0h0m-1 2h0m-4 4h0m7 1h0m-1 1h0m-13 9h0m3 0h0m6 3h0m0 8h0m7-169h0m9 2h0m-5 10h0m11 1h0m-9 4h0m-5 0h0m9 10h0m5 1h0m-3 10h0m-3 4h0m-4 8h0m7 1h0m-5 5h0m-6 1h0m3 3h0m11 1h0m-14 3h0m13 0h0m-12 3h0m6 0h0m3 1h0m2 1h0m-9 1h0m1 0h0m6 1h0m-7 1h0m10 0h0m-13 3h0m5 0h0m-7 1h0m2 1h0m11 3h0m3 0h0m-12 0h0m2 3h0m6 0h0m-3 0h0m6 1h0m-4 0h0m1 1h0m-5 0h0m-6 1h0m11 2h0m-4 1h0m0 0h0m-8 2h0m3 1h0m13 1h0m-7 2h0m-3 1h0m5 4h0m-7 0h0m10 0h0m-12 1h0m9 1h0m-5 5h0m2 0h0m-2 0h0m-2 2h0m12 5h0m-3 2h0m3 2h0m-2 1h0m-14 1h0m6 2h0m3 1h0m4 1h0m-8 2h0m-3 1h0m9 1h0m5 2h0m-16 1h0m11 3h0m-7 0h0m2 1h0m5 5h0m-2 3h0m-3 0h0m-3 2h0m3 0h0m8 0h0m-7 10h0m5 0h0m-7 10h0m23-164h0m-7 7h0m11 1h0m-8 1h0m-3 5h0m1 1h0m-5 2h0m11 14h0m-8 5h0m11 16h0m-10 1h0m5 2h0m3 2h0m0 3h0m-9 2h0m7 0h0m2 0h0m-9 0h0m6 3h0m1 3h0m-11 1h0m4 0h0m3 1h0m0 1h0m1 1h0m6 3h0m-14 3h0m4 0h0m-2 1h0m6 1h0m-4 2h0m11 0h0m-2 2h0m-11 0h0m9 1h0m-8 0h0m12 0h0m-11 1h0m4 0h0m1 1h0m1 0h0m1 0h0m-4 0h0m-1 0h0m8 1h0m2 2h0m-8 3h0m0 0h0m-4 1h0m-2 0h0m-2 1h0m5 4h0m9 0h0m-2 2h0m-11 0h0m2 1h0m-2 5h0m13 0h0m-7 0h0m3 2h0m2 0h0m-7 1h0m1 3h0m1 2h0m3 2h0m3 0h0m-3 4h0m-7 2h0m-1 2h0m3 2h0m9 7h0m2 1h0m-1 1h0m-15 1h0m14 0h0m-6 0h0m2 1h0m-4 2h0m-3 1h0m9 1h0m-9 0h0m1 6h0m3 4h0m-6 5h0m8 5h0m2 5h0m-8 9h0m15-176h0m12 21h0m-10 2h0m2 5h0m6 2h0m-8 3h0m4 2h0m4 6h0m-10 2h0m12 7h0m-6 1h0m-5 5h0m7 4h0m3 2h0m-10 1h0m9 0h0m-11 1h0m2 0h0m4 0h0m0 0h0m4 0h0m-5 1h0m9 1h0m0 0h0m-9 2h0m-1 2h0m8 0h0m0 2h0m-11 1h0m3 2h0m5 1h0m1 1h0m-10 1h0m7 1h0m1 1h0m0 1h0m-9 0h0m14 3h0m-9 0h0m2 1h0m-1 1h0m5 2h0m-8 2h0m3 3h0m4 2h0m4 0h0m-5 1h0m-7 1h0m11 0h0m3 1h0m-2 1h0m-9 1h0m3 1h0m-7 2h0m0 0h0m1 4h0m9 0h0m-7 1h0m6 1h0m4 5h0m-8 1h0m-2 2h0m-4 0h0m3 0h0m5 0h0m3 1h0m-7 0h0m4 0h0m-7 2h0m10 2h0m-6 4h0m-3 2h0m10 3h0m2 2h0m-1 3h0m3 1h0m-5 3h0m5 3h0m-7 0h0m-3 0h0m8 1h0m-7 2h0m-4 8h0m11 3h0m-4 1h0m-10 5h0m8 5h0m-2 7h0m17-135h0m4 9h0m-7 6h0m0 1h0m-4 4h0m14 1h0m-14 0h0m10 2h0m-4 2h0m0 4h0m-5 1h0m10 1h0m-6 2h0m5 1h0m-4 0h0m-3 0h0m12 1h0m-6 2h0m-3 0h0m7 1h0m-10 0h0m7 1h0m-6 0h0m7 1h0m4 1h0m0 0h0m-12 0h0m7 1h0m1 0h0m2 1h0m-8 0h0m9 1h0m0 0h0m0 1h0m-8 1h0m8 1h0m-6 1h0m2 4h0m-9 0h0m2 0h0m1 3h0m5 3h0m-9 1h0m10 3h0m-4 1h0m8 1h0m-5 0h0m2 2h0m1 2h0m-10 1h0m10 1h0m-5 2h0m-6 3h0m12 1h0m-4 1h0m7 4h0m-13 0h0m8 4h0m4 0h0m-1 2h0m-8 2h0m-2 0h0m1 2h0m-1 3h0m-1 1h0m6 3h0m0 0h0m2 2h0m-5 0h0m6 1h0m-8 0h0m-3 3h0m13 0h0m0 11h0m-7 1h0m3 1h0m1 8h0m-10 9h0m2 1h0m23-132h0m-2 1h0m1 5h0m-5 10h0m11 3h0m-7 1h0m-4 0h0m9 1h0m0 0h0m-6 2h0m-2 1h0m10 0h0m-4 3h0m-10 0h0m14 1h0m-8 0h0m-7 2h0m10 1h0m-5 0h0m11 2h0m-16 1h0m11 1h0m-1 0h0m-8 0h0m1 2h0m6 2h0m5 1h0m-1 0h0m-9 1h0m2 2h0m7 0h0m-3 1h0m-4 0h0m5 6h0m-11 0h0m9 1h0m-4 0h0m-4 2h0m15 4h0m-13 0h0m0 0h0m8 1h0m-5 1h0m10 1h0m-8 2h0m-7 1h0m12 2h0m-10 1h0m5 0h0m-4 3h0m4 1h0m4 0h0m2 4h0m-1 3h0m-6 2h0m2 1h0m-7 1h0m-2 2h0m3 0h0m1 2h0m7 1h0m-1 0h0m3 3h0m-6 0h0m-3 0h0m8 2h0m3 0h0m-10 2h0m5 0h0m5 1h0m-8 1h0m-7 3h0m28-94h0m-11 0h0m5 0h0m3 2h0m-4 3h0m7 0h0m-10 9h0m4 0h0m4 0h0m-6 1h0m-2 0h0m2 2h0m12 1h0m-2 0h0m-12 1h0m5 0h0m9 2h0m-14 0h0m5 2h0m-2 7h0m4 1h0m4 0h0m-10 3h0m11 1h0m-1 0h0m-5 1h0m4 1h0m1 0h0m-10 1h0m-3 0h0m4 1h0m8 1h0m-3 1h0m1 0h0m-1 5h0m2 1h0m-6 2h0m7 0h0m-5 3h0m-5 0h0m-1 1h0m8 0h0m7 5h0m-2 1h0m-9 0h0m-5 1h0m15 0h0m-9 1h0m1 1h0m9 3h0m-3 2h0m-1 2h0m-6 0h0m6 2h0m-2 1h0m0 4h0m-4 1h0m-1 1h0m-1 1h0m-4 1h0m4 4h0m-4 4h0m16 0h0m-6 1h0m0 1h0m-9 2h0m7 3h0m21-102h0m-2 2h0m4 0h0m-5 13h0m-5 1h0m-1 3h0m10 0h0m-10 2h0m10 0h0m-9 0h0m-2 3h0m5 1h0m-1 1h0m3 0h0m5 0h0m-9 0h0m-4 2h0m1 1h0m9 1h0m2 2h0m-5 2h0m-4 1h0m-4 0h0m13 1h0m-12 2h0m7 1h0m1 0h0m-4 2h0m6 1h0m-4 0h0m-7 1h0m10 0h0m4 0h0m-12 1h0m-2 0h0m15 1h0m-6 2h0m6 0h0m-14 7h0m3 6h0m-3 0h0m2 1h0m2 1h0m3 1h0m-9 0h0m13 2h0m0 1h0m-6 1h0m-6 1h0m3 0h0m4 1h0m1 0h0m-6 0h0m9 1h0m-3 1h0m-5 4h0m7 3h0m1 0h0m-5 6h0m-5 2h0m1 0h0m5 1h0m8 2h0m-9 4h0m6 2h0m-11 1h0m1 1h0m6 0h0m1 2h0m5 1h0m-1 0h0m-1 2h0m-4 0h0m15-101h0m1 4h0m-9 6h0m11 4h0m2 1h0m-3 4h0m-2 1h0m-4 1h0m11 1h0m-4 1h0m0 0h0m-10 0h0m2 1h0m13 3h0m0 1h0m-12 1h0m-1 1h0m7 0h0m-1 5h0m-4 2h0m1 1h0m4 0h0m-7 0h0m10 0h0m-12 1h0m4 1h0m10 2h0m-3 3h0m-11 0h0m7 1h0m5 0h0m-10 1h0m-2 5h0m11 0h0m-10 1h0m-1 2h0m7 0h0m0 2h0m-4 4h0m11 0h0m-2 1h0m-7 2h0m4 2h0m-4 1h0m2 0h0m1 1h0m-4 0h0m-5 0h0m11 0h0m3 1h0m1 0h0m-13 1h0m7 0h0m-7 8h0m14 0h0m-4 1h0m-8 2h0m6 0h0m5 2h0m-6 2h0m4 2h0m-5 2h0m-4 1h0m9 0h0m-9 6h0m6 0h0m-3 0h0m7 2h0m-8 2h0m2 2h0m-8 1h0m29-100h0m-6 6h0m-4 1h0m6 2h0m4 2h0m-1 0h0m3 1h0m-1 1h0m-12 4h0m8 1h0m-3 0h0m4 6h0m3 2h0m-5 1h0m-6 2h0m8 1h0m5 3h0m-10 1h0m-1 1h0m-5 0h0m7 1h0m-4 0h0m3 0h0m-6 0h0m8 2h0m7 0h0m-6 0h0m-6 1h0m1 2h0m0 0h0m-2 0h0m2 1h0m8 0h0m-8 1h0m11 2h0m-14 6h0m13 1h0m-12 3h0m5 0h0m3 0h0m-3 0h0m-5 1h0m8 1h0m3 2h0m-2 1h0m-3 0h0m7 1h0m-11 0h0m6 2h0m-8 0h0m9 0h0m2 6h0m-3 2h0m-8 2h0m5 1h0m8 2h0m-8 0h0m-4 2h0m4 0h0m3 1h0m-1 3h0m-7 8h0m4 0h0m-3 0h0m7 1h0m-10 0h0m12 0h0m-7 1h0m0 0h0m10 2h0m-1 2h0m14-98h0m-9 3h0m7 1h0m-8 1h0m7 3h0m7 0h0m-2 2h0m-13 1h0m4 0h0m-3 1h0m6 0h0m-8 1h0m8 1h0m6 0h0m-6 2h0m0 1h0m-8 2h0m6 2h0m7 1h0m-4 1h0m-2 0h0m4 0h0m-2 3h0m-6 1h0m-1 0h0m11 1h0m1 1h0m-5 0h0m-6 2h0m4 0h0m-2 1h0m-1 2h0m5 2h0m6 0h0m-4 1h0m-4 0h0m3 0h0m-8 0h0m-1 0h0m13 1h0m1 2h0m-14 1h0m4 0h0m8 0h0m-3 2h0m4 1h0m-9 0h0m5 0h0m-1 1h0m3 0h0m-11 1h0m14 0h0m-10 1h0m9 0h0m-2 1h0m-5 1h0m-4 0h0m6 3h0m5 0h0m-1 9h0m-10 4h0m13 0h0m-10 1h0m1 0h0m2 1h0m2 3h0m1 4h0m-8 0h0m2 1h0m-5 2h0m12 1h0m3 0h0m-6 0h0m-2 2h0m-5 1h0m-2 5h0m10 0h0m-3 2h0m6 1h0m-2 1h0m-9 2h0m1 4h0m2 1h0m0 0h0m-5 2h0m14 1h0m5-96h0m-3 6h0m8 3h0m-8 1h0m0 4h0m6 5h0m7 1h0m-3 1h0m-1 0h0m-4 2h0m-4 0h0m0 1h0m11 1h0m-9 0h0m3 1h0m-3 3h0m-1 0h0m8 1h0m1 4h0m-4 0h0m-6 3h0m4 0h0m9 1h0m-12 1h0m7 1h0m3 0h0m-12 0h0m14 0h0m-6 1h0m4 0h0m-9 0h0m-1 0h0m11 1h0m-4 1h0m-6 3h0m4 1h0m2 2h0m-1 2h0m-4 3h0m-4 2h0m5 1h0m-5 1h0m7 0h0m6 1h0m-14 2h0m6 0h0m6 0h0m2 1h0m-12 0h0m8 2h0m-9 0h0m4 0h0m9 6h0m-11 0h0m7 2h0m4 0h0m-12 1h0m6 2h0m3 0h0m-7 7h0m26-75h0m1 0h0m-11 3h0m2 0h0m0 3h0m-4 2h0m7 1h0m4 2h0m-5 0h0m8 3h0m-4 0h0m0 0h0m1 1h0m-8 2h0m-2 0h0m4 1h0m-4 2h0m0 0h0m8 4h0m-11 1h0m10 1h0m2 3h0m-11 0h0m15 1h0m-10 0h0m3 0h0m-9 0h0m16 1h0m-14 0h0m3 1h0m6 3h0m-2 0h0m1 1h0m-7 1h0m12 0h0m-1 2h0m1 4h0m-7 1h0m-2 3h0m2 1h0m-3 1h0m6 2h0m-7 2h0m12 0h0m-3 3h0m-8 1h0m-2 0h0m8 0h0m-10 7h0m6 1h0m7 2h0m-5 6h0m13-71h0m-5 5h0m0 5h0m1 1h0m0 5h0m11 0h0m-5 1h0m3 1h0m-8 2h0m9 0h0m-5 0h0m2 0h0m5 1h0m-13 0h0m15 0h0m-13 1h0m11 0h0m-10 0h0m4 4h0m3 2h0m2 1h0m-1 1h0m-8 1h0m6 1h0m-5 0h0m4 0h0m5 2h0m-5 1h0m-1 1h0m5 2h0m-9 1h0m-3 1h0m5 4h0m6 2h0m-8 0h0m7 5h0m-3 0h0m3 1h0m5 1h0m-3 1h0m2 0h0m-10 0h0m-4 0h0m1 2h0m5 7h0m1 3h0m-6 1h0m11 2h0m12-70h0m-8 3h0m12 1h0m2 7h0m-5 2h0m-4 0h0m-4 2h0m5 1h0m7 1h0m-10 1h0m-1 1h0m12 1h0m-1 0h0m-13 1h0m9 4h0m-3 0h0m-1 1h0m7 0h0m-3 1h0m3 1h0m-3 0h0m0 0h0m-4 1h0m-5 1h0m1 1h0m3 1h0m3 0h0m7 0h0m-11 1h0m2 2h0m7 1h0m-11 1h0m2 5h0m1 2h0m1 0h0m6 0h0m-2 2h0m1 1h0m-11 0h0m16 1h0m-5 0h0m-7 2h0m5 3h0m3 2h0m1 0h0m-5 1h0m-4 5h0m-4 5h0m3 5h0m12 1h0m10-73h0m3 2h0m-9 2h0m10 2h0m-5 1h0m6 7h0m-14 2h0m14 1h0m-7 1h0m-6 3h0m5 0h0m4 0h0m-5 1h0m7 2h0m-6 0h0m3 1h0m4 1h0m3 0h0m-1 0h0m-12 2h0m3 0h0m5 2h0m-9 2h0m-1 1h0m10 0h0m-8 1h0m10 0h0m-2 0h0m-4 1h0m0 0h0m-3 2h0m4 1h0m4 1h0m-4 1h0m0 3h0m-6 1h0m14 2h0m-5 1h0m-5 3h0m-3 0h0m12 1h0m-13 0h0m11 2h0m-1 1h0m-2 0h0m-10 1h0m1 2h0m2 14h0m9 1h0m-7 3h0m10 1h0m-7 12h0m-2 10h0m10 11h0m6-109h0m2 4h0m-4 3h0m12 5h0m-2 0h0m1 0h0m-15 1h0m3 2h0m7 1h0m-4 0h0m3 0h0m-8 1h0m7 1h0m-5 0h0m9 1h0m-5 2h0m5 1h0m4 1h0m-6 4h0m2 0h0m-10 0h0m6 1h0m-1 0h0m4 2h0m-10 0h0m3 1h0m10 0h0m-5 1h0m-2 7h0m-3 2h0m-1 2h0m11 3h0m-5 3h0m2 1h0m-1 1h0m3 1h0m-11 1h0m10 0h0m-2 1h0m-1 1h0m-4 1h0m3 1h0m7 49h0m-9 2h0m7 11h0m14-118h0m-10 0h0m14 3h0m-9 8h0m-2 1h0m5 0h0m6 3h0m-13 3h0m11 2h0m0 0h0m-8 1h0m2 0h0m-5 2h0m5 1h0m-6 0h0m15 1h0m-5 2h0m0 0h0m-4 1h0m0 1h0m7 0h0m-11 1h0m10 0h0m-9 1h0m-2 0h0m12 0h0m-6 0h0m0 1h0m-6 2h0m1 0h0m1 0h0m-4 9h0m15 5h0m-4 0h0m0 1h0m-3 3h0m5 3h0m-5 0h0m3 58h0m-9 4h0m0 1h0m13 12h0m-2 4h0m14-135h0m2 1h0m-11 4h0m5 7h0m8 0h0m-7 1h0m-6 0h0m14 1h0m-3 1h0m-8 1h0m7 3h0m1 1h0m-6 2h0m-6 3h0m9 1h0m-9 1h0m8 1h0m-3 2h0m8 0h0m-1 2h0m1 0h0m-11 0h0m11 1h0m-10 0h0m-2 1h0m0 1h0m8 0h0m-4 0h0m-1 1h0m6 1h0m-8 2h0m-2 0h0m8 1h0m2 4h0m-4 0h0m1 1h0m6 0h0m-10 4h0m-4 4h0m10 2h0m5 2h0m1 5h0m-8 3h0m8 4h0m-2 1h0m-3 0h0m-4 3h0m6 4h0m-3 3h0m-4 1h0m3 1h0m2 4h0m3 9h0m-5 27h0m11-120h0m4 2h0m-4 3h0m5 2h0m4 1h0m-1 0h0m-6 2h0m10 0h0m-3 2h0m2 1h0m-8 1h0m-4 0h0m9 2h0m-8 1h0m6 0h0m0 1h0m-5 2h0m-3 1h0m12 0h0m-7 3h0m-3 0h0m-2 2h0m11 1h0m-7 1h0m3 0h0m1 1h0m-8 0h0m9 1h0m-1 1h0m-8 0h0m13 0h0m-3 1h0m0 1h0m3 1h0m-14 5h0m2 2h0m4 2h0m5 2h0m-3 3h0m-8 3h0m6 0h0m-2 1h0m9 2h0m-6 8h0m-2 3h0m7 3h0m-7 0h0m6 0h0m-1 3h0m-4 2h0m-6 2h0m2 3h0m-2 1h0m4 0h0m9 2h0m1 0h0m-6 1h0m2 0h0m-9 3h0m2 1h0m12 1h0m-7 4h0m2 1h0m21-96h0m-2 10h0m-11 1h0m-2 0h0m6 1h0m7 2h0m-1 1h0m-12 2h0m15 2h0m-6 1h0m-5 1h0m0 1h0m-1 2h0m4 1h0m3 1h0m-10 1h0m13 0h0m-6 1h0m-7 2h0m1 0h0m4 0h0m5 1h0m2 0h0m0 0h0m-6 2h0m4 0h0m-1 2h0m-5 0h0m5 0h0m6 5h0m-15 0h0m6 0h0m-7 2h0m15 1h0m-9 1h0m5 1h0m3 0h0m-1 0h0m-11 5h0m3 3h0m-5 1h0m10 2h0m-7 0h0m4 11h0m-7 3h0m5 3h0m-4 2h0m2 5h0m5 1h0m7 0h0m-6 2h0m-1 0h0m5 3h0m-1 5h0m-6 1h0m8 1h0m-5 1h0m3 2h0m2 0h0m-11 1h0m-2 0h0m27-102h0m-5 2h0m7 1h0m-12 1h0m9 2h0m5 2h0m-4 0h0m-4 4h0m8 1h0m-7 6h0m1 2h0m6 3h0m-6 3h0m-6 1h0m6 0h0m-1 3h0m-7 0h0m-2 3h0m3 0h0m5 0h0m-4 2h0m11 0h0m-1 0h0m-1 0h0m-6 2h0m1 0h0m4 0h0m-8 2h0m3 0h0m-3 0h0m1 0h0m-3 2h0m-1 1h0m12 0h0m-2 2h0m-6 1h0m4 1h0m3 3h0m-4 2h0m-8 6h0m2 0h0m14 2h0m-2 3h0m-13 5h0m1 1h0m4 0h0m1 3h0m-1 7h0m0 8h0m3 1h0m-5 3h0m8 1h0m0 0h0m4 3h0m-3 0h0m-9 0h0m11 1h0m-13 0h0m10 1h0m-1 0h0m-3 0h0m-8 5h0m15 0h0m15-108h0m-6 0h0m5 1h0m2 2h0m-9 6h0m2 4h0m-5 2h0m7 2h0m-2 10h0m-4 1h0m2 1h0m5 0h0m0 0h0m-4 0h0m-1 1h0m4 0h0m-6 2h0m-2 1h0m7 0h0m4 4h0m-1 0h0m-5 1h0m2 2h0m-8 1h0m13 2h0m-8 0h0m-5 0h0m15 1h0m-6 0h0m4 1h0m-11 1h0m1 0h0m7 2h0m-1 0h0m-1 1h0m-1 1h0m-6 0h0m1 0h0m10 1h0m1 5h0m-6 1h0m-6 3h0m11 2h0m-8 3h0m-5 0h0m15 1h0m-5 0h0m-9 10h0m6 0h0m-2 1h0m8 1h0m-6 2h0m-2 4h0m6 5h0m-4 3h0m3 1h0m-2 1h0m-5 1h0m-3 3h0m9 0h0m-4 0h0m9 2h0m-13 1h0m14 1h0m-2 1h0m-11 2h0m11 2h0m-2 0h0m4 0h0m8-115h0m4 3h0m-5 3h0m-2 2h0m6 2h0m-9 5h0m12 1h0m1 1h0m-6 0h0m-5 4h0m3 0h0m6 2h0m-1 1h0m-1 7h0m-10 3h0m4 0h0m1 1h0m-5 0h0m8 1h0m6 1h0m-1 0h0m-9 1h0m9 1h0m-5 4h0m2 0h0m-5 2h0m-2 2h0m8 1h0m5 1h0m-1 1h0m-14 1h0m11 0h0m-3 1h0m-2 2h0m0 0h0m8 1h0m1 0h0m0 3h0m-7 1h0m-8 0h0m12 1h0m-6 3h0m-7 2h0m5 1h0m-2 0h0m3 1h0m4 4h0m0 1h0m-9 0h0m1 3h0m8 0h0m-5 8h0m10 1h0m-14 2h0m13 0h0m-3 2h0m1 1h0m-2 1h0m2 2h0m-10 1h0m2 0h0m5 1h0m-2 1h0m-7 1h0m15 2h0m-9 0h0m1 2h0m3 5h0m-5 1h0m-3 2h0m5 2h0m8 1h0m-4 0h0m-2 1h0m21-116h0m-13 2h0m5 0h0m-1 3h0m10 11h0m1 7h0m-6 3h0m3 2h0m-2 8h0m-10 1h0m5 2h0m8 0h0m-4 0h0m-1 1h0m-2 2h0m8 0h0m-2 1h0m-6 1h0m-4 0h0m11 4h0m-10 0h0m3 1h0m4 1h0m-9 1h0m12 2h0m-7 0h0m5 1h0m-10 1h0m2 0h0m-1 1h0m5 0h0m1 0h0m-7 2h0m14 0h0m-12 1h0m11 1h0m-6 0h0m2 0h0m-10 1h0m3 3h0m2 1h0m7 1h0m-12 2h0m8 2h0m0 0h0m3 5h0m0 0h0m-6 0h0m-1 1h0m10 4h0m-9 7h0m6 0h0m0 1h0m-9 4h0m9 1h0m-7 0h0m-5 4h0m11 1h0m-8 1h0m5 2h0m0 5h0m6 0h0m2 2h0m-8 4h0m-3 0h0m-4 2h0m15 0h0m-10 2h0m-1 3h0m-2 0h0m14-117h0m2 0h0m5 1h0m-2 2h0m6 4h0m3 13h0m-4 1h0m4 0h0m-12 7h0m6 2h0m-4 4h0m4 0h0m-8 1h0m2 3h0m3 4h0m9 0h0m-13 2h0m-2 1h0m10 0h0m4 0h0m-5 0h0m-2 0h0m6 1h0m-7 1h0m7 1h0m-9 0h0m11 0h0m-10 0h0m-5 2h0m12 2h0m2 0h0m-5 2h0m-2 0h0m-2 2h0m-2 0h0m-2 1h0m0 1h0m7 3h0m3 1h0m1 2h0m3 4h0m0 1h0m-4 0h0m-8 2h0m4 4h0m1 2h0m-3 2h0m2 5h0m9 4h0m-12 1h0m-4 0h0m13 2h0m-8 2h0m3 0h0m2 1h0m-3 1h0m3 0h0m2 7h0m4 2h0m-7 0h0m-6 1h0m6 3h0m-8 0h0m6 2h0m-1 3h0m10 1h0m-5 2h0m7-107h0m1 1h0m7 1h0m-8 2h0m3 1h0m2 15h0m-7 1h0m5 4h0m-1 2h0m10 1h0m-13 1h0m13 1h0m-13 1h0m2 1h0m6 0h0m0 1h0m-2 1h0m4 3h0m0 0h0m3 3h0m-6 0h0m1 2h0m6 0h0m-6 1h0m6 1h0m-10 0h0m9 1h0m-6 0h0m5 0h0m-3 0h0m2 1h0m-7 1h0m2 0h0m-4 1h0m1 0h0m9 2h0m-10 0h0m11 4h0m-1 0h0m-2 1h0m3 0h0m-7 2h0m-7 0h0m5 1h0m-2 2h0m-2 0h0m5 1h0m2 1h0m-3 1h0m9 1h0m-5 6h0m-5 3h0m12 5h0m-10 1h0m4 1h0m2 1h0m2 0h0m-7 1h0m0 1h0m1 0h0m3 0h0m4 1h0m-13 1h0m2 2h0m6 0h0m-6 1h0m-1 1h0m6 1h0m2 3h0m-9 3h0m2 1h0m10 1h0m-1 1h0m1 4h0m-9 5h0m5 0h0m-9 1h0m27-119h0m-3 1h0m-7 5h0m3 3h0m-1 5h0m3 1h0m8 6h0m-12 0h0m-3 7h0m4 0h0m5 0h0m-1 8h0m-6 1h0m6 1h0m-1 0h0m6 0h0m2 0h0m-12 2h0m9 0h0m0 0h0m2 0h0m-8 1h0m1 1h0m1 0h0m4 1h0m-1 0h0m-7 1h0m2 1h0m-5 4h0m6 1h0m1 0h0m7 1h0m-11 1h0m12 1h0m-14 2h0m3 0h0m8 0h0m-6 1h0m4 0h0m-7 1h0m12 2h0m-7 2h0m2 0h0m-11 2h0m11 1h0m1 1h0m-10 5h0m7 3h0m-6 0h0m2 0h0m11 1h0m-9 1h0m-1 3h0m-2 7h0m9 0h0m1 0h0m-7 2h0m-7 1h0m12 0h0m-7 1h0m-2 0h0m3 2h0m-1 2h0m-1 2h0m5 0h0m6 7h0m-2 0h0m-13 3h0m15 1h0m-3 1h0m-1 3h0m-2 0h0m-4 7h0m2 2h0m-6 1h0m0 0h0m15-118h0m1 7h0m3 4h0m3 2h0m9 1h0m-11 1h0m-2 4h0m10 2h0m-9 2h0m5 5h0m2 1h0m-10 0h0m5 1h0m9 2h0m-7 3h0m-3 1h0m3 0h0m-5 3h0m10 0h0m-11 1h0m7 1h0m3 0h0m3 0h0m-6 2h0m-2 2h0m-5 1h0m11 0h0m-4 0h0m-7 2h0m9 0h0m0 3h0m-6 2h0m-1 0h0m8 1h0m-8 0h0m6 2h0m5 1h0m-14 0h0m14 2h0m-1 0h0m-1 0h0m-7 5h0m3 3h0m-7 1h0m5 2h0m5 4h0m-9 1h0m8 0h0m-1 0h0m-5 1h0m4 1h0m-8 7h0m2 3h0m0 1h0m4 3h0m6 3h0m-5 1h0m5 2h0m-11 0h0m13 1h0m-1 2h0m-14 1h0m7 0h0m1 1h0m-3 3h0m5 0h0m1 1h0m-6 6h0m7 0h0m-12 3h0m12 1h0m3 1h0m-5 0h0m18-118h0m-1 2h0m-2 2h0m5 1h0m-3 4h0m4 4h0m-10 1h0m-4 5h0m6 1h0m2 0h0m-8 2h0m13 1h0m-10 0h0m3 6h0m6 6h0m-9 2h0m3 3h0m8 0h0m-5 0h0m0 1h0m-5 1h0m0 0h0m0 3h0m-4 0h0m9 2h0m-2 0h0m-4 1h0m-2 1h0m1 2h0m4 0h0m-5 1h0m8 0h0m4 0h0m-14 3h0m11 1h0m-8 1h0m10 0h0m-6 0h0m-6 0h0m9 1h0m3 1h0m-13 3h0m14 1h0m-7 2h0m-4 2h0m6 3h0m5 2h0m-10 1h0m8 0h0m-11 2h0m5 1h0m10 4h0m-1 2h0m1 3h0m-7 0h0m3 1h0m-7 1h0m-2 0h0m-2 1h0m1 1h0m6 2h0m-7 0h0m4 0h0m3 1h0m-2 0h0m5 1h0m3 3h0m-2 1h0m-8 0h0m-1 1h0m-2 3h0m13 1h0m-3 1h0m-1 4h0m-4 3h0m-2 3h0m8 0h0m-2 1h0m5 1h0m-7 2h0m-8 1h0m30-115h0m-13 1h0m1 3h0m10 5h0m-1 5h0m4 2h0m-10 3h0m8 1h0m-6 1h0m-3 8h0m0 3h0m10 0h0m-8 0h0m4 1h0m-7 1h0m10 0h0m-5 1h0m-4 2h0m-2 1h0m6 0h0m-2 2h0m-5 1h0m9 1h0m4 1h0m1 4h0m-4 1h0m-5 1h0m-2 0h0m3 0h0m3 3h0m3 0h0m-3 1h0m-4 1h0m-4 3h0m11 1h0m-6 5h0m8 2h0m-14 1h0m10 4h0m-3 1h0m6 0h0m-5 1h0m-7 1h0m3 1h0m9 2h0m-7 0h0m-3 0h0m0 5h0m5 4h0m-2 3h0m-3 1h0m-3 3h0m8 2h0m-3 0h0m10 1h0m-5 5h0m-6 1h0m7 2h0m3 0h0m-1 1h0m0 1h0m-8 1h0m3 3h0m-6 0h0m0 1h0m11 1h0m-7 1h0m-5 0h0m-1 1h0m7 1h0m24-115h0m-15 2h0m11 1h0m3 5h0m-13 1h0m9 0h0m4 1h0m-8 7h0m1 0h0m-3 2h0m6 5h0m-5 1h0m2 1h0m5 1h0m-4 0h0m-7 0h0m11 2h0m2 4h0m-3 1h0m-7 0h0m4 3h0m-7 1h0m-1 4h0m11 4h0m-9 3h0m5 1h0m6 1h0m-3 0h0m-7 0h0m2 1h0m5 0h0m-4 1h0m0 0h0m2 1h0m-3 1h0m-2 0h0m9 3h0m-6 0h0m-1 1h0m-2 4h0m12 4h0m-6 1h0m-10 6h0m1 0h0m7 0h0m7 2h0m-5 2h0m4 2h0m-11 0h0m6 1h0m3 1h0m3 2h0m-11 1h0m2 1h0m-4 2h0m6 1h0m-6 1h0m10 1h0m-7 1h0m-3 0h0m8 2h0m-5 1h0m8 1h0m-9 0h0m9 4h0m3 4h0m-1 3h0m-10 1h0m5 6h0m-3 1h0m3 0h0m-8 2h0m24-119h0m-10 1h0m16 1h0m-8 10h0m4 0h0m-4 1h0m6 2h0m-8 2h0m0 1h0m8 8h0m-11 8h0m10 0h0m-6 0h0m3 5h0m5 2h0m-5 0h0m-7 1h0m6 1h0m-7 0h0m4 0h0m9 0h0m-7 1h0m-7 3h0m6 1h0m8 2h0m-3 1h0m2 0h0m-5 0h0m-4 1h0m8 0h0m-8 1h0m-3 0h0m0 1h0m3 1h0m6 0h0m-3 1h0m7 2h0m-2 0h0m-10 2h0m4 2h0m8 1h0m-10 0h0m3 3h0m5 0h0m-12 1h0m2 4h0m-2 2h0m6 3h0m6 0h0m-4 1h0m1 2h0m3 6h0m-6 1h0m-4 1h0m13 0h0m-5 2h0m-9 2h0m13 2h0m-13 7h0m8 1h0m2 1h0m-2 4h0m-8 1h0m8 0h0m-5 2h0m9 2h0m-10 0h0m0 0h0m7 6h0m-4 1h0m-5 1h0m16-120h0m11 4h0m2 11h0m-12 2h0m2 5h0m10 1h0m-8 8h0m-6 2h0m8 0h0m-8 5h0m0 3h0m12 1h0m-7 1h0m9 1h0m-5 0h0m-7 3h0m4 0h0m6 0h0m1 1h0m-2 2h0m3 0h0m-5 1h0m2 0h0m0 0h0m-7 1h0m1 0h0m-3 1h0m8 0h0m-5 0h0m4 2h0m-1 2h0m3 0h0m1 1h0m-10 1h0m3 3h0m4 2h0m-10 0h0m6 0h0m-3 1h0m11 4h0m0 2h0m-3 0h0m4 6h0m-15 1h0m8 1h0m-3 0h0m4 1h0m-9 5h0m10 1h0m3 0h0m-7 1h0m1 1h0m8 2h0m-14 1h0m6 2h0m-4 1h0m9 0h0m-2 1h0m-6 2h0m4 1h0m5 0h0m0 5h0m-4 1h0m3 1h0m-2 5h0m-7 0h0m10 1h0m-10 0h0m13 3h0m-11 0h0m11 5h0m7-119h0m-4 2h0m6 1h0m-3 9h0m10 4h0m-15 1h0m8 1h0m-7 1h0m10 5h0m3 3h0m-2 1h0m-3 7h0m-6 1h0m8 0h0m-2 2h0m-6 0h0m9 2h0m-6 1h0m2 1h0m4 1h0m-9 1h0m-3 0h0m6 2h0m-6 2h0m14 0h0m-4 4h0m5 0h0m-8 1h0m-5 0h0m2 0h0m0 1h0m8 1h0m-4 0h0m7 1h0m-6 1h0m-9 1h0m6 4h0m4 0h0m-11 4h0m9 1h0m-6 1h0m11 2h0m0 1h0m-11 1h0m4 0h0m4 3h0m3 1h0m-10 3h0m4 1h0m-8 0h0m4 6h0m12 3h0m-1 1h0m-13 1h0m6 2h0m4 1h0m-3 0h0m1 1h0m2 5h0m1 2h0m-13 2h0m1 1h0m15 0h0m-13 1h0m3 4h0m3 1h0m-7 0h0m4 1h0m8 0h0m-3 7h0m-3 1h0m14-119h0m-5 1h0m13 1h0m-4 3h0m-4 0h0m8 5h0m-11 5h0m7 6h0m-6 5h0m3 5h0m-3 1h0m1 5h0m9 1h0m-5 1h0m-3 4h0m2 1h0m3 0h0m-9 2h0m12 0h0m-2 1h0m1 0h0m-10 1h0m4 0h0m1 1h0m-4 0h0m-2 0h0m8 3h0m1 1h0m-7 2h0m7 2h0m2 0h0m-12 1h0m8 0h0m5 3h0m-6 2h0m5 0h0m-4 2h0m-4 0h0m1 1h0m-5 1h0m0 1h0m14 1h0m-4 1h0m-3 0h0m-3 4h0m-2 3h0m9 3h0m-4 5h0m-6 2h0m11 1h0m-2 1h0m-4 5h0m7 1h0m-3 5h0m-9 1h0m8 3h0m5 1h0m-2 0h0m-8 1h0m4 1h0m-9 0h0m5 2h0m6 0h0m-9 1h0m5 2h0m3 0h0m-6 2h0m2 1h0m9 3h0m12-116h0m-4 4h0m-3 6h0m5 0h0m-4 2h0m-1 4h0m6 0h0m2 3h0m-6 7h0m9 0h0m-14 3h0m3 0h0m-1 3h0m8 0h0m-9 1h0m11 1h0m-4 0h0m-8 0h0m14 1h0m-2 1h0m-5 0h0m-2 2h0m9 1h0m-13 0h0m10 1h0m-12 2h0m15 0h0m-5 2h0m2 4h0m-8 1h0m3 1h0m-7 2h0m8 0h0m0 2h0m7 0h0m-8 1h0m5 3h0m-10 0h0m5 0h0m7 1h0m-9 0h0m-2 0h0m0 5h0m6 5h0m-5 0h0m10 0h0m1 3h0m-3 4h0m0 6h0m2 6h0m-4 0h0m-4 0h0m7 2h0m1 1h0m-10 0h0m0 2h0m4 0h0m5 5h0m-12 1h0m3 0h0m2 0h0m3 3h0m-3 0h0m-4 3h0m10 1h0m3 7h0m-12 2h0m-3 0h0m30-113h0m-4 4h0m3 2h0m-5 9h0m-6 0h0m3 1h0m7 2h0m3 7h0m-4 1h0m-8 3h0m11 2h0m-3 1h0m3 1h0m-10 0h0m5 1h0m2 0h0m-6 1h0m9 2h0m-9 0h0m-3 1h0m-2 1h0m0 1h0m7 1h0m-4 1h0m0 0h0m-2 0h0m13 5h0m-2 1h0m-7 1h0m4 1h0m-2 0h0m-1 2h0m10 1h0m-14 1h0m12 1h0m-10 0h0m4 3h0m2 1h0m-7 4h0m0 2h0m10 0h0m1 0h0m-8 0h0m2 4h0m3 1h0m1 0h0m-5 0h0m-5 5h0m7 9h0m-7 3h0m10 1h0m3 2h0m-7 2h0m-7 6h0m3 1h0m6 0h0m1 2h0m-9 0h0m0 2h0m1 1h0m2 2h0m3 0h0m2 1h0m4 0h0m0 1h0m-10 0h0m7 3h0m-4 2h0m7 2h0m7-115h0m-2 7h0m6 6h0m6 4h0m-15 2h0m1 5h0m8 8h0m-7 0h0m12 1h0m1 1h0m-8 0h0m3 4h0m4 3h0m-8 1h0m8 0h0m1 0h0m-12 1h0m9 1h0m-8 0h0m1 0h0m-2 2h0m12 0h0m-13 3h0m10 0h0m2 0h0m-2 0h0m-6 0h0m4 0h0m-4 2h0m3 0h0m-7 1h0m2 0h0m4 1h0m7 0h0m-8 1h0m0 0h0m3 4h0m4 2h0m-8 6h0m4 1h0m-3 0h0m-4 1h0m-2 0h0m11 0h0m-4 1h0m3 1h0m-7 3h0m-2 3h0m12 9h0m0 3h0m-11 1h0m5 2h0m6 1h0m-9 0h0m-1 2h0m4 0h0m5 3h0m-2 1h0m-6 3h0m6 2h0m-3 0h0m-7 1h0m9 0h0m2 1h0m-3 2h0m-5 4h0m-3 0h0m12 1h0m5-112h0m1 2h0m4 9h0m-1 0h0m6 3h0m-8 1h0m10 1h0m1 2h0m-10 0h0m4 4h0m3 5h0m-2 1h0m-6 4h0m6 0h0m4 3h0m2 2h0m-9 2h0m6 1h0m-10 4h0m0 0h0m7 0h0m-4 0h0m4 0h0m-10 2h0m1 0h0m7 0h0m0 3h0m5 0h0m-11 1h0m5 0h0m6 1h0m1 1h0m-13 0h0m5 0h0m8 7h0m-12 1h0m2 5h0m8 2h0m-9 2h0m-2 1h0m14 4h0m-5 0h0m-3 0h0m8 1h0m-4 1h0m4 5h0m-5 2h0m-7 2h0m0 7h0m-1 1h0m-1 0h0m7 2h0m0 2h0m-4 1h0m2 0h0m7 1h0m1 2h0m-4 0h0m-8 2h0m7 2h0m-4 0h0m10 1h0m-1 2h0m-6 4h0m3 2h0m16-109h0m-2 1h0m4 1h0m-8 3h0m8 1h0m2 2h0m-13 0h0m4 1h0m3 1h0m-9 1h0m2 1h0m4 3h0m5 3h0m-8 3h0m4 2h0m-2 3h0m7 2h0m-1 7h0m-7 1h0m2 1h0m-5 1h0m8 0h0m-3 1h0m6 2h0m3 1h0m-13 1h0m8 0h0m-8 1h0m12 0h0m-12 0h0m12 0h0m1 0h0m-2 2h0m-10 0h0m2 1h0m-3 1h0m-2 0h0m5 0h0m2 3h0m3 1h0m-3 2h0m0 0h0m6 1h0m-3 1h0m0 7h0m4 0h0m-1 5h0m-10 1h0m6 7h0m-3 2h0m-3 0h0m10 1h0m0 2h0m-9 1h0m-2 1h0m13 0h0m-6 2h0m-2 4h0m-4 2h0m7 3h0m-5 2h0m-3 3h0m8 0h0m-8 2h0m12 5h0m-3 2h0m-4 1h0m-5 1h0m10 1h0m12-114h0m5 3h0m-4 1h0m-3 2h0m0 11h0m8 2h0m-4 0h0m2 9h0m-6 2h0m3 0h0m0 1h0m-2 0h0m0 1h0m6 1h0m-11 0h0m3 1h0m-4 0h0m9 1h0m-3 1h0m-6 1h0m14 0h0m-13 0h0m12 1h0m1 2h0m-14 0h0m14 1h0m-12 0h0m1 2h0m-1 0h0m8 3h0m1 1h0m-11 2h0m13 0h0m-5 1h0m-5 1h0m-1 3h0m-2 7h0m10 0h0m-4 4h0m9 3h0m-4 0h0m-12 0h0m10 1h0m-2 1h0m6 0h0m-10 0h0m6 1h0m1 1h0m-6 0h0m9 6h0m-1 0h0m-9 2h0m3 1h0m8 0h0m-14 1h0m15 2h0m-14 4h0m12 1h0m-13 1h0m7 0h0m3 0h0m-3 1h0m2 3h0m-2 2h0m-6 1h0m2 1h0m9 6h0m-5 1h0m2 2h0m0 0h0m-4 1h0m-4 4h0m21-105h0m-6 3h0m6 3h0m-7 5h0m3 0h0m13 4h0m-1 6h0m-7 2h0m-6 0h0m11 0h0m-10 1h0m10 2h0m1 1h0m-3 0h0m5 0h0m-15 0h0m6 1h0m-6 1h0m10 0h0m-2 1h0m0 0h0m-1 1h0m-5 2h0m11 0h0m-2 1h0m-6 1h0m9 0h0m-6 0h0m-4 1h0m6 3h0m-4 2h0m6 3h0m-8 0h0m8 2h0m-2 2h0m5 3h0m-12 4h0m0 2h0m5 1h0m-1 0h0m-6 0h0m-2 3h0m10 1h0m5 1h0m-8 0h0m-3 0h0m-1 1h0m3 8h0m-4 1h0m1 3h0m6 0h0m-2 2h0m5 3h0m-1 3h0m4 2h0m-2 0h0m1 5h0m-4 1h0m-7 1h0m-2 0h0m8 0h0m0 2h0m-2 0h0m-3 1h0m9 1h0m1 2h0m-1 2h0m-7 1h0m11-101h0m3 4h0m-2 1h0m9 1h0m-6 2h0m9 2h0m-2 5h0m-4 0h0m2 3h0m4 3h0m-4 3h0m-1 3h0m2 0h0m-6 0h0m2 2h0m0 1h0m-4 1h0m-3 1h0m9 1h0m4 3h0m-6 0h0m-3 0h0m0 0h0m10 0h0m-8 1h0m-2 1h0m1 0h0m3 0h0m6 2h0m-3 0h0m-10 1h0m13 0h0m-1 0h0m2 1h0m0 0h0m-13 1h0m8 4h0m-1 1h0m7 2h0m-12 4h0m3 0h0m-6 1h0m10 1h0m-7 1h0m0 3h0m5 0h0m-4 2h0m8 3h0m2 7h0m-11 0h0m7 0h0m-9 2h0m13 1h0m-10 0h0m9 1h0m0 0h0m-6 0h0m0 1h0m-4 1h0m7 2h0m-5 2h0m-2 3h0m-4 1h0m16 3h0m-8 1h0m-1 4h0m7 2h0m-4 0h0m0 5h0m-7 3h0m-3 0h0m25-107h0m-9 5h0m8 1h0m6 1h0m-5 0h0m3 1h0m0 3h0m-9 2h0m8 2h0m-8 4h0m1 0h0m2 6h0m2 1h0m-2 1h0m5 0h0m-9 0h0m13 1h0m-2 0h0m-6 0h0m9 0h0m-6 2h0m-3 1h0m6 1h0m1 1h0m1 1h0m-6 2h0m-6 1h0m1 1h0m-4 1h0m10 4h0m-5 0h0m1 0h0m9 1h0m0 0h0m-13 0h0m12 1h0m0 3h0m-10 1h0m-3 4h0m3 3h0m5 0h0m-1 2h0m-2 3h0m5 2h0m-5 1h0m-3 2h0m8 0h0m-10 1h0m6 2h0m2 6h0m-2 3h0m9 0h0m-10 1h0m-1 1h0m1 2h0m3 2h0m-5 1h0m7 1h0m2 3h0m0 0h0m-4 2h0m1 3h0m-7 4h0m13 0h0m-16 5h0m2 0h0m11 1h0m-9 2h0m-4 2h0m6 0h0m11-107h0m11 1h0m0 6h0m-4 0h0m2 10h0m2 3h0m-9 2h0m2 2h0m-4 0h0m14 0h0m-12 0h0m4 1h0m6 1h0m3 4h0m-11 4h0m2 0h0m-5 0h0m6 0h0m3 2h0m3 3h0m-9 0h0m11 0h0m-13 1h0m-2 1h0m3 2h0m5 0h0m-3 0h0m6 1h0m-11 2h0m7 0h0m6 3h0m-3 1h0m-2 0h0m-6 2h0m12 1h0m-2 4h0m0 5h0m-8 1h0m1 1h0m5 1h0m-4 0h0m-6 1h0m7 2h0m8 6h0m-13 2h0m0 2h0m3 0h0m5 2h0m2 4h0m-8 1h0m3 0h0m-1 3h0m2 2h0m1 6h0m-1 2h0m-9 1h0m12 3h0m2 3h0m-1 2h0m-5 0h0m-8 1h0m25-106h0m-3 1h0m-6 2h0m11 2h0m-1 0h0m1 0h0m2 3h0m-5 1h0m3 0h0m-7 1h0m2 3h0m7 1h0m1 5h0m-4 2h0m6 0h0m-11 1h0m-1 1h0m-2 2h0m-1 2h0m2 2h0m11 0h0m-8 1h0m-4 1h0m8 7h0m6 0h0m-1 0h0m-13 2h0m-2 2h0m15 0h0m-11 2h0m0 1h0m6 2h0m0 3h0m-7 3h0m-2 1h0m10 1h0m2 1h0m-1 1h0m-7 2h0m-2 1h0m5 0h0m-1 0h0m-1 2h0m3 1h0m-1 0h0m-1 1h0m8 0h0m-3 1h0m-7 2h0m4 3h0m4 0h0m-2 1h0m3 1h0m-12 0h0m2 11h0m9 7h0m-3 0h0m-8 0h0m9 1h0m-1 1h0m-7 0h0m8 1h0m5 0h0m-10 0h0m-2 1h0m5 0h0m-3 5h0m6 1h0m-5 0h0m-1 4h0m8 0h0m-14 0h0m29-101h0m-4 5h0m-3 1h0m-5 3h0m0 1h0m5 0h0m7 0h0m-3 2h0m-7 5h0m9 5h0m-1 0h0m-4 0h0m3 0h0m5 4h0m-1 2h0m-10 2h0m8 0h0m-3 0h0m-6 1h0m11 0h0m-11 1h0m5 0h0m-3 0h0m-4 1h0m12 2h0m-5 2h0m2 2h0m-10 0h0m9 1h0m-1 3h0m2 2h0m5 5h0m-10 1h0m8 0h0m-3 1h0m-9 1h0m3 2h0m4 1h0m3 2h0m-5 1h0m-3 1h0m12 1h0m-5 0h0m5 1h0m-12 0h0m9 1h0m-5 0h0m-2 1h0m9 1h0m-11 1h0m9 0h0m-8 1h0m-3 3h0m1 1h0m12 0h0m1 21h0m-10 0h0m-5 1h0m12 0h0m-8 2h0m8 1h0m-3 1h0m-4 0h0m7 1h0m-4 0h0m-1 0h0m8 0h0m-5 1h0m-9 4h0m1 0h0m11 0h0m6-105h0m8 4h0m4 0h0m1 1h0m-8 0h0m-4 0h0m12 1h0m-12 0h0m6 2h0m3 5h0m-13 5h0m5 2h0m2 0h0m1 1h0m2 3h0m-1 3h0m-6 0h0m9 4h0m-11 2h0m13 1h0m-1 0h0m-12 0h0m4 4h0m2 0h0m-3 8h0m11 0h0m-3 2h0m-12 1h0m11 1h0m3 5h0m-13 2h0m4 0h0m9 1h0m-6 0h0m1 1h0m-1 2h0m-4 0h0m3 0h0m8 0h0m-8 0h0m7 1h0m-1 1h0m-7 0h0m-3 0h0m4 1h0m-3 0h0m-2 0h0m10 1h0m-9 1h0m7 2h0m-1 0h0m2 0h0m-2 1h0m-9 1h0m16 1h0m-13 25h0m3 0h0m9 2h0m-14 1h0m12 0h0m-9 1h0m8 1h0m-1 1h0m-7 0h0m1 0h0m-4 1h0m7 1h0m2 1h0m-3 2h0m21-104h0m-5 0h0m0 0h0m5 2h0m3 0h0m-7 1h0m-7 1h0m8 5h0m-3 0h0m3 1h0m-5 2h0m-4 2h0m7 0h0m6 2h0m-4 2h0m3 7h0m-9 1h0m3 1h0m10 1h0m-12 2h0m10 3h0m-11 0h0m10 1h0m-12 3h0m10 0h0m0 0h0m3 1h0m0 1h0m-7 1h0m-1 1h0m7 5h0m-8 0h0m4 0h0m-3 2h0m-3 0h0m-2 1h0m11 1h0m-12 1h0m12 3h0m-2 2h0m-7 0h0m5 1h0m-5 1h0m-3 0h0m14 2h0m-9 1h0m11 0h0m-6 1h0m-3 1h0m4 0h0m-7 2h0m0 0h0m9 2h0m-5 1h0m-7 1h0m6 0h0m9 0h0m-10 23h0m8 0h0m-13 0h0m10 1h0m-8 1h0m6 0h0m2 1h0m4 2h0m-6 3h0m-9 0h0m7 1h0m7 0h0m-11 3h0m10 0h0m-8 0h0m3 1h0m18-107h0m-7 0h0m4 1h0m1 1h0m-4 1h0m10 1h0m-13 1h0m14 1h0m-2 1h0m-8 1h0m-3 3h0m0 5h0m-1 1h0m3 1h0m6 0h0m-2 10h0m-3 3h0m8 1h0m-4 1h0m0 1h0m-1 0h0m4 1h0m-4 1h0m8 2h0m-7 0h0m-9 1h0m16 0h0m-1 0h0m-5 0h0m-2 1h0m-3 11h0m-2 3h0m2 1h0m10 1h0m-2 2h0m-5 1h0m3 0h0m-6 1h0m8 0h0m-11 1h0m6 0h0m3 1h0m-9 0h0m14 1h0m-6 0h0m-1 1h0m-1 0h0m-7 2h0m11 3h0m3 0h0m-8 1h0m5 1h0m-9 0h0m2 1h0m-2 21h0m0 0h0m-3 1h0m13 1h0m-2 3h0m-1 1h0m-5 0h0m6 3h0m-5 0h0m-6 1h0m7 0h0m8 1h0m-10 2h0m3 0h0m13-108h0m4 3h0m-7 0h0m8 2h0m6 0h0m-9 2h0m-3 1h0m5 3h0m6 1h0m-2 0h0m-12 0h0m7 1h0m7 8h0m-13 5h0m2 1h0m-1 1h0m-1 0h0m8 1h0m-3 3h0m2 0h0m2 1h0m-5 1h0m6 1h0m-11 1h0m3 2h0m4 0h0m5 0h0m-2 1h0m-3 3h0m-3 1h0m8 6h0m-11 3h0m11 3h0m-8 0h0m9 1h0m1 1h0m-14 1h0m7 3h0m0 0h0m4 1h0m-11 1h0m2 0h0m-2 1h0m11 1h0m-3 0h0m-2 1h0m4 0h0m-6 0h0m10 1h0m-13 1h0m3 0h0m3 2h0m-5 0h0m6 1h0m-8 2h0m14 11h0m-1 2h0m-2 1h0m3 1h0m-9 8h0m0 1h0m3 2h0m3 1h0m-9 0h0m11 1h0m-7 0h0m-1 0h0m8 1h0m-12 0h0m11 2h0m-5 0h0m3 0h0m-10 1h0m10 0h0m4 1h0m-12 1h0m10 2h0m1 4h0m10-108h0m-8 1h0m3 5h0m2 2h0m2 0h0m-1 2h0m0 1h0m-2 0h0m11 1h0m-13 4h0m7 0h0m-8 1h0m0 1h0m4 3h0m9 4h0m-2 1h0m-1 3h0m1 0h0m1 1h0m-1 0h0m-9 3h0m13 1h0m-13 0h0m9 1h0m-4 0h0m-3 1h0m-2 0h0m6 3h0m-2 1h0m0 3h0m-3 1h0m7 4h0m4 0h0m-5 0h0m6 3h0m-3 2h0m-4 1h0m-7 3h0m12 0h0m-8 1h0m5 0h0m-9 2h0m3 2h0m2 2h0m8 1h0m-8 2h0m6 3h0m-8 3h0m-1 0h0m7 0h0m-2 1h0m3 2h0m3 1h0m-6 0h0m5 4h0m-1 2h0m-11 1h0m9 0h0m-4 2h0m8 0h0m-12 1h0m11 2h0m0 1h0m-13 0h0m15 0h0m-13 0h0m2 0h0m9 2h0m-5 1h0m2 0h0m-3 1h0m5 1h0m-1 0h0m-4 1h0m1 1h0m-6 0h0m-3 0h0m1 0h0m4 1h0m-3 1h0m7 1h0m-5 4h0m-2 2h0m14 2h0m-14 1h0m5 1h0m-1 0h0m26-120h0m-9 3h0m-3 3h0m0 4h0m12 2h0m-6 2h0m0 0h0m-4 0h0m6 1h0m3 0h0m0 0h0m-3 1h0m-12 1h0m3 1h0m-3 2h0m13 2h0m-6 0h0m3 1h0m-1 4h0m-2 1h0m3 1h0m1 1h0m0 4h0m-4 1h0m-6 1h0m12 2h0m-8 1h0m1 3h0m7 1h0m2 1h0m-13 0h0m0 0h0m13 1h0m-4 0h0m2 10h0m-4 3h0m-6 1h0m3 1h0m4 1h0m2 3h0m-7 2h0m6 0h0m-9 2h0m13 0h0m-13 0h0m8 0h0m-5 0h0m1 0h0m-6 1h0m9 0h0m-8 2h0m6 0h0m-7 6h0m7 6h0m7 0h0m-12 1h0m7 0h0m-6 3h0m6 0h0m3 2h0m-9 1h0m3 0h0m5 0h0m-11 3h0m1 0h0m0 0h0m0 1h0m5 2h0m-4 0h0m11 1h0m3 1h0m-12 0h0m4 1h0m1 0h0m-4 1h0m0 0h0m4 2h0m3 0h0m-4 3h0m8 0h0m-5 2h0m4 1h0m-4 1h0m-1 1h0m-6 0h0m9 0h0m-5 1h0m3 1h0m2 1h0m-5 1h0m-3 1h0m0 3h0m-1 0h0m17-117h0m4 3h0m-8 0h0m4 1h0m3 0h0m7 3h0m-3 0h0m-2 2h0m-8 0h0m-1 0h0m2 2h0m3 2h0m6 1h0m-6 0h0m1 2h0m-1 5h0m-2 1h0m6 2h0m-4 0h0m-3 2h0m6 2h0m-5 1h0m8 0h0m-7 3h0m1 1h0m-5 2h0m2 0h0m3 2h0m-5 1h0m-1 4h0m3 3h0m9 1h0m-12 0h0m8 2h0m-4 1h0m4 1h0m7 0h0m-3 1h0m-9 3h0m5 1h0m2 2h0m2 4h0m-2 1h0m-8 1h0m2 0h0m10 1h0m-7 4h0m5 0h0m-11 1h0m15 0h0m-6 4h0m4 1h0m-4 2h0m-5 2h0m2 0h0m2 0h0m-8 2h0m9 5h0m-6 0h0m11 2h0m-9 2h0m3 1h0m-8 1h0m6 1h0m2 6h0m4 0h0m-1 1h0m-10 0h0m13 6h0m-11 0h0m10 1h0m-8 1h0m6 0h0m3 3h0m-10 1h0m-2 0h0m8 0h0m-11 5h0m4 2h0m25-89h0m0 2h0m-2 3h0m-5 2h0m4 2h0m-4 0h0m1 1h0m-4 5h0m12 1h0m-15 0h0m12 1h0m-2 0h0m2 1h0m-8 2h0m12 1h0m0 0h0m-5 0h0m-7 1h0m1 0h0m11 0h0m-8 1h0m6 1h0m-10 0h0m8 0h0m-10 2h0m1 1h0m2 1h0m2 0h0m1 1h0m0 0h0m6 1h0m-10 1h0m11 2h0m-4 0h0m-4 1h0m2 1h0m-1 2h0m1 1h0m2 0h0m1 0h0m-8 2h0m10 0h0m1 1h0m-5 2h0m-3 0h0m7 1h0m-5 0h0m-7 1h0m3 2h0m-1 1h0m-1 0h0m-2 1h0m0 5h0m1 22h0m0 8h0m18-85h0m9 1h0m-4 0h0m2 4h0m3 1h0m-11 3h0m11 1h0m-4 1h0m4 3h0m-10 1h0m8 0h0m-11 0h0m1 0h0m1 0h0m1 1h0m-1 1h0m0 1h0m3 0h0m5 1h0m-6 0h0m6 1h0m3 1h0m-8 0h0m-6 0h0m10 1h0m5 0h0m-9 2h0m4 1h0m-10 0h0m1 1h0m6 0h0m-1 2h0m3 3h0m6 0h0m-6 0h0m0 1h0m7 1h0m-15 2h0m-1 0h0m15 1h0m-3 0h0m-6 0h0m-1 0h0m-4 1h0m2 0h0m11 2h0m-4 0h0m3 1h0m-6 0h0m7 0h0m0 1h0m-11 0h0m6 0h0m1 3h0m-2 1h0m-3 5h0m23-50h0m-4 1h0m-3 4h0m9 1h0m-2 1h0m-9 3h0m2 1h0m9 0h0m-6 3h0m5 0h0m-11 1h0m-1 1h0m4 3h0m-3 0h0m1 0h0m11 1h0m1 0h0m-10 0h0m-4 3h0m13 1h0m-10 0h0m-4 0h0m7 1h0m1 1h0m3 0h0m3 0h0m-14 1h0m7 0h0m9 0h0m-9 2h0m2 1h0m0 1h0m-6 1h0m9 0h0m-10 3h0m9 0h0m0 1h0m-10 0h0m15 0h0m-6 1h0m-3 1h0m-3 0h0m-2 1h0m9 1h0m1 1h0m-5 1h0m1 0h0m4 1h0m4 0h0m-12 1h0m4 2h0m-3 0h0m4 1h0m3 1h0m-10 1h0m13 0h0m15-48h0m-11 1h0m10 0h0m-3 1h0m-4 0h0m4 1h0m-5 0h0m2 1h0m0 2h0m2 6h0m0 1h0m6 1h0m-4 1h0m4 1h0m0 1h0m-6 0h0m-9 0h0m14 2h0m-11 1h0m6 1h0m-4 0h0m8 2h0m-5 0h0m-7 0h0m1 0h0m12 0h0m-10 1h0m9 1h0m1 0h0m0 0h0m-14 1h0m7 1h0m0 0h0m1 1h0m-8 0h0m10 1h0m-5 1h0m1 1h0m-3 1h0m1 3h0m6 1h0m-8 0h0m-1 1h0m9 1h0m3 1h0m0 0h0m-5 0h0m-7 0h0m2 1h0m6 0h0m-1 1h0m4 1h0m0 0h0m3 0h0m-13 1h0m1 5h0m-2 1h0m23-49h0m-4 0h0m3 2h0m5 3h0m3 3h0m-2 0h0m-4 0h0m-7 0h0m13 3h0m-2 1h0m-4 1h0m-6 0h0m9 1h0m-2 0h0m-5 2h0m10 0h0m-11 0h0m8 0h0m-5 2h0m2 0h0m-4 0h0m8 2h0m-6 1h0m7 0h0m-5 1h0m5 0h0m0 1h0m-13 1h0m13 0h0m-8 1h0m-2 0h0m-2 0h0m4 1h0m-6 1h0m14 1h0m-7 0h0m8 0h0m-8 1h0m-5 1h0m3 0h0m4 0h0m-1 1h0m-5 0h0m7 1h0m-2 1h0m-2 0h0m-6 0h0m11 2h0m-9 1h0m10 1h0m-10 1h0m8 0h0m-4 0h0m-4 1h0m-2 1h0m7 4h0m9 1h0m-10 4h0m5 0h0m16-50h0m-3 0h0m7 1h0m-6 1h0m4 0h0m-8 1h0m-3 1h0m9 3h0m-3 0h0m-1 2h0m5 2h0m-8 1h0m9 0h0m-3 0h0m3 1h0m-4 1h0m7 2h0m-7 3h0m-7 1h0m0 0h0m1 1h0m-2 1h0m0 0h0m6 1h0m-2 0h0m1 1h0m5 1h0m3 0h0m-8 0h0m4 0h0m5 0h0m-11 0h0m-2 4h0m13 0h0m-13 1h0m7 1h0m5 1h0m-6 0h0m6 1h0m-13 1h0m9 0h0m-3 2h0m6 0h0m2 0h0m-4 1h0m-2 0h0m0 3h0m-8 0h0m2 1h0m2 1h0m0 0h0m10 1h0m-14 1h0m3 2h0m3 2h0m-1 2h0m22-50h0m-3 1h0m-6 1h0m1 2h0m8 1h0m-5 0h0m4 0h0m-3 1h0m7 1h0m0 1h0m-9 1h0m-5 3h0m2 2h0m4 1h0m-6 1h0m12 0h0m-9 0h0m1 1h0m8 1h0m-8 0h0m9 0h0m-6 0h0m3 3h0m-7 2h0m10 0h0m-5 3h0m0 2h0m3 1h0m-10 0h0m10 3h0m3 1h0m-1 1h0m-6 0h0m-4 1h0m4 0h0m2 0h0m-10 1h0m9 0h0m-5 0h0m9 2h0m-12 0h0m15 0h0m-16 1h0m9 1h0m-5 0h0m0 3h0m6 0h0m-1 1h0m3 3h0m-9 0h0m4 0h0m-6 1h0m7 1h0m6 0h0m-9 0h0m11 0h0m15-48h0m-3 0h0m-9 1h0m-2 1h0m0 1h0m0 0h0m9 4h0m1 0h0m3 0h0m-14 1h0m14 2h0m-6 0h0m3 3h0m-2 0h0m-9 1h0m4 1h0m8 0h0m-6 1h0m0 0h0m-2 1h0m5 1h0m-7 0h0m8 1h0m-1 0h0m5 1h0m0 1h0m0 0h0m-7 5h0m-2 4h0m9 0h0m-1 0h0m-5 0h0m6 2h0m-4 0h0m-7 0h0m-2 0h0m5 0h0m8 1h0m-8 1h0m8 0h0m-8 0h0m0 1h0m-2 0h0m7 1h0m-3 0h0m5 1h0m-6 0h0m9 0h0m-13 1h0m5 0h0m-5 1h0m7 0h0m-10 1h0m4 4h0m6 1h0m2 4h0m-6 0h0m16-35h0m-1 1h0m7 1h0m-10 0h0m6 3h0m0 0h0m-7 1h0m1 0h0m3 0h0m-2 2h0m10 1h0m-11 1h0m11 3h0m-3 0h0m5 0h0m-1 1h0m-3 0h0m-11 0h0m7 0h0m-4 0h0m12 2h0m-12 0h0m3 0h0m1 2h0m-5 1h0m3 0h0m7 0h0m2 0h0m-13 2h0m8 0h0m-4 1h0m-3 1h0m7 0h0m-5 2h0m4 2h0m6 1h0m-9 1h0m-4 1h0m2 2h0m7 2h0m6 3h0m-4 0h0m-5 1h0m-4 0h0m11 2h0m-8 0h0m3 1h0m0 1h0m6 0h0m-6 1h0m1 2h0m4 2h0m-3 1h0m4 5h0m1 1h0m15-86h0m-1 15h0m-4 3h0m5 1h0m-3 0h0m0 2h0m1 1h0m1 3h0m-5 4h0m6 1h0m-1 0h0m-4 1h0m0 2h0m-6 0h0m10 1h0m-2 0h0m-4 1h0m-5 1h0m6 0h0m-3 1h0m-1 0h0m3 1h0m-3 1h0m-2 1h0m-1 0h0m8 0h0m2 0h0m-9 2h0m4 0h0m6 1h0m-1 0h0m-5 1h0m1 0h0m-7 2h0m10 1h0m-6 0h0m-4 1h0m11 1h0m-12 1h0m8 1h0m-1 1h0m5 1h0m-8 1h0m11 1h0m-11 1h0m1 3h0m5 0h0m-9 1h0m4 4h0m-4 3h0m0 5h0m3 0h0m-2 6h0m21-96h0m-1 6h0m8 2h0m-11 5h0m12 4h0m-8 4h0m-6 1h0m0 2h0m5 2h0m-5 1h0m5 0h0m2 1h0m-7 1h0m10 0h0m-8 0h0m0 2h0m8 1h0m-3 1h0m5 0h0m0 1h0m0 1h0m-10 1h0m2 0h0m4 0h0m6 2h0m-12 1h0m9 1h0m-4 1h0m7 0h0m-10 1h0m1 2h0m4 0h0m1 0h0m-4 0h0m3 3h0m-1 2h0m5 1h0m-2 0h0m-5 1h0m-7 1h0m5 1h0m-3 1h0m14 2h0m-7 0h0m-8 1h0m15 3h0m-6 0h0m-1 2h0m0 2h0m2 1h0m-4 3h0m-4 1h0m5 0h0m5 2h0m-9 1h0m2 0h0m3 3h0m4 1h0m-2 2h0m0 5h0m4 7h0m-8 1h0m7 2h0m-5 4h0m10-101h0m12 1h0m-11 1h0m11 0h0m-7 5h0m-7 1h0m10 0h0m3 3h0m-13 2h0m9 5h0m-7 1h0m7 11h0m-3 6h0m-4 1h0m9 0h0m-8 1h0m7 1h0m-6 1h0m2 0h0m-5 0h0m12 1h0m-12 1h0m5 1h0m2 0h0m-5 2h0m0 2h0m7 1h0m-1 1h0m-4 1h0m9 2h0m-2 2h0m-2 0h0m4 0h0m-10 1h0m-3 0h0m6 0h0m4 0h0m3 0h0m-2 1h0m3 0h0m-7 0h0m-3 0h0m-5 2h0m5 2h0m-2 1h0m-2 1h0m6 2h0m-6 1h0m4 5h0m5 1h0m-8 1h0m3 0h0m8 6h0m-11 0h0m9 3h0m-2 6h0m-9 1h0m4 1h0m3 1h0m-4 2h0m0 1h0m3 3h0m8 2h0m-4 2h0m8-97h0m2 6h0m-5 4h0m13 1h0m-12 4h0m10 1h0m-11 3h0m13 2h0m-7 2h0m9 2h0m-5 2h0m-2 1h0m-2 0h0m-3 3h0m13 0h0m-6 2h0m0 1h0m3 1h0m-8 2h0m10 4h0m0 0h0m-9 0h0m-2 1h0m-4 2h0m12 4h0m-3 1h0m3 0h0m-1 2h0m-3 3h0m-1 0h0m6 0h0m-6 0h0m9 1h0m-13 0h0m-1 0h0m13 1h0m-1 0h0m-4 1h0m-9 1h0m10 4h0m-1 1h0m-8 4h0m4 3h0m0 2h0m5 0h0m-8 0h0m2 3h0m2 1h0m1 2h0m6 2h0m-4 4h0m5 1h0m-10 0h0m3 2h0m-7 4h0m1 5h0m12 1h0m4-96h0m7 1h0m2 10h0m-6 1h0m3 10h0m-7 0h0m3 0h0m7 4h0m-9 1h0m5 4h0m-6 1h0m13 0h0m-6 0h0m7 1h0m-13 1h0m13 0h0m-2 3h0m-8 2h0m5 0h0m-9 2h0m14 1h0m-7 3h0m1 5h0m6 0h0m-10 0h0m6 1h0m4 0h0m-2 2h0m-11 0h0m4 1h0m-4 0h0m8 4h0m-4 1h0m7 1h0m-3 3h0m-6 1h0m3 0h0m6 2h0m-5 1h0m-7 0h0m0 1h0m15 6h0m-4 2h0m-7 0h0m7 2h0m-2 3h0m-3 1h0m-3 3h0m2 2h0m-5 0h0m3 1h0m2 0h0m7 0h0m-9 1h0m7 3h0m-10 0h0m7 1h0m8 0h0m-3 0h0m1 0h0m16-96h0m-7 3h0m7 5h0m-13 0h0m2 1h0m7 0h0m-6 4h0m8 0h0m3 1h0m-5 3h0m-9 5h0m6 6h0m3 0h0m-7 1h0m0 6h0m2 1h0m8 0h0m-8 3h0m5 2h0m2 3h0m-10 2h0m12 0h0m-10 4h0m6 2h0m-4 0h0m-2 1h0m2 0h0m10 0h0m-13 0h0m7 1h0m3 1h0m-11 2h0m6 3h0m7 0h0m-8 6h0m9 0h0m-15 1h0m3 0h0m7 2h0m-1 4h0m-9 0h0m12 4h0m-9 1h0m4 0h0m-1 2h0m-6 1h0m8 3h0m-4 3h0m-3 1h0m14 1h0m-14 1h0m7 0h0m2 3h0m-4 2h0m-2 1h0m7 2h0m6-96h0m5 1h0m-3 9h0m9 4h0m0 4h0m3 3h0m-14 1h0m13 6h0m-6 1h0m-2 2h0m-6 1h0m2 0h0m10 1h0m-6 2h0m3 1h0m1 1h0m-9 1h0m8 3h0m-4 1h0m-2 2h0m9 1h0m-12 1h0m7 1h0m1 1h0m-4 0h0m-4 1h0m9 0h0m6 1h0m-4 1h0m-6 2h0m4 0h0m-4 0h0m7 0h0m3 1h0m-11 0h0m2 3h0m-4 1h0m7 3h0m-6 2h0m6 1h0m-10 3h0m15 1h0m-4 1h0m3 0h0m-14 0h0m4 2h0m5 4h0m-6 1h0m4 2h0m1 0h0m-5 1h0m1 1h0m3 0h0m3 1h0m-5 0h0m11 1h0m-8 0h0m-2 1h0m7 0h0m-2 3h0m2 0h0m-5 2h0m7 0h0m-5 1h0m-2 2h0m-6 1h0m-1 0h0m4 2h0m8 1h0m3 3h0m-15 0h0m2 4h0m-2 1h0m10 0h0m-2 6h0m-7 4h0m11 2h0m-1 1h0m-8 3h0m-4 1h0m3 1h0m14-123h0m15 1h0m-16 3h0m7 2h0m6 0h0m-13 4h0m4 0h0m7 5h0m-5 3h0m3 0h0m-6 9h0m7 0h0m-4 7h0m3 0h0m2 1h0m-2 1h0m2 0h0m2 2h0m2 3h0m-4 1h0m-6 1h0m1 1h0m1 1h0m-6 0h0m6 0h0m-4 3h0m10 1h0m2 2h0m-13 1h0m3 0h0m4 0h0m-9 2h0m7 1h0m7 1h0m-1 0h0m2 1h0m-2 0h0m-8 0h0m11 0h0m-14 1h0m10 0h0m3 1h0m-7 1h0m1 0h0m-3 1h0m7 1h0m-2 4h0m-9 4h0m2 6h0m-2 1h0m2 0h0m-3 4h0m9 4h0m-3 1h0m6 2h0m-2 1h0m-2 1h0m-4 2h0m11 1h0m-2 0h0m-11 0h0m7 4h0m3 2h0m2 0h0m-8 0h0m5 4h0m-11 2h0m9 0h0m-7 4h0m-1 1h0m2 1h0m1 3h0m4 1h0m-3 2h0m-4 3h0m12 2h0m4-119h0m10 2h0m-3 2h0m-4 3h0m6 1h0m2 4h0m-8 1h0m-3 2h0m-2 2h0m14 0h0m-7 10h0m-1 4h0m4 1h0m4 0h0m-11 2h0m7 1h0m-8 1h0m2 1h0m8 0h0m-4 1h0m8 1h0m-4 1h0m-12 1h0m15 0h0m-8 2h0m8 0h0m-4 1h0m-4 0h0m1 3h0m1 1h0m6 1h0m-13 0h0m7 1h0m3 1h0m-7 3h0m3 0h0m-6 1h0m8 2h0m-2 1h0m-7 0h0m3 1h0m8 1h0m2 3h0m-12 3h0m3 0h0m9 1h0m-2 2h0m-4 0h0m-2 0h0m-1 5h0m9 1h0m-13 0h0m12 7h0m-8 2h0m0 0h0m3 0h0m3 0h0m-8 6h0m12 4h0m-2 0h0m-7 0h0m7 2h0m-12 2h0m8 1h0m-8 1h0m1 0h0m10 5h0m-11 1h0m14 0h0m-5 1h0m2 1h0m-8 3h0m1 2h0m2 0h0m2 0h0m6 2h0m-14 3h0m2 2h0m25-124h0m1 0h0m-11 6h0m7 0h0m1 1h0m3 7h0m0 2h0m-6 17h0m-4 2h0m10 0h0m-4 2h0m5 0h0m-9 1h0m1 0h0m7 3h0m-7 0h0m4 2h0m0 0h0m5 2h0m-14 0h0m2 1h0m5 0h0m-7 1h0m14 0h0m-8 1h0m2 2h0m-4 2h0m-3 1h0m2 0h0m5 1h0m-8 2h0m2 1h0m12 0h0m-9 0h0m2 0h0m5 2h0m-11 5h0m1 1h0m7 0h0m-3 0h0m9 9h0m0 1h0m-16 2h0m11 1h0m-6 0h0m8 2h0m-3 1h0m-4 2h0m1 1h0m0 0h0m6 1h0m-8 1h0m5 2h0m-1 0h0m-9 0h0m13 0h0m-5 4h0m3 1h0m-9 1h0m14 4h0m-10 2h0m9 0h0m-6 0h0m-3 2h0m9 5h0m-12 1h0m4 3h0m4 1h0m-6 2h0m9 1h0m-12 0h0m6 3h0m-5 5h0m-3 2h0m25-121h0m-9 1h0m5 1h0m11 1h0m-4 0h0m3 2h0m-5 8h0m-3 1h0m6 2h0m0 1h0m-9 1h0m-2 1h0m6 2h0m2 3h0m3 7h0m1 2h0m-7 1h0m5 1h0m1 4h0m-12 1h0m10 1h0m-4 3h0m-6 0h0m2 0h0m0 0h0m5 1h0m2 1h0m-8 0h0m13 1h0m-9 3h0m3 1h0m-4 0h0m1 0h0m0 1h0m9 1h0m-11 0h0m8 0h0m-4 3h0m-6 1h0m7 0h0m-2 1h0m-7 3h0m12 0h0m1 1h0m1 5h0m-9 3h0m-1 0h0m7 3h0m-5 0h0m9 1h0m-10 0h0m-1 3h0m7 2h0m-3 3h0m6 1h0m-7 0h0m-7 3h0m8 0h0m4 1h0m2 1h0m0 2h0m-12 0h0m5 5h0m-6 1h0m9 2h0m6 3h0m-14 0h0m6 1h0m4 2h0m-8 6h0m11 1h0m-10 4h0m0 1h0m-2 2h0m5 1h0m3 1h0m14-121h0m-3 0h0m-2 3h0m1 1h0m-5 1h0m2 1h0m-1 6h0m12 5h0m-8 0h0m10 14h0m-6 5h0m6 0h0m-8 1h0m8 1h0m-3 0h0m-3 1h0m-1 0h0m-1 0h0m7 1h0m-3 4h0m-8 0h0m7 1h0m0 2h0m-10 1h0m0 0h0m10 1h0m4 1h0m-11 0h0m9 0h0m-5 0h0m3 1h0m-4 1h0m-1 0h0m4 1h0m4 2h0m-6 2h0m5 3h0m-11 1h0m4 1h0m10 1h0m-2 1h0m0 1h0m-10 3h0m7 1h0m6 3h0m-13 3h0m3 0h0m5 1h0m-9 1h0m10 2h0m-10 1h0m8 1h0m-1 1h0m-8 1h0m1 0h0m0 0h0m2 3h0m3 1h0m-5 1h0m7 1h0m-6 2h0m7 0h0m6 0h0m-2 2h0m-8 8h0m10 0h0m-8 1h0m5 4h0m0 1h0m-9 2h0m6 4h0m-4 1h0m7 1h0m-9 2h0m-2 1h0m8 3h0m15-123h0m-2 7h0m-3 0h0m9 5h0m-12 5h0m5 1h0m8 0h0m-2 0h0m-2 8h0m-5 4h0m-1 4h0m10 1h0m-10 0h0m9 0h0m1 6h0m-8 2h0m8 0h0m-13 0h0m-1 1h0m10 1h0m-1 1h0m-5 1h0m7 3h0m4 2h0m-2 1h0m-9 0h0m3 1h0m3 2h0m0 1h0m4 0h0m-13 0h0m12 1h0m1 1h0m-10 1h0m0 0h0m3 0h0m-3 3h0m6 1h0m3 1h0m-2 2h0m-9 4h0m5 1h0m-5 1h0m12 4h0m-5 2h0m3 1h0m-5 0h0m-5 3h0m4 1h0m5 0h0m3 1h0m0 1h0m-2 2h0m-5 0h0m-6 3h0m5 3h0m-4 3h0m7 0h0m-5 1h0m8 1h0m-10 1h0m2 1h0m9 3h0m-13 18h0m19-116h0m8 0h0m-7 2h0m3 0h0m-4 1h0m11 8h0m-7 2h0m-5 4h0m12 4h0m-13 3h0m8 4h0m-3 3h0m6 0h0m-10 0h0m8 1h0m5 0h0m-10 5h0m1 3h0m0 1h0m3 0h0m-8 1h0m3 1h0m8 1h0m0 0h0m-1 1h0m-6 0h0m3 1h0m5 0h0m-9 1h0m12 2h0m-3 1h0m3 0h0m-8 0h0m7 0h0m-12 2h0m4 2h0m-2 0h0m-4 4h0m12 1h0m-7 3h0m7 0h0m-12 0h0m8 1h0m6 2h0m-9 1h0m-4 1h0m10 2h0m-2 2h0m1 2h0m-8 1h0m4 0h0m-5 0h0m9 1h0m-9 5h0m12 0h0m-1 7h0m-8 2h0m-1 1h0m7 0h0m-7 0h0m6 1h0m3 4h0m-7 1h0m4 1h0m-10 0h0m29-97h0m-11 1h0m-2 3h0m13 1h0m-2 2h0m-6 5h0m0 6h0m10 4h0m-12 4h0m6 0h0m-2 4h0m-6 0h0m11 2h0m2 2h0m1 2h0m-6 1h0m6 0h0m-11 0h0m7 1h0m-5 1h0m-3 1h0m4 2h0m-2 1h0m1 0h0m8 3h0m-12 1h0m-1 1h0m12 0h0m1 1h0m-6 1h0m3 1h0m-1 0h0m-1 1h0m-5 2h0m8 2h0m1 2h0m-11 1h0m1 1h0m13 1h0m-10 0h0m1 3h0m-6 1h0m2 1h0m7 1h0m1 1h0m-6 3h0m4 3h0m-5 1h0m10 1h0m-13 7h0m8 0h0m3 2h0m-6 0h0m-2 0h0m3 2h0m-6 2h0m13 1h0m0 0h0m-3 3h0m-8 1h0m8 1h0m-1 0h0m-6 1h0m23-98h0m4 2h0m-2 1h0m-11 2h0m4 1h0m3 1h0m-4 8h0m5 8h0m3 1h0m-13 1h0m9 3h0m3 2h0m-12 2h0m4 0h0m-2 2h0m-1 2h0m11 1h0m2 1h0m-7 0h0m-1 1h0m4 0h0m-7 2h0m13 1h0m-14 0h0m11 3h0m-7 2h0m1 1h0m7 1h0m1 0h0m-9 0h0m4 0h0m-9 0h0m1 0h0m4 1h0m8 0h0m-7 1h0m-4 1h0m7 3h0m-3 0h0m8 0h0m-5 2h0m-1 5h0m5 0h0m-4 4h0m-6 2h0m10 0h0m-9 1h0m9 8h0m-11 1h0m8 1h0m-2 4h0m-6 1h0m11 6h0m-13 2h0m9 2h0m-4 2h0m3 1h0m5 0h0m-12 1h0m5 0h0m5 2h0m20-108h0m-5 0h0m3 2h0m1 5h0m-4 1h0m-3 11h0m2 1h0m3 1h0m-5 3h0m-4 5h0m-1 3h0m9 5h0m-6 2h0m6 0h0m-2 2h0m-4 1h0m5 1h0m1 0h0m-5 0h0m0 2h0m-6 1h0m2 1h0m-1 3h0m1 1h0m10 0h0m-13 1h0m16 3h0m-1 0h0m-12 1h0m12 1h0m-5 1h0m1 0h0m-11 0h0m13 1h0m2 1h0m-9 1h0m7 1h0m-12 1h0m3 2h0m8 1h0m-10 4h0m1 0h0m3 1h0m2 0h0m-6 5h0m10 1h0m-4 1h0m4 1h0m-4 1h0m-2 1h0m8 2h0m1 0h0m-14 1h0m14 1h0m-5 1h0m4 2h0m-14 0h0m13 3h0m-10 1h0m0 0h0m1 1h0m9 1h0m-3 1h0m-4 1h0m4 2h0m-9 0h0m9 1h0m0 0h0m5 0h0m-2 0h0m-7 2h0m5 0h0m-5 2h0m2 0h0m-4 1h0m11 1h0m-10 0h0m5 1h0m0 0h0m-5 0h0m27-114h0m-4 6h0m-6 1h0m2 3h0m-8 5h0m11 4h0m-3 3h0m0 7h0m6 1h0m-14 2h0m2 1h0m-1 2h0m1 1h0m11 0h0m-4 1h0m1 3h0m-5 4h0m2 2h0m2 0h0m-2 4h0m0 0h0m-2 0h0m6 2h0m2 0h0m-11 1h0m13 0h0m-15 2h0m7 0h0m-5 2h0m10 1h0m-7 4h0m6 0h0m-8 1h0m7 1h0m4 1h0m-12 5h0m4 1h0m2 1h0m-4 3h0m9 4h0m-2 0h0m-7 0h0m-3 2h0m1 2h0m12 1h0m-5 2h0m5 0h0m-5 3h0m4 0h0m-5 0h0m1 0h0m-2 1h0m5 1h0m-10 1h0m11 0h0m1 0h0m-5 2h0m-4 1h0m10 1h0m-14 1h0m12 1h0m-11 0h0m11 0h0m-9 0h0m11 0h0m-8 1h0m8 0h0m-6 0h0m-1 0h0m3 1h0m-4 0h0m-5 1h0m9 0h0m-5 1h0m-3 0h0m0 2h0m-3 1h0m12 1h0m-1 2h0m-8 2h0m10 2h0m-5 1h0m-3 0h0m2 2h0m8 1h0m-3 2h0m16-127h0m-4 5h0m0 10h0m-5 0h0m11 4h0m1 7h0m-8 3h0m-5 1h0m3 7h0m-4 1h0m11 0h0m2 2h0m-9 0h0m6 2h0m-11 4h0m14 1h0m-5 0h0m5 1h0m-10 1h0m7 1h0m1 4h0m-3 2h0m-3 1h0m2 2h0m3 2h0m-8 1h0m-3 0h0m6 2h0m7 1h0m-11 0h0m9 1h0m-3 4h0m-6 0h0m7 0h0m-7 0h0m14 2h0m-6 2h0m3 1h0m-8 1h0m3 2h0m-6 1h0m9 1h0m-2 1h0m-1 1h0m6 1h0m0 0h0m-10 0h0m2 1h0m9 1h0m-12 2h0m10 0h0m-4 1h0m-1 3h0m-1 4h0m-5 1h0m13 0h0m-14 1h0m10 2h0m-2 2h0m2 1h0m-10 1h0m4 1h0m-2 0h0m9 1h0m3 2h0m-11 0h0m4 1h0m4 2h0m-7 1h0m-2 2h0m0 2h0m-2 1h0m4 1h0m-2 1h0m-2 0h0m1 0h0m13 2h0m-9 1h0m0 2h0m1 1h0m0 0h0m2 0h0m3 2h0m11-126h0m2 2h0m-5 10h0m10 3h0m2 1h0m-4 0h0m-5 2h0m-6 2h0m1 12h0m11 1h0m2 6h0m-8 0h0m4 2h0m-2 1h0m-1 2h0m-7 0h0m1 1h0m11 0h0m-7 2h0m9 2h0m-6 0h0m4 4h0m-9 0h0m1 3h0m3 2h0m1 3h0m6 0h0m-15 0h0m10 2h0m1 0h0m3 2h0m-14 3h0m7 2h0m-7 0h0m1 1h0m2 2h0m3 0h0m6 1h0m-8 0h0m8 0h0m-9 1h0m2 0h0m-1 0h0m10 1h0m-8 0h0m8 1h0m-3 2h0m-1 1h0m5 4h0m-6 1h0m-3 0h0m-5 0h0m2 2h0m1 0h0m5 5h0m-9 0h0m7 5h0m5 1h0m-12 0h0m11 2h0m-10 0h0m13 1h0m-10 2h0m6 1h0m0 2h0m-2 5h0m5 2h0m2 0h0m-10 0h0m1 3h0m2 0h0m-3 1h0m5 0h0m-3 3h0m3 4h0m-7 1h0m6 1h0m4 1h0m3 0h0m-12 1h0m11 1h0m-13 0h0m15-127h0m5 3h0m-3 2h0m-1 12h0m3 1h0m-1 13h0m8 3h0m2 2h0m-10 2h0m-3 1h0m8 2h0m-1 0h0m-1 1h0m-4 1h0m5 0h0m-6 0h0m6 4h0m7 2h0m-1 1h0m-2 0h0m0 2h0m-4 1h0m-6 1h0m3 1h0m5 0h0m-7 2h0m9 1h0m-11 1h0m6 1h0m9 1h0m-5 0h0m3 3h0m-10 2h0m3 0h0m1 4h0m5 0h0m2 0h0m-8 1h0m4 0h0m-5 1h0m-5 1h0m13 0h0m-3 1h0m-4 4h0m3 1h0m-6 2h0m7 1h0m1 1h0m-10 0h0m3 1h0m-1 2h0m4 2h0m3 3h0m1 2h0m-11 0h0m15 1h0m0 1h0m-6 0h0m4 1h0m0 1h0m0 0h0m-5 1h0m2 4h0m-4 0h0m1 4h0m7 1h0m-11 1h0m-3 0h0m11 2h0m0 1h0m-4 0h0m7 2h0m-4 1h0m3 2h0m-11 2h0m-2 0h0m5 1h0m-3 0h0m17-123h0m-1 4h0m4 2h0m8 3h0m-1 6h0m-4 7h0m-8 2h0m12 8h0m-9 2h0m-5 4h0m1 2h0m11 1h0m3 0h0m-3 1h0m-4 1h0m-5 2h0m8 3h0m-8 1h0m1 1h0m4 1h0m-1 2h0m3 0h0m3 3h0m-7 1h0m4 2h0m-4 1h0m5 3h0m-5 0h0m4 1h0m5 1h0m-4 0h0m4 2h0m-14 1h0m1 0h0m5 1h0m-6 0h0m13 6h0m-1 0h0m-4 2h0m-5 0h0m7 2h0m0 0h0m-5 1h0m1 1h0m5 0h0m-1 1h0m-10 1h0m10 0h0m-7 0h0m6 0h0m0 1h0m-8 2h0m13 1h0m-8 0h0m-3 1h0m10 1h0m-11 1h0m12 2h0m-15 6h0m7 8h0m3 0h0m3 1h0m-11 1h0m13 0h0m-11 3h0m-1 0h0m6 2h0m5 1h0m-9 1h0m1 3h0m0 1h0m3 2h0m1 1h0m-10 0h0m0 3h0m8 3h0m8 0h0m15-119h0m-1 7h0m-7 1h0m-3 3h0m8 1h0m-6 11h0m8 2h0m-1 7h0m-9 2h0m6 1h0m-9 1h0m11 4h0m-3 0h0m-2 1h0m0 1h0m9 2h0m-6 0h0m-9 1h0m9 0h0m5 1h0m-2 2h0m-12 1h0m1 1h0m3 0h0m0 4h0m-1 0h0m2 0h0m3 0h0m-3 1h0m2 0h0m-5 1h0m1 3h0m12 1h0m-11 1h0m-3 2h0m9 3h0m5 1h0m-1 0h0m-12 1h0m5 0h0m3 0h0m-1 0h0m-3 2h0m3 0h0m-4 2h0m-3 3h0m0 3h0m7 1h0m-1 3h0m2 0h0m-6 4h0m8 0h0m-11 2h0m4 0h0m8 1h0m-7 0h0m6 2h0m2 0h0m-8 1h0m3 0h0m3 0h0m-2 1h0m-6 0h0m-4 0h0m0 1h0m5 6h0m5 4h0m-2 1h0m-6 1h0m8 1h0m1 0h0m-9 5h0m-2 0h0m4 0h0m2 4h0m8 3h0m-14 1h0m9 0h0m10-125h0m11 7h0m-2 6h0m-5 1h0m0 8h0m-5 12h0m3 1h0m5 3h0m5 5h0m-6 0h0m-6 1h0m11 1h0m-4 1h0m-3 3h0m-8 1h0m11 2h0m3 1h0m-13 1h0m12 0h0m-5 0h0m4 1h0m-9 1h0m4 3h0m-3 2h0m1 0h0m2 3h0m-1 0h0m2 0h0m4 0h0m1 0h0m-9 1h0m6 2h0m-8 0h0m12 1h0m-12 0h0m12 0h0m-6 1h0m1 2h0m-9 1h0m12 2h0m-7 1h0m-2 1h0m-3 0h0m6 0h0m4 1h0m-10 1h0m7 4h0m4 2h0m3 1h0m1 3h0m-6 3h0m5 1h0m-2 0h0m-11 2h0m12 1h0m0 0h0m-10 0h0m1 1h0m2 0h0m5 0h0m-6 2h0m-5 1h0m14 2h0m-9 0h0m3 0h0m-2 0h0m2 2h0m3 3h0m-3 4h0m-4 3h0m-3 1h0m2 0h0m12 1h0m-3 2h0m-4 1h0m-4 1h0m0 5h0m27-127h0m-13 1h0m2 1h0m-4 0h0m11 7h0m0 3h0m-5 4h0m8 5h0m-1 7h0m-13 2h0m5 6h0m4 6h0m-1 0h0m-5 3h0m12 0h0m-4 1h0m-3 1h0m2 1h0m3 1h0m-11 1h0m11 1h0m-10 3h0m8 0h0m-8 2h0m6 0h0m7 0h0m-8 0h0m-7 3h0m10 0h0m4 3h0m-7 0h0m7 1h0m-6 0h0m-6 1h0m2 3h0m0 0h0m2 2h0m-3 1h0m-4 5h0m14 0h0m-9 1h0m3 0h0m-8 1h0m1 2h0m14 0h0m-12 4h0m1 4h0m4 1h0m2 2h0m-6 0h0m7 1h0m2 1h0m2 0h0m-3 4h0m-7 0h0m5 1h0m4 1h0m-8 0h0m3 1h0m0 1h0m-7 1h0m10 0h0m-11 1h0m12 1h0m0 3h0m-2 0h0m-10 1h0m13 3h0m-10 5h0m11 0h0m-9 0h0m1 2h0m-6 2h0m8 0h0m-2 8h0m9-128h0m10 0h0m-3 1h0m9 13h0m-9 1h0m2 8h0m-6 4h0m1 3h0m1 2h0m-4 8h0m7 2h0m0 1h0m7 0h0m-14 1h0m10 2h0m-6 3h0m7 0h0m0 2h0m-2 0h0m2 2h0m-4 0h0m8 2h0m-9 1h0m1 1h0m4 0h0m-6 3h0m-3 1h0m10 0h0m-8 0h0m-4 6h0m13 2h0m-10 1h0m-1 2h0m11 2h0m-13 1h0m12 1h0m-11 0h0m3 1h0m8 1h0m-5 0h0m-4 2h0m10 1h0m-10 0h0m4 0h0m4 1h0m4 5h0m0 1h0m-8 2h0m-5 1h0m-1 1h0m4 2h0m-6 3h0m10 1h0m0 0h0m6 1h0m-7 1h0m0 0h0m-1 1h0m2 1h0m0 2h0m-7 1h0m11 2h0m-6 0h0m0 0h0m-1 1h0m-6 2h0m4 2h0m-4 1h0m11 3h0m-8 1h0m0 3h0m10 1h0m-11 1h0m2 1h0m10 1h0m16-116h0m-11 8h0m1 3h0m8 1h0m1 3h0m-5 4h0m-9 9h0m13 5h0m-7 0h0m3 1h0m-1 0h0m1 1h0m2 5h0m-1 0h0m1 2h0m-8 2h0m-1 0h0m4 1h0m-5 3h0m5 0h0m-4 0h0m8 0h0m5 2h0m0 0h0m-7 0h0m0 3h0m-4 3h0m9 0h0m0 0h0m-7 3h0m5 0h0m-8 2h0m4 2h0m-4 1h0m-3 2h0m15 1h0m-8 1h0m-6 1h0m10 0h0m5 3h0m-4 4h0m1 1h0m-8 1h0m-4 0h0m12 1h0m-2 1h0m4 1h0m-6 2h0m6 0h0m-4 0h0m-11 2h0m7 0h0m-1 2h0m0 2h0m0 0h0m-1 1h0m-2 0h0m7 3h0m-8 1h0m6 0h0m-2 1h0m1 1h0m-6 4h0m11 1h0m-3 0h0m2 1h0m-7 7h0m9 0h0m2 0h0m-7 1h0m0 1h0m-4 2h0m-1 1h0m12 3h0m-13 2h0m12 1h0m15-120h0m0 2h0m-11 2h0m7 10h0m5 3h0m-2 10h0m-11 3h0m1 3h0m2 0h0m3 0h0m3 1h0m-8 1h0m7 1h0m-5 1h0m9 1h0m-6 3h0m8 0h0m-10 1h0m1 4h0m2 1h0m4 2h0m-8 0h0m11 2h0m-15 2h0m8 1h0m3 1h0m-3 0h0m-3 1h0m10 0h0m-4 3h0m-7 0h0m0 1h0m8 3h0m-7 1h0m11 0h0m-8 3h0m-1 1h0m7 0h0m-13 1h0m13 1h0m-12 0h0m11 1h0m-2 1h0m3 0h0m2 2h0m-8 0h0m3 5h0m4 0h0m-12 0h0m2 1h0m1 1h0m-2 4h0m8 4h0m-2 2h0m-6 0h0m-3 1h0m14 1h0m-9 1h0m-4 0h0m12 1h0m-8 0h0m1 4h0m3 1h0m-7 1h0m12 1h0m-9 3h0m8 2h0m-4 3h0m3 0h0m-4 1h0m-5 2h0m-2 3h0m9 2h0m-3 1h0m4 0h0m-11 0h0m29-117h0m-5 13h0m4 7h0m-8 1h0m3 0h0m4 1h0m2 4h0m-7 0h0m-7 4h0m12 1h0m-3 1h0m0 0h0m6 1h0m-5 2h0m2 4h0m2 1h0m2 0h0m-14 2h0m13 0h0m-11 0h0m-3 4h0m2 0h0m-2 0h0m5 3h0m-1 0h0m-2 1h0m1 1h0m0 2h0m8 1h0m-11 1h0m13 1h0m-11 1h0m-2 1h0m6 1h0m9 1h0m-8 2h0m-1 0h0m4 1h0m-3 1h0m-6 4h0m7 2h0m-2 1h0m6 1h0m0 3h0m-10 1h0m11 2h0m-7 2h0m1 1h0m-8 2h0m5 0h0m0 1h0m1 1h0m5 1h0m-1 0h0m1 2h0m5 1h0m-15 0h0m13 1h0m-4 3h0m-3 15h0m0 1h0m2 0h0m-4 1h0m-2 0h0m-1 1h0m11 0h0m-7 1h0m5 2h0m0 1h0m-8 1h0m12 0h0m-11 0h0m11 1h0m-14 1h0m11 1h0m1 1h0m-2 0h0m19-104h0m-10 0h0m3 2h0m-5 6h0m2 4h0m11 1h0m-4 2h0m-10 0h0m10 2h0m3 1h0m-6 0h0m6 2h0m-6 1h0m-3 1h0m-2 1h0m1 2h0m-1 3h0m2 1h0m3 0h0m2 0h0m-2 3h0m-7 1h0m11 2h0m-1 1h0m5 0h0m-10 2h0m6 2h0m3 2h0m-11 1h0m-3 4h0m8 1h0m-7 1h0m5 0h0m1 2h0m1 0h0m5 0h0m-11 0h0m11 1h0m0 0h0m-2 1h0m-12 0h0m11 3h0m0 1h0m4 2h0m-14 1h0m1 2h0m3 2h0m4 0h0m-8 4h0m3 2h0m2 0h0m6 0h0m3 2h0m-3 1h0m-6 1h0m1 0h0m5 0h0m-4 1h0m-3 0h0m7 0h0m-2 1h0m6 2h0m-2 0h0m-9 5h0m5 0h0m-5 1h0m-2 1h0m9 0h0m0 1h0m-11 1h0m0 1h0m0 1h0m14 3h0m-8 2h0m2 3h0m6 2h0m-10 3h0m-1 1h0m7 1h0m-4 2h0m13-128h0m-2 5h0m-1 12h0m2 3h0m5 0h0m6 9h0m-2 1h0m-5 1h0m5 8h0m-2 1h0m-3 1h0m-3 0h0m6 1h0m1 1h0m-5 0h0m6 2h0m-10 3h0m6 0h0m-3 1h0m4 0h0m6 1h0m-10 3h0m-1 4h0m-2 0h0m4 0h0m-6 3h0m11 1h0m-1 1h0m-8 0h0m4 2h0m7 2h0m-8 1h0m1 1h0m-2 1h0m12 1h0m-2 1h0m-2 0h0m1 0h0m-2 2h0m3 0h0m1 1h0m-12 0h0m11 2h0m-9 1h0m8 1h0m-9 1h0m4 1h0m-7 0h0m8 7h0m-1 2h0m0 0h0m4 1h0m1 3h0m-12 3h0m4 0h0m1 1h0m1 2h0m8 0h0m0 6h0m-11 1h0m-1 1h0m13 1h0m-16 1h0m6 1h0m-2 0h0m-1 4h0m11 0h0m-1 1h0m-11 4h0m12 5h0m-6 0h0m4 1h0m0 1h0m-3 0h0m-8 0h0m7 2h0m8 2h0m15-130h0m-12 15h0m1 2h0m9 2h0m-13 14h0m7 1h0m8 0h0m-2 2h0m-10 2h0m3 0h0m-5 1h0m6 0h0m2 1h0m-6 1h0m10 1h0m-6 3h0m-4 3h0m7 0h0m-1 0h0m7 0h0m-11 2h0m-2 0h0m6 0h0m1 1h0m6 6h0m-10 0h0m5 0h0m5 0h0m-12 2h0m4 1h0m-7 1h0m0 1h0m10 0h0m3 2h0m-3 0h0m-5 1h0m1 1h0m-5 0h0m11 5h0m-12 1h0m1 0h0m3 2h0m5 1h0m2 1h0m-6 1h0m8 0h0m-7 3h0m-4 0h0m10 0h0m-12 4h0m14 1h0m0 1h0m-8 2h0m2 6h0m2 3h0m1 0h0m-9 0h0m-1 1h0m11 1h0m-13 0h0m9 0h0m-8 0h0m9 4h0m4 1h0m-9 3h0m2 1h0m7 4h0m2 1h0m-5 4h0m-7 5h0m6 0h0m4 1h0m-5 2h0m-2 0h0m0 0h0m-2 0h0m7 3h0m-9 1h0m9 1h0m16-131h0m3 0h0m-14 3h0m12 7h0m-7 9h0m6 2h0m-6 2h0m9 1h0m-12 2h0m-2 2h0m2 3h0m7 9h0m-4 2h0m6 1h0m-7 1h0m5 0h0m-2 0h0m5 0h0m-3 4h0m-3 2h0m-2 0h0m10 0h0m-11 4h0m1 1h0m8 1h0m2 2h0m-2 3h0m-12 2h0m13 4h0m-5 1h0m3 2h0m3 2h0m-13 1h0m1 0h0m-2 0h0m3 0h0m4 1h0m8 1h0m-11 1h0m-1 0h0m1 1h0m6 0h0m-5 0h0m3 1h0m-5 0h0m5 0h0m4 5h0m-5 1h0m3 3h0m-9 1h0m3 1h0m4 2h0m0 3h0m-4 0h0m8 1h0m-11 0h0m0 2h0m0 4h0m6 4h0m-6 0h0m13 0h0m-15 2h0m10 1h0m-6 3h0m7 3h0m3 2h0m-4 1h0m-2 1h0m-8 2h0m7 1h0m5 0h0m-9 1h0m8 0h0m1 2h0m-11 4h0m5 1h0m8 3h0m-1 2h0m18-133h0m-13 6h0m4 2h0m0 9h0m5 2h0m-10 2h0m1 4h0m10 6h0m3 10h0m-6 0h0m5 1h0m-11 2h0m-1 0h0m8 0h0m-1 1h0m1 1h0m2 2h0m-12 1h0m7 0h0m6 2h0m3 1h0m-10 1h0m5 1h0m0 1h0m3 1h0m-7 1h0m-3 1h0m2 0h0m-2 1h0m5 1h0m0 1h0m-2 0h0m-2 1h0m1 2h0m7 6h0m1 1h0m-10 0h0m2 1h0m8 4h0m-13 0h0m3 0h0m0 1h0m3 4h0m-3 1h0m0 2h0m12 3h0m-6 2h0m-8 1h0m-2 0h0m16 2h0m-12 1h0m8 0h0m-2 1h0m0 1h0m-9 3h0m8 1h0m5 2h0m2 2h0m-7 0h0m-4 0h0m0 1h0m10 1h0m-7 1h0m-6 2h0m11 2h0m3 0h0m-2 1h0m-12 5h0m6 1h0m-3 0h0m6 0h0m-8 3h0m7 4h0m2 1h0m-5 1h0m-6 1h0m11 7h0m1 9h0m9-144h0m8 2h0m-12 6h0m2 2h0m10 7h0m-4 0h0m5 7h0m-6 3h0m4 7h0m-13 5h0m13 0h0m2 1h0m-12 0h0m6 2h0m-4 1h0m6 1h0m4 1h0m-10 3h0m2 5h0m0 1h0m4 1h0m5 1h0m-6 4h0m-7 0h0m5 1h0m-6 0h0m2 1h0m0 0h0m6 3h0m-4 1h0m-2 0h0m-2 2h0m9 0h0m3 1h0m-13 1h0m5 3h0m-3 1h0m4 0h0m7 1h0m-8 1h0m2 0h0m-8 0h0m11 2h0m-1 0h0m5 3h0m-6 1h0m-4 3h0m10 4h0m-12 0h0m-2 3h0m11 2h0m-2 1h0m-6 1h0m9 1h0m-13 2h0m8 0h0m5 1h0m-4 2h0m0 2h0m1 1h0m-3 1h0m-4 2h0m1 1h0m2 4h0m6 0h0m-1 1h0m2 2h0m-11 1h0m9 3h0m-9 0h0m-1 2h0m3 0h0m12 4h0m-8 0h0m-1 3h0m-6 1h0m0 1h0m3 4h0m11 1h0m-7 2h0m-1 0h0m8 0h0m-1 12h0m15-149h0m-1 22h0m3 0h0m-9 2h0m0 2h0m-5 3h0m14 6h0m-3 3h0m-11 6h0m3 0h0m-1 1h0m8 0h0m-2 0h0m5 1h0m-6 1h0m-7 1h0m14 1h0m-10 1h0m5 3h0m0 1h0m-6 0h0m4 3h0m0 2h0m6 2h0m-13 1h0m8 2h0m-5 0h0m-2 2h0m12 0h0m-3 1h0m-11 0h0m6 1h0m-1 0h0m3 1h0m6 0h0m-2 1h0m0 2h0m-12 1h0m4 0h0m9 1h0m0 0h0m-11 2h0m5 2h0m-2 0h0m2 1h0m8 2h0m-11 0h0m5 4h0m-5 0h0m8 1h0m-4 0h0m7 1h0m-12 0h0m8 7h0m2 2h0m-1 2h0m-12 0h0m2 1h0m-2 1h0m6 4h0m7 3h0m0 7h0m-10 3h0m11 2h0m1 1h0m-9 3h0m1 3h0m-1 1h0m-4 0h0m10 0h0m-11 1h0m8 2h0m-3 2h0m3 2h0m-2 1h0m1 0h0m1 0h0m2 1h0m4 1h0m-11 0h0m11 1h0m-2 0h0m-2 2h0m2 5h0m-12 3h0m17-141h0m11 7h0m-11 8h0m0 6h0m10 1h0m3 7h0m-1 2h0m-7 0h0m5 3h0m2 1h0m-1 2h0m-5 1h0m-4 0h0m2 0h0m3 1h0m-5 1h0m-4 0h0m14 2h0m-5 1h0m2 2h0m1 0h0m-10 1h0m-1 1h0m3 2h0m0 1h0m4 2h0m-3 1h0m3 0h0m-3 0h0m-2 1h0m-2 1h0m7 5h0m-1 1h0m1 2h0m6 0h0m0 0h0m-12 2h0m6 0h0m7 1h0m0 1h0m-2 1h0m2 1h0m-13 0h0m2 2h0m3 1h0m4 0h0m-6 2h0m-3 3h0m13 0h0m-12 0h0m3 4h0m2 0h0m-6 0h0m12 2h0m-3 3h0m2 4h0m-8 0h0m-2 0h0m4 0h0m-3 2h0m-2 1h0m7 4h0m-7 0h0m12 3h0m-1 3h0m-12 1h0m3 0h0m11 2h0m1 1h0m-4 2h0m-5 2h0m1 1h0m5 5h0m2 1h0m-6 1h0m-6 1h0m-1 0h0m13 1h0m-3 0h0m-4 1h0m-2 0h0m4 1h0m-5 4h0m7 3h0m-12 1h0m9 0h0m-9 2h0m0 9h0m2 1h0m20-145h0m-1 1h0m7 6h0m-10 7h0m0 1h0m14 1h0m-11 4h0m6 1h0m-8 1h0m6 0h0m-7 12h0m1 0h0m2 1h0m10 0h0m0 2h0m-3 2h0m3 1h0m-11 3h0m5 1h0m-3 1h0m1 0h0m0 1h0m1 0h0m-7 1h0m11 0h0m-10 1h0m2 2h0m11 5h0m-6 0h0m-7 3h0m10 1h0m-4 1h0m4 1h0m1 0h0m0 3h0m-1 0h0m-6 2h0m0 1h0m10 0h0m-12 1h0m4 1h0m1 1h0m-6 0h0m7 0h0m-8 2h0m10 2h0m-8 7h0m1 0h0m6 0h0m-6 0h0m5 3h0m-4 0h0m-3 0h0m12 3h0m-13 1h0m8 4h0m-10 1h0m15 0h0m-2 1h0m0 0h0m2 0h0m-10 0h0m-1 3h0m7 1h0m-4 2h0m-2 1h0m-4 3h0m10 5h0m-10 2h0m7 4h0m-1 2h0m6 0h0m-9 0h0m-2 3h0m7 0h0m-2 1h0m-4 1h0m12 0h0m-3 4h0m-1 0h0m-4 1h0m3 1h0m2 5h0m-12 1h0m13 6h0m3 6h0m12-149h0m-2 0h0m-9 4h0m13 2h0m0 12h0m-13 0h0m2 2h0m9 12h0m-8 4h0m3 0h0m-1 1h0m6 0h0m-3 4h0m6 1h0m0 1h0m-7 1h0m-4 0h0m5 1h0m-1 2h0m5 1h0m-2 1h0m1 2h0m0 0h0m-2 1h0m-7 0h0m12 1h0m0 3h0m-7 2h0m3 1h0m-8 3h0m-2 0h0m0 2h0m3 2h0m3 2h0m-2 1h0m-4 2h0m14 0h0m-6 2h0m4 1h0m-5 0h0m-4 1h0m-3 0h0m6 0h0m1 3h0m-2 4h0m-2 2h0m10 3h0m-11 1h0m7 2h0m-1 0h0m-6 1h0m11 4h0m-2 0h0m-5 0h0m0 1h0m-5 0h0m8 0h0m0 6h0m-8 1h0m-1 1h0m4 5h0m6 1h0m-6 0h0m4 1h0m5 10h0m-13 2h0m-1 1h0m16 0h0m-4 1h0m-8 1h0m9 1h0m-5 1h0m2 0h0m-3 1h0m-4 14h0m21-138h0m4 5h0m-10 2h0m4 2h0m-5 1h0m8 10h0m4 1h0m1 6h0m-5 6h0m-1 0h0m-7 1h0m1 0h0m2 1h0m9 2h0m0 2h0m-11 1h0m8 0h0m-4 2h0m5 0h0m-8 0h0m4 4h0m0 1h0m3 3h0m-7 1h0m2 1h0m4 1h0m-3 1h0m5 1h0m-1 1h0m3 2h0m-13 1h0m15 2h0m0 1h0m-7 0h0m-1 1h0m-2 0h0m9 1h0m-5 1h0m-8 0h0m2 1h0m10 1h0m-8 2h0m9 0h0m-2 0h0m3 1h0m-1 0h0m-3 5h0m-10 1h0m6 2h0m8 2h0m-5 3h0m-6 2h0m7 1h0m-7 3h0m3 2h0m-4 2h0m4 1h0m-4 0h0m5 1h0m-8 2h0m8 2h0m1 1h0m-4 0h0m10 0h0m-7 7h0m-2 1h0m-4 0h0m4 1h0m5 2h0m-10 0h0m14 1h0m-4 0h0m2 7h0m0 1h0m19-125h0m-8 0h0m-4 3h0m4 5h0m-3 24h0m3 4h0m-5 2h0m10 0h0m-6 1h0m8 0h0m-5 1h0m-8 1h0m6 0h0m4 1h0m2 2h0m-12 4h0m14 0h0m-12 1h0m5 0h0m-4 0h0m4 0h0m1 0h0m-5 1h0m7 0h0m-2 1h0m3 1h0m-1 0h0m-10 2h0m1 0h0m2 2h0m-4 1h0m15 0h0m-13 1h0m6 1h0m-1 2h0m-7 1h0m11 0h0m-7 1h0m3 9h0m7 2h0m-10 0h0m0 2h0m3 1h0m8 0h0m-4 5h0m1 0h0m-1 0h0m-3 0h0m-2 1h0m-4 1h0m-1 0h0m4 1h0m8 2h0m-5 1h0m3 2h0m-12 1h0m2 4h0m12 4h0m-3 0h0m3 0h0m-10 9h0m12 1h0m-11 1h0m4 1h0m-2 0h0m-4 2h0m-2 0h0m11 1h0m-6 1h0m3 0h0m-2 1h0m3 1h0m4 1h0m-13 4h0m5 1h0m5 1h0m14-124h0m3 26h0m-8 2h0m2 2h0m4 8h0m-5 2h0m4 0h0m-7 2h0m0 0h0m14 2h0m-1 0h0m-5 2h0m-4 2h0m-4 1h0m10 1h0m-9 0h0m9 2h0m-8 0h0m8 5h0m-10 0h0m11 2h0m-4 0h0m6 0h0m-1 0h0m-10 2h0m9 0h0m-1 3h0m-5 0h0m-5 0h0m-1 1h0m-1 4h0m7 0h0m1 1h0m3 1h0m5 0h0m-12 1h0m-3 1h0m5 1h0m4 0h0m1 0h0m1 0h0m2 0h0m-7 1h0m7 0h0m-4 2h0m-1 5h0m3 0h0m-12 1h0m4 3h0m-3 1h0m3 2h0m4 2h0m-3 3h0m-1 0h0m12 0h0m-12 1h0m6 4h0m-9 0h0m14 0h0m-12 1h0m2 0h0m2 1h0m7 3h0m-3 0h0m-9 6h0m7 0h0m-2 1h0m7 2h0m-13 4h0m12 2h0m-1 2h0m7-121h0m13 5h0m-3 9h0m0 0h0m-7 4h0m1 0h0m1 19h0m1 1h0m3 0h0m-4 0h0m-5 2h0m11 1h0m-10 0h0m10 1h0m-7 0h0m1 2h0m-4 1h0m-4 1h0m13 0h0m-4 0h0m-9 3h0m10 3h0m5 2h0m-9 0h0m-2 4h0m11 0h0m-14 1h0m4 0h0m-3 5h0m13 0h0m-7 0h0m-6 1h0m0 1h0m10 0h0m1 4h0m2 0h0m-4 0h0m-8 0h0m3 1h0m2 0h0m-4 2h0m8 1h0m-8 0h0m-1 5h0m5 1h0m0 3h0m0 0h0m6 0h0m-6 1h0m-2 3h0m8 1h0m-13 0h0m13 1h0m-12 2h0m9 2h0m5 2h0m-15 0h0m10 0h0m-6 1h0m9 1h0m-8 1h0m-3 5h0m-1 3h0m1 2h0m6 7h0m-6 0h0m-1 1h0m10 0h0m-8 1h0m8 0h0m-3 1h0m-3 1h0m8 1h0m-1 1h0m16-120h0m-6 4h0m3 1h0m-8 7h0m9 4h0m-3 0h0m5 2h0m-11 14h0m9 4h0m-5 5h0m6 1h0m2 2h0m-10 2h0m5 1h0m7 1h0m-3 0h0m-11 1h0m1 1h0m-1 1h0m11 2h0m3 0h0m-15 5h0m3 1h0m10 1h0m-2 2h0m-9 2h0m-3 1h0m1 0h0m5 0h0m2 1h0m-8 1h0m14 0h0m-5 1h0m5 0h0m-14 0h0m5 1h0m5 2h0m-1 1h0m2 0h0m-6 0h0m1 2h0m9 1h0m-6 0h0m-4 1h0m11 4h0m-10 1h0m-2 1h0m6 2h0m1 2h0m-8 2h0m11 1h0m-12 2h0m5 0h0m-1 2h0m7 0h0m-1 2h0m1 2h0m3 0h0m-14 1h0m13 1h0m-9 3h0m-1 0h0m6 3h0m-2 0h0m-9 0h0m12 2h0m-4 1h0m-5 3h0m9 3h0m-4 0h0m-6 1h0m8 2h0m-7 0h0m12 3h0m16-108h0m-10 1h0m2 10h0m-6 7h0m14 1h0m-6 1h0m-9 5h0m5 0h0m2 1h0m0 0h0m-3 2h0m1 0h0m-3 2h0m12 0h0m0 0h0m-5 4h0m-5 1h0m-1 0h0m7 1h0m-8 0h0m-2 2h0m11 2h0m5 0h0m-9 0h0m-3 3h0m8 1h0m1 1h0m3 2h0m-6 0h0m1 1h0m-9 0h0m9 2h0m-9 1h0m12 2h0m0 3h0m-5 0h0m5 0h0m-9 1h0m2 1h0m8 2h0m-7 0h0m1 1h0m-1 0h0m4 4h0m-10 2h0m11 2h0m-8 1h0m-1 1h0m4 1h0m-7 0h0m4 2h0m9 1h0m-14 2h0m11 2h0m-2 0h0m-2 0h0m5 1h0m-11 0h0m2 1h0m6 0h0m2 1h0m-10 3h0m15 1h0m-6 0h0m-10 1h0m12 1h0m-7 1h0m8 1h0m-11 0h0m9 1h0m1 4h0m-6 1h0m8 3h0m-6 2h0m-4 1h0m2 2h0m11-113h0m13 5h0m-8 0h0m2 17h0m-2 12h0m-4 5h0m0 6h0m-2 0h0m7 2h0m-4 0h0m2 1h0m-1 1h0m-3 1h0m1 0h0m2 1h0m3 2h0m-4 3h0m1 2h0m1 1h0m-5 6h0m6 3h0m-2 2h0m-3 5h0m3 4h0m2 1h0m-3 0h0m5 1h0m-5 2h0m4 5h0m-4 2h0m1 1h0m-3 4h0m3 1h0m2 11h0m-4 1h0m6 5h0m-3 4h0" stroke="#00ff00" stroke-width="5.2" stroke-linecap="round" fill="none"/>
<path transform="scale(.5)" d="M116 1405l3-1 3-1 3 1 3-2 3 0 3 2 3-1 3-3 3 5 3 0 3 1 3-4 3 3 3 3 3-2 3 0 3 2 3-1 3-1 3-1 3 1 3-1 3 1 3-6 3 5 3-6 3 3 3 1 3-2 3 4 3-2 3 0 3 4 3 0 3-4 3 6 3-4 3 0 3 0 3-4 3 2 3 0 3 3 3-1 3 1 3-3 3 3 3-6 3 7 3 1 3-1 3 2 3 0 3-5 3 7 3-2 3-2 3-1 3 3 3-4 3 2 3 2 3-5 3 3 3 2 3 1 3-2 3 3 3 0 3-1 3 3 3 0 3-3 3 5 3-1 3-2 3 0 3 4 3 0 3-4 3 0 3-1 3 3 3 1 3 1 3-3 3 3 3 2 3 1 3-1 3 0 3 1 3 0 3 2 3 2 3 0 0 12-3-1-3-1-3-1-3-2-3 5-3-6-3 1-3 0-3-3-3-1-3 1-3-1-3 6-3-5-3 1-3-1-3 1-3 0-3-1-3-1-3 4-3 0-3-6-3 0-3 1-3-1-3-3-3 1-3-3-3 2-3 1-3-1-3-2-3 1-3 6-3-3-3 4-3-6-3 1-3-1-3 7-3-7-3 1-3-1-3 5-3-7-3 3-3 3-3-4-3-3-3 1-3-1-3 7-3 0-3-1-3-5-3 2-3 0-3 5-3 0-3-6-3 2-3 5-3-6-3 2-3-3-3 4-3-5-3 2-3-4-3 6-3-7-3 2-3-1-3 1-3 6-3-3-3 0-3-1-3 2-3-1-3-3-3-1-3 0-3-1-3 3-3 0-3-5-3 1-3-1-3 1-3 0-3 2-3 1-3-3-3 4zM402 1408l3-5 3 1 3 2 3-2 3-5 0 20-3-3-3-1-3 6-3-3-3 4zM420 1392l3-2 3-1 3 2 3-4 3 6 3 0 3-1 3 2 3-2 3 3 3 1 3 0 3-3 3 4 3-1 3-2 3 0 3 1 3-2 3 3 3 3 3 2 3-2 3-3 3 2 3 6 3-3 3-4 3 3 3 8 3-5 3-7 3 5 3 9 3-9 3-8 3 9 3 7 3-11 3-11 3 18 3-6 3-8 3 18 3 1 3 0 3-7 3 3 3 5 3-1 3 1 3-4 3 4 3 1 3 0 3-6 3-2 3-1 3-6 3-2 3 7 3-5 3 7 3 1 3 1 3 1 3 0 3-3 3 4 3-7 3 8 3-2 3-2 3 4 3-4 3-3 3-3 3 8 3-1 3 0 3-1 3-4 3 5 3-2 3 0 3 2 3 2 3-1 3 0 3 2 3-5 3-1 3 2 3-1 3 3 3 0 3-2 3 0 3-5 3 5 3-3 3-3 3 6 3 0 3-3 3-3 3 8 3-3 3 0 3 3 3-6 3 6 3-3 3 2 3-8 3 3 3 0 3-3 3 3 3 3 3-4 3 4 3-4 3 5 3-6 3 6 3 1 3-3 3 5 3-4 3 4 3-5 3 5 3-1 3-10 3 3 3-4 3-1 3 0 3 0 3-1 3 4 3 0 3-5 3 6 3-5 3 5 3 2 3 5 3 0 3-2 3 3 3-1 3 0 3-5 3 3 3 1 3-6 3 2 3 4 3-3 3 2 3-4 3 5 3 2 3-8 3 10 3 0 3-5 3-1 3 0 3 7 3-1 3-1 3-6 3 0 3-1 3-3 3 8 3-4 3 3 3-4 3 1 3 1 3 4 3-1 3 1 3-1 3 2 3-2 3 2 3-3 3 2 3-3 3-1 3 3 3-5 3-3 3 2 3-2 3 0 3 7 3-4 3 5 3-4 3 4 3-3 3 0 3 4 3 2 3-3 3 3 3-6 3 5 3-9 3 2 3-2 3-1 3 2 3-1 3-3 3 1 3-5 3 4 3 6 3 1 3 5 3-3 3 2 3 0 3-1 3 0 3-3 3-4 3 7 3 0 3-7 3 6 3-6 3 5 3 1 3-4 3 3 3-5 3 6 3 0 3 2 3-1 3 1 3-4 3 5 3-1 3-6 3 4 3-5 3 5 3-9 3 4 3 1 3-7 3 9 3 0 3-8 3 9 3 1 3-5 3 5 3 1 3-9 3 8 3 0 3 1 3-4 3-3 3-1 3 0 3-8 3 7 3-1 3 2 3-2 3 2 3 1 3-3 3-1 3-3 3 3 3-3 3 7 3-2 3-5 3 8 3-6 3 6 3 7 3-6 3 5 3-7 3 4 3-5 3 6 3 2 3 1 3 0 3 1 3 0 3 0 3 1 3 0 3-1 3 2 3 0 3 0 3-2 3-1 3-3 3 4 3-1 3-6 3-1 3 5 3-3 3 1 3 1 3 4 3 1 3-7 3 8 3-1 3-2 3 0 3-1 3-3 3 5 3-5 3-2 3 5 3-4 3 3 3-1 3 1 3-7 3 4 3 2 3 3 3 3 3-2 3 2 3-7 3 6 3 2 3-1 3 1 3-3 3 1 3-7 3 6 3-2 3-2 3-5 3 5 3-2 3-1 3 5 3-3 3-1 3 3 3 3 3-6 3 6 3-5 3 5 3-1 3-4 3 1 3-4 3 3 3-2 3-3 3 7 3 1 3-7 3 6 3 2 3-7 3 1 3 7 3-4 3 2 3 3 3-2 3-2 3 0 3-1 3 3 3 0 3-3 3 2 3 0 3-6 3 7 3-1 3 0 3-2 3 4 3-7 3 7 3-4 3-1 3 5 3 1 3-1 3 1 3-8 3-1 3 4 3 1 3 0 3-2 3 2 3-7 3 7 3-1 3 2 3 0 3 0 3 0 3 1 3 1 3-4 3 4 3-1 3 0 3-3 3 1 3 0 3-1 3 0 3-7 3 2 3 5 3 0 3 0 3-3 3 4 3 2 3-6 3-2 3-2 3 1 3 1 3 0 3 1 3 11 3-8 3 7 3-1 3-1 3-1 3 3 3-1 3 0 3-3 3 4 3 0 3 2 3 0 3 0 3 0 3-3 3 1 3 2 3 0 3 1 3-1 3-4 3 1 3 0 3-2 3 1 3-2 3 0 3 2 3-1 3-3 3 4 3-1 3-2 3-1 3-4 3 6 3 0 3-2 3-6 3 7 3-3 3 1 3 0 3 0 3-4 3-2 3 4 3-3 3 1 3 4 3-8 3 8 3-4 3 4 3 4 3-7 3 1 3 4 3 1 3-1 3 1 3-1 3-2 3-3 3 5 3-2 3-4 3-2 3 9 3-3 3 3 3 1 3-6 3-4 3 8 3-1 3-4 3 4 3-4 3 3 3 0 3-6 3 4 3-1 3-7 3 3 3 7 3 1 3 0 3-3 3 3 3-5 3 4 3 0 3 0 3-3 3 5 3-7 3 6 3-8 3 5 3-2 3 2 3 0 3 2 3-2 3 0 3 0 3 3 3-6 3 6 3 2 3 3 3-1 3 6 3 0 3 5 3-2 3 0 3-12 3-1 3-3 3-9 3-3 3-3 3-2 3 12 3 4 3 3 3-7 3 5 3 1 3 2 3-6 3 6 3 1 3-2 3 2 3-12 3 10 3-5 3 5 3-2 3-3 3 3 3-2 3 5 3 0 3-3 3 4 3 0 3-4 3 3 3 2 3-8 3 2 3 7 3-2 3 3 3-5 3 2 3-3 3-3 3 0 3 7 3 0 3 0 3 3 3-6 3 0 3 7 3 3 3 0 3-4 3 3 3-1 3-8 3 5 3-8 3 1 3-8 3-3 3 10 3 0 3-3 3 3 3 0 3 0 3 1 3-5 3 6 3 0 3 1 3-9 3 8 3 1 3 0 3-7 3 2 3 2 3 1 3-9 3 7 3-3 3 3 3 1 3-3 3-2 3 0 3 0 3 5 3 1 3-7 3-2 3 11 3-7 3 2 3-4 3 1 3-5 3 6 3-3 3-3 3 12 3 0 3 0 3-1 3 4 3 0 3-2 3 3 3 1 3 1 3-11 3 1 3 3 3 2 3 1 3 1 3-13 3 6 3 4 3 0 3-1 3 0 3-6 3-6 3 11 3 1 3 0 3-3 3-3 3 6 3-1 3-2 3 0 3 2 3-4 3 3 3-1 3-5 3-2 3 1 3 0 3 5 3-2 3-2 3 4 3-2 3-9 3 7 3 4 3-2 3 2 3-1 3 2 3-6 3 1 3 0 3 3 3-1 3-4 3-1 3 3 3 0 3 1 3-3 3 3 3 0 3 2 3-1 3-1 3 3 3-4 3 0 3-6 3-6 3 14 3-13 3 13 3-1 3-5 3 4 3 0 3 0 3-2 3 3 3-10 3 11 3-20 3 17 3 5 3 11 3 0 3 2 3-9 3 8 3-3 3 0 3 0 3 2 3-6 3 2 3 1 3 1 3 0 3 1 3-4 3 1 3-10 3 8 3 3 3-1 3-2 3 2 3 0 3-7 3 6 3-3 3-4 3 6 3-8 3-2 3 9 3-1 3-6 3 4 3-3 3 6 3-2 3 2 3 2 3 1 3-5 3 4 3-3 3 0 3-7 3 6 3-2 3-3 3 0 0 17-3 2-3 5-3-3-3 4-3-3-3 0-3 2-3 0-3 2-3 4-3-5-3 5-3-6-3 1-3 1-3-1-3 1-3-3-3 4-3 7-3-5-3 0-3-4-3 2-3 6-3-1-3-4-3-2-3 2-3-2-3 0-3-1-3 8-3 6-3-6-3-3-3 0-3 2-3 6-3-5-3 6-3-7-3 6-3-1-3 3-3-8-3 1-3 0-3 6-3-4-3 8-3-3-3 7-3-9-3-3-3-1-3 4-3-6-3 4-3-4-3 1-3 15-3-9-3-3-3-2-3 18-3-13-3-10-3-5-3 11-3-11-3 5-3-1-3 2-3 3-3-3-3-3-3-2-3 3-3 7-3-9-3-1-3 1-3-2-3 2-3 3-3 2-3 7-3-9-3-3-3 5-3 1-3-7-3-1-3 9-3 3-3-12-3 4-3 0-3-3-3 2-3-2-3 1-3 1-3 1-3 8-3-5-3-3-3 1-3-1-3 3-3 4-3-7-3 11-3-2-3-9-3 1-3-3-3 3-3 1-3-1-3-1-3 2-3 4-3-2-3 4-3-4-3 0-3 4-3-4-3 1-3 0-3 6-3 1-3-12-3 1-3-2-3 2-3 4-3-2-3-1-3 7-3-9-3 1-3 1-3 4-3 1-3-7-3 1-3-1-3 2-3-3-3 2-3-5-3 7-3-3-3-1-3 0-3 1-3 4-3-5-3 2-3 3-3-2-3 2-3-7-3 8-3-7-3 8-3-9-3 0-3-1-3 4-3-4-3 4-3 2-3-8-3 6-3-1-3 5-3-8-3 1-3 3-3 5-3 0-3 0-3 2-3 0-3 3-3-2-3 0-3 3-3-5-3-1-3-1-3-1-3 1-3 3-3 1-3-5-3 0-3 4-3 6-3-3-3-7-3 6-3 2-3-7-3 0-3 4-3 4-3-11-3 5-3 5-3-12-3 0-3 7-3-6-3 5-3-4-3 1-3-3-3 2-3 0-3 6-3-6-3-1-3 5-3-4-3 4-3-5-3 5-3-6-3 0-3-2-3-7-3-6-3 11-3 2-3-1-3 2-3 10-3 6-3-4-3 6-3-8-3 3-3-4-3-5-3-4-3-1-3-1-3 1-3 2-3-4-3 8-3-3-3-1-3-3-3 0-3 1-3 1-3-1-3 3-3-2-3 8-3-7-3 0-3-1-3-1-3 1-3 0-3-3-3 9-3-5-3 2-3-3-3-4-3-1-3 4-3 5-3-4-3 0-3-1-3 5-3-5-3 0-3-1-3-1-3 6-3 0-3 4-3-4-3-1-3 3-3-3-3 6-3-6-3 2-3 5-3-6-3-1-3 3-3 5-3-7-3 3-3-2-3-6-3-1-3 1-3-2-3 0-3 1-3 6-3-2-3 0-3-5-3 0-3 0-3 2-3 8-3-2-3 2-3 0-3 0-3-2-3-2-3 5-3 1-3 0-3-2-3-6-3 3-3 0-3-1-3-2-3 2-3 0-3 1-3 2-3-3-3 2-3 1-3 5-3-5-3 3-3 4-3-7-3 1-3 0-3 3-3 1-3-6-3 2-3-4-3 1-3 3-3-1-3-3-3 7-3-3-3 3-3 1-3-13-3 1-3 1-3 6-3-7-3-1-3 3-3 4-3-3-3 7-3-9-3 6-3-7-3 2-3-1-3 2-3 1-3 1-3-3-3 6-3 0-3 3-3-3-3-4-3 1-3 6-3-9-3 1-3-1-3 0-3 4-3-4-3 0-3 1-3-2-3 1-3 1-3 1-3 0-3 0-3 2-3 1-3-2-3 8-3-2-3-5-3-2-3 0-3-1-3 0-3 2-3 2-3-4-3 4-3-4-3 4-3 0-3-4-3 3-3-2-3 1-3 3-3 2-3-5-3 5-3-4-3 3-3 4-3-8-3 1-3-2-3 5-3-7-3 1-3 0-3 6-3-6-3 7-3-6-3 6-3 0-3-4-3-2-3 2-3-2-3 4-3 2-3-1-3-7-3 4-3-4-3 6-3-7-3 7-3-8-3 9-3-3-3 5-3-2-3-2-3 4-3-3-3 2-3 0-3-3-3-1-3 1-3-1-3 1-3 3-3-7-3-3-3 6-3-6-3 1-3 0-3 1-3 6-3-5-3 7-3 0-3 0-3-3-3-1-3 0-3-1-3 3-3-1-3-1-3-3-3 1-3 4-3 0-3-2-3-3-3 7-3-4-3 6-3-4-3 1-3-1-3-2-3 4-3-5-3 4-3-3-3 0-3 0-3-1-3-2-3 0-3 4-3-5-3 3-3-2-3 0-3-1-3 3-3 0-3 3-3-8-3 2-3-3-3 6-3-4-3 7-3-10-3 2-3-3-3 9-3-8-3-2-3 3-3 2-3-4-3 9-3-7-3 11-3-9-3 2-3 3-3 3-3-6-3 7-3-5-3-3-3 1-3 1-3-2-3 0-3 0-3-1-3 5-3-4-3 2-3 3-3-5-3 8-3-2-3 4-3-5-3 4-3-6-3 0-3 7-3-7-3-1-3 2-3 0-3-3-3 3-3 0-3-3-3 3-3-3-3 0-3 10-3-9-3 0-3 1-3 1-3 1-3-1-3 6-3-7-3-1-3 1-3-2-3 0-3-2-3 3-3 7-3-8-3-2-3 5-3-2-3 6-3-9-3 0-3 4-3 2-3 1-3-2-3-1-3 2-3-2-3-1-3 1-3 5-3-5-3 7-3-7-3-2-3 5-3-1-3-5-3 3-3 3-3-4-3 0-3 5-3-2-3-2-3 2-3 0-3-2-3 2-3-1-3-2-3 1-3-2-3 5-3-5-3 5-3 4-3-6-3-1-3-1-3 3-3-2-3 9-3-7-3 0-3 0-3 7-3-9-3 7-3-7-3-4-3-3-3 5-3-5-3 0-3 0-3 1-3 0-3 3-3 5-3-8-3 4-3-3-3 1-3-1-3 6-3-6-3-1-3 6-3 3-3-3-3-7-3 4-3-1-3 0-3 0-3-3-3-1-3 1-3 2-3 0-3 2-3 1-3 4-3-4-3 2-3-1-3 4-3 0-3-4-3-3-3-1-3 0-3 0-3-1-3 3-3 1-3 2-3-5-3 5-3 2-3-3-3-2-3-1-3 4-3-1-3-1-3 1-3 3-3-3-3 3-3-8-3 3-3-2-3 2-3 3-3-1-3 0-3 4-3-7-3 2-3 0-3 2-3-1-3 0-3 5-3-3-3-2-3 1-3-3-3 8-3-8-3 1-3 0-3-1-3-1-3 2-3 4-3-3-3-1-3 1-3 5-3-3-3 3-3-1-3-4-3 2-3-1-3-2-3 3-3-2-3 3-3-4-3 0-3 0-3-2-3 0-3 13-3-8-3 6-3-2-3-2-3 3-3-2-3 1-3-1-3 1-3 0-3 4-3-3-3 2-3-6-3-24-3 5-3 8-3-19-3 13-3 15-3-10-3-11-3 7-3 9-3-6-3-8-3 6-3 4-3-5-3-4-3 2-3 4-3-4-3 0-3-1-3 4-3-3-3-2-3 2-3 0-3-3-3 1-3 1-3 3-3-4-3 1-3-2-3-1-3 5-3-5-3 2-3-3-3 0-3-2-3 3-3-2-3 19-3 7z" fill="#ff0000"/>
<text x="58.5" y="830.8" class="tl" text-anchor="middle">0</text>
<text x="354.3" y="830.8" class="tl" text-anchor="middle">5</text>
<text x="650.1" y="830.8" class="tl" text-anchor="middle">10</text>
<text x="945.9" y="830.8" class="tl" text-anchor="middle">15</text>
<text x="1241.7" y="830.8" class="tl" text-anchor="middle">20</text>
<text x="1537.5" y="830.8" class="tl" text-anchor="middle">25</text>
<text x="53.4" y="610.2" class="tl" text-anchor="end">4</text>
<text x="53.4" y="661.4" class="tl" text-anchor="end">2</text>
<text x="53.4" y="712.6" class="tl" text-anchor="end">0</text>
<text x="53.4" y="763.8" class="tl" text-anchor="end"><tspan class="mn">−</tspan>2</text>
<text x="53.4" y="815.0" class="tl" text-anchor="end"><tspan class="mn">−</tspan>4</text>
<text x="798" y="598.9" class="ti" text-anchor="middle">C37 Clock Residual</text>
<text x="798" y="852.8" class="xl" text-anchor="middle">Time (Hour)</text>
<text transform="translate(31.9 706.4) rotate(-90)" x="0" y="0" class="xl" text-anchor="middle">Clock Residual (ns)</text>
<rect x="1333.8" y="604.1" width="194.3" height="42.4" fill="#fff" stroke="#969696" stroke-width="1"/>
<circle cx="1347.9" cy="614.9" r="1.4" fill="#00ff00"/>
<circle cx="1347.9" cy="635.9" r="1.4" fill="#ff3030"/>
<text y="620.2" class="lg"><tspan x="1361">SGL+ISL</tspan><tspan class="cc" x="1419.2" dy="0.5">：</tspan><tspan x="1436.2" dy="-0.5">RMS= 0.38ns</tspan></text>
<text y="641.6" class="lg"><tspan x="1361">WNA</tspan><tspan class="cc" x="1392.6" dy="0.5">：</tspan><tspan x="1410.2" dy="-0.5">RMS= 0.12ns</tspan></text>
</svg></body></html>
